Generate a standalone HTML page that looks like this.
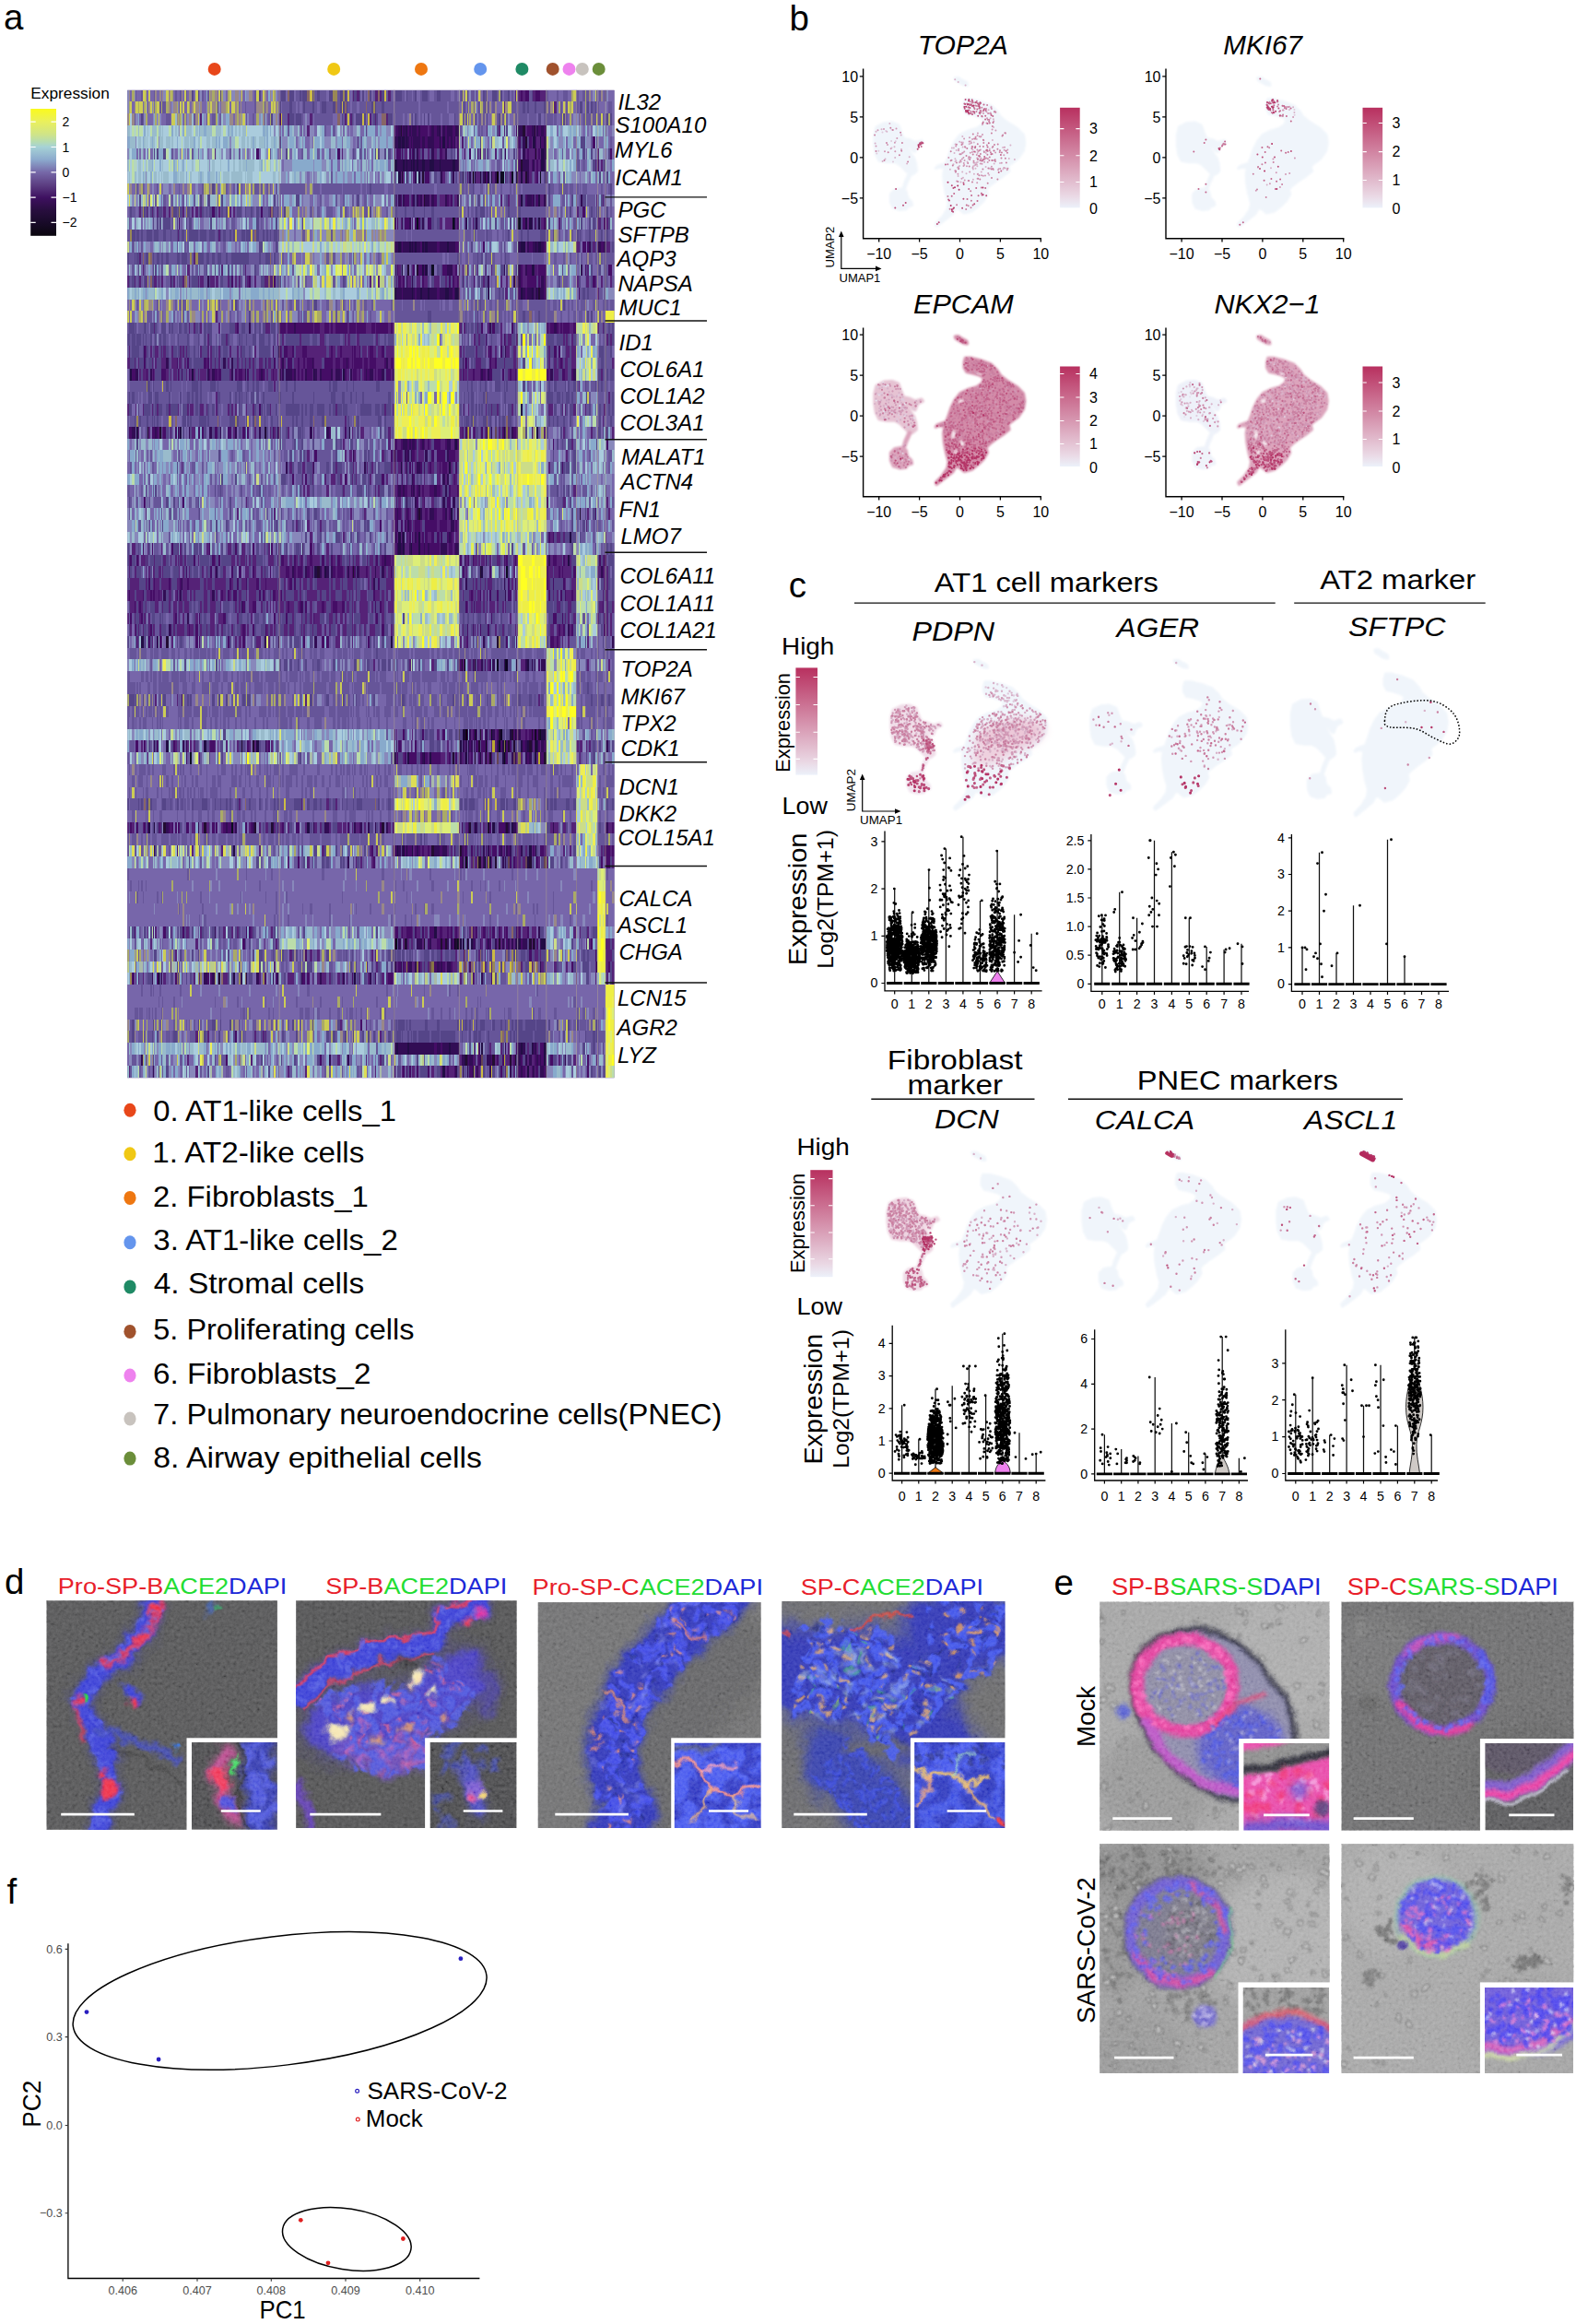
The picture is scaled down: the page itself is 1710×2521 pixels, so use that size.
<!DOCTYPE html>
<html lang="en"><head><meta charset="utf-8"><title>Figure</title>
<style>
html,body{margin:0;padding:0;background:#fff}
body{width:1710px;height:2521px;overflow:hidden}
svg{display:block;font-family:'Liberation Sans', Arial, sans-serif}
</style></head><body>
<svg width="1710" height="2521" viewBox="0 0 1710 2521">
<rect width="1710" height="2521" fill="#fff"/>
<g id="panel_a">
<text x="4" y="31.7" font-size="38.5">a</text>
<circle cx="232.7" cy="74.9" r="7" fill="#e8471a"/>
<circle cx="362.2" cy="74.9" r="7" fill="#f0c814"/>
<circle cx="457" cy="74.9" r="7" fill="#ee7711"/>
<circle cx="521.2" cy="74.9" r="7" fill="#6495ed"/>
<circle cx="566.4" cy="74.9" r="7" fill="#1f8a65"/>
<circle cx="599.7" cy="74.9" r="7" fill="#a0522d"/>
<circle cx="617.5" cy="74.9" r="7" fill="#ee82ee"/>
<circle cx="631.8" cy="74.9" r="7" fill="#c8c3be"/>
<circle cx="649.7" cy="74.9" r="7" fill="#6b8e3a"/>
<text x="33.3" y="106.9" font-size="17.3">Expression</text>
<defs><linearGradient id="hg" x1="0" y1="0" x2="0" y2="1">
<stop offset="0.000" stop-color="#fafa1c"/>
<stop offset="0.100" stop-color="#eaf05c"/>
<stop offset="0.200" stop-color="#d0e487"/>
<stop offset="0.260" stop-color="#b6dcb2"/>
<stop offset="0.300" stop-color="#a6d2d6"/>
<stop offset="0.400" stop-color="#8caacd"/>
<stop offset="0.500" stop-color="#7668a8"/>
<stop offset="0.600" stop-color="#5c3e82"/>
<stop offset="0.700" stop-color="#3e1060"/>
<stop offset="0.800" stop-color="#280e3e"/>
<stop offset="0.900" stop-color="#180a28"/>
<stop offset="1.000" stop-color="#0a060e"/>
</linearGradient></defs>
<rect x="33.2" y="118" width="27.8" height="137.8" fill="url(#hg)"/>
<path d="M33.2 132.2h5.5M55.5 132.2h5.5" stroke="#fff" stroke-width="1.2"/>
<text x="67.6" y="137.2" font-size="14">2</text>
<path d="M33.2 159.5h5.5M55.5 159.5h5.5" stroke="#fff" stroke-width="1.2"/>
<text x="67.6" y="164.5" font-size="14">1</text>
<path d="M33.2 186.8h5.5M55.5 186.8h5.5" stroke="#fff" stroke-width="1.2"/>
<text x="67.6" y="191.8" font-size="14">0</text>
<path d="M33.2 214.1h5.5M55.5 214.1h5.5" stroke="#fff" stroke-width="1.2"/>
<text x="67.6" y="219.1" font-size="14">−1</text>
<path d="M33.2 241.4h5.5M55.5 241.4h5.5" stroke="#fff" stroke-width="1.2"/>
<text x="67.6" y="246.4" font-size="14">−2</text>
<defs><filter id="hb" filterUnits="userSpaceOnUse" x="120" y="80" width="570" height="1110"><feGaussianBlur stdDeviation="0.6 0.3"/></filter><clipPath id="hc"><rect x="138.2" y="97.7" width="528.3" height="1071.6"/></clipPath></defs><g clip-path="url(#hc)"><rect x="130" y="90" width="545" height="1088" fill="#5d4a8e"/><g filter="url(#hb)"><g shape-rendering="crispEdges" fill="none" stroke-width="12.6"><path stroke="#76a" d="M138 104h165m290 0h32m32 0h10M648 116.6h19M138 129.2h165M303 141.8h125m197 0h23M648 154.4h19M657 167h10M648 192.2h19M138 204.8h165m195 0h64m63 0h42M303 230h125m165 0h32m23 0h19M138 242.6h165m354 0h10M593 255.2h32M303 280.4h125m165 0h32M625 293h23M498 305.6h64m31 0h32m23 0h9M138 330.8h290M138 343.4h290m197 0h32M625 444.2h23M303 469.4h125m165 0h55M625 507.2h23m9 0h10M138 532.4h165m354 0h10M593 545h32m32 0h10M625 557.6h23m9 0h10M593 570.2h32m32 0h10M657 582.8h10M303 595.4h125m165 0h32M138 696.2h290m220 0h9M625 708.8h23M657 721.4h10M562 734h31M498 746.6h64m86 0h19M138 759.2h290M138 784.4h455m55 0h9M428 809.6h70m150 0h9M625 822.2h42M138 834.8h424m31 0h32m23 0h19M138 847.4h290m70 0h95m55 0h9M138 860h487m32 0h10M138 885.2h487m23 0h19M593 923h32M303 935.6h125m220 0h9M138 948.2h510m9 0h10M138 960.8h510m9 0h10M138 973.4h510m9 0h10M138 986h510m9 0h10M138 998.6h510m9 0h10M138 1036.4h165m195 0h64M303 1049h125m165 0h32M138 1061.6h165M138 1074.2h519M138 1086.8h519M138 1099.4h487m23 0h9M138 1112h290m165 0h32M303 1124.6h125m197 0h23M648 1137.2h9M138 1149.8h165m322 0h23M138 1162.4h165"/><path stroke="#548" d="M303 104h125M625 116.6h23M657 129.2h10M625 154.4h23M138 230h165M625 242.6h23M138 255.2h165M657 267.8h10M138 356h165m195 0h64M303 368.6h125m70 0h64m31 0h32m32 0h10M138 381.2h165m195 0h64m86 0h9M138 393.8h165m195 0h64M648 406.4h19M593 431.6h32m32 0h10M138 444.2h290m70 0h64m31 0h32M498 456.8h64M648 469.4h9M303 507.2h125m165 0h32M428 545h70M593 582.8h32M138 595.4h165m354 0h10M138 608h165m345 0h19M138 620.6h165m354 0h10M498 633.2h64m31 0h32m32 0h10M498 645.8h64M498 658.4h64m31 0h32m32 0h10M303 671h125m165 0h32M138 683.6h290m70 0h64M498 696.2h64M303 721.4h259M428 797h134M657 809.6h10M498 897.8h64M138 1011.2h165M428 1036.4h70m64 0h31M562 1112h31M428 1124.6h70m64 0h31M593 1149.8h32M428 1162.4h134m86 0h9"/><path stroke="#659" d="M428 104h134m63 0h32M303 116.6h290M303 129.2h354M625 179.6h23M428 192.2h70M303 204.8h195m64 0h63M498 217.4h64m63 0h32M428 230h165m32 0h23M498 242.6h64M428 255.2h165m32 0h42M138 280.4h165m125 0h165m32 0h42M498 293h64m86 0h9M657 305.6h10M498 318.2h64m63 0h32M428 330.8h239M428 343.4h197M648 356h19M138 368.6h165m345 0h9M657 381.2h10M648 393.8h19M138 419h290m70 0h64m31 0h74M138 431.6h290m70 0h64m86 0h9M648 444.2h19M138 456.8h290m165 0h32m23 0h19M303 482h125m165 0h32M303 494.6h125M303 519.8h195m95 0h32M303 532.4h125m165 0h55M303 570.2h125m197 0h32M648 595.4h9M498 620.6h64M648 645.8h19M138 671h165m195 0h64m95 0h10M648 683.6h19M593 696.2h32m32 0h10M138 708.8h455m55 0h19M138 734h424m63 0h42M138 746.6h360m64 0h31m32 0h23M428 759.2h165m32 0h42M138 771.8h455m32 0h42M625 784.4h23m9 0h10M562 834.8h31M593 847.4h32m32 0h10M648 860h9M138 872.6h290m70 0h64m31 0h32m32 0h10M648 897.8h9M138 910.4h487m23 0h19M625 1011.2h23M303 1036.4h125m197 0h23M625 1049h23M498 1061.6h64M625 1099.4h23M428 1112h134m63 0h23M138 1124.6h165m195 0h64m31 0h32m23 0h9"/><path stroke="#527" d="M562 104h31M562 167h31M498 192.2h95M648 242.6h9M138 305.6h165m125 0h70m127 0h23M303 381.2h125m165 0h32M593 393.8h32M138 406.4h165m195 0h64m31 0h32M498 469.4h64m95 0h10M428 507.2h70M428 532.4h70M428 557.6h70M303 608h125m70 0h64m31 0h32M303 620.6h125m165 0h32m23 0h9M138 633.2h290m220 0h9M138 645.8h290m165 0h32M138 658.4h290m220 0h9M648 671h9M593 683.6h32M138 809.6h165m322 0h23M303 897.8h125m165 0h32m32 0h10M562 923h31m55 0h9M498 935.6h95m64 0h10M562 1011.2h31M657 1023.8h10M657 1036.4h10M428 1049h70m159 0h10M303 1061.6h125m229 0h10"/><path stroke="#988" d="M138 116.6h165M562 872.6h31"/><path stroke="#cc5" d="M593 116.6h32M562 1061.6h31"/><path stroke="#acd" d="M138 141.8h165m290 0h32M138 179.6h165m290 0h32M138 192.2h165M593 267.8h32M303 318.2h125M625 393.8h23M648 494.6h9M562 545h31M498 582.8h64m86 0h9M562 595.4h31M625 645.8h23M428 696.2h70M593 746.6h32M428 1061.6h70"/><path stroke="#315" d="M428 141.8h70m64 0h31M428 154.4h70M428 179.6h70m64 0h31M428 217.4h70m64 0h31M428 267.8h70m64 0h31m55 0h9M428 318.2h70m64 0h31M562 721.4h31M562 822.2h31M428 1023.8h134M428 1137.2h70m64 0h31M498 1149.8h95"/><path stroke="#8ac" d="M498 141.8h64M303 154.4h125m70 0h64m31 0h32M498 167h64M303 179.6h125M593 192.2h32M593 217.4h32M138 267.8h165M593 293h32M593 318.2h32M625 381.2h23M625 482h23M625 494.6h23M303 545h125m197 0h23M593 557.6h32M625 595.4h23M625 696.2h23M138 721.4h165M303 797h125m220 0h19M303 809.6h125M428 847.4h70M303 923h125m197 0h23M593 1011.2h32m32 0h10M593 1023.8h55M303 1149.8h195"/><path stroke="#9bc" d="M648 141.8h9M138 154.4h165M648 167h9M303 242.6h125m165 0h32M303 293h125M138 318.2h165M562 356h31M562 419h31M562 444.2h31M648 482h9M657 494.6h10M648 507.2h9M648 532.4h9M648 545h9M562 582.8h31M428 671h70M648 721.4h9M138 797h165M648 872.6h9M428 935.6h70m127 0h23M303 1023.8h125M138 1137.2h290m165 0h32M648 1149.8h9"/><path stroke="#88b" d="M657 141.8h10M138 167h290m165 0h55M498 179.6h64m95 0h10M303 192.2h125m197 0h23M138 217.4h290m229 0h10M303 255.2h125M498 267.8h64M138 293h165M657 318.2h10M625 368.6h23M562 393.8h31M625 431.6h23M138 482h165m354 0h10M138 494.6h165m290 0h32M138 507.2h165M138 519.8h165m322 0h42M138 545h165M138 557.6h290m220 0h9M138 570.2h165M138 582.8h290m197 0h23M625 721.4h23M625 797h23M138 822.2h290M138 935.6h165m290 0h32M303 1011.2h125M138 1023.8h165M593 1036.4h32M138 1049h165M593 1061.6h55M648 1112h9M498 1137.2h64m63 0h23M303 1162.4h125m165 0h55"/><path stroke="#416" d="M562 154.4h31M428 167h70M648 179.6h9M428 242.6h70M625 267.8h23M428 293h70m64 0h31m64 0h10M562 305.6h31M303 356h125m165 0h32M303 393.8h125M303 406.4h125M138 469.4h165M428 482h70M428 494.6h70M428 570.2h70M428 582.8h70M428 595.4h70M562 797h31M498 809.6h64M428 822.2h134M138 897.8h165M428 923h134m95 0h10M428 1011.2h134M562 1162.4h31"/><path stroke="#214" d="M562 242.6h31M562 809.6h31M562 1023.8h31"/><path stroke="#bda" d="M303 267.8h125M625 356h23M562 381.2h31M625 406.4h23M428 419h70M625 456.8h23M562 532.4h31M498 545h64M498 557.6h64M625 608h23M428 620.6h70m127 0h23M625 633.2h23M625 658.4h23M625 671h23M625 683.6h23M562 696.2h31M593 708.8h32M593 734h32M593 809.6h32M648 1061.6h9"/><path stroke="#bc8" d="M303 305.6h125"/><path stroke="#ee4" d="M657 343.4h10M562 519.8h31M562 608h31M562 633.2h31M562 645.8h31M562 658.4h31M625 847.4h23M648 973.4h9M648 1023.8h9M648 1036.4h9M648 1049h9M657 1074.2h10M657 1086.8h10M657 1112h10M657 1124.6h10M657 1149.8h10"/><path stroke="#de7" d="M428 356h70M428 406.4h70M428 469.4h70M562 482h31M498 519.8h64M498 532.4h64M498 570.2h95M428 633.2h70M428 658.4h70M562 671h31M562 683.6h31M593 784.4h32M625 885.2h23M428 897.8h70M648 960.8h9"/><path stroke="#cd8" d="M428 368.6h70M562 431.6h31M428 444.2h70M562 456.8h31M498 482h64M498 494.6h64M498 507.2h95M562 557.6h31M428 608h70M428 645.8h70M428 683.6h70M593 721.4h32M593 759.2h32M593 797h32M593 822.2h32M625 834.8h23M625 872.6h23M625 897.8h23M648 948.2h9M648 998.6h9"/><path stroke="#ff2" d="M562 368.6h31M428 393.8h70M562 406.4h31M428 431.6h70M562 620.6h31M593 771.8h32"/><path stroke="#ee5" d="M428 381.2h70M428 456.8h70M562 494.6h31M625 860h23M428 872.6h70M625 910.4h23M648 986h9M648 1011.2h9M657 1099.4h10M657 1137.2h10M657 1162.4h10"/><path stroke="#aa6" d="M562 469.4h31"/><path stroke="#de5" d="M498 595.4h64"/><path stroke="#dd5" d="M562 897.8h31M138 923h165"/><path stroke="#cb4" d="M498 1049h64"/><path stroke="#866" d="M562 1049h31"/><path stroke="#88b" d="M138 104h2m6 0h1m30 0h3m37 0h2m23 0h3m6 0h4m4 0h2m6 0h3m24 0h2m3 0h2m197 0h1m10 0h2m4 0h1m127 0h3m12 0h2M138 116.6h2m19 0h1m5 0h1m20 0h2m5 0h1m22 0h1m7 0h1m12 0h2m277 0h2m139 0h1M147 129.2h3m6 0h2m8 0h1m3 0h2m1 0h2m28 0h2m11 0h1m4 0h3m18 0h3m17 0h1m3 0h1m1 0h2m11 0h2m13 0h3m2 0h1m29 0h2m185 0h1m32 0h2m69 0h3m1 0h2M194 141.8h1m102 0h2m20 0h4m8 0h2m3 0h5m23 0h2m3 0h2m5 0h1m2 0h1m3 0h4m11 0h1m13 0h2m5 0h5m83 0h1m26 0h3m18 0h2m2 0h1m48 0h2m18 0h1m1 0h2m7 0h2M147 154.4h1m24 0h1m76 0h2m55 0h6m11 0h2m3 0h1m7 0h3m13 0h7m5 0h2m14 0h3m3 0h1m11 0h5m4 0h1m2 0h2m7 0h2m5 0h1m72 0h2m12 0h1m12 0h3m22 0h2m6 0h2m36 0h3m6 0h5m25 0h5m7 0h2m7 0h1M442 167h2m50 0h2m9 0h2m24 0h2m20 0h4m2 0h1m94 0h3m1 0h2M227 179.6h1m77 0h1m2 0h9m23 0h1m8 0h5m17 0h1m15 0h3m7 0h1m1 0h2m194 0h2m7 0h2m23 0h1m11 0h2M158 192.2h1m288 0h1m20 0h3m32 0h1m53 0h2m45 0h2m14 0h5M140 204.8h1m17 0h1m6 0h2m5 0h1m4 0h6m3 0h2m24 0h3m40 0h2m40 0h2m3 0h1m223 0h1M501 217.4h3m12 0h2m3 0h1m5 0h1m17 0h2m46 0h2m41 0h1m9 0h1M333 230h3m5 0h3m8 0h2m10 0h2m5 0h1m7 0h1m10 0h1m12 0h2m16 0h3m3 0h1m172 0h1m5 0h2m3 0h2m9 0h3m12 0h2m15 0h1M147 242.6h1m8 0h2m2 0h1m4 0h1m1 0h3m2 0h1m3 0h1m13 0h2m1 0h1m4 0h2m15 0h1m5 0h6m10 0h2m1 0h2m7 0h2m6 0h4m30 0h2m9 0h1m9 0h2m13 0h1m11 0h1m42 0h1m65 0h2m51 0h1m26 0h1m12 0h2m61 0h2m5 0h2m7 0h2m10 0h3m1 0h1m4 0h2m4 0h1M611 255.2h2M140 267.8h1m10 0h2m2 0h1m2 0h5m3 0h1m6 0h2m1 0h1m3 0h3m14 0h1m26 0h1m12 0h2m6 0h2m4 0h4m2 0h2m7 0h1m11 0h3m10 0h2m1 0h2M303 280.4h2m22 0h1m11 0h1m1 0h6m2 0h3m12 0h5m5 0h2m1 0h2m8 0h3m7 0h1m5 0h2m2 0h1m16 0h2m98 0h2m67 0h2m21 0h2m11 0h1M305 293h1m4 0h2m47 0h2m10 0h1m8 0h2m4 0h1m8 0h2m11 0h2m9 0h5m13 0h2m11 0h2m44 0h2m26 0h2m3 0h4m15 0h1m48 0h3m52 0h3M263 305.6h3m40 0h2m2 0h2m2 0h3m2 0h2m7 0h1m18 0h2m37 0h1m12 0h2m16 0h2m89 0h1m7 0h2m3 0h1m73 0h2m3 0h4m16 0h2m3 0h1M158 318.2h1m21 0h3m12 0h2m5 0h1m21 0h1m24 0h2m78 0h2m170 0h1m16 0h1m5 0h2m8 0h3m10 0h1m12 0h1m64 0h1m28 0h1M147 330.8h1m5 0h2m11 0h1m8 0h1m16 0h1m12 0h1m9 0h1m3 0h2m28 0h2m8 0h3m1 0h3m17 0h2m11 0h1m5 0h4m2 0h2m15 0h2m20 0h2m12 0h3m12 0h1m5 0h1m3 0h1m20 0h1m94 0h1m5 0h1m44 0h2m82 0h2M146 343.4h1m1 0h2m15 0h1m17 0h3m4 0h2m2 0h1m7 0h1m2 0h1m6 0h5m10 0h3m15 0h2m8 0h2m5 0h4m25 0h2m13 0h4m7 0h6m17 0h1m13 0h3m12 0h2m3 0h2m4 0h2m2 0h2m22 0h4m2 0h3m10 0h1m218 0h1M239 356h1m262 0h1m24 0h1m21 0h2m2 0h2m17 0h2m7 0h1m10 0h1M170 368.6h2m64 0h1m241 0h2m19 0h2m8 0h2m59 0h2m8 0h1m3 0h2m62 0h2M274 381.2h2m252 0h1m12 0h2m22 0h2m41 0h2M432 419h3m149 0h2m4 0h3m36 0h1m9 0h2M276 431.6h2m154 0h3m42 0h1m16 0h2m96 0h1M148 444.2h2m47 0h1m59 0h2m4 0h3m318 0h3m5 0h1m18 0h2m13 0h2M562 456.8h3m76 0h2M151 469.4h2m35 0h2m7 0h1m42 0h2m3 0h2m25 0h2m31 0h1m13 0h4m16 0h1m40 0h2m4 0h1m3 0h1m12 0h2m3 0h2m4 0h3m81 0h1m12 0h2m73 0h1m13 0h4m2 0h2m10 0h2m5 0h1m9 0h2m10 0h1M329 482h4m3 0h3m2 0h6m29 0h1m14 0h4m4 0h2m6 0h1m4 0h2m10 0h2m90 0h2m43 0h1m31 0h2m2 0h3m30 0h2M312 494.6h2m9 0h2m14 0h1m19 0h2m10 0h1m15 0h3m3 0h2m231 0h2m8 0h1m6 0h3m1 0h3m5 0h2M305 507.2h1m38 0h3m12 0h2m13 0h2m1 0h2m8 0h3m18 0h2m183 0h2m33 0h1m8 0h2m9 0h2m14 0h3M303 519.8h2m36 0h3m28 0h2m3 0h3m11 0h2m12 0h2m17 0h2m167 0h2m18 0h5M148 532.4h3m4 0h1m14 0h2m1 0h2m13 0h2m2 0h1m4 0h1m7 0h5m5 0h2m10 0h1m17 0h2m4 0h2m2 0h4m7 0h2m29 0h2m3 0h3m5 0h2m7 0h2m36 0h2m58 0h4m174 0h2m16 0h1m4 0h2m10 0h2m7 0h2m2 0h3m8 0h1m7 0h2M319 545h2m23 0h3m12 0h2m10 0h1m4 0h1m3 0h4m3 0h3m3 0h2m8 0h2m2 0h1m2 0h2m9 0h3m53 0h1m21 0h2m25 0h1m1 0h1m20 0h2m49 0h1m28 0h1m16 0h1m5 0h2M505 557.6h2m94 0h3m10 0h2m2 0h2m21 0h2M303 570.2h2m22 0h1m1 0h2m8 0h1m1 0h3m10 0h3m12 0h2m8 0h1m3 0h1m7 0h4m10 0h2m7 0h3m4 0h3m3 0h1m165 0h4m16 0h1m2 0h2m10 0h1m6 0h1m10 0h1m15 0h2M524 582.8h2m52 0h3m73 0h1m9 0h3M141 595.4h2m13 0h2m1 0h1m3 0h2m1 0h1m16 0h2m17 0h3m29 0h2m6 0h3m14 0h2m11 0h2m27 0h1m3 0h1m6 0h2m3 0h2m12 0h5m38 0h2m23 0h4m5 0h2m9 0h7m1 0h1m91 0h3m56 0h2m2 0h2m13 0h4m3 0h4m2 0h1m2 0h1m11 0h3m22 0h2M165 620.6h1m91 0h2m3 0h1m245 0h1m7 0h2m27 0h2M650 633.2h2M159 671h1m73 0h1m294 0h1m99 0h1M630 683.6h2M140 696.2h1m2 0h3m20 0h1m9 0h1m6 0h2m17 0h3m1 0h4m5 0h1m12 0h2m21 0h2m14 0h1m6 0h2m18 0h2m1 0h2m4 0h2m7 0h2m3 0h2m12 0h2m7 0h1m35 0h1m3 0h2m5 0h3m41 0h1m5 0h2m9 0h2m27 0h1m5 0h2m16 0h2m8 0h2m21 0h5m100 0h2m6 0h1M622 708.8h3M138 721.4h2m21 0h2m2 0h1m9 0h1m34 0h2m5 0h2m23 0h3m27 0h6m34 0h2m14 0h1m23 0h2m3 0h2m10 0h2m1 0h2m3 0h3m17 0h1m26 0h2m9 0h1m3 0h3m10 0h2m29 0h2m6 0h2m44 0h2m20 0h1m2 0h3m16 0h3m8 0h1m8 0h3m50 0h1M647 746.6h1M158 759.2h1m11 0h2m14 0h2m61 0h2m21 0h2m4 0h5m38 0h2m21 0h5m35 0h2m21 0h3m17 0h1m109 0h2M143 797h3m15 0h2m3 0h1m13 0h3m7 0h2m2 0h1m15 0h2m5 0h2m18 0h2m14 0h2m17 0h2m45 0h2m8 0h2m2 0h6m1 0h1m8 0h3m2 0h3m7 0h2m11 0h2m4 0h1m9 0h2m3 0h1m8 0h1m16 0h4m18 0h1m1 0h2m68 0h1m5 0h2m129 0h3M165 809.6h1m10 0h1m39 0h1m17 0h2m15 0h2m2 0h2m49 0h2m9 0h2m25 0h5m22 0h1m15 0h3m18 0h4m15 0h1m8 0h3m5 0h2m2 0h2m28 0h2m13 0h1m138 0h4m26 0h2M625 822.2h1m24 0h2m5 0h3M458 847.4h2m11 0h3m4 0h5m4 0h2M374 860h2m56 0h3m1 0h1m29 0h5m6 0h1m9 0h2m5 0h2m129 0h1M572 872.6h2m8 0h2m2 0h1m67 0h1M430 885.2h1m11 0h2m4 0h2m35 0h2m7 0h2m66 0h3m13 0h2M146 897.8h1m29 0h1m15 0h1m43 0h1m41 0h3m29 0h2m7 0h2m4 0h2m260 0h5m16 0h2M158 923h1m2 0h2m22 0h1m8 0h1m5 0h2m3 0h1m4 0h2m5 0h2m18 0h2m39 0h3m4 0h2m12 0h3m4 0h2m13 0h2m61 0h2m11 0h1m14 0h2m10 0h2m178 0h4m39 0h1M317 935.6h2m25 0h5m15 0h5m10 0h4m25 0h2m9 0h2m3 0h2m2 0h1m18 0h1m91 0h2m45 0h1M234 948.2h2m52 0h1m85 0h2m59 0h1m8 0h3m46 0h1m11 0h2m17 0h2m44 0h2m10 0h2m38 0h3M208 960.8h2m18 0h2m7 0h2m27 0h1m39 0h2m9 0h2m53 0h2m12 0h1m65 0h2m31 0h2m42 0h2m16 0h1m11 0h1m48 0h2M140 973.4h1m51 0h1m34 0h1m34 0h1m45 0h2m136 0h1m125 0h2m69 0h3M167 986h1m66 0h2m13 0h2m6 0h2m11 0h2m34 0h2m4 0h2m69 0h1m165 0h2m88 0h2M202 998.6h1m2 0h1m13 0h2m53 0h2m30 0h2m23 0h2m6 0h1m19 0h2m19 0h2m39 0h3m4 0h1m25 0h2m15 0h6m10 0h2m7 0h2m6 0h1m19 0h2m13 0h2m54 0h2m3 0h1m7 0h3m11 0h3m7 0h3M155 1011.2h1m17 0h3m14 0h2m2 0h1m17 0h3m21 0h1m16 0h2m23 0h3m2 0h2m17 0h1m301 0h2m19 0h3m32 0h2m2 0h3M329 1023.8h4m11 0h3m2 0h3m56 0h2m26 0h1m72 0h2m89 0h1m3 0h4m27 0h1M140 1036.4h1m6 0h1m5 0h2m3 0h2m1 0h2m3 0h1m3 0h3m7 0h3m10 0h2m7 0h1m3 0h2m2 0h2m7 0h2m7 0h2m4 0h2m15 0h2m4 0h2m8 0h1m4 0h2m53 0h1m51 0h1m4 0h2m5 0h2m6 0h2m11 0h2m3 0h2m33 0h2m55 0h2m4 0h1m29 0h3m81 0h1M314 1049h3m22 0h1m4 0h3m5 0h2m15 0h3m5 0h2m20 0h4m18 0h3m3 0h1m79 0h1m10 0h1m18 0h4m8 0h4m4 0h2m21 0h1m19 0h1m10 0h2m17 0h2M146 1061.6h1m19 0h2m59 0h1m11 0h1m49 0h2m6 0h2m42 0h3m47 0h2m15 0h2m17 0h1m7 0h1m11 0h3m10 0h1m37 0h1m9 0h1m9 0h1m40 0h1m7 0h3m12 0h2m76 0h2M217 1074.2h2m18 0h2m31 0h2m27 0h2m22 0h2m101 0h1m4 0h1m53 0h2m94 0h1M197 1086.8h1m47 0h2m15 0h1m33 0h1m133 0h1m21 0h2m120 0h3m39 0h2m2 0h2m8 0h2M228 1099.4h2m111 0h3m120 0h2m27 0h1m143 0h2M140 1112h1m5 0h2m29 0h3m17 0h1m10 0h2m9 0h2m40 0h1m8 0h4m34 0h2m21 0h2m11 0h5m12 0h3m8 0h2m19 0h4m8 0h2m3 0h4m7 0h3m177 0h3m4 0h2M159 1124.6h1m35 0h2m3 0h2m47 0h2m6 0h2m34 0h1m9 0h2m5 0h4m14 0h1m18 0h2m3 0h2m25 0h1m6 0h1m8 0h2m203 0h1m7 0h2m3 0h1m4 0h2M141 1137.2h2m13 0h2m9 0h1m2 0h2m26 0h2m5 0h1m19 0h2m12 0h3m46 0h1m4 0h1m5 0h2m9 0h2m5 0h2m38 0h2m12 0h1m8 0h2m4 0h1m39 0h1m177 0h2m4 0h1m2 0h1m8 0h3m27 0h2M140 1149.8h3m5 0h2m10 0h1m2 0h2m23 0h4m10 0h1m13 0h1m10 0h1m25 0h2m2 0h2m32 0h2m4 0h2m3 0h1m3 0h2m2 0h2m2 0h3m8 0h4m12 0h3m43 0h4m10 0h2m23 0h1m2 0h1m5 0h2m4 0h1m2 0h2m4 0h2m19 0h3m15 0h2m5 0h2m116 0h2m4 0h2m19 0h2m3 0h1m7 0h1M159 1162.4h2m7 0h2m13 0h3m7 0h2m11 0h6m7 0h2m41 0h1m13 0h2m18 0h1m2 0h2m129 0h1m108 0h2m111 0h2"/><path stroke="#988" d="M140 104h1m27 0h2m3 0h2m1 0h1m6 0h2m12 0h1m7 0h3m20 0h2m3 0h3m19 0h4m2 0h1m8 0h4m13 0h2m4 0h1m210 0h1m16 0h1m6 0h1m110 0h2m11 0h2M527 116.6h2m2 0h2m4 0h2m9 0h3m42 0h2m2 0h3m13 0h1M138 129.2h2m3 0h3m46 0h1m1 0h1m10 0h3m4 0h3m34 0h4m2 0h2m2 0h2m24 0h2m12 0h2m143 0h2m52 0h1m14 0h1m8 0h2m2 0h1m6 0h1m3 0h2m4 0h2m12 0h2m54 0h1m15 0h1m11 0h2M141 204.8h2m8 0h2m8 0h2m25 0h2m8 0h2m3 0h3m22 0h2m19 0h2m16 0h3m11 0h2m8 0h2m38 0h2m175 0h1m28 0h2M515 217.4h1m45 0h1M328 230h1m2 0h2m6 0h1m42 0h1m1 0h2m5 0h2m12 0h2m5 0h2m129 0h2m16 0h1m33 0h2m4 0h3m46 0h2M306 255.2h2m19 0h1m3 0h2m36 0h2m3 0h2m11 0h6m10 0h2m2 0h1m2 0h2m2 0h3m10 0h1m176 0h2M336 280.4h3m13 0h2m3 0h2m17 0h1m9 0h1m18 0h2m101 0h1m105 0h2m21 0h2M504 293h1m10 0h1M140 330.8h1m5 0h1m14 0h4m15 0h3m3 0h2m18 0h2m28 0h1m2 0h1m7 0h2m25 0h2m9 0h2m4 0h2m17 0h2m45 0h4m8 0h2m19 0h1m2 0h2m53 0h2m48 0h3m13 0h1m24 0h2m10 0h2m7 0h1m11 0h2m61 0h1M150 343.4h1m5 0h2m15 0h2m33 0h4m21 0h1m13 0h2m23 0h2m11 0h2m6 0h1m77 0h1m19 0h2m28 0h3m75 0h3m31 0h4m64 0h3m48 0h2M578 469.4h2M151 708.8h2m174 0h1m176 0h1m21 0h1M272 734h2m66 0h1m288 0h1M186 746.6h2m207 0h2m50 0h1m80 0h1m4 0h1m13 0h1m81 0h1M151 759.2h2m3 0h2m7 0h1m46 0h3m4 0h2m6 0h1m19 0h2m25 0h2m13 0h2m17 0h2m29 0h1m24 0h2m32 0h1m36 0h1m57 0h1m53 0h1m1 0h2M155 771.8h1m12 0h2m28 0h2m133 0h3m141 0h1m7 0h2m2 0h2m76 0h3m87 0h1M352 784.4h2m98 0h2m6 0h1m104 0h2m74 0h2M143 834.8h3m69 0h1m60 0h2m216 0h2M147 847.4h1m15 0h2M431 860h1m12 0h2m10 0h2m146 0h2M242 885.2h3m76 0h2m29 0h2m74 0h1m2 0h1m5 0h4m11 0h2m7 0h3m10 0h4m77 0h2m3 0h1M140 910.4h1m7 0h2m66 0h1m64 0h2m19 0h1m109 0h2m36 0h2m105 0h2m52 0h2m5 0h2M357 923h2m10 0h2m20 0h2m5 0h1m28 0h1M205 948.2h1m235 0h1M414 960.8h3m245 0h2M428 973.4h1m49 0h2m16 0h2m29 0h1m136 0h3M193 986h1m4 0h2m74 0h2m104 0h2m32 0h3m30 0h1m109 0h2m3 0h3M198 998.6h2m252 0h2m48 0h1m98 0h3M156 1036.4h2m25 0h2m31 0h1m84 0h1m17 0h2m8 0h2m30 0h3m60 0h2m175 0h3M349 1049h3m24 0h1M560 1061.6h1m25 0h1M466 1074.2h2m59 0h1M242 1086.8h3m94 0h1m110 0h2M176 1099.4h1m16 0h1m205 0h2m114 0h1m130 0h1M138 1112h2m40 0h3m11 0h1m11 0h2m47 0h4m8 0h1m10 0h3m10 0h3m2 0h1m8 0h1m22 0h1m35 0h2m18 0h2m28 0h3m189 0h2m31 0h2M146 1124.6h1m26 0h2m19 0h1m7 0h1m30 0h1m8 0h3m56 0h1m21 0h2m14 0h1m29 0h3m10 0h1m18 0h2m14 0h2m176 0h2m23 0h2M159 1149.8h1m5 0h1"/><path stroke="#aa6" d="M143 104h3m12 0h1m27 0h2m39 0h1m2 0h3m7 0h2m5 0h2m48 0h2m242 0h2m77 0h2m13 0h1M140 116.6h1m9 0h1m5 0h2m8 0h1m1 0h2m5 0h1m4 0h3m9 0h1m12 0h1m19 0h2m7 0h2m9 0h2m10 0h2m26 0h2m9 0h1m4 0h1m206 0h1m2 0h3m8 0h2m82 0h2m10 0h2m15 0h1M158 129.2h2m8 0h2m23 0h1m1 0h2m3 0h2m25 0h1m6 0h2m21 0h2m2 0h1m16 0h3m12 0h1m210 0h1m4 0h2m36 0h1m70 0h2m15 0h1m24 0h2M147 204.8h1m5 0h2m66 0h3m1 0h2m7 0h2m6 0h3m29 0h2m9 0h2m49 0h3m160 0h2m28 0h2m29 0h1M310 230h4m9 0h2m62 0h3m18 0h2m14 0h2m121 0h1M312 255.2h2m26 0h1m13 0h5m2 0h3m13 0h2m18 0h1m14 0h2m3 0h2m84 0h1m10 0h1m86 0h3M317 280.4h2m40 0h2m8 0h2m13 0h2m28 0h3m10 0h1m222 0h2M505 293h2m30 0h2m12 0h2M610 305.6h1M156 330.8h2m1 0h1m5 0h1m19 0h1m17 0h2m23 0h2m36 0h1m3 0h2m17 0h2m3 0h2m32 0h1m10 0h1m47 0h3m15 0h2m19 0h2m76 0h1m13 0h1m30 0h2M151 343.4h2m22 0h1m4 0h3m23 0h2m11 0h2m19 0h2m24 0h1m7 0h2m2 0h3m6 0h1m1 0h2m8 0h2m1 0h1m11 0h3m16 0h3m3 0h1m4 0h5m12 0h3m2 0h3m18 0h3m3 0h2m129 0h2m5 0h2m6 0h2M278 708.8h3M387 721.4h3M382 734h1M227 746.6h1m39 0h1m72 0h1m23 0h2m64 0h1m76 0h2M138 759.2h2m8 0h2m11 0h2m35 0h2m36 0h1m30 0h1m26 0h2m1 0h2m3 0h3m71 0h1m77 0h2m10 0h2m9 0h1m23 0h1m31 0h4M255 771.8h2m180 0h2m79 0h3M321 784.4h2M466 834.8h2M193 847.4h1M255 860h2m126 0h1m74 0h2m1 0h3m10 0h3m6 0h2M562 872.6h3m9 0h3M239 885.2h3m9 0h2m197 0h2m28 0h5m36 0h1m39 0h1m24 0h1M159 910.4h1m64 0h1m38 0h3m111 0h2m57 0h1m40 0h1m29 0h1m14 0h2m35 0h1m32 0h1m8 0h3m2 0h2m52 0h2M319 923h2m66 0h3m20 0h2M257 948.2h2M186 960.8h2m39 0h1m169 0h1M176 973.4h1m20 0h1m4 0h1m207 0h2m210 0h3M251 986h2m208 0h3m32 0h2m33 0h2M567 998.6h3M138 1036.4h2m6 0h1m4 0h2m7 0h1m25 0h2m12 0h2m51 0h4m42 0h2m48 0h3M327 1049h1m51 0h1m4 0h2M503 1061.6h2m6 0h2m26 0h2m12 0h2m32 0h3M366 1086.8h3m14 0h1m121 0h2M186 1099.4h2m2 0h2m76 0h2m101 0h1m159 0h2m95 0h1m6 0h1M148 1112h2m9 0h1m7 0h1m2 0h2m18 0h2m42 0h2m15 0h2m48 0h1m17 0h2m15 0h3m1 0h1m8 0h3m24 0h1m3 0h2m228 0h1m14 0h1m17 0h3M138 1124.6h2m18 0h1m34 0h1m25 0h2m112 0h3m23 0h2m36 0h2m11 0h2m14 0h1M155 1149.8h1m81 0h2m16 0h2m4 0h1"/><path stroke="#659" d="M147 104h1m5 0h2m12 0h1m22 0h2m3 0h2m5 0h1m16 0h2m4 0h2m49 0h2m25 0h2m16 0h4m2 0h1m13 0h3m3 0h7m12 0h3m7 0h1m2 0h1m2 0h1m14 0h1m7 0h2m12 0h2m3 0h2m148 0h3m16 0h2m9 0h2m5 0h5M160 116.6h1m12 0h2m1 0h4m14 0h1m71 0h1m9 0h2m9 0h1m307 0h2m11 0h2m4 0h2m9 0h3m8 0h1m6 0h3m2 0h2m10 0h4M146 129.2h1m8 0h1m24 0h5m25 0h2m12 0h1m5 0h4m5 0h1m27 0h1m6 0h2m11 0h1m3 0h2m364 0h1M312 141.8h2m13 0h1m24 0h2m7 0h3m135 0h2m13 0h1m4 0h2m1 0h2m133 0h1M387 154.4h3m1 0h2m111 0h1m28 0h1m11 0h2m94 0h2m19 0h2M186 167h2m20 0h2m39 0h2m8 0h2m32 0h1m33 0h2m15 0h3m10 0h2m25 0h2m5 0h2m2 0h2m63 0h4m21 0h4m2 0h2m26 0h2m3 0h2m3 0h2m29 0h1m49 0h1m15 0h2m8 0h1m9 0h1M502 179.6h1m11 0h1m24 0h4m17 0h1m93 0h1M359 192.2h2m140 0h1m3 0h2m4 0h2m1 0h1m26 0h2m8 0h2m25 0h2m13 0h2m16 0h2M148 204.8h2m5 0h1m14 0h2m22 0h1m24 0h2m24 0h2m6 0h2m7 0h1m13 0h5m2 0h2m4 0h2m2 0h1m5 0h2m197 0h1m2 0h3m1 0h2m2 0h4m1 0h1m6 0h3m4 0h1m2 0h2m1 0h3m6 0h2m8 0h2m2 0h2m66 0h3m1 0h1m2 0h5m15 0h2m3 0h1m2 0h2M168 217.4h2m7 0h3m6 0h2m10 0h2m10 0h2m24 0h1m64 0h1m45 0h2m15 0h2m6 0h2m8 0h2m11 0h3m33 0h1m178 0h3m49 0h2M140 230h1m2 0h4m3 0h1m2 0h2m3 0h1m8 0h1m8 0h1m3 0h3m9 0h1m13 0h2m7 0h1m5 0h3m1 0h2m12 0h1m2 0h3m10 0h2m5 0h1m4 0h5m2 0h2m5 0h2m2 0h6m6 0h4m1 0h1m33 0h3m5 0h3m7 0h7m8 0h2m3 0h3m18 0h4m20 0h2m5 0h1m181 0h2m4 0h2m41 0h1m4 0h2M140 242.6h1m45 0h2m9 0h1m47 0h2m4 0h4m12 0h1m15 0h2m3 0h1m143 0h3m2 0h2m32 0h3m104 0h2m28 0h2m12 0h3m3 0h1m17 0h1m5 0h2M138 255.2h3m6 0h1m3 0h2m2 0h4m6 0h2m5 0h5m3 0h5m1 0h6m3 0h2m3 0h2m1 0h2m10 0h2m7 0h3m6 0h3m4 0h2m3 0h4m2 0h2m4 0h5m4 0h1m7 0h2m5 0h4m2 0h2m2 0h2m1 0h3m4 0h1m26 0h3m28 0h2m232 0h2m11 0h2m5 0h3m4 0h2M143 267.8h3m7 0h2m37 0h1m7 0h2m1 0h2m37 0h3m56 0h1m199 0h1m3 0h2m24 0h2m10 0h2m12 0h4m101 0h2M306 280.4h2m46 0h3m4 0h3m15 0h1m3 0h1m26 0h2m189 0h3m7 0h2m5 0h2M143 293h3m10 0h2m14 0h1m3 0h1m8 0h1m22 0h2m2 0h3m1 0h1m4 0h3m13 0h2m12 0h2m10 0h3m12 0h3m36 0h2m120 0h2m23 0h2m11 0h1m150 0h1m29 0h2M141 305.6h2m4 0h3m3 0h2m4 0h1m10 0h2m1 0h2m5 0h5m21 0h2m8 0h1m4 0h4m17 0h5m10 0h2m2 0h1m10 0h2m25 0h2m7 0h2m13 0h2m6 0h2m28 0h3m10 0h2m51 0h1m11 0h2m9 0h2m4 0h2m47 0h2m4 0h3m19 0h1m3 0h2m21 0h1m43 0h2m5 0h5m19 0h1m3 0h2m6 0h1m7 0h2M148 330.8h2m20 0h2m18 0h2m3 0h2m1 0h4m35 0h2m12 0h2m4 0h2m9 0h2m18 0h1m12 0h1m4 0h2m6 0h3m4 0h4m8 0h3m4 0h1m13 0h3m7 0h2m6 0h2m10 0h2m9 0h3m5 0h2m19 0h2M160 343.4h5m2 0h1m2 0h2m4 0h1m11 0h2m8 0h2m3 0h2m31 0h1m12 0h2m6 0h2m29 0h1m5 0h2m27 0h2m2 0h1m1 0h4m31 0h2m11 0h2m4 0h1m17 0h2m225 0h4m18 0h2M138 356h2m6 0h1m3 0h6m14 0h2m13 0h1m2 0h5m4 0h3m3 0h2m1 0h4m5 0h1m8 0h1m15 0h9m10 0h3m4 0h4m2 0h2m4 0h3m12 0h1m213 0h1m1 0h2m17 0h1m12 0h2m4 0h2M308 368.6h2m26 0h3m5 0h3m7 0h3m12 0h3m4 0h1m9 0h1m18 0h2m5 0h5m2 0h2m56 0h1m25 0h2m2 0h1m3 0h2m13 0h1m4 0h2m1 0h5m6 0h2m12 0h1m5 0h2m14 0h1m19 0h3m14 0h2m37 0h1M138 381.2h2m1 0h2m8 0h4m6 0h2m2 0h1m6 0h1m10 0h3m6 0h1m13 0h4m2 0h3m18 0h1m2 0h1m3 0h2m5 0h2m2 0h6m2 0h2m5 0h4m2 0h2m19 0h1m3 0h4m97 0h1m102 0h1m2 0h1m10 0h1m8 0h2m8 0h3m2 0h2m6 0h1m5 0h2m5 0h2m42 0h2m4 0h3m42 0h2M148 393.8h2m10 0h1m24 0h1m7 0h1m4 0h2m8 0h2m17 0h1m11 0h1m9 0h2m10 0h1m16 0h3m18 0h2m200 0h1m1 0h1m9 0h1m13 0h1m1 0h2m66 0h3M150 406.4h1m35 0h2m15 0h2m48 0h2m46 0h1m69 0h1m7 0h1m163 0h2m2 0h1m107 0h3m2 0h2M572 419h2m6 0h1M441 431.6h1m158 0h4m4 0h2m1 0h3m4 0h2m2 0h3m14 0h2m17 0h2m2 0h2M163 444.2h2m2 0h1m8 0h4m15 0h2m8 0h1m4 0h2m3 0h1m5 0h3m3 0h3m7 0h3m2 0h5m6 0h2m6 0h1m6 0h6m4 0h3m4 0h2m7 0h5m3 0h8m15 0h2m2 0h2m2 0h3m4 0h4m8 0h5m2 0h2m10 0h1m5 0h9m1 0h4m12 0h4m5 0h2m10 0h2m78 0h1m4 0h2m3 0h2m5 0h1m2 0h3m1 0h1m16 0h2m10 0h2m2 0h1m31 0h2m34 0h1m6 0h3m7 0h1M498 456.8h3m3 0h1m4 0h2m3 0h1m1 0h2m1 0h5m5 0h2m2 0h1m9 0h2m3 0h1m6 0h2m2 0h3m19 0h1m47 0h1M138 469.4h2m7 0h1m5 0h2m4 0h1m23 0h2m1 0h2m14 0h1m39 0h3m6 0h2m9 0h1m11 0h2m2 0h3m2 0h4m19 0h4m17 0h1m1 0h2m13 0h3m17 0h2m6 0h2m2 0h1m6 0h3m15 0h2m16 0h2m3 0h2m77 0h1m15 0h2m3 0h2m13 0h2m43 0h2m28 0h2m4 0h2m21 0h3M294 482h2M147 494.6h1m12 0h1m2 0h2m86 0h2m10 0h3m31 0h2m161 0h1m3 0h2m5 0h3m142 0h2m2 0h2m17 0h2m19 0h4M141 507.2h2m22 0h2m31 0h2m8 0h4m7 0h2m3 0h1m41 0h1m45 0h2m13 0h1m3 0h2m14 0h7m3 0h2m12 0h3m5 0h1m4 0h2m13 0h2m4 0h2m5 0h5m9 0h1m3 0h1m6 0h2m7 0h1m1 0h2m43 0h1m103 0h4m3 0h2m7 0h1m6 0h2m38 0h2M161 519.8h2m39 0h1m25 0h2m3 0h1m36 0h2m11 0h2m3 0h1m8 0h2m326 0h1M138 532.4h3m6 0h1m5 0h2m3 0h2m6 0h1m5 0h1m63 0h3m1 0h2m20 0h1m11 0h2m2 0h3m4 0h2m1 0h1m2 0h3M141 545h2m5 0h2m11 0h2m4 0h8m30 0h3m4 0h3m24 0h1m22 0h1m5 0h2m13 0h2m2 0h1m111 0h2m11 0h2m22 0h1m27 0h2m8 0h3m1 0h2m14 0h2m108 0h6m29 0h2m23 0h3M140 557.6h1m34 0h1m7 0h2m3 0h4m2 0h1m20 0h1m17 0h1m27 0h1m12 0h2m2 0h3m8 0h2m3 0h2m16 0h2m7 0h2m17 0h1m3 0h3m19 0h3m3 0h2m2 0h3m4 0h1m9 0h2m2 0h1m7 0h2m12 0h2m16 0h2m7 0h1m1 0h2m143 0h2m11 0h2m18 0h2m29 0h3M150 570.2h3m8 0h2m2 0h1m27 0h1m9 0h2m5 0h2m16 0h2m17 0h2m13 0h1m3 0h2m2 0h2m6 0h5m11 0h2m1 0h2m2 0h1m130 0h3m2 0h2m169 0h2m54 0h3M183 582.8h2m20 0h1m28 0h2m47 0h2m59 0h3m5 0h2m15 0h2m3 0h2m7 0h1m6 0h1m4 0h2m10 0h1m38 0h1m183 0h5m8 0h3M140 595.4h1m6 0h3m1 0h2m14 0h5m8 0h3m22 0h3m22 0h3m12 0h2m4 0h2m13 0h1m1 0h2m13 0h4m21 0h2m9 0h2m4 0h2m2 0h2m38 0h2m5 0h1m5 0h1m4 0h3m3 0h2m10 0h2m19 0h1m89 0h2m49 0h3m7 0h1m14 0h1m25 0h2m40 0h2m2 0h3M147 608h1m13 0h2m12 0h1m7 0h2m1 0h4m2 0h1m9 0h1m9 0h3m1 0h1m10 0h1m11 0h1m15 0h2m11 0h2m15 0h2m2 0h2m8 0h2m11 0h2m15 0h2m43 0h2m4 0h2m8 0h1m6 0h1m103 0h1m7 0h2m10 0h1m4 0h1m18 0h2m8 0h2m101 0h2M138 620.6h2m3 0h3m7 0h2m4 0h1m15 0h1m10 0h2m15 0h2m3 0h2m6 0h1m4 0h3m6 0h3m4 0h2m6 0h4m23 0h2m4 0h5m14 0h2m3 0h1m54 0h2M303 633.2h2m5 0h2m15 0h1m12 0h1m50 0h2m4 0h2m105 0h1m32 0h2m2 0h2m2 0h2m2 0h2m6 0h2m55 0h4m44 0h2M176 645.8h1m28 0h1m31 0h2m29 0h2m19 0h2m38 0h2m53 0h2m12 0h1m22 0h3m77 0h1m20 0h2m3 0h1m1 0h2m18 0h2m42 0h2m11 0h2M159 658.4h1m1 0h2m9 0h3m11 0h2m4 0h1m15 0h2m2 0h3m34 0h4m14 0h3m8 0h5m5 0h1m2 0h2m4 0h2m34 0h3m3 0h1m1 0h3m43 0h3m11 0h2m16 0h2m87 0h1m20 0h2m6 0h2m8 0h1m11 0h1m1 0h1m38 0h1m10 0h2m42 0h2M305 671h1m15 0h6m12 0h1m26 0h3m3 0h2m2 0h3m20 0h2m4 0h2m5 0h2m5 0h5m194 0h2m12 0h3m17 0h2M153 683.6h2m4 0h1m8 0h5m7 0h3m32 0h1m17 0h1m3 0h3m5 0h2m2 0h2m4 0h2m10 0h1m2 0h4m4 0h5m13 0h1m4 0h2m18 0h4m8 0h3m13 0h3m2 0h3m7 0h2m21 0h3m3 0h2m3 0h3m11 0h2m94 0h3m5 0h2m1 0h2m12 0h4m2 0h2m7 0h3m4 0h4m1 0h1m32 0h2m6 0h3m10 0h2m21 0h2M158 696.2h1m9 0h2m24 0h1m3 0h2m5 0h1m11 0h2m5 0h1m11 0h1m8 0h2m6 0h2m2 0h2m7 0h1m5 0h2m11 0h2m12 0h3m6 0h4m13 0h2m12 0h1m17 0h2m2 0h3m10 0h2m15 0h2m15 0h2m9 0h5m3 0h1m80 0h3m3 0h1m1 0h2m9 0h1m3 0h2m14 0h1m5 0h2m93 0h2M625 708.8h3m2 0h5m6 0h2m3 0h1M163 721.4h2m23 0h2m107 0h2m20 0h4m6 0h2m9 0h4m3 0h2m17 0h3m2 0h1m2 0h3m18 0h2m4 0h4m21 0h3m2 0h1m5 0h2m19 0h3m32 0h1m13 0h1m19 0h1m13 0h2m121 0h3M570 734h4m4 0h3m9 0h2M498 746.6h5m1 0h1m6 0h8m3 0h2m2 0h1m12 0h2m2 0h2m14 0h2m87 0h2m5 0h3m6 0h3M146 759.2h1m3 0h1m8 0h2m2 0h2m1 0h1m6 0h2m1 0h1m8 0h1m7 0h4m3 0h3m2 0h1m45 0h2m2 0h2m5 0h1m3 0h1m9 0h2m13 0h3m5 0h3m3 0h3m9 0h2m6 0h3m13 0h3m8 0h2m7 0h3m2 0h3m8 0h3m7 0h4m2 0h2m8 0h2m14 0h7M138 784.4h2m3 0h3m1 0h1m3 0h2m2 0h4m6 0h1m4 0h2m1 0h2m1 0h1m16 0h1m1 0h2m3 0h5m3 0h2m9 0h5m4 0h2m3 0h3m3 0h1m2 0h3m2 0h2m6 0h2m4 0h1m4 0h2m8 0h2m7 0h2m2 0h2m10 0h1m1 0h9m2 0h3m6 0h2m8 0h3m5 0h8m12 0h3m2 0h3m2 0h5m1 0h2m3 0h1m4 0h4m7 0h1m2 0h2m7 0h2m7 0h2m16 0h4m6 0h1m2 0h2m4 0h4m4 0h2m2 0h3m12 0h2m8 0h1m4 0h1m4 0h5m1 0h4m1 0h1m1 0h2m1 0h3m2 0h3m2 0h2m6 0h2m8 0h1m1 0h2m6 0h3m7 0h3m14 0h2m4 0h2m62 0h3M419 797h2m11 0h5m17 0h2m4 0h1m3 0h2m12 0h2m5 0h2m9 0h2m134 0h3m6 0h2m3 0h1M141 809.6h5m17 0h2m1 0h1m26 0h1m6 0h2m13 0h1m37 0h2m11 0h1m16 0h5m8 0h1m2 0h2m138 0h2m1 0h2m3 0h1m4 0h2m6 0h1m10 0h3m6 0h3m24 0h1m21 0h2m94 0h1m11 0h2m2 0h2m3 0h1m10 0h1M138 822.2h2m63 0h2m12 0h2m43 0h1m38 0h1m1 0h2m18 0h2m8 0h3m88 0h2m57 0h2m11 0h2m9 0h1m6 0h1m3 0h1m22 0h4m6 0h4m22 0h1m52 0h2m9 0h2M140 834.8h1m6 0h1m3 0h7m2 0h3m2 0h2m9 0h4m8 0h2m3 0h1m1 0h2m1 0h2m6 0h2m9 0h2m5 0h1m11 0h1m3 0h5m6 0h2m2 0h2m4 0h2m3 0h1m1 0h4m9 0h2m4 0h1m1 0h2m2 0h1m3 0h6m3 0h2m6 0h9m6 0h2m13 0h3m12 0h2m3 0h2m3 0h2m1 0h2m2 0h4m2 0h1m1 0h2m4 0h3m2 0h2m1 0h1m8 0h1m2 0h2m5 0h2m2 0h3m8 0h4m5 0h1m4 0h2m4 0h2m2 0h2m2 0h1m13 0h3m10 0h2m2 0h2m3 0h2m9 0h1m1 0h7m2 0h1m7 0h1m6 0h1m5 0h2m4 0h3m3 0h2m2 0h5m1 0h1m35 0h3m1 0h5m2 0h2m3 0h1m6 0h2m32 0h3m3 0h2m2 0h3M143 847.4h3m4 0h5m4 0h1m12 0h1m2 0h1m4 0h3m3 0h2m9 0h1m2 0h2m6 0h2m2 0h3m9 0h1m5 0h4m2 0h4m11 0h6m2 0h3m4 0h1m3 0h2m6 0h3m8 0h5m2 0h1m5 0h3m1 0h2m2 0h7m4 0h2m4 0h2m4 0h6m2 0h3m5 0h3m5 0h2m5 0h5m2 0h1m4 0h1m2 0h1m3 0h1m9 0h2m2 0h2m2 0h2m5 0h2m2 0h2m3 0h4m6 0h1m28 0h2m41 0h2m7 0h1m5 0h4m1 0h5m2 0h3m4 0h1m3 0h4m7 0h1m10 0h1m1 0h6m5 0h2m4 0h6m8 0h1m57 0h2M140 860h1m6 0h1m7 0h1m2 0h3m9 0h2m3 0h1m7 0h2m1 0h4m2 0h1m1 0h3m1 0h2m3 0h2m1 0h2m2 0h2m3 0h1m1 0h4m3 0h1m3 0h8m3 0h1m9 0h2m12 0h3m6 0h2m7 0h2m6 0h2m10 0h1m8 0h4m13 0h2m2 0h2m3 0h3m15 0h3m14 0h3m2 0h1m7 0h2m4 0h1m4 0h2m1 0h1m11 0h2m9 0h3m2 0h1m23 0h2m28 0h3m15 0h1m4 0h1m1 0h3m3 0h3m4 0h4m2 0h2m1 0h1m3 0h2m10 0h6m10 0h1m2 0h3m7 0h2m8 0h2m6 0h2m5 0h3m1 0h3m2 0h2m10 0h2m37 0h1m2 0h2M590 872.6h2m60 0h2M143 885.2h3m12 0h1m1 0h1m5 0h1m6 0h3m16 0h1m7 0h2m6 0h2m5 0h4m6 0h2m3 0h3m16 0h2m6 0h4m2 0h3m6 0h2m2 0h2m9 0h2m7 0h5m7 0h4m2 0h3m22 0h2m20 0h5m8 0h2m3 0h7m11 0h1m1 0h2m2 0h2m7 0h2m7 0h3m3 0h1m7 0h1m53 0h2m11 0h1m2 0h2m1 0h5m3 0h3m5 0h2m2 0h1m2 0h2m6 0h4m16 0h1m7 0h3m20 0h2m3 0h5m10 0h1m7 0h2m30 0h2m6 0h2M150 897.8h5m10 0h1m31 0h1m2 0h2m4 0h2m25 0h1m5 0h1m19 0h2m1 0h1m20 0h2m2 0h1m29 0h2m8 0h4m8 0h1m4 0h3m12 0h2m32 0h2m2 0h1m12 0h2m5 0h2m5 0h2m102 0h1m10 0h2m65 0h2m10 0h2M138 923h2m13 0h2m5 0h1m11 0h3m8 0h2m18 0h2m11 0h1m79 0h3m13 0h2m9 0h2m2 0h1m12 0h1m36 0h3m19 0h2m4 0h3m83 0h2m15 0h1m17 0h1m12 0h2m16 0h2m25 0h2m7 0h2m19 0h2m34 0h2M217 935.6h2m36 0h2m10 0h1m15 0h2m6 0h3m11 0h1m13 0h4m4 0h2m12 0h3m8 0h2m3 0h2m12 0h1m4 0h1m13 0h1m2 0h2m2 0h1m105 0h1m5 0h2m3 0h1m12 0h1m6 0h3m6 0h2m65 0h1m2 0h3M138 948.2h2m63 0h2m62 0h1m26 0h2m53 0h3m62 0h3m10 0h1m38 0h2m31 0h2m2 0h1m51 0h2m101 0h2M141 960.8h2m7 0h1m2 0h2m3 0h1m122 0h2m146 0h1m7 0h2m29 0h3m40 0h2m8 0h1m4 0h1m14 0h2m82 0h1m15 0h2M148 973.4h2m5 0h1m14 0h2m3 0h1m41 0h2m42 0h1m26 0h1m10 0h2m9 0h2m59 0h1m69 0h1m60 0h1m28 0h2m67 0h1M194 986h1m24 0h2m78 0h2m27 0h1m7 0h3m18 0h2m27 0h1m14 0h2m25 0h1m21 0h2m8 0h1m7 0h3m89 0h1m17 0h2m2 0h2m16 0h1M216 998.6h1m4 0h3m73 0h2m2 0h1m10 0h2m43 0h2m20 0h1m44 0h2m13 0h2m5 0h1m84 0h2m47 0h1m37 0h2m37 0h3M151 1011.2h2m5 0h1m13 0h1m13 0h2m4 0h1m22 0h1m5 0h4m3 0h2m9 0h3m20 0h5m9 0h2m3 0h2m10 0h1m2 0h1m26 0h2m54 0h1m7 0h3m74 0h2m42 0h1m9 0h1m32 0h4m10 0h2m7 0h3m15 0h1M146 1023.8h2m7 0h1m20 0h1m9 0h2m29 0h2m11 0h3m4 0h3m2 0h3m4 0h2m2 0h4m21 0h3m16 0h2m2 0h1m133 0h1m25 0h3m37 0h1m3 0h2m9 0h3m29 0h1m35 0h2m42 0h1m1 0h2m14 0h1M150 1036.4h1m34 0h1m2 0h2m7 0h1m41 0h1m2 0h3m25 0h2m13 0h2m7 0h2m1 0h2m131 0h1m11 0h2m2 0h1m3 0h2m4 0h4m11 0h3m6 0h3m4 0h2m10 0h4m2 0h3m10 0h1m43 0h3m5 0h2m23 0h2m13 0h1M147 1049h1m27 0h1m18 0h1m2 0h1m61 0h2m9 0h2m13 0h2m18 0h3m2 0h2m11 0h4m1 0h3m26 0h4m21 0h1m24 0h1m4 0h2m94 0h1m6 0h3m43 0h1m5 0h3m14 0h2m20 0h4M151 1061.6h4m3 0h2m20 0h3m25 0h2m26 0h1m20 0h2m9 0h2m35 0h3m11 0h2m10 0h2m21 0h3m4 0h3m13 0h2m1 0h2m4 0h1m11 0h1m4 0h2m5 0h2m162 0h3m80 0h1M153 1074.2h2m8 0h2m1 0h1m6 0h2m20 0h2m136 0h3m83 0h2m39 0h1m26 0h2m7 0h2m84 0h2M172 1086.8h1m3 0h1m11 0h2m43 0h1m23 0h2m29 0h1m32 0h2m24 0h2m22 0h1m36 0h2m108 0h1m2 0h1m100 0h3M146 1099.4h4m1 0h4m4 0h1m1 0h2m2 0h1m2 0h2m5 0h1m63 0h1m21 0h1m1 0h3m1 0h1m2 0h2m19 0h2m3 0h1m28 0h4m2 0h5m4 0h1m3 0h3m10 0h2m7 0h3m7 0h1m2 0h4m3 0h1m4 0h2m4 0h1m14 0h2m3 0h2m8 0h1m40 0h3m7 0h2m7 0h2m16 0h2m4 0h2m3 0h3m8 0h1m1 0h2m16 0h1m3 0h4m23 0h2m4 0h3m14 0h3m50 0h1M141 1112h2m30 0h2m13 0h2m12 0h1m2 0h1m4 0h2m5 0h2m6 0h5m23 0h2m4 0h2m1 0h1m11 0h4m5 0h2m9 0h2m3 0h2m5 0h2m4 0h2m11 0h2m44 0h1m11 0h1m17 0h2m5 0h2m14 0h2m1 0h1m139 0h3m11 0h1m31 0h1m4 0h2m2 0h3m23 0h2M308 1124.6h2m30 0h1m16 0h2m5 0h2m6 0h2m17 0h2m14 0h1m6 0h3m7 0h2m3 0h1m5 0h1m1 0h5m2 0h2m1 0h1m4 0h2m12 0h2m9 0h1m16 0h4m80 0h2m48 0h1m7 0h7m3 0h1M408 1137.2h2m91 0h1m24 0h3m4 0h4m104 0h2m5 0h2M143 1149.8h5m3 0h2m22 0h1m4 0h3m12 0h3m42 0h5m33 0h3m20 0h1m19 0h2m26 0h3m9 0h5m10 0h1m3 0h2m28 0h2m20 0h3m25 0h1m26 0h2m27 0h2m9 0h1m33 0h1m46 0h2m45 0h2M141 1162.4h2m8 0h2m8 0h2m2 0h1m10 0h1m20 0h1m4 0h1m14 0h2m26 0h4m18 0h1m34 0h1m11 0h3m35 0h2m3 0h2m12 0h1m15 0h3m1 0h2m36 0h1m9 0h2m5 0h1m3 0h2m2 0h2m15 0h3m29 0h1m1 0h2m8 0h1m5 0h1m4 0h1m1 0h3m16 0h1m7 0h2m63 0h2m3 0h1m10 0h1m6 0h3m2 0h2m4 0h1"/><path stroke="#cc5" d="M155 104h3m3 0h2m17 0h3m2 0h1m14 0h2m10 0h3m22 0h2m10 0h2m11 0h1m15 0h3m4 0h2m9 0h1m205 0h1m2 0h2m12 0h2m39 0h1m61 0h3m21 0h1M141 116.6h2m4 0h3m1 0h4m3 0h1m4 0h2m5 0h3m22 0h2m1 0h2m3 0h2m5 0h2m16 0h2m17 0h2m2 0h4m39 0h2m1 0h2m202 0h1m13 0h1m5 0h1m23 0h2m4 0h4M140 129.2h1m31 0h1m13 0h4m25 0h1m9 0h2m36 0h3m233 0h3m5 0h1m6 0h1m19 0h3m11 0h1m61 0h1m36 0h1m4 0h2M138 204.8h2m20 0h1m12 0h2m31 0h2m16 0h1m15 0h2m17 0h2m5 0h1m3 0h2m24 0h1m313 0h1M526 217.4h1M305 230h1m66 0h2m9 0h1m2 0h1m6 0h2m4 0h2m9 0h2m89 0h2m30 0h1m3 0h2m74 0h1m22 0h1M333 255.2h3m11 0h2m27 0h1m6 0h3m7 0h2m160 0h2m38 0h2m21 0h2m26 0h1M305 280.4h1m13 0h2m10 0h5m55 0h2m26 0h2m112 0h1m61 0h2M143 330.8h3m5 0h2m5 0h1m1 0h1m11 0h1m10 0h2m8 0h1m3 0h1m4 0h1m13 0h1m8 0h2m3 0h3m1 0h2m17 0h2m44 0h2m18 0h2m50 0h1m7 0h1m127 0h1m18 0h1m81 0h2m36 0h1M138 343.4h2m1 0h2m10 0h2m3 0h1m38 0h1m26 0h1m5 0h3m63 0h1m6 0h2m5 0h2m29 0h3m13 0h2m13 0h2m38 0h2m143 0h3m75 0h1m12 0h2M637 431.6h2M580 469.4h1M237 708.8h2m18 0h2m9 0h2m49 0h2m200 0h1M216 734h1m154 0h1m27 0h2m36 0h2m66 0h2m8 0h1m45 0h1m98 0h2M251 746.6h2m116 0h2m22 0h2M175 759.2h1m63 0h3m11 0h2m2 0h2m60 0h2m2 0h2m4 0h2m2 0h3m35 0h1m130 0h1m6 0h4m8 0h1m29 0h2M146 771.8h1m30 0h3m37 0h2m413 0h3M217 784.4h2M190 834.8h2m80 0h2m156 0h1m169 0h1M173 847.4h2m1 0h1m110 0h1m115 0h2m106 0h2M143 860h3m44 0h2m104 0h1m43 0h1m96 0h4m11 0h2m10 0h2m25 0h2m41 0h3m18 0h2m101 0h2M565 872.6h2m13 0h1M147 885.2h1m13 0h2m138 0h1m142 0h3m9 0h4m4 0h4m19 0h2m40 0h2m14 0h2m27 0h3m4 0h1m29 0h2M212 910.4h3m184 0h2m7 0h2m79 0h2m13 0h1m40 0h2M336 923h3m15 0h3m23 0h2m32 0h3M386 948.2h1M496 960.8h2M147 973.4h1m276 0h2m85 0h2m47 0h1M266 986h1m351 0h2m5 0h1m32 0h2M287 998.6h1M148 1036.4h2m27 0h3m41 0h3m35 0h2m17 0h3m6 0h2m16 0h1m51 0h2m49 0h2m183 0h2m13 0h2m6 0h2m7 0h1M317 1049h2m78 0h1M534 1061.6h3m14 0h2M206 1074.2h2m98 0h2m78 0h1m59 0h1M285 1086.8h2m21 0h2m111 0h3m34 0h2M398 1099.4h1m15 0h3m160 0h1M150 1112h1m4 0h1m19 0h1m19 0h2m1 0h2m16 0h1m7 0h1m41 0h1m14 0h2m4 0h1m9 0h2m3 0h1m7 0h2m11 0h2m2 0h1m24 0h5m257 0h2M155 1124.6h1m19 0h1m39 0h1m1 0h2m26 0h2m15 0h1m31 0h2m31 0h1m8 0h3m37 0h1m7 0h2m1 0h3m224 0h2M161 1149.8h2m29 0h1m26 0h2m18 0h1"/><path stroke="#548" d="M208 104h2m5 0h1m23 0h1m41 0h2m146 0h7m5 0h1m8 0h2m6 0h6m10 0h4m23 0h1m5 0h1m16 0h2m1 0h1m6 0h5m4 0h2m6 0h2m24 0h1m14 0h1m64 0h1M236 116.6h1m66 0h2m9 0h3m12 0h2m8 0h2m8 0h5m7 0h3m5 0h2m1 0h2m2 0h1m26 0h2m2 0h1m6 0h3m87 0h1m21 0h1m40 0h3m2 0h2m6 0h2m8 0h3M153 129.2h2m139 0h2m18 0h5m2 0h6m44 0h1m10 0h1m3 0h7m2 0h2m8 0h2m1 0h2m11 0h5m1 0h1m19 0h1m2 0h2m8 0h1m3 0h2m27 0h1m34 0h1m12 0h2m41 0h3m24 0h2M397 141.8h1m141 0h2m8 0h2M303 154.4h2m216 0h1m39 0h1m3 0h2m5 0h2M167 167h1m2 0h2m5 0h3m130 0h2m71 0h1m6 0h1m16 0h1m2 0h2m5 0h2m2 0h3m11 0h1m1 0h2m7 0h1m3 0h2m4 0h2m8 0h2m6 0h3m12 0h2m2 0h1m21 0h1m12 0h1m14 0h2m12 0h2m73 0h3m6 0h2m17 0h2M559 179.6h1m32 0h1m32 0h1m2 0h1m14 0h3m9 0h2M428 192.2h1m31 0h1m10 0h3m3 0h1m11 0h2m3 0h2m3 0h2m3 0h1m3 0h1m13 0h2m25 0h2m26 0h1m12 0h2m58 0h2m6 0h2M230 204.8h3m24 0h2m142 0h2m110 0h1m81 0h2m65 0h2M151 217.4h2m64 0h2m6 0h3m12 0h2m55 0h2m22 0h4m62 0h3m39 0h1m6 0h1m7 0h2m4 0h2m22 0h3m14 0h2m25 0h3m28 0h2m16 0h3m10 0h1m14 0h2m23 0h2m3 0h1m6 0h4m16 0h2M308 230h2m91 0h2m25 0h1m1 0h1m8 0h2m7 0h2m10 0h1m7 0h3m37 0h1m7 0h2m3 0h5m2 0h1m22 0h2m9 0h3m53 0h2m21 0h2m4 0h3m8 0h2M166 242.6h1m3 0h2m1 0h2m2 0h8m7 0h1m9 0h1m2 0h3m20 0h2m48 0h3m18 0h2m27 0h1m127 0h2m2 0h1m7 0h3m3 0h3m32 0h2m3 0h2m2 0h1m18 0h2m14 0h2m6 0h1m3 0h2m15 0h2m2 0h1m8 0h2m63 0h2M515 255.2h1m12 0h1m22 0h2m12 0h2m5 0h2m12 0h6m8 0h1m25 0h2m1 0h1m9 0h2m11 0h2m4 0h2M281 267.8h4m14 0h2m210 0h2m34 0h1m81 0h1m11 0h2m3 0h1M138 280.4h2m6 0h1m1 0h3m7 0h3m5 0h1m3 0h3m2 0h2m3 0h3m9 0h3m2 0h6m12 0h6m3 0h3m3 0h3m3 0h4m5 0h2m4 0h19m11 0h2m5 0h5m4 0h2m197 0h2m20 0h1m3 0h2m3 0h1m20 0h1M150 293h1m15 0h1m1 0h2m5 0h1m48 0h1m8 0h1m13 0h2m12 0h1m14 0h2m152 0h1m4 0h1m5 0h1m4 0h1m19 0h2m6 0h3m1 0h2m46 0h1m16 0h4m2 0h2m9 0h1m49 0h1m14 0h1m10 0h1m4 0h2m7 0h2m5 0h1M140 305.6h1m2 0h3m4 0h1m5 0h2m7 0h2m19 0h2m4 0h1m1 0h4m10 0h7m12 0h1m11 0h3m7 0h2m11 0h1m4 0h1m15 0h4m14 0h4m67 0h2m54 0h2m1 0h1m14 0h1m1 0h2m14 0h2m2 0h3m7 0h5m2 0h2m2 0h2m7 0h1m2 0h2m4 0h1m10 0h3m1 0h2m2 0h3m53 0h2m22 0h2m20 0h2m11 0h2m14 0h1M521 318.2h1m5 0h1m13 0h2m2 0h2m12 0h1m72 0h3m2 0h2M255 330.8h2m84 0h3m177 0h1m89 0h2M270 343.4h2m29 0h1m74 0h1m87 0h4m30 0h1m19 0h1m48 0h3m14 0h2m51 0h2m2 0h2M655 356h2m3 0h2m2 0h3M138 368.6h3m2 0h4m1 0h5m2 0h1m2 0h1m4 0h2m3 0h2m3 0h2m2 0h3m13 0h1m9 0h2m10 0h1m5 0h3m3 0h3m10 0h5m2 0h2m10 0h2m1 0h1m4 0h1m6 0h4m3 0h6m4 0h2m4 0h2m326 0h1M306 381.2h2m11 0h2m33 0h3m7 0h2m25 0h2m15 0h2m7 0h2m174 0h2m2 0h4m12 0h1m4 0h2m37 0h1m4 0h2M310 393.8h2m5 0h2m30 0h3m215 0h3m23 0h2m5 0h1m3 0h2m5 0h2m3 0h4m32 0h3m2 0h1M140 406.4h1m12 0h2m6 0h2m5 0h7m8 0h2m7 0h1m2 0h2m1 0h4m10 0h3m1 0h1m7 0h1m15 0h9m18 0h1m2 0h4m2 0h2m10 0h1m2 0h3m8 0h1m5 0h2m81 0h2m24 0h2m82 0h1m5 0h1m26 0h9m5 0h3m10 0h1m38 0h1m5 0h4m6 0h4M160 419h3m3 0h1m13 0h3m2 0h1m22 0h7m2 0h2m9 0h6m2 0h1m20 0h6m5 0h2m4 0h2m2 0h3m10 0h5m5 0h1m8 0h2m7 0h2m36 0h2m2 0h5m10 0h1m6 0h1m24 0h4m86 0h1m8 0h1m3 0h2m8 0h1m4 0h2m9 0h6m4 0h1m1 0h2m8 0h1m1 0h1m5 0h3m16 0h1m8 0h2m4 0h3m9 0h1m2 0h2m4 0h3m10 0h1m10 0h1m1 0h2m2 0h2m3 0h1M140 431.6h1m2 0h3m15 0h4m3 0h4m11 0h2m10 0h2m6 0h3m2 0h2m2 0h3m2 0h2m17 0h3m10 0h2m4 0h2m2 0h2m1 0h1m4 0h1m4 0h4m2 0h3m4 0h2m15 0h3m12 0h2m21 0h1m18 0h5m7 0h3m6 0h2m4 0h1m6 0h2m26 0h3m74 0h1m4 0h1m4 0h1m2 0h3m10 0h2m2 0h1m18 0h2m10 0h1m65 0h1m10 0h1M639 444.2h2m9 0h2m8 0h2m2 0h3M146 456.8h1m4 0h2m6 0h2m4 0h1m1 0h1m2 0h2m26 0h4m1 0h2m1 0h2m8 0h8m1 0h2m22 0h6m2 0h2m8 0h1m6 0h2m11 0h1m6 0h2m5 0h1m15 0h2m2 0h2m4 0h2m7 0h3m10 0h3m25 0h2m8 0h3m20 0h4m3 0h2m176 0h2m3 0h1m3 0h2m5 0h2m5 0h2m30 0h2m10 0h2M158 469.4h1m16 0h1m4 0h3m15 0h2m6 0h2m13 0h3m6 0h3m3 0h3m20 0h3m4 0h1m22 0h2m3 0h2m3 0h2m2 0h2m5 0h2m5 0h2m4 0h4m1 0h1m48 0h2m8 0h3m22 0h2m3 0h2m7 0h1m77 0h1m11 0h3m2 0h1m9 0h2m10 0h2m8 0h2m15 0h2m21 0h2m13 0h2m3 0h1m44 0h2M148 482h2m138 0h1m14 0h2m14 0h2m6 0h2m10 0h2m23 0h2m3 0h2m9 0h3m3 0h1m11 0h1m53 0h2m14 0h3m133 0h2m4 0h1m5 0h4m27 0h1M194 494.6h1m42 0h2m75 0h3m8 0h2m2 0h2m33 0h2m29 0h3m1 0h2m16 0h2m7 0h1m3 0h1m6 0h2m5 0h2m6 0h2m12 0h2m15 0h2m115 0h1m21 0h3M192 507.2h1m238 0h1m10 0h2m14 0h2m1 0h3m7 0h3m17 0h2m3 0h2M240 519.8h2m13 0h2m48 0h5m17 0h1m8 0h3m27 0h3m11 0h2m2 0h2m7 0h4m2 0h2m6 0h7m21 0h1m6 0h2m2 0h1m5 0h2m2 0h2m10 0h3m18 0h2M168 532.4h2m63 0h1m5 0h1m21 0h1m19 0h2m42 0h2m12 0h2m30 0h1m15 0h6m4 0h1m1 0h2m11 0h5m4 0h3m56 0h3m2 0h2m117 0h2m5 0h2m3 0h2m39 0h1M140 545h1m18 0h1m20 0h3m5 0h2m3 0h1m21 0h1m33 0h2m359 0h1m7 0h2M185 557.6h1m30 0h1m32 0h2m54 0h1m27 0h3m5 0h3m92 0h1m10 0h1m43 0h2m127 0h2m13 0h1m7 0h3M159 570.2h1m16 0h1m57 0h2m9 0h2m52 0h2m16 0h2m4 0h2m3 0h1m66 0h2m1 0h3m46 0h1m10 0h3m159 0h2m10 0h3M287 582.8h1m43 0h2m14 0h2m15 0h5m11 0h2m5 0h3m11 0h2m16 0h2m39 0h1m10 0h3m3 0h1m2 0h5m144 0h1M303 595.4h2m5 0h2m9 0h4m19 0h3m12 0h2m18 0h1m32 0h2m3 0h2m136 0h2m63 0h2m24 0h1M303 608h2m12 0h2m4 0h2m6 0h2m14 0h2m3 0h2m3 0h2m5 0h2m5 0h3m2 0h3m3 0h1m1 0h2m7 0h4m2 0h2m4 0h2m3 0h2m86 0h1m12 0h2m5 0h1m9 0h3m3 0h5m4 0h2m6 0h4m55 0h1m9 0h5M329 620.6h2m9 0h1m33 0h2m10 0h1m14 0h2m9 0h2m5 0h2m5 0h1m74 0h1m2 0h1m6 0h2m2 0h1m3 0h2m20 0h2m8 0h2m47 0h1m19 0h2M138 633.2h3m10 0h7m2 0h1m2 0h3m7 0h2m11 0h6m25 0h4m3 0h1m5 0h3m12 0h4m4 0h4m2 0h3m6 0h2m11 0h2m18 0h1m3 0h3m9 0h2m2 0h4m3 0h1m4 0h3m3 0h1m1 0h3m13 0h2m2 0h3m5 0h2m1 0h5m6 0h3m1 0h4m2 0h2m6 0h2m4 0h3m2 0h7m8 0h1m224 0h3M146 645.8h2m8 0h3m21 0h3m3 0h2m5 0h1m3 0h1m5 0h2m3 0h2m2 0h9m4 0h3m5 0h1m2 0h1m8 0h2m4 0h2m4 0h2m3 0h5m11 0h3m2 0h2m3 0h1m2 0h2m1 0h2m6 0h1m3 0h2m2 0h9m4 0h2m2 0h2m2 0h2m11 0h3m2 0h5m3 0h2m5 0h7m5 0h3m1 0h2m1 0h1m3 0h4m8 0h6m7 0h2m3 0h2m178 0h3m1 0h3m6 0h3m42 0h2m7 0h3M140 658.4h1m7 0h2m5 0h3m2 0h1m2 0h5m7 0h1m1 0h6m2 0h1m7 0h1m4 0h2m5 0h3m2 0h2m3 0h2m2 0h2m4 0h3m6 0h5m3 0h7m4 0h2m2 0h2m2 0h1m4 0h1m18 0h3m13 0h2m5 0h2m9 0h4m6 0h2m9 0h1m13 0h5m15 0h2m3 0h3m1 0h1m2 0h1m12 0h2m4 0h2m1 0h4m5 0h2m8 0h1m220 0h2M147 671h4m4 0h1m2 0h1m6 0h3m5 0h2m1 0h1m16 0h1m16 0h2m5 0h2m2 0h3m12 0h1m8 0h2m12 0h4m5 0h2m6 0h5m4 0h3m149 0h2m63 0h2m3 0h2m4 0h1m4 0h4m4 0h1m7 0h3m6 0h2m105 0h2m2 0h1m2 0h1M595 683.6h2m16 0h1m8 0h3m27 0h2M138 696.2h2m7 0h1m2 0h1m5 0h2m2 0h1m2 0h2m27 0h1m2 0h3m35 0h1m5 0h1m9 0h2m25 0h2m18 0h1m17 0h3m2 0h6m3 0h1m7 0h3m38 0h3m10 0h1m6 0h1m3 0h2m2 0h2m7 0h3m176 0h2m34 0h1m5 0h1m18 0h1m2 0h1M408 708.8h2M200 721.4h2m32 0h2m338 0h3m1 0h2m48 0h1m7 0h1m9 0h1M637 746.6h2M140 759.2h6m1 0h1m7 0h1m16 0h1m4 0h3m23 0h2m1 0h2m22 0h3m4 0h2m6 0h2m16 0h3m2 0h4m64 0h3m15 0h3m15 0h2m9 0h1m2 0h1m18 0h2m29 0h3m52 0h2m14 0h1m20 0h1m33 0h3m9 0h3m3 0h1m6 0h3m51 0h2m9 0h3m5 0h2M242 797h3M159 809.6h1m1 0h2m5 0h2m16 0h2m4 0h1m19 0h3m9 0h3m12 0h3m17 0h3m1 0h3m15 0h2m18 0h1m154 0h2m8 0h5m3 0h4m11 0h2m7 0h1m2 0h1m13 0h1m5 0h1m33 0h2m2 0h2m1 0h3m63 0h1m14 0h3m4 0h2M227 822.2h1m8 0h1m3 0h2m83 0h2m100 0h1m4 0h5m4 0h1m10 0h4m33 0h2m2 0h1m9 0h1m30 0h3m41 0h2m48 0h1m7 0h1m6 0h3m9 0h2M138 872.6h2m10 0h1m2 0h2m4 0h2m2 0h2m11 0h4m5 0h1m6 0h2m3 0h1m10 0h2m9 0h6m8 0h1m5 0h1m5 0h2m2 0h2m6 0h2m11 0h2m9 0h2m5 0h1m8 0h2m2 0h2m16 0h8m6 0h3m4 0h4m3 0h2m8 0h2m2 0h3m7 0h1m4 0h1m6 0h1m3 0h6m17 0h2m9 0h3m75 0h3m2 0h3m2 0h6m28 0h5m1 0h2m6 0h3m1 0h1m31 0h2m2 0h3m1 0h3m10 0h4m4 0h3m33 0h2m4 0h3M140 897.8h1m6 0h1m10 0h2m6 0h1m3 0h2m3 0h1m19 0h2m30 0h1m57 0h2m4 0h3m5 0h2m1 0h1m5 0h2m4 0h3m19 0h3m10 0h3m9 0h5m13 0h1m3 0h1m17 0h4m3 0h2m183 0h4m13 0h1m3 0h2m34 0h2M456 910.4h2m2 0h1M147 923h1m20 0h2m81 0h2m49 0h1m25 0h1m12 0h3m8 0h2m10 0h2m5 0h1m23 0h2m38 0h1m51 0h2m5 0h5m8 0h1m1 0h2m2 0h1m1 0h3m1 0h2m1 0h2m4 0h1m4 0h1m14 0h1m6 0h2m3 0h1m6 0h3m2 0h2m8 0h2m38 0h3m29 0h1M205 935.6h1m72 0h3m48 0h2m8 0h1m9 0h3m2 0h3m12 0h2m1 0h2m9 0h1m3 0h3m157 0h1m1 0h2m4 0h2m8 0h2m10 0h3m7 0h3m7 0h4m7 0h2m40 0h2m10 0h2M329 1011.2h2m77 0h2m22 0h3m13 0h2m6 0h2m2 0h1m30 0h2m9 0h3m2 0h1m11 0h2m6 0h1m1 0h2m2 0h1m5 0h2m16 0h3m26 0h4m46 0h1m6 0h5M266 1023.8h1m3 0h2m24 0h1m5 0h1m128 0h1m12 0h2m2 0h2m69 0h2m5 0h1m7 0h3m24 0h1m10 0h2m7 0h1m38 0h2m40 0h2M167 1036.4h3m25 0h2m11 0h2m5 0h1m31 0h2m12 0h1m12 0h2m5 0h4m11 0h1m9 0h2m9 0h2m2 0h2m5 0h1m11 0h1m13 0h3m19 0h1m5 0h1m38 0h3m2 0h2m70 0h1m17 0h2m4 0h2m4 0h1m2 0h3m14 0h1m2 0h2m4 0h2m1 0h2m70 0h3m2 0h2m8 0h1m16 0h3M192 1049h1m88 0h2m50 0h6m41 0h2m4 0h1m16 0h2m5 0h2m7 0h2m3 0h2m10 0h1m21 0h2m1 0h3m32 0h2m21 0h2m6 0h2m14 0h2m25 0h4m16 0h2m12 0h2m16 0h3m7 0h7m23 0h2M160 1061.6h5m8 0h2m10 0h3m5 0h1m3 0h1m4 0h1m3 0h2m39 0h2m2 0h2m17 0h4m19 0h1m14 0h2m15 0h2m13 0h1m18 0h2m8 0h2m12 0h1m3 0h3m5 0h3m7 0h2m5 0h2m110 0h2m11 0h2m53 0h1m43 0h3m23 0h2M143 1112h3m20 0h1m48 0h1m14 0h4m5 0h1m9 0h2m66 0h2m20 0h1m26 0h3m59 0h1m1 0h1m1 0h7m2 0h1m2 0h2m15 0h3m10 0h3m19 0h2m4 0h1m1 0h3m2 0h2m5 0h2m3 0h5m8 0h3m6 0h2m3 0h1m6 0h2m2 0h2m34 0h2m7 0h2m10 0h2m8 0h2m19 0h1M143 1124.6h3m19 0h1m4 0h2m16 0h4m29 0h3m13 0h2m14 0h2m6 0h1m21 0h2m2 0h1m18 0h2m13 0h2m31 0h3m4 0h3m10 0h2m7 0h1m9 0h2m4 0h2m4 0h2m14 0h3m77 0h1m7 0h2m3 0h4m1 0h3m7 0h2m22 0h2m2 0h2m1 0h1m50 0h2m22 0h1m7 0h3m1 0h1M498 1137.2h1m10 0h2m3 0h1m14 0h2m14 0h2m14 0h1m8 0h2m2 0h3m7 0h2m46 0h3m8 0h3m8 0h1M158 1149.8h1m7 0h1m66 0h1m49 0h2m20 0h1m13 0h2m23 0h3m67 0h3m35 0h2m70 0h3m14 0h4m3 0h1m11 0h1m6 0h3M172 1162.4h1m7 0h3m42 0h2m64 0h2m291 0h2m55 0h2"/><path stroke="#8ac" d="M224 104h1m41 0h1m24 0h2M150 129.2h1m16 0h1m51 0h2m15 0h1m8 0h4m34 0h2M156 141.8h2m28 0h2m10 0h2m16 0h1m4 0h3m23 0h2m2 0h2m32 0h3m1 0h2m2 0h1m8 0h1m2 0h1m4 0h2m2 0h3m32 0h3m7 0h2m29 0h1m4 0h2m2 0h8m3 0h2m2 0h5m7 0h1m170 0h3m6 0h2m2 0h1m7 0h2m2 0h4m9 0h1m10 0h2m2 0h2m3 0h2M138 154.4h3m14 0h1m9 0h1m26 0h1m17 0h2m22 0h2m1 0h2m3 0h5m27 0h2m11 0h1m1 0h2m6 0h2m327 0h2m1 0h1m5 0h1m19 0h2m1 0h2M143 167h5m11 0h1m12 0h5m8 0h1m12 0h2m5 0h1m4 0h2m5 0h2m43 0h1m25 0h1m5 0h2m3 0h2m18 0h2m15 0h3m2 0h3m3 0h2m5 0h3m7 0h2m27 0h2m10 0h2m19 0h1m181 0h2m12 0h3m4 0h3m7 0h2M165 179.6h1m7 0h2m13 0h2m8 0h2m47 0h2m18 0h1m15 0h2m216 0h1m1 0h1m3 0h2m6 0h1m3 0h5m3 0h1m20 0h1m2 0h2m4 0h2m59 0h2m2 0h3m12 0h2m25 0h3M155 192.2h1m7 0h2m23 0h4m10 0h1m14 0h2m6 0h3m6 0h2m74 0h2m7 0h2m6 0h1m19 0h2m12 0h3m2 0h6m2 0h3m5 0h2m2 0h5m2 0h2m44 0h2m3 0h2m41 0h2m58 0h1m95 0h3m2 0h2m7 0h1m2 0h2M239 204.8h1m61 0h1M158 217.4h1m14 0h2m1 0h1m16 0h1m1 0h2m6 0h2m3 0h2m29 0h1m2 0h3m6 0h4m2 0h2m13 0h2m9 0h2m8 0h1m8 0h1m5 0h6m3 0h2m6 0h2m13 0h1m20 0h3m10 0h2m1 0h2m19 0h1m25 0h4m94 0h2m5 0h2m3 0h3m4 0h2m17 0h1m89 0h2M314 230h3m32 0h3m14 0h3M158 242.6h1m4 0h2m47 0h3m12 0h1m8 0h1m2 0h1m26 0h1m7 0h4m15 0h1m2 0h3m2 0h1m19 0h2m34 0h2m15 0h3m3 0h2m4 0h1m4 0h2m2 0h2m101 0h1m3 0h1m4 0h1m13 0h1m4 0h1m2 0h2m8 0h2m6 0h1m49 0h3m10 0h1m7 0h2m6 0h2M310 255.2h2m29 0h3m36 0h3m15 0h5M347 267.8h2m54 0h2m103 0h1m12 0h1m4 0h1m2 0h2m2 0h1m70 0h2m7 0h1M312 280.4h2m33 0h2m33 0h1m15 0h3m16 0h2m2 0h3M146 293h1m14 0h2m7 0h2m14 0h4m5 0h2m18 0h1m20 0h1m2 0h1m2 0h3m4 0h2m51 0h1m3 0h2m6 0h3m16 0h3m16 0h2m23 0h2m130 0h2m17 0h1m12 0h2m18 0h1m77 0h2M305 305.6h1m46 0h2m12 0h3m7 0h1m2 0h1m15 0h2m10 0h1m16 0h2m78 0h1m36 0h2m75 0h2M138 318.2h2m6 0h2m2 0h1m4 0h3m1 0h2m6 0h1m7 0h2m8 0h1m4 0h4m4 0h2m6 0h2m7 0h1m1 0h4m4 0h3m11 0h1m2 0h7m2 0h2m9 0h1m3 0h1m5 0h9m4 0h2m4 0h2m3 0h1m20 0h2m4 0h2m47 0h2m13 0h3m17 0h1m6 0h3m92 0h2m4 0h1m3 0h2m7 0h1m22 0h2m4 0h2m98 0h3M147 343.4h1m20 0h2m16 0h2m12 0h2m95 0h2m29 0h1m50 0h1m18 0h1m115 0h1M567 356h3m14 0h2m4 0h2M429 368.6h1m11 0h1m12 0h2m122 0h2M570 381.2h2m18 0h2M565 393.8h2m74 0h2M635 406.4h1M442 419h2m126 0h2m58 0h2M430 431.6h1m19 0h2m2 0h2m5 0h3m23 0h2m83 0h2m52 0h3m6 0h1m11 0h1M567 444.2h3m2 0h2m69 0h3M586 456.8h1m38 0h1m6 0h3M192 469.4h1m19 0h3m2 0h2m48 0h1m142 0h2m162 0h3m55 0h3m20 0h2m3 0h2M138 482h2m26 0h1m1 0h4m23 0h5m5 0h1m11 0h2m11 0h3m3 0h1m2 0h1m7 0h6m6 0h2m17 0h3m12 0h1m5 0h2m20 0h2m26 0h3m27 0h1m25 0h2m12 0h2m6 0h1M141 494.6h5m21 0h1m2 0h2m1 0h4m21 0h4m4 0h2m7 0h1m1 0h2m5 0h1m15 0h7m12 0h4m7 0h2m6 0h3m4 0h2m6 0h1m23 0h2m9 0h1m37 0h3m36 0h2m5 0h2m192 0h2M143 507.2h3m14 0h3m10 0h3m1 0h3m3 0h2m3 0h4m1 0h1m6 0h2m3 0h1m6 0h3m10 0h5m12 0h3m4 0h2m11 0h1m22 0h2m240 0h1m13 0h2m44 0h3m11 0h3m21 0h1m13 0h2m6 0h1m14 0h2M138 519.8h3m5 0h5m4 0h1m11 0h3m3 0h2m11 0h2m5 0h1m4 0h2m3 0h2m3 0h2m6 0h1m4 0h3m1 0h2m9 0h1m5 0h5m47 0h2m3 0h2m48 0h3m119 0h3m123 0h4m21 0h3m4 0h1m2 0h3m4 0h2m16 0h1M165 532.4h1m1 0h1m7 0h1m7 0h2m5 0h2m1 0h1m4 0h2m2 0h3m7 0h3m2 0h2m2 0h4m47 0h2m9 0h2m16 0h1m15 0h2m4 0h2m55 0h2m13 0h2m240 0h2m9 0h2M150 545h1m25 0h1m6 0h2m9 0h1m5 0h2m14 0h1m4 0h3m3 0h1m12 0h2m13 0h2m28 0h2m7 0h2m5 0h1m135 0h2m135 0h3m37 0h2m4 0h2m32 0h1m7 0h2M146 557.6h1m3 0h1m4 0h1m11 0h1m2 0h2m1 0h2m18 0h1m8 0h3m14 0h2m7 0h5m1 0h2m3 0h3m21 0h4m1 0h2m13 0h2m8 0h1m2 0h1m20 0h2m10 0h2m21 0h2m10 0h2m42 0h2m114 0h2m121 0h1m4 0h2M143 570.2h3m2 0h2m5 0h1m7 0h2m10 0h1m1 0h6m9 0h1m13 0h2m4 0h4m3 0h2m9 0h3m3 0h3m18 0h2m15 0h2m9 0h2m6 0h1m8 0h1m3 0h2m93 0h4m196 0h3m18 0h3m14 0h2m13 0h1m5 0h2M186 582.8h2m4 0h1m1 0h1m17 0h3m10 0h2m12 0h1m2 0h3m29 0h2m9 0h2m12 0h2m7 0h2m4 0h3m23 0h1m13 0h3m4 0h3m15 0h1m30 0h2m2 0h3m84 0h1m43 0h2m27 0h3m15 0h1m48 0h2m9 0h2M153 595.4h2m39 0h1m13 0h2m23 0h1m3 0h2m22 0h1m44 0h2m41 0h3m28 0h2m16 0h1m8 0h1m2 0h2m95 0h1m18 0h1m57 0h2m7 0h2m53 0h2M155 620.6h1m381 0h4m12 0h2m74 0h1m11 0h5M636 658.4h1m9 0h1M289 671h2m165 0h2m167 0h3m8 0h1M626 683.6h2m1 0h1m5 0h2M146 696.2h1m41 0h2m35 0h2m7 0h2m1 0h2m3 0h3m60 0h1m21 0h1m5 0h3m16 0h2m29 0h1m2 0h1m30 0h2m79 0h1m16 0h1m5 0h1m7 0h2m20 0h2m6 0h1M601 708.8h3m7 0h2M327 721.4h1m36 0h2m25 0h2m36 0h1m26 0h2m16 0h3m1 0h2m7 0h2m5 0h2m9 0h2m26 0h1m21 0h4m54 0h1m41 0h2M595 746.6h2m14 0h2M328 759.2h1m72 0h2m217 0h2M595 784.4h2M147 797h3m1 0h4m3 0h2m7 0h1m4 0h1m22 0h3m27 0h2m1 0h2m4 0h2m13 0h4m13 0h1m7 0h4m15 0h1m2 0h1m2 0h2m141 0h2m39 0h2m23 0h1m91 0h1m10 0h2m1 0h2m20 0h3M138 809.6h2m55 0h3m19 0h2m74 0h1m3 0h2m130 0h1m28 0h2m36 0h2m157 0h2M150 822.2h3m5 0h1m11 0h3m115 0h1m19 0h2m42 0h2m15 0h2m1 0h2m3 0h2m3 0h1m8 0h4m19 0h3m4 0h3m215 0h2m6 0h1m16 0h3M626 847.4h2M471 872.6h3m103 0h1m77 0h2M212 897.8h3m48 0h3m312 0h2m1 0h1M629 910.4h1m2 0h3M221 923h3m46 0h2m15 0h2m308 0h4m12 0h1M138 935.6h5m8 0h2m2 0h1m17 0h2m1 0h1m16 0h1m12 0h2m7 0h1m46 0h1m25 0h1m5 0h2m1 0h4m2 0h2m3 0h2m4 0h3m23 0h1m18 0h2m37 0h1m13 0h2m3 0h2m11 0h1m10 0h1m2 0h2m4 0h2m19 0h3m9 0h2m9 0h2m12 0h1m71 0h1m48 0h1m6 0h1m2 0h4m5 0h2M148 1011.2h3m37 0h2m20 0h2m4 0h1m51 0h2m15 0h3m1 0h2m14 0h3m6 0h3m14 0h2m8 0h3m5 0h3m12 0h5m5 0h2m14 0h5m4 0h4m4 0h1m93 0h1M138 1023.8h2m18 0h1m7 0h1m18 0h1m2 0h2m4 0h1m5 0h2m25 0h1m6 0h2m11 0h2m44 0h1m9 0h2m16 0h4m15 0h1m11 0h2m5 0h2m11 0h2m3 0h3m2 0h2m7 0h2m2 0h3m23 0h5m78 0h1M141 1036.4h5m27 0h2m65 0h2m7 0h2m276 0h1m83 0h2m7 0h2M140 1049h1m7 0h3m7 0h1m2 0h2m4 0h1m47 0h1m29 0h2m6 0h2m8 0h3m1 0h1m23 0h2m54 0h2m15 0h2m6 0h2m21 0h2m17 0h5m82 0h1m108 0h1M140 1061.6h1m7 0h2m18 0h2m25 0h2m97 0h2m7 0h2m16 0h2m70 0h2m22 0h2m12 0h1m4 0h1m5 0h2m10 0h2m65 0h1m4 0h1m14 0h2m19 0h3m7 0h2m7 0h1m11 0h4m11 0h2M303 1112h2m36 0h3m15 0h2m291 0h2M168 1124.6h2m81 0h2m46 0h2m40 0h3m5 0h3m14 0h3M143 1137.2h3m4 0h1m2 0h3m4 0h1m4 0h1m6 0h3m5 0h5m1 0h4m3 0h1m1 0h2m5 0h1m18 0h3m9 0h1m11 0h2m2 0h2m6 0h4m7 0h4m15 0h1m6 0h2m9 0h1m2 0h2m4 0h3m11 0h1m2 0h2m3 0h3m2 0h6m2 0h3m20 0h4m22 0h1m11 0h4m3 0h2m89 0h1m2 0h2m42 0h2m40 0h3m1 0h3m16 0h2m15 0h2M156 1149.8h2m9 0h1m4 0h3m1 0h1m21 0h2m10 0h2m50 0h1m5 0h2m18 0h1m5 0h2m314 0h1m25 0h1m6 0h3M143 1162.4h3m1 0h1m7 0h1m21 0h3m6 0h2m2 0h3m23 0h1m7 0h1m9 0h2m1 0h3m19 0h2m7 0h4m9 0h2m5 0h1m4 0h1m7 0h1m6 0h2m13 0h2m2 0h1m19 0h2m12 0h3m2 0h3m5 0h2m1 0h2m1 0h2m1 0h1m2 0h1m12 0h2m7 0h2m141 0h2m6 0h1m40 0h4m4 0h2"/><path stroke="#76a" d="M310 104h2m7 0h2m33 0h3m23 0h2m9 0h2m2 0h2m1 0h1m4 0h2m21 0h3m10 0h2m6 0h1m4 0h4m10 0h5m18 0h4m3 0h2m5 0h1m4 0h1m9 0h1m3 0h2m5 0h5m11 0h2m6 0h2m2 0h2m2 0h1m66 0h4m9 0h2m5 0h2m4 0h1M143 116.6h3m9 0h1m11 0h1m17 0h1m11 0h1m2 0h3m3 0h2m11 0h5m15 0h1m9 0h2m8 0h2m1 0h4m1 0h9m15 0h3m8 0h1m2 0h1m15 0h2m2 0h3m16 0h3m33 0h2m5 0h3m37 0h1m26 0h2m29 0h2m12 0h2m4 0h2m2 0h2m22 0h1m5 0h6m15 0h1m43 0h2m4 0h1m11 0h3m3 0h1m3 0h3m4 0h2m6 0h1M329 129.2h2m2 0h3m4 0h1m20 0h5m3 0h2m13 0h2m11 0h1m12 0h4m12 0h1m1 0h1m8 0h2m3 0h2m4 0h2m4 0h2m2 0h2m1 0h3m2 0h2m10 0h2m7 0h6m15 0h1m2 0h2m14 0h1m1 0h4m20 0h4m4 0h1m10 0h2m8 0h2m3 0h3m10 0h1m3 0h4m8 0h2m2 0h2m3 0h1m4 0h2m23 0h2m7 0h3M501 141.8h1m16 0h1m2 0h1m2 0h4m29 0h2m45 0h2m48 0h1m5 0h4M321 154.4h2m8 0h5m3 0h1m31 0h1m11 0h3m41 0h1m77 0h2m4 0h2m16 0h2m83 0h2m6 0h4M148 167h2m1 0h2m3 0h2m2 0h1m2 0h3m24 0h3m10 0h2m10 0h1m9 0h2m41 0h2m11 0h2m18 0h4m9 0h3m6 0h4m6 0h3m13 0h3m30 0h1m15 0h1m4 0h2m19 0h2m3 0h1m71 0h3m37 0h2m4 0h1m3 0h2m8 0h1m3 0h2m34 0h3m10 0h4m7 0h1M306 179.6h2m51 0h2m5 0h3m13 0h1m8 0h2m10 0h2m16 0h3m80 0h1m6 0h2m20 0h4m6 0h2m2 0h1m7 0h2m73 0h2m3 0h2m13 0h2m10 0h2M333 192.2h3m4 0h1m43 0h2m12 0h1m8 0h1m2 0h2m12 0h2m1 0h1m57 0h2m6 0h1m2 0h2m33 0h2m26 0h1m24 0h2m1 0h3m7 0h3m6 0h2m21 0h1m9 0h2m5 0h2M333 204.8h3m3 0h1m7 0h2m22 0h1m19 0h2m4 0h1m19 0h4m26 0h1m23 0h3m91 0h2m26 0h2m6 0h5m10 0h2m4 0h3M161 217.4h2m12 0h1m4 0h3m2 0h1m8 0h1m2 0h1m4 0h1m16 0h2m40 0h1m23 0h2m2 0h2m12 0h2m1 0h2m20 0h1m7 0h4m4 0h3m5 0h5m12 0h3m14 0h1m6 0h2m6 0h4m12 0h2m2 0h3m81 0h2m1 0h1m22 0h2m4 0h4m18 0h1m37 0h3m8 0h2m4 0h2m2 0h2m6 0h2m29 0h1M138 230h2m7 0h3m11 0h2m5 0h2m15 0h1m14 0h2m8 0h2m24 0h1m14 0h2m10 0h3m10 0h2m225 0h1m1 0h2m2 0h2m3 0h1m11 0h2m1 0h2m3 0h3m2 0h4m2 0h2m1 0h1m11 0h1m64 0h1m9 0h1m10 0h1M319 242.6h2m63 0h2m44 0h1m15 0h1m14 0h3m16 0h3m16 0h2m2 0h1m7 0h2m9 0h2m25 0h2m9 0h1m39 0h1m12 0h1m2 0h2m17 0h1m1 0h2m15 0h1M319 255.2h2m15 0h3m32 0h1m23 0h2m44 0h1m4 0h1m52 0h4m1 0h1m6 0h2m3 0h2m8 0h1m7 0h5m2 0h4m2 0h1m5 0h2m2 0h4m64 0h1m6 0h3m12 0h1m6 0h1m7 0h2M147 267.8h1m2 0h1m12 0h3m19 0h3m14 0h1m7 0h2m7 0h2m4 0h3m6 0h3m2 0h3m13 0h2m2 0h2m7 0h2m26 0h3m200 0h2m3 0h1m4 0h2m8 0h2m1 0h2m17 0h2m5 0h1m81 0h2m4 0h1m10 0h1M296 280.4h1m183 0h3m2 0h2m14 0h4m4 0h4m24 0h6m2 0h2m6 0h8m16 0h1m12 0h2m36 0h1m3 0h4m7 0h3m8 0h1M138 293h2m13 0h2m10 0h1m17 0h2m9 0h1m3 0h4m26 0h2m25 0h2m10 0h5m21 0h1m2 0h1m47 0h3m37 0h2m42 0h1m15 0h2m25 0h3m25 0h2m2 0h1m7 0h2m44 0h2m42 0h5m10 0h2m46 0h3M155 305.6h1m5 0h2m14 0h3m10 0h2m1 0h1m9 0h2m28 0h1m3 0h2m14 0h2m19 0h2m2 0h5m29 0h2m19 0h6m30 0h3m10 0h1m7 0h1m2 0h2m3 0h1m6 0h2m59 0h2m9 0h1m152 0h5m25 0h2M259 318.2h2m238 0h2m2 0h1m57 0h1m64 0h2m18 0h2M436 330.8h1m19 0h2m2 0h1m16 0h1m2 0h3m4 0h4m10 0h1m1 0h1m1 0h2m2 0h2m2 0h1m13 0h4m3 0h3m10 0h1m9 0h2m8 0h5m25 0h3m4 0h2m4 0h1m3 0h2m2 0h2m2 0h4m2 0h2m6 0h1m2 0h4m4 0h1m2 0h4m6 0h2M503 343.4h1m3 0h2m4 0h1m5 0h2m1 0h2m4 0h3m14 0h2m2 0h2m2 0h2m6 0h1m16 0h2m24 0h4m2 0h6m2 0h4M148 356h2m9 0h1m1 0h2m9 0h3m5 0h3m10 0h1m25 0h2m9 0h7m37 0h2m7 0h2m14 0h2m213 0h1m9 0h3m18 0h2m4 0h2m6 0h1m1 0h1M165 368.6h2m16 0h2m5 0h2m14 0h4m7 0h4m3 0h1m5 0h4m5 0h1m13 0h4m21 0h3m13 0h2m3 0h2m1 0h1m195 0h1m3 0h1m2 0h2m6 0h1m15 0h2m8 0h4m31 0h3m15 0h1m48 0h5m6 0h2M216 381.2h1m10 0h1m50 0h3m13 0h2m334 0h2m16 0h2m14 0h3M167 393.8h1m341 0h2m17 0h1M138 406.4h2M138 419h3m24 0h1m9 0h1m21 0h1m4 0h1m60 0h3m19 0h2m231 0h1m10 0h2m3 0h3m37 0h3m1 0h2m20 0h1m13 0h2m16 0h3m12 0h1m12 0h2M150 431.6h1m2 0h2m4 0h1m5 0h1m19 0h1m8 0h1m2 0h1m27 0h2m3 0h4m17 0h2m17 0h2m9 0h2m173 0h2m13 0h3m28 0h1m12 0h1m2 0h1m24 0h2m29 0h3m9 0h1m42 0h3m23 0h2M143 444.2h4m4 0h4m39 0h1m38 0h1m6 0h2m24 0h1m21 0h1m12 0h1m84 0h1m114 0h1m3 0h3m10 0h1m24 0h2m2 0h1m1 0h2m9 0h1m9 0h2m15 0h3m10 0h1m3 0h4m8 0h2M140 456.8h1m34 0h2m11 0h2m2 0h5m5 0h1m36 0h1m26 0h1m5 0h2m17 0h2m9 0h1m79 0h1m7 0h1m23 0h3m85 0h1m15 0h1m15 0h3m2 0h2m16 0h2m11 0h2m44 0h2m4 0h3m5 0h2m15 0h1m4 0h2m3 0h1M155 469.4h3m5 0h2m35 0h2m1 0h2m19 0h3m30 0h2m11 0h2m19 0h2m241 0h3m115 0h2m8 0h2M141 482h2m34 0h6m2 0h1m7 0h1m12 0h4m2 0h3m10 0h2m34 0h2m9 0h2m7 0h2m14 0h2m2 0h1m8 0h7m16 0h3m11 0h2m22 0h1m2 0h2m1 0h2m4 0h3m4 0h1m17 0h2m185 0h2m4 0h3m2 0h2m21 0h1m5 0h1m1 0h2M140 494.6h1m9 0h1m2 0h3m3 0h1m28 0h4m1 0h1m3 0h1m7 0h1m6 0h3m4 0h2m4 0h2m12 0h1m9 0h2m2 0h2m11 0h4m2 0h2m13 0h1m3 0h2m9 0h3m1 0h2m13 0h2m13 0h3m37 0h3m3 0h1m3 0h1m4 0h2m5 0h1m11 0h2m9 0h3m173 0h3m1 0h5m4 0h1m2 0h1m18 0h3m2 0h2m19 0h2M138 507.2h3m5 0h2m2 0h1m5 0h2m1 0h1m7 0h3m15 0h1m9 0h2m9 0h2m25 0h1m2 0h1m20 0h2m2 0h1m6 0h2m6 0h2m3 0h2m5 0h3m2 0h1m3 0h2m3 0h3m1 0h4m9 0h4m18 0h3m47 0h4m259 0h1M151 519.8h4m1 0h2m19 0h3m3 0h2m7 0h1m1 0h3m3 0h2m3 0h1m4 0h2m7 0h2m13 0h2m1 0h2m12 0h2m15 0h2m6 0h2m13 0h2m19 0h2m5 0h2m8 0h2m13 0h3m10 0h2m12 0h1m26 0h1m4 0h2m16 0h3m4 0h1m3 0h3m4 0h2m17 0h2m4 0h2m12 0h2m126 0h2m2 0h1m17 0h1m1 0h2m20 0h2m10 0h3M305 532.4h1m2 0h2m2 0h2m14 0h1m2 0h2m8 0h3m5 0h5m7 0h3m19 0h4m11 0h1m4 0h2m19 0h2m1 0h1m178 0h2m2 0h1m15 0h3m18 0h1M138 545h2m7 0h1m5 0h3m10 0h1m10 0h3m10 0h3m4 0h1m19 0h2m5 0h1m8 0h4m5 0h3m2 0h2m2 0h4m11 0h1m3 0h4m2 0h2m10 0h6m8 0h3m26 0h2m33 0h3m60 0h1m5 0h1m10 0h1m1 0h2m4 0h2m5 0h3m2 0h2m21 0h2m13 0h1m9 0h1m120 0h1m12 0h2M143 557.6h3m17 0h4m5 0h1m32 0h10m27 0h5m4 0h2m17 0h2m4 0h2m9 0h1m13 0h2m3 0h2m6 0h3m8 0h2m9 0h3m10 0h3m2 0h3m12 0h2m3 0h2m3 0h1m2 0h1m7 0h3m19 0h2m7 0h7m66 0h2m11 0h1m87 0h2m3 0h1m7 0h2m40 0h2M166 570.2h2m2 0h2m23 0h2m1 0h2m2 0h1m2 0h1m2 0h2m6 0h3m5 0h1m14 0h1m15 0h2m2 0h3m21 0h2m6 0h2m12 0h1m6 0h5m2 0h2m15 0h3m20 0h2m10 0h1m2 0h2m1 0h2m1 0h2m4 0h1m20 0h5m5 0h2m5 0h2m199 0h1m4 0h2m9 0h2m9 0h2m1 0h2M156 582.8h2m2 0h1m9 0h2m26 0h2m8 0h2m26 0h1m8 0h2m2 0h2m2 0h4m13 0h2m4 0h5m20 0h1m10 0h2m13 0h1m11 0h1m42 0h1m8 0h4m8 0h2m19 0h3m12 0h2m52 0h1m93 0h3m35 0h1M158 595.4h1m13 0h3m1 0h1m8 0h1m12 0h2m15 0h1m5 0h3m15 0h1m27 0h1m8 0h2m3 0h2m5 0h1m7 0h3m240 0h2m10 0h2m90 0h3m8 0h1M151 608h2m135 0h1m102 0h2m109 0h2m29 0h1M156 620.6h2m2 0h1m24 0h1m9 0h3m17 0h1m33 0h2m12 0h3m25 0h2m1 0h2m218 0h1m3 0h1m9 0h3m12 0h2m3 0h1m11 0h1m101 0h2M395 633.2h2m106 0h1M188 645.8h2m365 0h2m4 0h1M138 658.4h2m100 0h2m52 0h2m259 0h2M180 671h3m14 0h1m8 0h2m7 0h1m33 0h2m23 0h2m12 0h1m5 0h3m55 0h2m29 0h1m114 0h1m16 0h1m13 0h2m10 0h2m8 0h2m2 0h4m34 0h2m42 0h2m8 0h1M138 683.6h2m3 0h3m223 0h2m50 0h3m75 0h2m149 0h2M489 696.2h4m26 0h2m1 0h2m4 0h1m4 0h1m77 0h2m1 0h2m9 0h1m2 0h1m14 0h4m15 0h2M138 708.8h3m7 0h2m9 0h4m3 0h1m5 0h3m8 0h3m4 0h3m2 0h5m3 0h3m2 0h2m6 0h1m7 0h1m3 0h2m4 0h2m4 0h2m7 0h4m8 0h1m14 0h2m7 0h3m1 0h2m2 0h4m6 0h3m2 0h2m2 0h5m4 0h2m8 0h5m3 0h1m4 0h3m5 0h9m3 0h2m5 0h1m5 0h2m1 0h2m1 0h1m7 0h4m8 0h2m14 0h2m5 0h1m1 0h2m1 0h1m12 0h2m2 0h2m16 0h2m3 0h3m3 0h3m5 0h2m4 0h2m5 0h1m10 0h2m2 0h1m4 0h3m3 0h2m3 0h4m16 0h2m9 0h2m5 0h3m7 0h3m1 0h1m8 0h2m58 0h4m3 0h1m2 0h2M146 721.4h1m12 0h1m13 0h2m17 0h1m31 0h1m2 0h1m9 0h2m1 0h2m25 0h1m37 0h3m9 0h2m6 0h2m6 0h6m10 0h3m2 0h3m2 0h2m19 0h4m6 0h1m2 0h2m12 0h3m2 0h2m5 0h2m11 0h3m1 0h1m13 0h2m9 0h5m95 0h1m24 0h1m38 0h1m9 0h1m3 0h2m6 0h1m2 0h2M141 734h12m3 0h2m3 0h2m2 0h1m4 0h2m3 0h1m7 0h3m8 0h1m7 0h3m1 0h4m2 0h4m1 0h2m2 0h6m3 0h3m6 0h3m5 0h4m2 0h4m2 0h2m1 0h1m3 0h1m14 0h2m2 0h3m14 0h1m3 0h4m2 0h2m9 0h2m2 0h1m1 0h2m5 0h3m2 0h3m3 0h2m8 0h2m5 0h5m7 0h1m7 0h3m20 0h1m2 0h2m7 0h9m2 0h1m1 0h3m1 0h1m7 0h3m9 0h2m16 0h4m5 0h2m2 0h4m5 0h2m1 0h2m6 0h1m1 0h4m16 0h4m8 0h2m4 0h1m1 0h4m2 0h2m71 0h1m6 0h2m4 0h5m8 0h4M147 746.6h1m2 0h1m2 0h7m3 0h3m4 0h2m22 0h4m5 0h5m4 0h7m9 0h2m7 0h3m2 0h5m6 0h2m4 0h2m5 0h1m1 0h2m2 0h4m9 0h2m1 0h3m6 0h2m11 0h2m2 0h5m2 0h4m2 0h2m25 0h3m9 0h3m10 0h3m1 0h1m14 0h1m13 0h2m13 0h2m6 0h1m6 0h4m4 0h2m4 0h4m1 0h3m4 0h9m1 0h2m5 0h2m7 0h2m69 0h2m5 0h2m10 0h3m5 0h1m37 0h2m11 0h3M430 759.2h2m9 0h3m3 0h1m4 0h2m6 0h6m8 0h3m3 0h5m13 0h1m5 0h1m3 0h1m4 0h1m1 0h1m6 0h4m1 0h1m13 0h2m10 0h2m6 0h1m28 0h2m34 0h4m2 0h3m22 0h1M141 771.8h2m8 0h2m3 0h2m2 0h1m4 0h1m6 0h1m3 0h1m6 0h10m15 0h2m15 0h2m1 0h2m7 0h2m1 0h2m20 0h4m2 0h2m2 0h9m8 0h2m3 0h2m1 0h2m11 0h2m7 0h2m7 0h1m23 0h5m7 0h2m13 0h1m2 0h1m1 0h2m4 0h7m1 0h1m2 0h4m2 0h1m4 0h5m7 0h4m4 0h4m3 0h7m2 0h2m8 0h2m4 0h7m7 0h2m11 0h3m13 0h1m13 0h1m5 0h2m5 0h3m4 0h4m2 0h1m1 0h4m2 0h2m2 0h1m2 0h3m7 0h2m3 0h1m48 0h4m5 0h1m10 0h2m4 0h3m5 0h4M616 784.4h2m11 0h1m2 0h7m7 0h2m9 0h1m6 0h3M175 797h1m7 0h2m21 0h2m54 0h1m7 0h2m55 0h1m101 0h1m1 0h1m9 0h1m2 0h2m6 0h2m17 0h3m3 0h1m13 0h3m54 0h1m94 0h3m6 0h2m4 0h2M140 809.6h1m5 0h1m3 0h3m2 0h1m2 0h1m16 0h1m1 0h3m5 0h1m22 0h2m9 0h2m16 0h2m10 0h2m16 0h1m4 0h2m28 0h1m16 0h2m18 0h1m1 0h3m13 0h4m15 0h1m22 0h2m2 0h2m108 0h1m17 0h2m28 0h1m85 0h1M140 822.2h1m5 0h2m11 0h1m6 0h1m13 0h5m10 0h2m8 0h1m9 0h1m12 0h6m8 0h3m36 0h2m4 0h1m1 0h2m38 0h2m13 0h5m17 0h3m14 0h1m129 0h1m2 0h2m6 0h2m11 0h2m28 0h3M570 834.8h2m6 0h4m2 0h3m39 0h2m13 0h2M454 847.4h2m10 0h2m17 0h2m6 0h1m99 0h4m3 0h6m2 0h2m12 0h3M652 860h2M140 872.6h1m29 0h5m13 0h2m4 0h1m7 0h1m3 0h2m20 0h2m23 0h2m8 0h3m12 0h3m4 0h3m3 0h2m38 0h2m36 0h2m41 0h2m3 0h2m83 0h1m16 0h5m10 0h3m11 0h1m11 0h1m9 0h2m9 0h1m5 0h3m60 0h2M163 897.8h2m3 0h2m18 0h2m8 0h2m5 0h1m10 0h3m9 0h2m7 0h2m18 0h2m2 0h1m6 0h2m101 0h1m4 0h1m3 0h2m16 0h1m6 0h2m92 0h2m21 0h2m9 0h1m82 0h2m37 0h2M141 910.4h2m7 0h3m2 0h3m2 0h1m2 0h2m5 0h5m8 0h2m7 0h1m2 0h2m6 0h3m2 0h2m7 0h4m6 0h3m4 0h3m8 0h2m6 0h2m2 0h2m7 0h1m16 0h2m3 0h3m6 0h2m6 0h1m2 0h2m4 0h3m4 0h2m2 0h2m2 0h7m11 0h2m10 0h5m2 0h3m10 0h1m10 0h1m16 0h1m9 0h9m1 0h1m1 0h6m4 0h2m17 0h2m4 0h10m9 0h6m2 0h2m5 0h4m12 0h1m1 0h2m1 0h2m5 0h1m1 0h1m5 0h5m4 0h2m2 0h2m6 0h2m8 0h2m10 0h1m2 0h2m2 0h6m18 0h2m3 0h5m2 0h2m8 0h2m30 0h2M146 923h1m8 0h1m24 0h3m47 0h3m6 0h1m15 0h2m2 0h2m28 0h2m3 0h2m70 0h3m13 0h1m7 0h1m2 0h2m22 0h2m229 0h2M148 935.6h2m11 0h5m6 0h1m4 0h3m18 0h2m30 0h3m1 0h3m195 0h3m26 0h3m25 0h2m113 0h2m5 0h2m9 0h4M138 1011.2h2m7 0h1m5 0h2m4 0h1m10 0h2m4 0h1m29 0h2m17 0h2m7 0h2m25 0h1m29 0h2m35 0h1m18 0h2m5 0h3m20 0h2m24 0h2m22 0h1m71 0h2m4 0h2m14 0h1m15 0h2m6 0h2m35 0h2m6 0h2m9 0h3m10 0h4m10 0h1m10 0h2M153 1023.8h2m18 0h2m2 0h6m14 0h1m4 0h1m18 0h4m15 0h2m3 0h2m4 0h2m4 0h2m8 0h3m4 0h4m7 0h2m2 0h2m70 0h3m26 0h1m59 0h2m35 0h2m35 0h2m7 0h1m58 0h1m15 0h3m11 0h3m4 0h1m2 0h3m12 0h1M312 1036.4h2m9 0h2m14 0h1m7 0h2m3 0h2m5 0h2m3 0h2m5 0h1m5 0h2m8 0h3m5 0h2m1 0h1m6 0h2m3 0h2m23 0h1m3 0h2m7 0h2m4 0h2m10 0h2m28 0h2m106 0h2m7 0h1m4 0h2M160 1049h1m15 0h1m70 0h2m13 0h1m24 0h1m1 0h2m222 0h1m7 0h1m7 0h2m17 0h1m11 0h1m65 0h2m1 0h1m9 0h2M310 1061.6h2m11 0h2m11 0h3m25 0h2m8 0h2m3 0h1m57 0h2m2 0h1m24 0h2m34 0h1m6 0h2m4 0h1m3 0h2m6 0h1m21 0h2m10 0h1m8 0h2m8 0h1m32 0h1m14 0h2m9 0h2M629 1099.4h3m4 0h1m2 0h4m4 0h1M515 1112h1m17 0h1m94 0h1m7 0h1m13 0h2M147 1124.6h3m17 0h1m4 0h1m4 0h3m5 0h1m12 0h2m3 0h3m10 0h1m10 0h3m4 0h3m2 0h3m25 0h7m7 0h2m13 0h3m199 0h1m8 0h1m3 0h2m13 0h1m74 0h5m4 0h1m11 0h3M138 1137.2h2m84 0h1m11 0h1m54 0h2m59 0h2m25 0h1m2 0h1m16 0h2m98 0h2m48 0h2m8 0h1m66 0h3m7 0h1m9 0h2M331 1149.8h2m19 0h2m5 0h2m8 0h2m8 0h1m6 0h1m4 0h2m6 0h2m2 0h2m2 0h1m11 0h2m3 0h2m1 0h1m14 0h2m47 0h2m111 0h2m42 0h2M310 1162.4h2m9 0h2m17 0h1m8 0h3m24 0h1m13 0h1m7 0h1m4 0h2m22 0h1m7 0h1m30 0h2m33 0h1m25 0h1m9 0h2m72 0h2m13 0h2m2 0h2m3 0h1m10 0h1"/><path stroke="#866" d="M312 104h2m19 0h3m63 0h2m9 0h2M364 116.6h2m8 0h2m21 0h1M366 129.2h3m45 0h5M186 230h2m106 0h2M276 255.2h2M155 280.4h1m7 0h2m128 0h1M163 305.6h2m35 0h2m89 0h2m266 0h1M574 343.4h3M527 431.6h1M190 456.8h2m44 0h1m39 0h2m62 0h1m187 0h1m20 0h2M156 872.6h2m108 0h1m140 0h1M511 1011.2h2m42 0h2M504 1036.4h1m16 0h1m27 0h2M502 1049h2m1 0h2m4 0h2m9 0h2m23 0h1M192 1061.6h1m47 0h2m24 0h1M545 1124.6h2"/><path stroke="#cb4" d="M336 104h3m38 0h2m38 0h2M371 116.6h1M305 129.2h1m71 0h2m14 0h2m4 0h2M247 230h2M202 255.2h1m52 0h2m15 0h2M539 305.6h2m12 0h2M176 419h1M183 456.8h3m82 0h2m11 0h2m22 0h1M308 872.6h2m216 0h1m2 0h2m6 0h2M508 1036.4h1m25 0h3m22 0h1M574 1049h3m4 0h1M498 1112h1m2 0h1m11 0h1M522 1162.4h2m9 0h1"/><path stroke="#985" d="M340 104h1m20 0h5m6 0h2M405 116.6h2M155 230h1m38 0h1m7 0h1M141 255.2h2M161 280.4h2m43 0h2m4 0h3M160 305.6h1m41 0h1m93 0h1M159 419h1M148 456.8h2m105 0h2m95 0h2m30 0h2m127 0h1M518 696.2h1m22 0h2M161 872.6h2m166 0h2M555 1036.4h2M534 1049h3m18 0h2M141 1061.6h2m51 0h1m20 0h1m1 0h2m14 0h1m25 0h2m24 0h2M551 1112h2M543 1124.6h2m4 0h2M499 1162.4h2m13 0h1m34 0h2"/><path stroke="#527" d="M383 104h1m3 0h3m17 0h3m2 0h2m7 0h3m135 0h1M547 116.6h1m53 0h3M217 129.2h2m93 0h2m22 0h3m35 0h2m4 0h2m19 0h2m4 0h1m11 0h2M333 141.8h3m93 0h1m34 0h2m12 0h2m48 0h1m12 0h2m4 0h1m22 0h2m9 0h1M494 154.4h2m5 0h1m75 0h1m4 0h4M233 167h1m137 0h1m67 0h3m12 0h2m8 0h2m5 0h3m6 0h3m43 0h1m10 0h2m109 0h2M574 179.6h3m3 0h2m2 0h2m60 0h1m5 0h2M435 192.2h1m1 0h2m9 0h2m30 0h3M446 217.4h1m11 0h2m6 0h2m9 0h6m4 0h2m4 0h3m47 0h2m6 0h2m9 0h3m21 0h4m57 0h1m6 0h1M151 230h2m6 0h1m5 0h1m4 0h2m5 0h3m3 0h2m13 0h2m8 0h2m2 0h3m2 0h2m18 0h2m10 0h2m2 0h2m38 0h1m332 0h2M435 242.6h1m11 0h1m29 0h3m3 0h8m3 0h2m17 0h1m58 0h2m7 0h1m5 0h3m16 0h2m17 0h1m32 0h2M193 255.2h1m43 0h2M570 267.8h2m54 0h3m14 0h3m12 0h4M151 280.4h2m57 0h2M155 293h1m47 0h3m34 0h2m24 0h1m165 0h3m12 0h1m43 0h3m8 0h1m4 0h1m5 0h1m4 0h1m8 0h1m5 0h1m33 0h3m10 0h1m1 0h2m53 0h2M401 305.6h2m7 0h2m91 0h1m20 0h2m17 0h2m4 0h2m10 0h1m5 0h5m14 0h1m65 0h2m8 0h2M548 318.2h3m29 0h1m67 0h2M234 343.4h2M167 356h1m37 0h1m4 0h2m5 0h2m18 0h2m16 0h2m31 0h5m17 0h2m28 0h1m6 0h5m5 0h2m2 0h3m13 0h2m7 0h1m10 0h6m4 0h1m13 0h3m2 0h2m71 0h2m2 0h2m13 0h1m10 0h2m12 0h2m50 0h2m9 0h2m2 0h1m7 0h4m26 0h2m4 0h1M225 368.6h2m18 0h2m54 0h1m4 0h2m17 0h2m20 0h5m22 0h2m1 0h3m7 0h3m18 0h2m104 0h2m3 0h2m22 0h2m3 0h1m2 0h4m5 0h1m50 0h2m1 0h2m4 0h2m36 0h2m2 0h2M140 381.2h1m17 0h1m4 0h2m3 0h4m3 0h1m1 0h3m6 0h2m7 0h2m1 0h2m2 0h1m14 0h2m6 0h2m1 0h2m7 0h2m10 0h2m6 0h2m2 0h1m14 0h2m221 0h2m2 0h1m12 0h2m9 0h1m1 0h2m2 0h1m3 0h2m10 0h4m4 0h3M138 393.8h3m5 0h1m3 0h1m14 0h1m2 0h2m5 0h5m6 0h6m2 0h3m3 0h2m22 0h1m3 0h2m3 0h1m3 0h2m8 0h2m8 0h2m3 0h1m3 0h1m3 0h2m2 0h2m5 0h4m6 0h3m8 0h3m3 0h2m9 0h4m2 0h4m2 0h2m8 0h8m12 0h3m5 0h3m7 0h3m1 0h1m9 0h2m4 0h2m7 0h9m4 0h3m3 0h1m76 0h1m3 0h1m7 0h6m11 0h4m10 0h1m9 0h3m104 0h3M305 406.4h1m15 0h2m2 0h2m2 0h2m8 0h1m4 0h3m14 0h3m12 0h3m3 0h1m4 0h3m3 0h2m10 0h2m1 0h2m14 0h2m226 0h2M297 419h2m329 0h1M234 431.6h2m424 0h2M138 444.2h2m7 0h1m7 0h1m9 0h1m4 0h2m11 0h2m8 0h1m9 0h2m1 0h4m7 0h4m3 0h1m9 0h2m11 0h2m2 0h2m2 0h2m10 0h1m6 0h2m17 0h1m70 0h2m51 0h2m7 0h1m76 0h1m4 0h1m18 0h1m5 0h1m5 0h2m14 0h2m38 0h5m10 0h1m2 0h1m8 0h3m10 0h1m19 0h2M374 456.8h2m278 0h1M150 469.4h1m10 0h2m9 0h1m3 0h1m17 0h1m13 0h4m41 0h2m21 0h2m15 0h1m3 0h2m13 0h2m68 0h1m8 0h4m26 0h3m166 0h2m19 0h2m28 0h2M372 482h2m47 0h3m7 0h4m19 0h2m5 0h3m2 0h2m10 0h5m6 0h4m127 0h2M333 494.6h3m38 0h2m3 0h3m2 0h2m28 0h3m12 0h1m6 0h1m13 0h2m2 0h6m34 0h4m116 0h2M197 507.2h1m116 0h3m11 0h3m8 0h1m24 0h2m10 0h1m6 0h1m2 0h1m11 0h1m4 0h2m19 0h2m169 0h2M328 519.8h1m10 0h1m12 0h2m5 0h5m5 0h2m5 0h1m5 0h1m3 0h1m14 0h2m16 0h2m10 0h1m28 0h1m13 0h4m5 0h2m6 0h2m1 0h2M329 532.4h2m2 0h3m18 0h3m15 0h2m33 0h1m2 0h2m210 0h3M267 545h1m164 0h3m23 0h2m8 0h3m140 0h3m44 0h2M158 557.6h1m98 0h2m38 0h2m81 0h2m13 0h2m228 0h1m11 0h2m21 0h2M321 570.2h2m10 0h3m11 0h2m77 0h1m1 0h1m12 0h1m4 0h1m1 0h2m6 0h2m16 0h3m8 0h4m4 0h1m2 0h2m138 0h1M336 582.8h3m33 0h2m54 0h1m2 0h1m3 0h1m6 0h2m4 0h2m6 0h2m6 0h4m23 0h2m1 0h4m99 0h3m4 0h4m3 0h2m44 0h1M143 595.4h4m13 0h1m14 0h1m17 0h1m1 0h2m27 0h3m20 0h4m11 0h4m21 0h1m3 0h2m9 0h1m37 0h1m13 0h3m72 0h1m9 0h5m33 0h1m7 0h2m4 0h2M140 608h1m9 0h1m2 0h5m1 0h1m7 0h1m9 0h3m5 0h1m4 0h2m1 0h1m1 0h3m2 0h2m13 0h1m17 0h1m17 0h4m2 0h2m2 0h5m1 0h1m2 0h2m2 0h4m13 0h6m4 0h1m352 0h1M140 620.6h1m5 0h2m10 0h1m2 0h2m3 0h2m4 0h3m1 0h1m17 0h1m3 0h2m5 0h1m13 0h2m3 0h1m8 0h1m8 0h3m21 0h4m6 0h2m5 0h2m2 0h1m217 0h2m40 0h1m9 0h2m99 0h2M498 633.2h3m12 0h1m2 0h2m3 0h1m4 0h1m2 0h5m21 0h2m4 0h1m33 0h2m16 0h1m6 0h5m33 0h2M502 645.8h1m6 0h2m2 0h1m1 0h1m2 0h3m3 0h2m33 0h2m93 0h1m3 0h2M498 658.4h1m8 0h1m3 0h2m3 0h6m2 0h2m2 0h1m2 0h6m2 0h2m4 0h2m1 0h1m55 0h4m8 0h4m38 0h2m4 0h3M138 671h2m6 0h1m4 0h2m3 0h2m3 0h2m25 0h2m4 0h1m3 0h2m12 0h3m13 0h5m4 0h5m15 0h2m13 0h2m28 0h1m14 0h2m8 0h1m3 0h2m3 0h3m2 0h6m10 0h4m3 0h2m3 0h3m2 0h2m6 0h1m8 0h8m8 0h1m6 0h3m110 0h1m25 0h2m58 0h1m2 0h2m4 0h3m33 0h2m2 0h2M141 683.6h2m3 0h1m3 0h1m4 0h1m5 0h2m3 0h2m5 0h2m13 0h2m2 0h8m3 0h2m1 0h4m7 0h2m5 0h1m3 0h5m7 0h2m9 0h2m8 0h2m3 0h1m1 0h2m19 0h2m2 0h3m1 0h2m9 0h4m2 0h5m8 0h1m1 0h2m8 0h1m4 0h5m3 0h2m3 0h2m7 0h3m3 0h4m6 0h1m1 0h2m4 0h1m4 0h2m4 0h6m17 0h2m1 0h1m70 0h1m3 0h1m12 0h1m2 0h1m18 0h2m6 0h2m12 0h1m1 0h1m96 0h2m2 0h2M148 696.2h2m15 0h1m9 0h1m10 0h2m67 0h2m2 0h3m16 0h5m8 0h2m71 0h5m13 0h1m116 0h2m2 0h1m1 0h2m94 0h3m2 0h2m2 0h1m5 0h2m19 0h2M405 721.4h2m37 0h2m22 0h3m31 0h1m5 0h3m3 0h1m4 0h3m7 0h2m34 0h5m67 0h2m21 0h2M168 759.2h2m22 0h1m138 0h2m251 0h2M430 797h1m16 0h1m26 0h3m34 0h2m9 0h2m7 0h2m4 0h2m22 0h1m3 0h5m2 0h2m18 0h1M428 809.6h1m6 0h1m10 0h1m38 0h2m17 0h1m28 0h1m3 0h2m39 0h2m6 0h1M160 822.2h1m55 0h1m213 0h1m6 0h2m25 0h2m12 0h5m2 0h2m11 0h1m2 0h1m7 0h2m11 0h2m4 0h3m29 0h1m4 0h2m15 0h2m45 0h1M259 872.6h2m66 0h1m26 0h3m7 0h2M138 897.8h2m3 0h3m9 0h1m17 0h2m10 0h1m22 0h4m7 0h2m3 0h3m13 0h2m11 0h2m15 0h2m9 0h2m5 0h3m6 0h2m2 0h1m203 0h3m6 0h1m6 0h1m2 0h2m1 0h1m32 0h2M208 923h2m30 0h2m39 0h2m66 0h3m49 0h2m5 0h2m38 0h2m6 0h2m2 0h4m2 0h2m17 0h2m2 0h2m12 0h1m10 0h1m6 0h1m9 0h2m12 0h2m12 0h1m51 0h2m5 0h2m42 0h2M312 935.6h2m19 0h3m50 0h1m4 0h2m10 0h2m188 0h2M160 1011.2h1m7 0h2m32 0h3m12 0h2m23 0h3m6 0h2m4 0h2m13 0h2m20 0h2m132 0h1m6 0h1m1 0h4m6 0h1m4 0h4m5 0h3m10 0h3m3 0h5m2 0h2m4 0h1m2 0h3m10 0h2m3 0h2m6 0h2m4 0h1m2 0h2m10 0h2m3 0h1m73 0h3m4 0h1m7 0h2M163 1023.8h2m47 0h3m72 0h1m11 0h2m136 0h2m3 0h2m2 0h2m10 0h2m8 0h6m48 0h2m3 0h1m11 0h2m2 0h2m2 0h1m5 0h2m2 0h2m18 0h1m58 0h1m2 0h2M190 1036.4h2m122 0h3m19 0h3m5 0h3m56 0h2m2 0h1m70 0h2m14 0h2m23 0h2m5 0h1m53 0h4m2 0h1M185 1049h1m111 0h2m99 0h1m9 0h2m94 0h1m21 0h1m6 0h1m31 0h2m10 0h1m9 0h3m11 0h3m10 0h2m30 0h1M150 1061.6h1m4 0h1m21 0h3m30 0h2m4 0h1m25 0h5m34 0h2m216 0h2m13 0h1m110 0h1m20 0h1M369 1112h2m26 0h1M212 1124.6h3m10 0h2m49 0h2m7 0h2m1 0h1m123 0h2M515 1137.2h1m15 0h2m10 0h2m6 0h2m19 0h2m8 0h2M203 1149.8h2m67 0h2m13 0h1m78 0h3m28 0h1m14 0h2m85 0h2m13 0h1m3 0h1m18 0h2m10 0h4m2 0h2m15 0h2m3 0h3m26 0h2m14 0h3m22 0h1M140 1162.4h1m71 0h3m97 0h2m17 0h2m74 0h1m28 0h1m10 0h3m18 0h3m7 0h2m3 0h2m2 0h6m5 0h1m20 0h2m27 0h1m8 0h2m11 0h2m2 0h3m3 0h1"/><path stroke="#416" d="M565 104h2m3 0h4m7 0h5M303 129.2h2M428 141.8h1m2 0h1m4 0h1m5 0h2m2 0h1m5 0h2m2 0h8m2 0h2m3 0h3m9 0h2m6 0h3m66 0h1m11 0h5m7 0h3m3 0h2M444 154.4h2m1 0h1m8 0h2m3 0h3m7 0h6m1 0h2m3 0h2m2 0h2m2 0h2m3 0h2m4 0h1m140 0h3M278 167h3m85 0h3m135 0h1m4 0h2m7 0h1m2 0h1m50 0h2m6 0h1m3 0h2m76 0h2M562 179.6h3m12 0h1m4 0h2m2 0h1M461 192.2h5m61 0h2m53 0h2M430 217.4h1m4 0h1m3 0h5m3 0h1m6 0h2m15 0h3m11 0h2m2 0h2m79 0h2m5 0h1m3 0h3M230 230h3m50 0h2m347 0h3M194 242.6h1m372 0h3m20 0h2m63 0h2M428 267.8h1m7 0h1m19 0h2m16 0h3m17 0h4m26 0h2m48 0h4m12 0h3m59 0h3M635 293h1M185 305.6h1m65 0h2m17 0h2m25 0h2m133 0h3m2 0h2m19 0h2m27 0h2m2 0h2m3 0h2m16 0h1m128 0h3M436 318.2h1m13 0h2m22 0h3m14 0h2m5 0h1m63 0h3m5 0h2m18 0h2m36 0h1M257 356h2m263 0h2m10 0h3m18 0h2M527 368.6h1m19 0h1M156 381.2h2m138 0h1m6 0h2m3 0h4m5 0h2m9 0h5m26 0h2m8 0h2m11 0h1m1 0h2m4 0h1m10 0h4m9 0h3m114 0h2m10 0h2m56 0h3m2 0h2M156 393.8h2m34 0h1m10 0h2m16 0h3m1 0h2m61 0h1m8 0h2m206 0h2m24 0h2m4 0h2m22 0h1m46 0h2M143 406.4h4m12 0h1m6 0h1m8 0h5m13 0h1m3 0h1m7 0h1m21 0h1m5 0h3m1 0h3m15 0h2m2 0h4m5 0h2m11 0h2m2 0h2m9 0h1m205 0h1m10 0h2m6 0h1m2 0h3m4 0h3m11 0h2m6 0h2m4 0h1m33 0h2m15 0h3m7 0h2M281 444.2h2M340 469.4h1m16 0h2m15 0h2m126 0h1m2 0h2m7 0h1m7 0h2m21 0h2m10 0h3m17 0h1M600 482h1m57 0h2M341 494.6h3m80 0h2m1 0h1M427 507.2h1m16 0h2m1 0h1m8 0h2m2 0h1m5 0h2m9 0h1m2 0h5m9 0h2m114 0h1M317 519.8h2m12 0h2m41 0h2m38 0h3m19 0h1m4 0h1m6 0h2m43 0h1M431 532.4h1m3 0h2m2 0h3m5 0h1m4 0h2m4 0h2m6 0h5m3 0h4m9 0h2m7 0h2M156 545h2m40 0h2m230 0h1m21 0h2m6 0h1m24 0h4m104 0h2M428 557.6h3m1 0h3m7 0h2m17 0h3m7 0h3m6 0h3m4 0h2m157 0h1M412 570.2h2M595 582.8h2m3 0h1M155 595.4h1m9 0h1m20 0h2m39 0h1m27 0h2m17 0h2m18 0h2m40 0h3M141 608h2m5 0h2m60 0h2m18 0h3m4 0h2m66 0h3m11 0h2m6 0h1m8 0h3m10 0h3m7 0h2m5 0h3m39 0h2m4 0h3m2 0h5m2 0h1m72 0h2m7 0h1m4 0h1m13 0h1m19 0h1m1 0h2m8 0h1m1 0h1m38 0h4m7 0h2m37 0h2m3 0h3M202 620.6h1m25 0h2m21 0h2m6 0h3m12 0h2m17 0h1m16 0h4m5 0h2m2 0h5m5 0h3m3 0h1m21 0h3m2 0h6m10 0h1m1 0h2m11 0h2m25 0h2m1 0h1m74 0h2m27 0h2m60 0h2m11 0h2m2 0h1m11 0h3m29 0h1M161 633.2h2m4 0h1m15 0h2m10 0h2m6 0h2m44 0h2m6 0h2m8 0h1m10 0h3m7 0h1m25 0h3m2 0h2m89 0h2m139 0h2m6 0h1m33 0h2m5 0h1m10 0h2M140 645.8h1m14 0h1m7 0h2m1 0h2m4 0h1m19 0h1m47 0h2m5 0h2m4 0h4m24 0h2m2 0h2m9 0h3m6 0h1m99 0h2m104 0h2m8 0h1m6 0h1m2 0h2m6 0h2m10 0h4m40 0h2m11 0h2m3 0h1m6 0h2m35 0h1M146 658.4h1m4 0h2m110 0h3m8 0h4m34 0h2m11 0h2m1 0h1m2 0h2m16 0h3m9 0h5m5 0h3m33 0h1m4 0h2m91 0h2m7 0h1m139 0h1M141 671h2m10 0h2m35 0h2m24 0h1m25 0h3m52 0h2m11 0h2m28 0h1m67 0h2m123 0h1m66 0h4m6 0h1M147 683.6h1m15 0h2m20 0h1m19 0h1m6 0h3m21 0h1m26 0h3m8 0h2m12 0h1m125 0h3m90 0h1m5 0h1m7 0h1m7 0h2m75 0h2m3 0h2m7 0h2m33 0h2M161 696.2h2m10 0h2m37 0h3m1 0h1m30 0h2m14 0h3m22 0h1m40 0h2m18 0h3m2 0h3m42 0h2m106 0h1m41 0h2m9 0h1m36 0h4m3 0h2M498 721.4h3m2 0h1m14 0h1m7 0h1m4 0h2m51 0h2M197 759.2h1M428 797h1m8 0h2m19 0h2m20 0h3m30 0h2m11 0h1m12 0h2m16 0h2m1 0h1M147 809.6h3m6 0h2m12 0h2m16 0h2m38 0h5m35 0h2m21 0h2m139 0h3m15 0h2m115 0h3m14 0h2m4 0h2M202 822.2h1m369 0h2m13 0h3M306 897.8h2m13 0h4m52 0h2m11 0h1m21 0h2m12 0h1m71 0h1m2 0h1m29 0h2m8 0h7m116 0h3M192 923h1m210 0h2m21 0h1m151 0h2m6 0h4m2 0h1M323 935.6h2m80 0h2m92 0h3m26 0h1m24 0h2m2 0h2m2 0h1m20 0h2m68 0h2m4 0h4M146 1011.2h1m19 0h1m10 0h3m5 0h1m12 0h2m67 0h1m2 0h2m290 0h3m7 0h2M263 1023.8h3m162 0h1m35 0h2m8 0h4m2 0h3m8 0h2m5 0h1m15 0h1m6 0h1m6 0h1m2 0h2m16 0h2m14 0h2m15 0h2m57 0h2m14 0h1M331 1036.4h2m170 0h1m70 0h3m69 0h1M432 1049h3m2 0h2m3 0h2m10 0h2m15 0h3m3 0h1m2 0h3m6 0h2m18 0h2m109 0h2m38 0h2M143 1061.6h3m1 0h1m22 0h2m18 0h2m33 0h2m1 0h2m31 0h1m25 0h2m10 0h2m27 0h3m2 0h3m40 0h1m5 0h1m24 0h1m13 0h5m87 0h1m19 0h1M391 1112h2M255 1124.6h2M428 1137.2h1m42 0h3m4 0h2m39 0h2m39 0h1m19 0h1m5 0h4M245 1149.8h2m100 0h2m149 0h1m9 0h1m4 0h1m5 0h2m12 0h1m5 0h2m4 0h2m10 0h2m6 0h2m13 0h2m2 0h2m1 0h3m2 0h1m4 0h3m37 0h2M428 1162.4h1m8 0h2m2 0h1m2 0h2m6 0h2m10 0h2m19 0h2m6 0h1m15 0h4m3 0h2m25 0h2m92 0h2"/><path stroke="#acd" d="M141 129.2h2M344 141.8h3m19 0h3m55 0h2m85 0h3m37 0h4m71 0h2m15 0h3M148 154.4h2m3 0h2m3 0h1m1 0h3m5 0h2m7 0h3m5 0h1m2 0h4m1 0h4m1 0h2m5 0h1m6 0h3m4 0h5m4 0h2m6 0h1m2 0h3m17 0h3m4 0h2m2 0h2m6 0h3m7 0h1m2 0h3m7 0h1m45 0h2m192 0h4m10 0h2m44 0h3m9 0h1m32 0h1M141 167h2m15 0h1m24 0h2m36 0h3m12 0h1m5 0h3m16 0h1m10 0h2m2 0h2m5 0h4m9 0h1m24 0h2m53 0h1m10 0h3m11 0h2m108 0h2m36 0h2m67 0h2M303 179.6h2m75 0h2m4 0h1m158 0h2M303 192.2h2m9 0h3m32 0h3m53 0h2m12 0h5m7 0h1m163 0h2m13 0h1m14 0h1M138 217.4h2m25 0h1m6 0h1m27 0h2m22 0h1m34 0h2m5 0h1m27 0h2m9 0h1m108 0h3m81 0h1m114 0h1M143 242.6h3m4 0h3m2 0h1m44 0h2m31 0h1m29 0h3m44 0h2m5 0h2m17 0h3m20 0h2m8 0h2m19 0h1m6 0h1m1 0h4m9 0h2m10 0h2m98 0h2m25 0h2m2 0h2M193 267.8h1m4 0h2m5 0h1m11 0h2m43 0h1m9 0h2m14 0h1m14 0h3m2 0h2m15 0h2m2 0h10m2 0h3m5 0h3m9 0h3m2 0h3m2 0h1m10 0h2m2 0h1m6 0h2m2 0h2m2 0h2m5 0h2m7 0h2m115 0h5m12 0h4M147 293h1m139 0h1m39 0h1m19 0h2m12 0h3m12 0h1m16 0h2m19 0h3m104 0h1m31 0h2m51 0h2M325 305.6h2m17 0h3m72 0h2M141 318.2h2m8 0h2m17 0h2m5 0h3m3 0h2m9 0h1m35 0h3m7 0h2m19 0h1m254 0h2m79 0h3m6 0h2m2 0h1m2 0h1M483 356h2m93 0h2m6 0h1M436 368.6h1m21 0h2m1 0h3m122 0h1m52 0h2m5 0h2M578 381.2h2m49 0h1m2 0h4m3 0h2M572 393.8h2m7 0h1m2 0h2m6 0h1M629 406.4h1m11 0h2m3 0h2M428 419h1m15 0h2m41 0h4m5 0h2m67 0h2m10 0h1m9 0h3M428 431.6h1m7 0h1m23 0h1m24 0h2m6 0h1m2 0h2m80 0h2m2 0h2M435 444.2h1m24 0h1m121 0h2m6 0h2M580 456.8h1m6 0h3m38 0h1m7 0h1m2 0h2M352 469.4h2m12 0h3M173 482h3m18 0h1m26 0h3m16 0h2m25 0h1m19 0h1m14 0h1m196 0h2m61 0h3m22 0h3m42 0h3m20 0h2M513 494.6h2m7 0h2M151 507.2h2m5 0h1m140 0h2m201 0h1m5 0h1m2 0h2m13 0h1m12 0h2m10 0h2m4 0h3m24 0h2m6 0h1m42 0h2m9 0h1m3 0h2M141 519.8h2m20 0h3m22 0h2m7 0h1m305 0h2m2 0h1m5 0h1m8 0h2M146 532.4h1m355 0h1m6 0h2m28 0h2m2 0h2m10 0h2m10 0h3m80 0h2M175 545h1m102 0h3m24 0h1m17 0h2m3 0h1m7 0h4m1 0h3m25 0h2m6 0h2m16 0h3m21 0h2m6 0h1m77 0h2m14 0h1m2 0h2m11 0h2m4 0h2m15 0h1m80 0h2M151 557.6h2m7 0h1m341 0h1m8 0h2m9 0h2M160 570.2h1m92 0h2m41 0h1m34 0h2m171 0h1m3 0h1m52 0h1m42 0h2M138 582.8h2m10 0h5m6 0h2m4 0h3m15 0h1m4 0h2m5 0h1m2 0h2m26 0h2m21 0h2m10 0h3m2 0h2m11 0h2m144 0h1m142 0h2m18 0h2M327 595.4h1m170 0h1m6 0h2m2 0h2m37 0h1m62 0h2m19 0h3M630 608h2m4 0h1M436 620.6h1m4 0h1m22 0h2m12 0h2m3 0h2m2 0h2m2 0h3m65 0h1m66 0h2m11 0h2M643 633.2h3M436 645.8h1m15 0h2m14 0h3M628 658.4h1m6 0h1m11 0h1M428 671h1m7 0h1m10 0h1m16 0h2m11 0h3m85 0h2m5 0h2M567 683.6h3m55 0h1m17 0h4M410 696.2h2m174 0h1m3 0h2M140 721.4h3m4 0h1m10 0h1m1 0h1m33 0h1m2 0h1m5 0h2m23 0h2m21 0h2m4 0h2m3 0h1m20 0h4m6 0h3m5 0h1m146 0h2m16 0h2M600 734h1M138 797h2m1 0h2m3 0h1m9 0h2m5 0h3m7 0h2m2 0h3m13 0h1m4 0h2m15 0h1m5 0h4m2 0h1m8 0h1m3 0h2m21 0h3m1 0h3m11 0h2m4 0h4m6 0h2m3 0h1m22 0h2m1 0h1m37 0h5m1 0h2m2 0h1m2 0h1m2 0h1m1 0h2m4 0h3m17 0h2m192 0h2m10 0h2m4 0h3m10 0h1m18 0h1M173 809.6h2m128 0h2m5 0h2m9 0h4m3 0h1m7 0h3m27 0h3m17 0h1m8 0h3m21 0h2m3 0h3m168 0h2m7 0h2M141 822.2h2m24 0h3m93 0h3m30 0h1m5 0h1m11 0h3m14 0h2m8 0h3m61 0h2m193 0h1m10 0h2m3 0h2M635 834.8h1M625 847.4h1m21 0h1M629 860h1m5 0h1m10 0h1M448 872.6h2m37 0h2m139 0h2M626 885.2h3M584 897.8h2m39 0h1m10 0h1M148 923h2m26 0h1m48 0h2m147 0h2m7 0h1m241 0h1m4 0h2m14 0h1M159 935.6h1m15 0h1m4 0h3m9 0h1m19 0h3m12 0h1m21 0h4m4 0h2m9 0h2m2 0h2m15 0h2m11 0h1m7 0h2m117 0h1m5 0h2m5 0h2m30 0h3m3 0h3m2 0h2m6 0h1m2 0h2m128 0h3m8 0h2m7 0h1M161 1011.2h2m4 0h1m15 0h2m60 0h2m63 0h2m5 0h2m33 0h2m29 0h1m11 0h2m1 0h1m11 0h2m185 0h3m10 0h1M141 1023.8h2m7 0h3m6 0h1m7 0h1m30 0h2m25 0h2m35 0h1m45 0h2m31 0h3m3 0h2m25 0h2m22 0h3m4 0h3m4 0h2m13 0h1m169 0h3m11 0h2m3 0h2M176 1036.4h1m68 0h2m146 0h2M143 1049h3m17 0h2m7 0h1m4 0h3m28 0h2m9 0h2m16 0h2m18 0h2m7 0h1m107 0h2M138 1061.6h2m123 0h3m311 0h1m28 0h2m8 0h2m12 0h2m22 0h1M148 1137.2h2m1 0h2m10 0h2m25 0h2m18 0h5m12 0h1m14 0h3m2 0h2m2 0h2m8 0h1m5 0h1m4 0h2m22 0h1m9 0h2m19 0h1m26 0h3m4 0h3m2 0h3m7 0h1m7 0h2m1 0h8m32 0h1m88 0h2m19 0h2m56 0h2m9 0h2m3 0h2m22 0h1M212 1149.8h3m10 0h2m24 0h2m23 0h2m7 0h2m9 0h1m26 0h2m4 0h2m108 0h2m6 0h1m45 0h1m134 0h1M146 1162.4h1m51 0h2m3 0h2m10 0h1m11 0h1m8 0h1m18 0h2m32 0h2m110 0h2m211 0h4m4 0h3"/><path stroke="#9bc" d="M190 129.2h2m5 0h1m10 0h2m30 0h2m46 0h1M138 141.8h3m9 0h1m9 0h1m4 0h5m2 0h3m1 0h1m13 0h2m1 0h1m8 0h6m4 0h3m2 0h4m3 0h6m4 0h6m9 0h2m4 0h2m2 0h2m2 0h4m21 0h1m19 0h2m7 0h2m4 0h2m3 0h1m18 0h2m22 0h1m2 0h2m11 0h3m112 0h1m1 0h3m2 0h2m22 0h1m11 0h2m1 0h1m12 0h1m54 0h2m2 0h2m7 0h1m6 0h1M312 154.4h2m5 0h2m6 0h1m31 0h5m8 0h4m19 0h2m6 0h2m3 0h2m127 0h4m6 0h2m4 0h2m40 0h2m23 0h2m6 0h1M140 167h1m9 0h1m2 0h2m11 0h1m1 0h2m23 0h2m7 0h1m9 0h3m1 0h1m7 0h1m9 0h2m1 0h3m11 0h2m2 0h4m8 0h1m19 0h1m9 0h2m18 0h2m10 0h4m6 0h1m12 0h2m23 0h2m18 0h1m21 0h2m92 0h1m2 0h2m9 0h1m6 0h3m8 0h2m53 0h1m5 0h2m3 0h3m23 0h2M138 179.6h2m10 0h3m5 0h1m2 0h4m11 0h1m13 0h2m1 0h1m3 0h1m10 0h2m6 0h1m8 0h2m3 0h3m6 0h1m13 0h2m4 0h3m1 0h4m1 0h8m5 0h2m4 0h1m5 0h1m5 0h2m53 0h3m12 0h2m1 0h2m2 0h3m5 0h2m7 0h4m1 0h1m6 0h3m2 0h2m5 0h2m5 0h2m1 0h1m81 0h2m17 0h3m66 0h4m9 0h1m3 0h2m23 0h2m16 0h1M140 192.2h1m5 0h2m2 0h3m3 0h2m1 0h1m7 0h3m2 0h1m2 0h1m1 0h6m9 0h2m1 0h5m6 0h2m7 0h2m2 0h2m7 0h5m4 0h2m3 0h7m2 0h12m3 0h1m1 0h6m22 0h3m3 0h1m14 0h2m2 0h4m3 0h3m8 0h1m4 0h3m5 0h2m3 0h2m38 0h1m1 0h2m11 0h2m3 0h2m7 0h1m3 0h1m21 0h2m154 0h2m6 0h2m17 0h2m4 0h2m9 0h2M141 217.4h2m7 0h1m2 0h2m33 0h2m16 0h2m4 0h3m13 0h6m29 0h3m2 0h2m21 0h2m26 0h2m84 0h2m12 0h2m83 0h1m4 0h2m3 0h1M138 242.6h2m8 0h2m9 0h1m1 0h2m12 0h1m34 0h2m4 0h1m13 0h3m9 0h3m16 0h1m6 0h2m17 0h1m245 0h4m22 0h1m69 0h1m32 0h2M379 255.2h1M146 267.8h1m21 0h4m3 0h1m1 0h3m3 0h2m21 0h4m5 0h2m13 0h4m36 0h2m30 0h1m9 0h2m3 0h2m35 0h3m33 0h1m19 0h2m86 0h1m17 0h2m21 0h2m20 0h1m35 0h3m16 0h2M393 280.4h2M140 293h1m10 0h2m14 0h1m9 0h3m22 0h1m22 0h2m3 0h3m1 0h2m9 0h2m6 0h2m2 0h2m3 0h1m20 0h2m4 0h2m8 0h2m213 0h1m4 0h2m18 0h2m52 0h2m13 0h2m8 0h2m9 0h1M317 305.6h2m20 0h1m57 0h1M319 318.2h4m2 0h4m10 0h1m12 0h2m7 0h3m5 0h3m27 0h4m9 0h2m5 0h2m84 0h2m19 0h1m4 0h2m60 0h2m6 0h3m4 0h2M458 356h2m6 0h2m171 0h2M428 368.6h1m31 0h1m3 0h2m96 0h3m64 0h1M580 381.2h1m11 0h1m53 0h1M578 393.8h3m51 0h3m12 0h1M628 406.4h1m1 0h2M450 419h4m10 0h2M567 431.6h3m62 0h3M625 444.2h1m4 0h2M582 456.8h4m6 0h1M359 469.4h5m258 0h3m3 0h1M146 482h2m2 0h1m2 0h5m3 0h4m18 0h2m5 0h2m8 0h2m1 0h2m5 0h2m4 0h1m11 0h2m3 0h1m8 0h3m10 0h2m11 0h2m13 0h2m20 0h1m55 0h3m23 0h3m163 0h2m59 0h2m9 0h4m10 0h2M146 494.6h1m1 0h2m6 0h2m8 0h1m5 0h1m4 0h9m6 0h1m9 0h1m24 0h1m29 0h2m110 0h2m1 0h2m133 0h1m138 0h1M155 507.2h1m14 0h2m58 0h3m12 0h2m8 0h2m15 0h4m15 0h2m240 0h1m13 0h1m58 0h2m10 0h2m9 0h3m11 0h3M158 519.8h2m25 0h1m4 0h2m32 0h1m32 0h2m3 0h4m8 0h2m13 0h2m10 0h1m209 0h2m40 0h2m40 0h2m7 0h2m12 0h2m16 0h1M156 532.4h2m2 0h1m19 0h3m344 0h1m6 0h3m16 0h2m17 0h2m72 0h1M146 545h1m127 0h2m20 0h1m9 0h4m39 0h10m5 0h2m18 0h2m4 0h3m5 0h1m25 0h2m92 0h1m3 0h2m3 0h1m17 0h3m13 0h1m16 0h2m15 0h2m31 0h1m7 0h3M141 557.6h2m4 0h1m5 0h2m4 0h1m1 0h2m13 0h1m3 0h3m3 0h2m10 0h2m27 0h1m25 0h2m4 0h2m6 0h1m4 0h2m25 0h2m60 0h3m157 0h1m23 0h2m33 0h1M153 570.2h2m3 0h1m9 0h2m2 0h1m15 0h2m7 0h1m35 0h1m6 0h2m21 0h3m23 0h2m17 0h2m56 0h3m138 0h1m16 0h2m56 0h2m16 0h1M140 582.8h1m2 0h3m9 0h1m3 0h1m3 0h3m6 0h3m1 0h1m11 0h2m3 0h1m12 0h2m8 0h3m2 0h4m22 0h2m8 0h2m7 0h1m24 0h2m9 0h1m3 0h2m78 0h1m112 0h2m7 0h1m7 0h2m3 0h1m4 0h1m2 0h2m6 0h2m8 0h1m1 0h2m2 0h2m6 0h1m66 0h1m7 0h1m10 0h1m2 0h2M177 595.4h3m39 0h2m7 0h2m63 0h1m78 0h2m16 0h3m4 0h1m110 0h1m5 0h2m21 0h2m2 0h2m14 0h2m70 0h1m7 0h2m8 0h1M632 608h3M429 620.6h1m59 0h2m8 0h2m8 0h2m124 0h4m8 0h1M626 633.2h2m13 0h2m3 0h1M439 645.8h2m1 0h2m17 0h3m7 0h3m15 0h2m138 0h1m5 0h1m1 0h2M625 658.4h1M639 671h2m5 0h1M151 696.2h2m6 0h1m12 0h1m196 0h2m79 0h2m28 0h3m11 0h2m65 0h1m74 0h1m4 0h2M606 708.8h2m2 0h1m5 0h2M153 721.4h2m1 0h2m12 0h2m14 0h2m2 0h2m6 0h2m2 0h1m12 0h1m20 0h1m2 0h1m9 0h2m4 0h2m6 0h3m12 0h5m6 0h4m3 0h1m2 0h2m1 0h1m174 0h1m2 0h3m6 0h2M616 746.6h2m4 0h3M597 759.2h3m11 0h2M593 784.4h2m9 0h2M308 797h2m29 0h1m4 0h5m12 0h3m10 0h2m19 0h3m5 0h2m12 0h2m174 0h2m11 0h2m18 0h2m36 0h3M160 809.6h1m11 0h1m10 0h2m20 0h1m36 0h3m2 0h2m78 0h1m1 0h2m30 0h3m8 0h2m3 0h5m2 0h2m19 0h2m201 0h3m3 0h4m36 0h1M156 822.2h2m3 0h4m10 0h1m9 0h1m8 0h1m5 0h2m19 0h3m10 0h2m11 0h2m2 0h2m19 0h2m2 0h2m13 0h2m24 0h2m21 0h1m13 0h3m2 0h2m34 0h2m6 0h2m2 0h1m4 0h2m181 0h2m11 0h2m36 0h1m5 0h2M628 834.8h1M630 847.4h2M637 872.6h2M574 897.8h4m4 0h2m63 0h1M626 910.4h2m18 0h2M141 923h2m22 0h1m24 0h2m5 0h1m26 0h1m3 0h2m15 0h2m15 0h1m13 0h2m25 0h2m26 0h5m3 0h1m19 0h2m60 0h3m213 0h2M147 935.6h1m10 0h1m7 0h1m1 0h2m13 0h2m1 0h6m3 0h2m5 0h3m14 0h2m16 0h2m57 0h1m34 0h2m208 0h2m52 0h2m21 0h4M141 1011.2h2m84 0h1m71 0h2m11 0h2m5 0h2m4 0h2m6 0h6m18 0h2m12 0h1m14 0h1m27 0h3m7 0h2m180 0h2m5 0h1m4 0h2M148 1023.8h2m6 0h2m10 0h2m2 0h1m20 0h1m42 0h1m24 0h1m19 0h2m11 0h2m322 0h2M192 1036.4h1m69 0h1m13 0h2m322 0h1M141 1049h2m13 0h2m32 0h2m8 0h2m1 0h2m5 0h2m15 0h1m66 0h2m58 0h3m9 0h3m22 0h2M212 1061.6h3m19 0h2m13 0h2m181 0h3m4 0h2m15 0h2m6 0h2m2 0h3m16 0h2m2 0h2m62 0h4m38 0h3m18 0h4m26 0h2M374 1112h2M539 1137.2h4M177 1149.8h3m3 0h2m8 0h2m35 0h3m14 0h4m16 0h1m6 0h2m27 0h2m7 0h2m25 0h2m30 0h1m2 0h2m17 0h2m22 0h2m11 0h1m15 0h1m7 0h2m5 0h3m4 0h3m12 0h2m108 0h2M138 1162.4h2m8 0h2m6 0h2m12 0h2m3 0h1m24 0h2m51 0h2m2 0h2m7 0h1m5 0h2m13 0h1m6 0h2m21 0h4m15 0h3m2 0h3m38 0h1m1 0h2m35 0h3m180 0h4m10 0h2"/><path stroke="#bda" d="M143 141.8h3m1 0h3m1 0h4m8 0h2m5 0h2m11 0h3m9 0h2m13 0h2m18 0h4m8 0h3m253 0h1m4 0h1M170 154.4h2m25 0h1m19 0h2m36 0h4m81 0h1m157 0h1M161 167h2m17 0h3m23 0h2m22 0h3m72 0h1m6 0h2m26 0h1m181 0h2m69 0h2M140 179.6h1m2 0h3m1 0h1m7 0h1m3 0h1m7 0h1m15 0h2m1 0h2m14 0h1m9 0h4m69 0h2m4 0h2m4 0h2m3 0h1m258 0h1m31 0h2m16 0h2M143 192.2h3m19 0h1m39 0h1m33 0h1m41 0h2m330 0h1M167 217.4h1m15 0h2m7 0h1m12 0h1m9 0h1m33 0h2m4 0h2M303 242.6h3m35 0h6m19 0h3m8 0h2m19 0h1m8 0h1m2 0h2m14 0h1M285 267.8h2m306 0h2m6 0h3m7 0h2m1 0h2M180 293h3m9 0h1m128 0h4m6 0h2m24 0h2m28 0h3m1 0h2m6 0h2m25 0h1m95 0h2m90 0h2M426 305.6h1M168 318.2h2m140 0h2m24 0h3m2 0h6m7 0h5m31 0h1m7 0h1m4 0h2m5 0h2m5 0h2m2 0h3m2 0h2m167 0h2m3 0h1m13 0h2m4 0h2M436 356h1m9 0h1m5 0h4m8 0h2m8 0h4m9 0h2m76 0h2M452 368.6h2m12 0h2m3 0h3m17 0h2m94 0h3m38 0h1m1 0h2m4 0h1M474 381.2h3m8 0h2M570 393.8h2m10 0h2m62 0h1M489 406.4h2M444 431.6h3m5 0h2m116 0h2m8 0h1m3 0h2M430 444.2h2m10 0h2m22 0h2m94 0h3m15 0h1m66 0h1M480 456.8h3m107 0h2M572 469.4h2m7 0h1M186 482h2m103 0h2m208 0h1m11 0h1m1 0h1m12 0h1m10 0h2m14 0h4m8 0h3m2 0h2m8 0h2m2 0h1m63 0h2M498 494.6h1m3 0h1m12 0h1m15 0h2m1 0h3m10 0h1m9 0h2M498 507.2h1m4 0h1m9 0h1m2 0h2m19 0h2m10 0h2m39 0h2M143 519.8h3m93 0h1m275 0h1m11 0h2m5 0h3m20 0h2M501 532.4h1m12 0h1m22 0h2m12 0h2m7 0h1M321 545h2m82 0h2m163 0h4m18 0h1m54 0h1M288 557.6h1m276 0h2M147 570.2h1m73 0h3m274 0h1m23 0h2m5 0h2m3 0h3m2 0h4m4 0h1m9 0h2m6 0h2m13 0h1M158 582.8h1m7 0h1m66 0h1m28 0h1m4 0h1m20 0h1m4 0h1m3 0h2m4 0h2m193 0h1m12 0h3m27 0h2m12 0h4m8 0h3m85 0h2M499 595.4h3m32 0h3m16 0h2m4 0h1m5 0h2m7 0h3m3 0h1m9 0h2m30 0h3m3 0h1M430 608h5m1 0h3m2 0h1m26 0h3m6 0h1m2 0h3M534 620.6h3M435 633.2h1M435 645.8h1m20 0h2m6 0h2m11 0h6m142 0h1m10 0h1M431 658.4h1m26 0h2M448 671h8m10 0h2m23 0h2m69 0h3m15 0h1M432 683.6h3m6 0h1m26 0h3m3 0h3m6 0h2m8 0h1M219 696.2h2m214 0h1m3 0h2m5 0h1m5 0h2m6 0h1m32 0h1M180 721.4h5m10 0h2m8 0h1m15 0h3m9 0h1m34 0h2m18 0h1m157 0h1m150 0h4m9 0h1M600 759.2h1m3 0h2m16 0h3M600 784.4h4m9 0h1M176 797h1m8 0h1m33 0h2m9 0h4m87 0h2m82 0h2m188 0h2m11 0h2m37 0h1M352 809.6h5m12 0h2M148 822.2h2m26 0h1m11 0h2m71 0h1m31 0h1m5 0h2m4 0h1m68 0h2m11 0h4m6 0h1m195 0h2m18 0h1M639 834.8h2M636 847.4h1M636 860h1M428 872.6h1m17 0h1m21 0h3m23 0h4m127 0h3M629 885.2h1m5 0h1m5 0h2M447 897.8h1m4 0h4m4 0h1m28 0h7m139 0h1m7 0h3M637 910.4h2m2 0h2M140 923h1m54 0h2m5 0h1m33 0h1m77 0h3m102 0h2M153 935.6h2m5 0h1m24 0h1m11 0h1m10 0h2m14 0h3m12 0h1m19 0h2m20 0h2m4 0h1m190 0h2m11 0h2m154 0h1M648 948.2h2M165 1011.2h1m206 0h2m2 0h1m5 0h1m22 0h2M190 1023.8h2m36 0h2m76 0h2m4 0h9m7 0h1m25 0h5m17 0h1m7 0h2m17 0h2m9 0h5m218 0h2M606 1036.4h2M242 1049h3m31 0h2m5 0h2m11 0h1m34 0h2m8 0h3M429 1061.6h1m22 0h2m31 0h2m7 0h2m9 0h2m93 0h1m3 0h2M657 1099.4h1M166 1137.2h1m8 0h1m21 0h1m2 0h2m53 0h2m45 0h1m16 0h4m6 0h2m8 0h1m24 0h2m17 0h1m40 0h2m79 0h2m6 0h1m39 0h2M270 1149.8h2m184 0h2m6 0h2m164 0h2M150 1162.4h1m100 0h2m140 0h2m269 0h3"/><path stroke="#cd8" d="M200 141.8h2m65 0h1M508 154.4h1m6 0h1m6 0h2m10 0h3m56 0h2M266 167h1m141 0h2M192 179.6h1m96 0h2M146 217.4h1m8 0h1m14 0h2m109 0h2M188 242.6h2m133 0h2m15 0h1m6 0h2m5 0h3m14 0h1m7 0h1m7 0h3m29 0h2M138 267.8h2m166 0h2m2 0h2m15 0h2m10 0h2m18 0h2m11 0h4m4 0h2m37 0h2m3 0h2m1 0h1m74 0h1m119 0h3M297 293h2m13 0h2m11 0h2m70 0h1m5 0h2m2 0h1m2 0h2m143 0h2M408 318.2h2m206 0h2M430 356h1m4 0h1m8 0h2m22 0h6m6 0h3m97 0h1m1 0h2m51 0h1m1 0h2m4 0h3M572 368.6h2m8 0h2M477 381.2h1m106 0h2m39 0h1m10 0h1M629 393.8h1m7 0h2M428 406.4h1m23 0h2m17 0h3m3 0h1m13 0h2m139 0h3m8 0h3M436 419h1m4 0h1m18 0h1m17 0h2m14 0h2M478 431.6h2M461 456.8h3m4 0h3m14 0h2m7 0h2M428 469.4h1m8 0h4m7 0h2m112 0h3M590 482h2M562 494.6h3m15 0h1m11 0h1M267 507.2h1M278 519.8h3m218 0h2m4 0h2m2 0h2m3 0h1m1 0h2m3 0h1m21 0h4m14 0h1m24 0h1m5 0h1M503 532.4h2m3 0h1m2 0h2m5 0h1m2 0h1m9 0h2m15 0h1m25 0h4M219 545h2m277 0h1m2 0h2m5 0h1m4 0h1m15 0h2m10 0h2m22 0h2m13 0h2m8 0h2M498 557.6h1m4 0h1m23 0h1m1 0h2m24 0h2m4 0h1M382 570.2h1m116 0h3m11 0h1m4 0h1m7 0h1m4 0h2m29 0h3m7 0h2m16 0h2M210 582.8h2m7 0h2m68 0h2m212 0h2m10 0h1m17 0h1m14 0h1m16 0h2m10 0h1m8 0h1M502 595.4h2m18 0h2m9 0h1m15 0h2m9 0h1m11 0h2m7 0h1M626 608h2m9 0h4m6 0h1M431 620.6h1m22 0h7m7 0h3m14 0h2M460 633.2h1m3 0h2m12 0h2m11 0h2m135 0h4M572 645.8h2m52 0h3m1 0h2m15 0h1M432 658.4h4m18 0h4m10 0h3m23 0h2m145 0h2M431 671h1m7 0h2m27 0h3m12 0h2m9 0h2m71 0h3m20 0h2m37 0h1m5 0h1m5 0h2M570 683.6h2m5 0h3M428 696.2h1m12 0h1m5 0h1m6 0h4m16 0h3m97 0h3M595 708.8h2M150 721.4h1m21 0h1m3 0h1m76 0h2m397 0h2M595 734h5M608 746.6h2M610 784.4h1m9 0h2M186 797h2m51 0h1M325 809.6h2m63 0h1m209 0h1m10 0h3M190 822.2h2m6 0h2m45 0h2m65 0h2m5 0h2M637 847.4h6M630 860h2m7 0h2m6 0h1M435 872.6h1m1 0h2m13 0h2m10 0h2m8 0h4m11 0h2M632 885.2h3m4 0h2M428 897.8h1m2 0h6m2 0h2m15 0h4m8 0h3m6 0h3m16 0h2m82 0h1m11 0h1M625 910.4h1m13 0h2M198 923h2m49 0h2m93 0h3m279 0h2m15 0h3M146 935.6h1m123 0h2m159 0h1m24 0h2m19 0h1M654 960.8h1M601 1023.8h3M173 1049h2m23 0h2m21 0h3M493 1061.6h1M158 1137.2h1m2 0h2m52 0h1m60 0h2m34 0h2m204 0h1M263 1149.8h3m155 0h3m54 0h2M158 1162.4h1m503 0h2"/><path stroke="#213" d="M435 141.8h1m131 0h3m10 0h1M570 154.4h2M581 167h1M565 179.6h2M436 192.2h1m21 0h2m66 0h1m34 0h1m8 0h2M460 217.4h1M442 293h2m8 0h2M584 318.2h2M160 469.4h1m12 0h2m113 0h1M454 557.6h2m173 0h1M344 620.6h3m36 0h1m137 0h1M180 696.2h3m356 0h2M501 721.4h1m13 0h1M521 797h1m19 0h2m12 0h2m20 0h1m2 0h1m3 0h2M262 809.6h1m11 0h2m243 0h2m30 0h2m4 0h2m15 0h3M491 822.2h2m22 0h1m11 0h1m3 0h2m57 0h2M177 897.8h3m41 0h3m52 0h2m16 0h2m118 0h3m92 0h2m18 0h2m18 0h2M468 923h3m28 0h2M502 935.6h1m16 0h3m15 0h2m35 0h3M439 1023.8h2m19 0h1m17 0h2m3 0h2m9 0h2m45 0h2m31 0h3m1 0h2M237 1061.6h2M505 1149.8h2m27 0h3m16 0h2m4 0h1"/><path stroke="#214" d="M441 141.8h1m35 0h1M432 154.4h3m1 0h3m2 0h1m35 0h1m2 0h3m95 0h3m5 0h1M587 167h3m2 0h1M428 179.6h3m6 0h2m2 0h1m4 0h1m1 0h2m2 0h2m4 0h3m5 0h5m6 0h1m13 0h3m93 0h3M432 192.2h3m19 0h2m46 0h1m12 0h1m5 0h1m7 0h2m2 0h1m26 0h1m4 0h2M565 217.4h2m17 0h2M493 242.6h1M432 267.8h3m9 0h2m1 0h1m2 0h2m6 0h2m1 0h3m21 0h2m78 0h5m11 0h1m2 0h3M436 293h1m21 0h2m1 0h3m34 0h1m78 0h3M428 318.2h2m17 0h1m8 0h2m6 0h2m17 0h4m7 0h4m67 0h2m10 0h1m3 0h1M141 406.4h2m65 0h2m130 0h1m31 0h2M565 444.2h2M148 469.4h2m45 0h2m90 0h1m91 0h1m167 0h1m34 0h2M494 482h2M435 507.2h1m51 0h2M489 557.6h2M432 582.8h3m2 0h2m15 0h2m162 0h2M432 595.4h3m2 0h2m7 0h1m7 0h2M616 608h2M341 620.6h3m8 0h2m168 0h2M153 696.2h3m131 0h1m136 0h2M560 721.4h1m11 0h2M498 797h1m3 0h1m1 0h1m48 0h2m4 0h1m27 0h5M180 809.6h3m38 0h3m54 0h3m218 0h2m7 0h1m36 0h2M428 822.2h1m13 0h2m16 0h1m5 0h2m37 0h2m14 0h1m23 0h2m33 0h2M161 897.8h2m4 0h1m128 0h1m36 0h3m179 0h1m18 0h3m18 0h2M253 923h2m176 0h1m5 0h2m2 0h1m5 0h1m126 0h3m4 0h1M531 935.6h2m39 0h2M471 1011.2h3M441 1023.8h1m57 0h2m1 0h2m7 0h2m47 0h1M253 1061.6h2m7 0h1m4 0h1m33 0h1m82 0h2M430 1137.2h2m10 0h2m43 0h2m33 0h2m41 0h2m10 0h1m3 0h1m8 0h3M504 1149.8h1m85 0h2M480 1162.4h3m30 0h1m58 0h2"/><path stroke="#de7" d="M549 154.4h2M163 217.4h2M395 267.8h2M303 293h2m35 0h1m25 0h3m32 0h2m9 0h2m186 0h1M408 305.6h2M625 356h1m20 0h2M430 368.6h1m6 0h2m5 0h2m39 0h2m90 0h1m57 0h1M428 381.2h3m1 0h3m2 0h2m8 0h1m6 0h2m10 0h5m22 0h1m68 0h3m2 0h3M587 393.8h3m49 0h2m2 0h3M454 419h2m2 0h2m20 0h5m8 0h1M439 431.6h2m7 0h2m8 0h2m8 0h3m116 0h3M456 444.2h2m13 0h3m9 0h2m4 0h2m3 0h2M429 456.8h1m2 0h4m11 0h1m2 0h4m23 0h3m3 0h2m2 0h2m4 0h1m80 0h4M565 469.4h2M514 482h1m3 0h3m1 0h2m2 0h1m22 0h2m8 0h1M505 494.6h2m1 0h1m9 0h1m5 0h3m10 0h2m4 0h2m6 0h2m6 0h1m5 0h2m10 0h3m4 0h3M504 507.2h1m14 0h2m1 0h4m5 0h2m10 0h2m3 0h1m11 0h1m17 0h2m6 0h1M581 519.8h1M565 532.4h2m20 0h3M515 545h3m13 0h2m24 0h2m28 0h3M508 557.6h1m4 0h1m1 0h3m8 0h1m4 0h2m26 0h1m21 0h1m28 0h1M502 582.8h1m2 0h2m36 0h2m6 0h2m19 0h2M527 595.4h2m14 0h2m16 0h1M428 608h2m18 0h8m5 0h3m19 0h2m4 0h5m2 0h2m130 0h1m6 0h1m10 0h1M428 620.6h1m1 0h1m1 0h3m2 0h2m5 0h2M625 633.2h1m11 0h2m8 0h1M429 645.8h1m2 0h3m9 0h2m2 0h2m16 0h2m15 0h2m6 0h2m1 0h2m84 0h1m11 0h1m48 0h2M629 658.4h1m13 0h3M429 671h2m1 0h4m10 0h1m11 0h3m10 0h3m11 0h2m6 0h1M428 683.6h1m2 0h1m3 0h2m2 0h2m7 0h6m6 0h1m35 0h2m141 0h2M289 696.2h2m139 0h1m1 0h3m1 0h1m59 0h2m74 0h2m10 0h2M604 708.8h2m7 0h3M611 721.4h2M606 734h2M593 746.6h2m5 0h1m13 0h2m2 0h2M595 759.2h2M601 771.8h3m12 0h2M303 797h2m296 0h3m9 0h1M601 809.6h3m14 0h2M173 822.2h2m37 0h3m63 0h3m16 0h2m11 0h2m294 0h2m10 0h2M647 834.8h1M629 847.4h1M626 860h3M429 872.6h1m2 0h3m9 0h2m14 0h4m29 0h1M637 897.8h2M636 910.4h1M186 923h2m5 0h1m33 0h1m401 0h1m11 0h2M454 935.6h2m8 0h2m169 0h1M652 948.2h3M654 986h1M650 1011.2h2M333 1023.8h3M301 1049h1M428 1061.6h1m221 0h2M664 1099.4h3M657 1124.6h1m4 0h2M333 1137.2h3m324 0h2M658 1149.8h2M660 1162.4h2"/><path stroke="#315" d="M567 154.4h3m20 0h3M448 167h2m2 0h2m14 0h3m12 0h2m63 0h1m18 0h3m20 0h2M441 192.2h1m8 0h2m26 0h2m11 0h2m16 0h2m13 0h2m11 0h2m33 0h2m18 0h1M630 217.4h2M428 242.6h1m7 0h1m7 0h2m12 0h2m45 0h2m9 0h2m59 0h1m2 0h1m11 0h1M639 267.8h2M429 293h1m55 0h6m56 0h1m14 0h3m5 0h2m58 0h2M225 305.6h2m214 0h1m5 0h1m81 0h2m26 0h2m3 0h3m22 0h3m2 0h1M529 318.2h2M270 356h2m47 0h2m177 0h1m32 0h2m68 0h3M561 368.6h1M302 381.2h1m245 0h1M180 393.8h3m59 0h3m6 0h2m53 0h2m31 0h1m36 0h1m42 0h2m81 0h1M147 406.4h3m13 0h2m60 0h2m3 0h3m18 0h2m13 0h1m16 0h2m18 0h2m1 0h2m2 0h7m2 0h2m10 0h2m8 0h3m3 0h2m10 0h2m3 0h5m11 0h2m15 0h1m3 0h4m9 0h3m9 0h1m95 0h2m5 0h2m66 0h3m22 0h3M143 469.4h4m21 0h2m23 0h1m11 0h1m21 0h3m9 0h1m15 0h2m24 0h2m18 0h1m34 0h3m15 0h3m171 0h1m4 0h1m21 0h2m4 0h1M437 482h5m2 0h2m1 0h3m8 0h2m25 0h4m4 0h1M383 494.6h1m44 0h1m10 0h2m1 0h2m2 0h1m14 0h3m21 0h2M310 507.2h2m28 0h1m54 0h2m44 0h1m10 0h4M447 519.8h1m32 0h3m2 0h2M432 532.4h3m2 0h2m7 0h1m1 0h2m4 0h2m15 0h3m9 0h2M441 545h1m8 0h2m28 0h3m8 0h3M431 557.6h1m9 0h1m10 0h2m2 0h2m8 0h5m12 0h2m11 0h2M431 570.2h1m10 0h2m45 0h4M429 582.8h1m6 0h1m13 0h2m35 0h2M328 595.4h1m102 0h1m3 0h2m7 0h2m14 0h1m3 0h2m12 0h7m9 0h4M417 608h2m85 0h1m90 0h2M234 620.6h2m81 0h2m12 0h2m14 0h2m5 0h3m2 0h2m16 0h2m8 0h3m17 0h1m6 0h3m235 0h2M197 633.2h1m207 0h2m98 0h2m40 0h1M177 645.8h3m15 0h2m33 0h3m315 0h1M262 658.4h1m64 0h1M203 671h2M183 683.6h2m431 0h2M170 696.2h2m130 0h1m38 0h3m180 0h2m138 0h3M513 721.4h1m8 0h2m10 0h3m10 0h1M507 797h1m1 0h2m5 0h2m9 0h2m5 0h3m25 0h3M167 809.6h1m30 0h2m2 0h1m85 0h1m141 0h1m71 0h2m1 0h2m4 0h2m1 0h1m24 0h2m29 0h2m5 0h1m2 0h1m6 0h3m68 0h2M429 822.2h1m28 0h2m39 0h2m7 0h1m39 0h1m6 0h2m2 0h1M180 897.8h3m32 0h1m29 0h2m8 0h2m17 0h2m64 0h1m11 0h5m27 0h2m5 0h2m6 0h2m6 0h1m11 0h2m87 0h1m7 0h2m30 0h1m2 0h2m4 0h3m40 0h1m57 0h2M167 923h1m262 0h1m1 0h3m1 0h1m15 0h2m17 0h6m3 0h5m17 0h1m21 0h2m3 0h2m12 0h2m4 0h2m2 0h2m10 0h2M377 935.6h2m145 0h2m19 0h2m1 0h1M233 1011.2h1m350 0h2M567 1023.8h5m8 0h1m5 0h1M428 1049h2m5 0h1m8 0h3m3 0h2m22 0h3m1 0h2m5 0h4m97 0h1m60 0h1M165 1061.6h1m9 0h1m45 0h4m5 0h3m45 0h3m15 0h1m30 0h1m19 0h2m23 0h2m27 0h2m119 0h2M548 1137.2h1M153 1149.8h2m202 0h2m18 0h2m234 0h1M166 1162.4h1m327 0h2m6 0h1m4 0h1m10 0h1m12 0h2m20 0h2m10 0h2m11 0h2m6 0h4m2 0h1"/><path stroke="#ee5" d="M197 167h1m93 0h2M314 242.6h3M595 267.8h2M336 293h3m30 0h2M429 356h1m7 0h4m6 0h1m2 0h2m37 0h4m139 0h3m1 0h1M431 368.6h1m7 0h2m1 0h2m2 0h1m3 0h2m31 0h2m2 0h2m148 0h2M641 381.2h2M429 393.8h1m6 0h1m2 0h3m8 0h2m4 0h2m3 0h3m25 0h2M429 406.4h1m1 0h1m4 0h3m2 0h1m4 0h2m2 0h2m4 0h2m3 0h3m2 0h5m12 0h2m2 0h2m7 0h2m141 0h2M430 419h1m16 0h1m8 0h2m27 0h2m4 0h2M437 431.6h2m8 0h1m133 0h1M428 444.2h1m3 0h3m15 0h4m4 0h2m117 0h1M626 456.8h2M429 469.4h1m5 0h1m5 0h1m10 0h2m14 0h10m15 0h1M502 482h1m1 0h1m3 0h1m25 0h3m4 0h2m17 0h1m13 0h3m4 0h1m10 0h1M504 494.6h1m14 0h2m6 0h1m20 0h1M501 507.2h1m13 0h1m2 0h1m9 0h3m31 0h3m15 0h2M518 519.8h1m5 0h2m33 0h1m5 0h2m11 0h2m2 0h4m4 0h2M499 532.4h2m14 0h1m6 0h2m2 0h1m22 0h2m29 0h2m8 0h3M534 545h3m11 0h1m33 0h2M514 557.6h1m13 0h1m8 0h2m10 0h2m35 0h4m2 0h1M505 570.2h2m8 0h1m3 0h2m7 0h1m4 0h1m17 0h2m2 0h2m3 0h1m20 0h1m2 0h3M513 595.4h1M466 608h2m3 0h3m11 0h2m105 0h1M480 620.6h3m95 0h3m6 0h5M428 633.2h1m3 0h3m2 0h2m5 0h3m5 0h4m29 0h6m2 0h3m85 0h1M460 645.8h1m35 0h2m69 0h5m9 0h1m4 0h1M428 658.4h2m14 0h3m1 0h2m14 0h4m6 0h4m7 0h2m2 0h2m2 0h1m2 0h2m67 0h2m13 0h1m6 0h3m2 0h1M441 671h1m132 0h3m15 0h1M430 683.6h1m6 0h2m5 0h3m7 0h4m19 0h3m11 0h2m1 0h2m84 0h2m8 0h2M442 696.2h2m20 0h2m2 0h3m91 0h3m12 0h1m3 0h1M618 708.8h4M177 721.4h3m440 0h2M593 734h2m21 0h2M595 771.8h2m9 0h2M611 784.4h2M597 809.6h3m6 0h2M604 822.2h2m14 0h2M630 834.8h5m1 0h1M635 847.4h1m10 0h1M639 872.6h2M636 885.2h1M430 897.8h1m6 0h2m3 0h2m184 0h1m10 0h2m5 0h1M635 923h1M652 998.6h2M650 1023.8h2M648 1049h4M657 1074.2h1M664 1086.8h3M660 1124.6h2M228 1137.2h2M217 1149.8h2m438 0h1"/><path stroke="#101" d="M513 192.2h1m25 0h2M504 721.4h1M505 797h2M429 1023.8h1"/><path stroke="#112" d="M543 192.2h4m8 0h2m29 0h1M452 242.6h2m37 0h2m69 0h3M468 293h3M549 620.6h2M548 721.4h1M515 797h1m17 0h1m52 0h1M527 809.6h1m13 0h2m5 0h1m32 0h1M206 822.2h2m339 0h1m44 0h1M251 897.8h2M505 935.6h2m19 0h1M430 1023.8h1m65 0h2"/><path stroke="#dd5" d="M140 217.4h1m19 0h1m76 0h2m28 0h1M340 305.6h1m8 0h3m2 0h5m21 0h2m2 0h2m5 0h2M165 822.2h1m71 0h2m10 0h2m113 0h2M431 847.4h1m14 0h6m8 0h1m30 0h2m1 0h4M146 1049h1m19 0h1m3 0h2m21 0h1m8 0h1m22 0h2m6 0h1m6 0h2m19 0h1m12 0h2m2 0h3m12 0h1M478 1061.6h2M428 1149.8h1m48 0h1M297 1162.4h2m34 0h3m23 0h2m18 0h1m15 0h3"/><path stroke="#bc8" d="M156 217.4h2m112 0h2M192 822.2h1m73 0h1m3 0h2m22 0h2m53 0h3m5 0h2m2 0h3M429 847.4h1m44 0h3m12 0h2M562 897.8h3m5 0h2M156 923h2m57 0h1m41 0h2m8 0h1m6 0h2m7 0h2m8 0h1M138 1049h2m43 0h2m32 0h2m9 0h5m22 0h2m15 0h2m14 0h1m13 0h1M450 1061.6h2m9 0h3m25 0h2M458 1149.8h2M173 1162.4h2m179 0h3"/><path stroke="#aba" d="M221 217.4h3m10 0h2M321 305.6h2m4 0h1m36 0h2m17 0h1m3 0h3M193 822.2h1m16 0h2m12 0h3m47 0h2m45 0h2m13 0h3m37 0h1m33 0h2m14 0h1M430 847.4h1m1 0h3m7 0h4m22 0h3m12 0h2M586 897.8h1M150 923h1m19 0h2m3 0h1m58 0h2m11 0h2m12 0h1m1 0h3m25 0h2M151 1049h4m10 0h1m20 0h4m22 0h3m21 0h1m12 0h2m48 0h2M471 1061.6h3M228 1162.4h2m10 0h2m41 0h2m84 0h2m41 0h2m12 0h1"/><path stroke="#de5" d="M308 242.6h2m19 0h2m21 0h2m39 0h2m32 0h1M329 293h2m23 0h3m7 0h2m6 0h4m3 0h1m18 0h1m25 0h2M586 595.4h1"/><path stroke="#ee4" d="M361 242.6h3m53 0h2M432 356h3m43 0h2m5 0h2M435 368.6h1m20 0h2M435 381.2h2m4 0h1m16 0h3m3 0h2m21 0h2m93 0h2M428 393.8h1m6 0h1m1 0h2m7 0h2m10 0h2m6 0h5m9 0h3m10 0h1m92 0h1m48 0h1M432 406.4h3m132 0h3m7 0h4m3 0h2M429 419h1m1 0h1m7 0h2M431 431.6h1m3 0h1m6 0h2M439 444.2h3m6 0h2m46 0h2M428 456.8h1m2 0h1m28 0h1m3 0h2m23 0h4m72 0h2M430 469.4h1m1 0h3m9 0h2m1 0h1m8 0h2m3 0h3M521 482h1m5 0h1m9 0h2m4 0h2M539 494.6h2m19 0h1m11 0h2m13 0h3M521 507.2h1m33 0h2m4 0h1M498 519.8h1m2 0h1m37 0h2M505 532.4h2m9 0h2m1 0h2m12 0h1m28 0h3M533 545h1M519 557.6h2m27 0h1m8 0h2m13 0h5m5 0h2m6 0h2M521 570.2h1m15 0h2m4 0h2m4 0h2M562 620.6h3m5 0h4m8 0h2m2 0h1M429 633.2h2m5 0h1m5 0h2m3 0h1m20 0h6m3 0h1M430 645.8h1m16 0h1M430 658.4h1m47 0h2M581 671h1m2 0h2M466 683.6h2m21 0h2m101 0h1M471 696.2h3m96 0h2m6 0h2m2 0h2M608 721.4h2m6 0h2m4 0h3M601 734h3m6 0h1M613 746.6h1M601 759.2h3m6 0h1M593 771.8h2m5 0h1m7 0h2m4 0h2M614 784.4h2M637 860h2m2 0h2M439 872.6h2m1 0h2m3 0h1m32 0h5m156 0h2m4 0h1M630 885.2h2M448 897.8h4m19 0h3M636 923h1M648 960.8h2M652 986h2M655 998.6h2M652 1011.2h2M664 1137.2h3"/><path stroke="#ff2" d="M657 343.4h1M496 356h2M474 368.6h3M431 381.2h1m12 0h3m1 0h2m2 0h2m24 0h2m9 0h2m81 0h2m3 0h1M574 393.8h3M474 419h3M565 431.6h2M429 444.2h1m6 0h1m9 0h1m14 0h3m13 0h1m2 0h3m4 0h2M444 456.8h2m25 0h3M442 469.4h2m2 0h1m3 0h2m6 0h2m29 0h2M524 482h2m3 0h5m11 0h2M521 494.6h1m6 0h1m4 0h1m47 0h1M505 507.2h2M508 519.8h1m10 0h2m10 0h2m15 0h1m23 0h2m13 0h3M528 532.4h1M509 545h2m28 0h2M518 557.6h1m14 0h1m7 0h2m4 0h1m3 0h2m7 0h1m16 0h1M562 608h5m10 0h3m10 0h2M565 633.2h7m5 0h1m12 0h2M450 645.8h2m6 0h2m105 0h2m23 0h2M574 658.4h3m1 0h2m6 0h1M444 671h2m136 0h2M586 683.6h1M429 696.2h1m28 0h2m132 0h1M600 708.8h1m7 0h2M608 734h2m1 0h2m5 0h4M597 746.6h3m4 0h2M606 759.2h2m6 0h2M597 784.4h3m18 0h2M268 822.2h2M628 847.4h1M431 872.6h1m9 0h1m12 0h2M625 885.2h1M650 973.4h2M648 998.6h2M648 1011.2h2M652 1023.8h3M650 1036.4h4M657 1086.8h1M660 1099.4h2M660 1112h2M664 1149.8h3"/><path stroke="#874" d="M507 469.4h1m41 0h2M547 809.6h1M562 822.2h3M498 935.6h1m19 0h1m10 0h2m61 0h1M441 1049h1m10 0h2m14 0h3"/><path stroke="#ba3" d="M508 469.4h1m20 0h2M534 809.6h3M584 822.2h2M547 1149.8h1"/><path stroke="#645" d="M537 469.4h2M539 822.2h2m16 0h2M513 935.6h1m37 0h2m17 0h2m18 0h2M466 1049h2M522 1149.8h2"/><path stroke="#102" d="M539 721.4h2m8 0h2M503 797h1m39 0h2m36 0h1M493 1023.8h1m13 0h1M172 1061.6h1"/></g></g></g>
<path d="M303.2 97.7V1169.3" stroke="#b9a98c" stroke-opacity=".45" stroke-width="1"/>
<path d="M427.8 97.7V1169.3" stroke="#b9a98c" stroke-opacity=".45" stroke-width="1"/>
<path d="M498.3 97.7V1169.3" stroke="#b9a98c" stroke-opacity=".45" stroke-width="1"/>
<path d="M561.8 97.7V1169.3" stroke="#b9a98c" stroke-opacity=".45" stroke-width="1"/>
<path d="M592.8 97.7V1169.3" stroke="#b9a98c" stroke-opacity=".45" stroke-width="1"/>
<path d="M625.5 97.7V1169.3" stroke="#b9a98c" stroke-opacity=".45" stroke-width="1"/>
<path d="M648.5 97.7V1169.3" stroke="#b9a98c" stroke-opacity=".45" stroke-width="1"/>
<path d="M657.0 97.7V1169.3" stroke="#b9a98c" stroke-opacity=".45" stroke-width="1"/>
<g font-style="italic" font-size="24">
<text x="670.5" y="118.7">IL32</text>
<text x="667.5" y="143.9">S100A10</text>
<text x="667" y="171">MYL6</text>
<text x="667.5" y="201.4">ICAM1</text>
<text x="670.5" y="236.4">PGC</text>
<text x="670.5" y="262.9">SFTPB</text>
<text x="669.5" y="289.4">AQP3</text>
<text x="670.5" y="315.9">NAPSA</text>
<text x="671.5" y="342.4">MUC1</text>
<text x="671.5" y="379.9">ID1</text>
<text x="672.5" y="409.3">COL6A1</text>
<text x="672.5" y="438.2">COL1A2</text>
<text x="672.5" y="467.1">COL3A1</text>
<text x="674" y="504.2">MALAT1</text>
<text x="673.5" y="531.3">ACTN4</text>
<text x="671.5" y="561.4">FN1</text>
<text x="673.5" y="590.4">LMO7</text>
<text x="672.5" y="633.1">COL6A11</text>
<text x="672.5" y="662.7">COL1A11</text>
<text x="672.5" y="691.6">COL1A21</text>
<text x="673.5" y="734">TOP2A</text>
<text x="673.5" y="763.9">MKI67</text>
<text x="673.5" y="792.8">TPX2</text>
<text x="673.5" y="819.5">CDK1</text>
<text x="671.5" y="861.7">DCN1</text>
<text x="671.5" y="890.6">DKK2</text>
<text x="670.5" y="917.1">COL15A1</text>
<text x="671.5" y="982.9">CALCA</text>
<text x="670" y="1011.8">ASCL1</text>
<text x="671.5" y="1041.2">CHGA</text>
<text x="670" y="1091.3">LCN15</text>
<text x="669.5" y="1122.7">AGR2</text>
<text x="670" y="1153">LYZ</text>
</g>
<path d="M656.5 213.9H767" stroke="#111" stroke-width="1.4"/>
<path d="M656.5 348H767" stroke="#111" stroke-width="1.4"/>
<path d="M656.5 476.7H767" stroke="#111" stroke-width="1.4"/>
<path d="M656.5 599.2H767" stroke="#111" stroke-width="1.4"/>
<path d="M656.5 704.8H767" stroke="#111" stroke-width="1.4"/>
<path d="M656.5 826.7H767" stroke="#111" stroke-width="1.4"/>
<path d="M656.5 939.5H767" stroke="#111" stroke-width="1.4"/>
<path d="M656.5 1066H767" stroke="#111" stroke-width="1.4"/>
<ellipse cx="141" cy="1204.3" rx="6.6" ry="7.5" fill="#e8471a"/>
<text transform="translate(166.28 1215.7) scale(1.0584 1)" font-size="31">0. AT1-like cells_1</text>
<ellipse cx="141" cy="1251.7" rx="6.6" ry="7.5" fill="#f0c814"/>
<text transform="translate(165.19 1260.9) scale(1.0719 1)" font-size="31">1. AT2-like cells</text>
<ellipse cx="141" cy="1299.4" rx="6.6" ry="7.5" fill="#ee7711"/>
<text transform="translate(166.01 1309.1) scale(1.0598 1)" font-size="31">2. Fibroblasts_1</text>
<ellipse cx="141" cy="1347.7" rx="6.6" ry="7.5" fill="#6495ed"/>
<text transform="translate(166.27 1355.8) scale(1.0657 1)" font-size="31">3. AT1-like cells_2</text>
<ellipse cx="141" cy="1395.9" rx="6.6" ry="7.5" fill="#1f8a65"/>
<text transform="translate(166.79 1403) scale(1.0782 1)" font-size="31">4. Stromal cells</text>
<ellipse cx="141" cy="1444.4" rx="6.6" ry="7.5" fill="#a0522d"/>
<text transform="translate(166.29 1453.3) scale(1.0472 1)" font-size="31">5. Proliferating cells</text>
<ellipse cx="141" cy="1492" rx="6.6" ry="7.5" fill="#ee82ee"/>
<text transform="translate(165.99 1501.3) scale(1.0726 1)" font-size="31">6. Fibroblasts_2</text>
<ellipse cx="141" cy="1539" rx="6.6" ry="7.5" fill="#c8c3be"/>
<text transform="translate(166.01 1545.2) scale(1.0573 1)" font-size="31">7. Pulmonary neuroendocrine cells(PNEC)</text>
<ellipse cx="141" cy="1582.1" rx="6.6" ry="7.5" fill="#6b8e3a"/>
<text transform="translate(166.24 1591.9) scale(1.0902 1)" font-size="31">8. Airway epithelial cells</text>
</g>
<g id="panel_b">
<defs><linearGradient id="pg" x1="0" y1="1" x2="0" y2="0"><stop offset="0" stop-color="#ecf1fa"/><stop offset=".12" stop-color="#ead8e4"/><stop offset="1" stop-color="#b8305f"/></linearGradient>
<filter id="ub" x="-5%" y="-5%" width="110%" height="110%"><feGaussianBlur stdDeviation="1.1"/></filter>
<path id="umA" d="M0.53 -6.60L0.68 -7.15L1.32 -7.15L2.60 -6.84L3.87 -6.36L4.59 -5.64L4.98 -5.01L5.78 -4.37L7.05 -3.58L7.85 -2.78L8.01 -1.83L7.85 -0.87L7.21 0.08L6.58 0.56L5.94 1.03L6.10 1.67L5.30 2.31L4.35 2.94L3.71 3.42L3.23 3.90L3.39 4.53L2.91 5.33L2.28 5.96L1.48 6.60L0.53 6.84L0.05 6.44L-0.43 6.12L-0.91 6.92L-1.70 7.55L-2.34 8.03L-2.90 8.43L-2.98 8.19L-2.18 7.39L-1.54 6.44L-1.39 5.64L-1.70 4.53L-1.94 3.26L-2.02 2.15L-1.86 1.19L-2.66 1.22L-2.98 1.35L-2.82 1.13L-1.70 0.72L-1.39 -0.08L-1.07 -1.03L-0.59 -1.99L0.05 -2.78L1.00 -3.26L2.12 -3.58L2.75 -4.05L2.99 -4.69L2.44 -5.01L1.64 -5.25L0.84 -5.41L0.53 -5.96ZM-0.59 -9.78L-0.19 -9.81L0.21 -9.54L0.84 -9.22L0.92 -8.90L0.45 -8.98L-0.11 -9.30L-0.51 -9.54Z" stroke-width=".35" stroke-linejoin="round"/>
<path id="umB" d="M-10.30 -3.74L-9.35 -4.21L-8.39 -4.29L-7.60 -3.97L-7.28 -3.10L-6.96 -2.31L-6.16 -2.15L-5.53 -1.83L-4.73 -2.07L-4.57 -1.83L-5.21 -1.51L-5.53 -0.72L-5.84 -0.87L-6.16 -1.51L-6.48 -1.19L-6.16 -0.56L-5.68 0.08L-5.45 0.87L-5.37 1.67L-5.84 2.07L-6.48 1.83L-6.96 1.35L-7.44 0.87L-8.07 0.56L-9.03 0.56L-9.98 0.40L-10.38 -0.40L-10.54 -1.51L-10.54 -2.78Z" stroke-width=".35" stroke-linejoin="round"/>
<path id="umC" d="M-8.55 4.53L-8.07 4.05L-7.28 3.90L-6.64 4.21L-6.48 5.01L-6.00 5.48L-5.92 5.88L-6.48 6.04L-6.64 6.36L-7.44 6.44L-8.23 6.20L-8.55 5.48ZM-6.29 1.99L-6.07 2.07L-6.61 3.26L-6.86 3.97L-7.02 3.90L-6.80 3.10Z" stroke-width=".35" stroke-linejoin="round"/></defs>
<text x="856.5" y="32.5" font-size="38.5">b</text>
<text transform="translate(995.71 58.9) scale(1.0376 1)" font-size="29" font-style="italic">TOP2A</text>
<text transform="translate(1327.18 58.9) scale(1.0233 1)" font-size="29" font-style="italic">MKI67</text>
<text transform="translate(991.04 340) scale(1.0553 1)" font-size="29" font-style="italic">EPCAM</text>
<text transform="translate(1317.44 340) scale(1.0578 1)" font-size="29" font-style="italic">NKX2−1</text>
<path d="M936.6 74.4V258.7H1130" fill="none" stroke="#000" stroke-width="1.4"/><path d="M936.6 82.8h-3.8M936.6 126.8h-3.8M936.6 170.8h-3.8M936.6 214.8h-3.8M953.7 258.7v3.8M997.6 258.7v3.8M1041.5 258.7v3.8M1085.4 258.7v3.8M1129.3 258.7v3.8" stroke="#000" stroke-width="1.3"/><g font-size="16"><text x="931.1" y="88.6" text-anchor="end">10</text><text x="931.1" y="132.6" text-anchor="end">5</text><text x="931.1" y="176.6" text-anchor="end">0</text><text x="931.1" y="220.6" text-anchor="end">−5</text><text x="953.7" y="280.5" text-anchor="middle">−10</text><text x="997.6" y="280.5" text-anchor="middle">−5</text><text x="1041.5" y="280.5" text-anchor="middle">0</text><text x="1085.4" y="280.5" text-anchor="middle">5</text><text x="1129.3" y="280.5" text-anchor="middle">10</text></g>
<path d="M1265 74.4V258.7H1458.4" fill="none" stroke="#000" stroke-width="1.4"/><path d="M1265 82.8h-3.8M1265 126.8h-3.8M1265 170.8h-3.8M1265 214.8h-3.8M1282.1 258.7v3.8M1326.0 258.7v3.8M1369.9 258.7v3.8M1413.8 258.7v3.8M1457.7 258.7v3.8" stroke="#000" stroke-width="1.3"/><g font-size="16"><text x="1259.5" y="88.6" text-anchor="end">10</text><text x="1259.5" y="132.6" text-anchor="end">5</text><text x="1259.5" y="176.6" text-anchor="end">0</text><text x="1259.5" y="220.6" text-anchor="end">−5</text><text x="1282.1" y="280.5" text-anchor="middle">−10</text><text x="1326.0" y="280.5" text-anchor="middle">−5</text><text x="1369.9" y="280.5" text-anchor="middle">0</text><text x="1413.8" y="280.5" text-anchor="middle">5</text><text x="1457.7" y="280.5" text-anchor="middle">10</text></g>
<path d="M936.6 355.4V538.8H1130" fill="none" stroke="#000" stroke-width="1.4"/><path d="M936.6 363.2h-3.8M936.6 407.2h-3.8M936.6 451.2h-3.8M936.6 495.2h-3.8M953.7 538.8v3.8M997.6 538.8v3.8M1041.5 538.8v3.8M1085.4 538.8v3.8M1129.3 538.8v3.8" stroke="#000" stroke-width="1.3"/><g font-size="16"><text x="931.1" y="369.0" text-anchor="end">10</text><text x="931.1" y="413.0" text-anchor="end">5</text><text x="931.1" y="457.0" text-anchor="end">0</text><text x="931.1" y="501.0" text-anchor="end">−5</text><text x="953.7" y="560.5999999999999" text-anchor="middle">−10</text><text x="997.6" y="560.5999999999999" text-anchor="middle">−5</text><text x="1041.5" y="560.5999999999999" text-anchor="middle">0</text><text x="1085.4" y="560.5999999999999" text-anchor="middle">5</text><text x="1129.3" y="560.5999999999999" text-anchor="middle">10</text></g>
<path d="M1265 355.4V538.8H1458.4" fill="none" stroke="#000" stroke-width="1.4"/><path d="M1265 363.2h-3.8M1265 407.2h-3.8M1265 451.2h-3.8M1265 495.2h-3.8M1282.1 538.8v3.8M1326.0 538.8v3.8M1369.9 538.8v3.8M1413.8 538.8v3.8M1457.7 538.8v3.8" stroke="#000" stroke-width="1.3"/><g font-size="16"><text x="1259.5" y="369.0" text-anchor="end">10</text><text x="1259.5" y="413.0" text-anchor="end">5</text><text x="1259.5" y="457.0" text-anchor="end">0</text><text x="1259.5" y="501.0" text-anchor="end">−5</text><text x="1282.1" y="560.5999999999999" text-anchor="middle">−10</text><text x="1326.0" y="560.5999999999999" text-anchor="middle">−5</text><text x="1369.9" y="560.5999999999999" text-anchor="middle">0</text><text x="1413.8" y="560.5999999999999" text-anchor="middle">5</text><text x="1457.7" y="560.5999999999999" text-anchor="middle">10</text></g>
<path d="M912.8 254V291.4H953" fill="none" stroke="#000" stroke-width="1.2"/><path d="M912.8 250.5l-2.8 6.5h5.6zM956.5 291.4l-6.5-2.8v5.6z"/>
<text x="905" y="290.5" font-size="13" transform="rotate(-90 905 290.5)">UMAP2</text>
<text x="910.5" y="305.6" font-size="13">UMAP1</text>
<rect x="1150.1" y="116.8" width="21.6" height="108.6" fill="url(#pg)"/><path d="M1150.1 139.6h4.3M1167.3999999999999 139.6h4.3" stroke="#fff" stroke-width="1.1"/><text x="1182.1" y="145.4" font-size="16">3</text><path d="M1150.1 168.8h4.3M1167.3999999999999 168.8h4.3" stroke="#fff" stroke-width="1.1"/><text x="1182.1" y="174.60000000000002" font-size="16">2</text><path d="M1150.1 197.5h4.3M1167.3999999999999 197.5h4.3" stroke="#fff" stroke-width="1.1"/><text x="1182.1" y="203.3" font-size="16">1</text><path d="M1150.1 226.3h4.3M1167.3999999999999 226.3h4.3" stroke="#fff" stroke-width="1.1"/><text x="1182.1" y="232.10000000000002" font-size="16">0</text>
<rect x="1478.5" y="116.8" width="21.6" height="108.6" fill="url(#pg)"/><path d="M1478.5 133.5h4.3M1495.8 133.5h4.3" stroke="#fff" stroke-width="1.1"/><text x="1510.5" y="139.3" font-size="16">3</text><path d="M1478.5 164.6h4.3M1495.8 164.6h4.3" stroke="#fff" stroke-width="1.1"/><text x="1510.5" y="170.4" font-size="16">2</text><path d="M1478.5 195.5h4.3M1495.8 195.5h4.3" stroke="#fff" stroke-width="1.1"/><text x="1510.5" y="201.3" font-size="16">1</text><path d="M1478.5 226.3h4.3M1495.8 226.3h4.3" stroke="#fff" stroke-width="1.1"/><text x="1510.5" y="232.10000000000002" font-size="16">0</text>
<rect x="1150.1" y="397.5" width="21.6" height="108.6" fill="url(#pg)"/><path d="M1150.1 405.5h4.3M1167.3999999999999 405.5h4.3" stroke="#fff" stroke-width="1.1"/><text x="1182.1" y="411.3" font-size="16">4</text><path d="M1150.1 431h4.3M1167.3999999999999 431h4.3" stroke="#fff" stroke-width="1.1"/><text x="1182.1" y="436.8" font-size="16">3</text><path d="M1150.1 456.5h4.3M1167.3999999999999 456.5h4.3" stroke="#fff" stroke-width="1.1"/><text x="1182.1" y="462.3" font-size="16">2</text><path d="M1150.1 481.5h4.3M1167.3999999999999 481.5h4.3" stroke="#fff" stroke-width="1.1"/><text x="1182.1" y="487.3" font-size="16">1</text><path d="M1150.1 507h4.3M1167.3999999999999 507h4.3" stroke="#fff" stroke-width="1.1"/><text x="1182.1" y="512.8" font-size="16">0</text>
<rect x="1478.5" y="397.5" width="21.6" height="108.6" fill="url(#pg)"/><path d="M1478.5 415h4.3M1495.8 415h4.3" stroke="#fff" stroke-width="1.1"/><text x="1510.5" y="420.8" font-size="16">3</text><path d="M1478.5 446h4.3M1495.8 446h4.3" stroke="#fff" stroke-width="1.1"/><text x="1510.5" y="451.8" font-size="16">2</text><path d="M1478.5 476.5h4.3M1495.8 476.5h4.3" stroke="#fff" stroke-width="1.1"/><text x="1510.5" y="482.3" font-size="16">1</text><path d="M1478.5 507h4.3M1495.8 507h4.3" stroke="#fff" stroke-width="1.1"/><text x="1510.5" y="512.8" font-size="16">0</text>
<g filter="url(#ub)"><use href="#umA" transform="translate(1041.5 170.8) scale(8.78 8.8)" fill="#f0f5fb" stroke="#f0f5fb"/><use href="#umB" transform="translate(1041.5 170.8) scale(8.78 8.8)" fill="#f0f5fb" stroke="#f0f5fb"/><use href="#umC" transform="translate(1041.5 170.8) scale(8.78 8.8)" fill="#f0f5fb" stroke="#f0f5fb"/></g>
<g fill="none" stroke-linecap="round" stroke-width="2.0"><path d="M961.2 142h0m6.3 -1.2h0m-14.2 22.9h0m15.7 11.8h0m-17.7 -9.1h0m15.8 -13.4h0m4.7 0.3h0m-4.2 7h0m-10.1 -16.7h0" stroke="#dfcadc"/><path d="M1075.5 115.8h0m4 4.9h0m-1.6 8.6h0m-3.3 -1h0m-8.7 6.9h0m6.7 -15.9h0m23.8 38.2h0m-38.5 2.9h0m11.7 20.7h0m-16.5 -25.6h0m-2.3 16.7h0m-19.9 11.6h0m8.1 -2.1h0m-2.6 -9.4h0m52 11.1h0m-45.5 -8h0m12.9 5h0m2.7 2.4h0m-21.6 2.3h0m12.7 -9.5h0m8 1.1h0m-9.1 11.5h0m-3.5 4.5h0m10.9 2h0m4.5 -14.5h0m23.3 2.9h0m-39.5 3.3h0m-7.4 0.7h0m-0.2 -30.5h0m7.3 9.7h0m50.9 5.8h0m-58.3 3.1h0m22.9 2h0m0.4 -26.1h0m-18.7 28.9h0m-3.8 -5.8h0m40.8 -36.3h0m-36.9 15.8h0m10.4 2.6h0m25.3 -4.4h0m-25.7 19.4h0m9.7 4.5h0m-26 -15.3h0m2.8 2.5h0m22.8 30.7h0m5.3 -19h0m6.2 -2.8h0m-4.4 -7.9h0m-12.2 -4.6h0m32.7 0.6h0m-43.8 -12.1h0m29.5 13.7h0m-38.3 4.5h0m28.2 7.8h0m-30.8 -13.3h0m27.7 5.4h0m12.6 23.8h0m-13.5 -13.6h0m-6.3 -23h0m-8.5 1.4h0m46.1 27.8h0m-33.7 -2.9h0m6.5 -5.8h0m-21.3 23.9h0m22.3 -11h0m13.9 -9.1h0m-34.1 -18.1h0m3 0.7h0m22.2 5.8h0m5.1 16.7h0m-40.4 -4.3h0m25.5 0.1h0m-4.6 -15.8h0m1.4 -8.2h0m-17.2 36.6h0m16.3 -7.5h0m29.1 -6.4h0m-11.4 5.7h0m27.3 -9.7h0m-44 15.7h0m-16 -12.6h0m-84.4 -35.9h0m8.8 -6.4h0m12.7 28.1h0m-20.4 12.9h0m12.9 -15.7h0m-10 13.3h0m-10.9 -17.1h0m12.7 -12.6h0m15.4 3.6h0m-27.2 -3.6h0m36.2 27.4h0m-15.5 0.9h0m12.9 6.4h0m52.1 -91.2h0m3.5 2.7h0m7.9 3.5h0" stroke="#d8b2c9"/><path d="M1065.8 126.6h0m10.1 -8.6h0m-6.3 2.3h0m-5.1 0.2h0m13.7 11.1h0m-2.8 -14.8h0m-0.7 5.8h0m-7.7 0.5h0m7 0h0m-3.5 10.3h0m-7.1 -9.8h0m10.4 9.7h0m-5.8 -15h0m2.5 2.9h0m0.5 7.1h0m-9.6 36h0m-8.4 6.7h0m1 -16.1h0m0.9 10.2h0m-14.7 -3.3h0m20.7 -17.4h0m-15.4 35.6h0m19 -31.9h0m-19.8 17.7h0m-15.4 5.3h0m34.6 -22.6h0m8.3 39.4h0m-29.4 -20.6h0m-2.9 13.9h0m-2.7 -22.6h0m7.3 -2.5h0m17 16.3h0m-0.5 16.3h0m10.7 -16.4h0m18 -9.5h0m-43.9 14.1h0m23.2 13.5h0m-22.8 -25.8h0m40.6 12.2h0m-20 14h0m-20.1 4.7h0m-2.8 -22.9h0m8.3 13.9h0m24.5 -26.4h0m-12.9 2.5h0m1.1 27.6h0m-5.1 -22.2h0m-14.4 3.1h0m19.1 0.7h0m-22.2 2.1h0m17.9 24.3h0m20.2 -56.7h0m-27.6 24.3h0m5.8 12.9h0m-12 -4.7h0m-14 -0.2h0m57.4 -14.1h0m-27.4 -11.7h0m-10.6 1.2h0m8.4 13.4h0m6.9 -10.4h0m-25.6 23.3h0m12.9 -16.6h0m30.6 24.2h0m5.9 -38.7h0m1.7 39.8h0m-46.6 -5.1h0m2.8 1.1h0m-8.9 -16.9h0m-0.7 25.5h0m26.6 -42.9h0m27.3 16.5h0m-49.8 31.4h0m7.2 2.3h0m27.6 -22.2h0m-10.2 1.9h0m12 -10.2h0m9.2 16.4h0m-29 -10.6h0m3 2.8h0m0.4 3.4h0m-3.2 -30.6h0m17.3 37h0m-17 5.1h0m4.7 -11.4h0m-2.9 -8h0m-7.5 -18.6h0m21.5 -10.6h0m-21.1 41.6h0m20.4 -1.3h0m-17.7 -16h0m31.1 3.4h0m-6.2 16.1h0m-11.4 -8.2h0m-28.4 -21.6h0m-7 30.8h0m9.8 -34.8h0m10.4 26.1h0m-18.3 19.8h0m30.3 -23.7h0m-101.8 -11.4h0m-7.7 -21.3h0m1 24.2h0m12.5 -24.6h0m-22 19h0m20.8 5.7h0m-8.3 -7.2h0m-10.5 -15.9h0m18.4 13.6h0m2.4 -4.9h0" stroke="#d198b5"/><path d="M1059.9 109.7h0m15.3 14h0m-1.9 6.4h0m-8.9 -8.3h0m-11.4 -11.6h0m18.1 3.7h0m-5.8 2.9h0m-5.4 -7h0m-8.6 13h0m15.6 -2.4h0m13.4 1.3h0m-10.3 -3.7h0m-15.1 -6.8h0m3.2 0h0m20.8 10.1h0m-5.1 12.3h0m-17.9 -22.3h0m7.6 8.8h0m-5.1 -9.2h0m-5 10.1h0m9.9 1.1h0m-5.9 0.8h0m-6.4 -6.7h0m22.1 15.5h0m-14.6 -17.2h0m3.8 -2.3h0m1.8 7.5h0m-8.5 1.5h0m16.5 1.9h0m-3.9 -5h0m-4.2 1.9h0m-14.8 -7.6h0m10.3 8.5h0m0.5 -5.9h0m11.7 14.8h0m-18.2 -7.3h0m13.3 9.9h0m9.2 60.5h0m-20.3 -25.3h0m20.2 -23.1h0m-34.4 22.7h0m35.1 -0.1h0m-6.5 -3.7h0m-2 8.7h0m16.9 -8.8h0m-34.8 13.7h0m5 -17.7h0m20.5 24.1h0m-13.1 -20.2h0m14.7 19.8h0m-2.4 -17.8h0m18.5 17.6h0m-42.2 13.3h0m10 -2.3h0m11.2 -11.2h0m-20.2 -9.7h0m-0.8 -2.7h0m35.1 1.3h0m-7.5 -14.6h0m-41.9 29h0m30.2 -31h0m-29.4 1.9h0m35.5 17.1h0m-15 -23.5h0m15.4 20.1h0m-13 -14.3h0m-21.4 40.9h0m40.6 -22.1h0m-0.3 -1.7h0m-18.9 -0.4h0m2.4 -14.1h0m29.8 6.9h0m-29.7 28.9h0m-31.6 -20.3h0m33.4 0.1h0m-13.4 -20.9h0m6.9 -4.8h0m29.5 -2.3h0m-56.4 17.9h0m38.3 7.1h0m-3.6 12h0m11 -24.4h0m-14.2 10.4h0m19.2 -7.6h0m-25.3 -11.4h0m13.8 7.2h0m-15.1 -12h0m26.6 48.8h0m-15.5 -35.5h0m23.5 -14.7h0m-43.4 15.1h0m-6.9 23.9h0m16.4 -8.4h0m-28.2 3.4h0m9.7 -1.6h0m52.9 -4.8h0m-19.5 -4h0m-17 -6.7h0m-5.9 7.9h0m6.5 28.4h0m-3.3 -16.9h0m40.2 -4.1h0m-29.5 13.9h0m1.5 -23.4h0m0 6.6h0m-5.6 -14.5h0m15.4 4.2h0m-6.8 -11.4h0m-23.4 5.2h0m5.8 3.9h0m35.4 4.1h0m-14.3 -2.2h0m1.3 1.3h0m15.8 -16.5h0m-47.2 35.3h0m42.4 -26.5h0m4.2 9.1h0m-19.8 7.4h0m0.8 -7.8h0m8.9 -28.2h0m-43 42.6h0m4.3 42.7h0m10.1 4.7h0m23.5 -28.2h0m-17.8 19.1h0m-0.7 -10.5h0m-22.6 19.5h0m-2.2 -13.7h0m25.1 12.1h0m-2.8 -1.9h0m14.1 -19.7h0m-86.6 -39.9h0m-11.9 -25h0m9.6 29.6h0m-26.8 -21.9h0m12.9 8.5h0m1.7 10.3h0m-13.2 -1.2h0m18.3 -23.1h0m16.3 34.6h0m-6.2 -20.5h0m-0.8 8.5h0m-18.6 10.6h0m17.6 -30.4h0m21.7 12.2h0m-1.4 1.4h0m0.9 -1.7h0" stroke="#ca80a1"/><path d="M1060.3 118.4h0m2.1 -0.9h0m0.5 -1.6h0m-8.2 -7.6h0m-3.5 15.2h0m10.3 -10.4h0m-15.1 -0.6h0m9.2 2.6h0m9.7 10.8h0m-16.9 -5.6h0m20.7 9.2h0m0.5 -9.9h0m7.9 13.3h0m-20 -14.8h0m10 -4.6h0m8.1 11.4h0m-11.6 -13h0m-1.2 1.4h0m-11.2 6.1h0m2.6 -6.2h0m-3.7 3.4h0m18.7 9.1h0m-12.5 -9.2h0m20.6 9.4h0m-16.6 -13.9h0m-4.5 9.2h0m-3.3 2h0m13.4 10.6h0m-3.2 -16.6h0m-9.1 -3.7h0m17.5 20.6h0m-14.4 30.3h0m29.2 21.2h0m-13.5 -30.3h0m-10.7 13.7h0m16.4 -5.6h0m13.1 0.4h0m-16.2 3.4h0m-9 6.5h0m17.3 13.2h0m-12.7 -24.1h0m5.4 11.2h0m-18.3 -14h0m10.1 10.1h0m17.7 -2.1h0m-14.3 -8.6h0m-45.7 19.2h0m9.3 31.3h0m13.6 12.7h0m10.4 -18.5h0m-30.1 12.3h0m16.3 -18.2h0m-12.7 14.6h0m32.2 -3.1h0m-13.7 -4.7h0m10.4 7.3h0m-12.1 3.7h0m6.1 6.6h0m13.6 -18.5h0m-3.7 7.5h0m-5 6.3h0m-6.4 -6h0m-20 14.7h0m-34.4 -67.7h0m-1.1 -2h0m0.8 -2.3h0" stroke="#c3668d"/><path d="M1050.2 119.8h0m11.9 -4.6h0m-15.4 2.5h0m5.7 -0.6h0m4.9 4.5h0m-5 -7.7h0m-2.4 -0.5h0m9.1 -2.1h0m-4.4 3.4h0m0.6 -4.9h0m-7 11.8h0m15.3 -10.4h0m-8.5 12.7h0m6.2 1.9h0m-14 -12.7h0m20.2 6.2h0m-15.1 -6.1h0m9.9 1.3h0m0.5 7.9h0m-13.4 -1.3h0m-1.7 -13h0m-2.2 107.6h0m-1.3 10h0m-10 4h0m23.1 -8.5h0m-27.2 -3.6h0m15.7 -17.7h0m24.5 12.3h0m-35.8 -8.2h0m-1.4 25.1h0m-0.2 -27.8h0m-34.6 -46.1h0m-0.2 0.8h0m3.4 -0.8h0m-1.9 0.8h0m0.9 -1.6h0m-0.1 0.9h0m-3.3 4.4h0m-1.3 2.1h0m-24.4 63.6h0m8.7 -2.7h0m2.7 -2.6h0m-10.6 -15h0m44.8 37.9h0m1.8 -1.8h0" stroke="#bc4e7a"/><path d="M1050.5 113.1h0m-2.3 2.7h0m8.3 -1.3h0m-10.2 1.4h0m4.5 6.4h0m0.5 -14.4h0m-0.2 1.5h0m-3.2 10.5h0m2.2 1.7h0m-0.5 -1.3h0m-9 85.4h0m-1.4 -4.2h0m27.4 9.7h0m-0.2 -7.8h0m-33.6 23.9h0m-1.1 -4.3h0m3.3 2.4h0m-6.5 -27.7h0m7.5 5.6h0m-39.3 -44.4h0m-0.2 -1.7h0" stroke="#b53466"/></g>
<g filter="url(#ub)"><use href="#umA" transform="translate(1369.9 170.8) scale(8.78 8.8)" fill="#f0f5fb" stroke="#f0f5fb"/><use href="#umB" transform="translate(1369.9 170.8) scale(8.78 8.8)" fill="#f0f5fb" stroke="#f0f5fb"/><use href="#umC" transform="translate(1369.9 170.8) scale(8.78 8.8)" fill="#f0f5fb" stroke="#f0f5fb"/></g>
<g fill="none" stroke-linecap="round" stroke-width="2.0"><path d="M1404.6 124.8h0m-0.2 -5.8h0" stroke="#dfcadc"/><path d="M1392.2 115h0m12.2 7.1h0m-5.4 -3.1h0m0.3 -3.2h0m3.8 0.5h0m-28.4 84.3h0m4.3 -18.4h0" stroke="#d8b2c9"/><path d="M1395 116.2h0m-5.8 9h0m13.9 1.9h0m-11.2 -7.6h0m0.1 6.6h0m0.5 -6.7h0m3.9 -3.4h0m-1.4 73h0m-30.1 -7.6h0m-2.1 25.4h0m18.6 -34.4h0m-3.5 26.8h0m11 3.8h0m16 -31.4h0m-20.1 15.7h0m14.4 0.7h0m-71.7 -31.5h0m-4.6 5.6h0" stroke="#d198b5"/><path d="M1393.9 115.9h0m-8.1 -5.5h0m3.3 15.1h0m-1 -4.4h0m-2 -5.5h0m0.3 -5.4h0m-6.6 11.7h0m1.2 -4.5h0m-0.3 -1.8h0m10.4 10.1h0m-5 -16.6h0m-8.5 1.6h0m14.5 13.9h0m-5 -11h0m6.8 3.6h0m4.2 -1.1h0m-16.4 59.9h0m-4.5 -15.7h0m-7.8 18h0m4.3 35.7h0m-13.9 -25.3h0m5.3 -7.7h0m-1.1 24.4h0m27.1 -5.4h0m-63.6 -44.2h0m-3.6 4.6h0m4.7 -3.8h0m-2.1 0.6h0" stroke="#ca80a1"/><path d="M1376.9 117h0m4.8 -1.1h0m0.6 -1.7h0m13.3 3.9h0m-13.5 -8.4h0m18.7 21.8h0m-4.9 -5.4h0m-21.3 -12.7h0m2.7 -0.9h0m14.2 2.3h0m-15 4.3h0m24.1 -1.7h0m-7.4 -2.3h0m-12.2 0.8h0m-0.2 6.8h0m1.7 -0.4h0m6.5 -2.1h0m-16.3 44.8h0m0.2 11.6h0m12.2 20.2h0m10 -31h0m-15.7 28.3h0m4.5 10.8h0m-8.4 -45.7h0m13.6 35.3h0m1.1 -31.1h0m-20.8 -3.4h0m28.3 5h0m-26.1 30.7h0m-45.6 -37.2h0m3.5 -2.1h0m-0.4 -2.9h0m-28.6 51.6h0m7.9 3.5h0m0 -8.8h0m-13.1 -35.2h0m11.4 -9.6h0m1.7 -3.6h0m36.9 92.4h0m3.5 -2.6h0m18.5 -155.8h0" stroke="#c3668d"/><path d="M1381.4 119.2h0m7.3 6.2h0m-8.6 -15.6h0m-5.4 6.8h0m6.5 -8.7h0m-0.8 1.9h0m-2.1 9.6h0m-2.8 -4.5h0m1 2h0m9.6 -7.7h0m-9.7 2.5h0m2.4 0.6h0m-4.1 1.7h0m2.5 4.6h0m10.2 -1.2h0m-17.6 53h0m31.1 -6.3h0m-36.5 3.3h0m18.6 3.2h0m-16 12.3h0m19.8 -2.2h0m-63.6 -18.7h0m0.1 0.3h0m-0.8 -1.2h0" stroke="#bc4e7a"/><path d="M1381.8 121.8h0m-6 -5.7h0m2.4 1.9h0m4.4 -6.8h0m0.7 0h0m-3.4 4.5h0m1.4 -4.1h0m-1 -3.1h0m-5.3 2.6h0m6.4 5.7h0m2.7 4h0m-8.6 -3h0m4.6 38.2h0m5.2 48.9h0m-13.2 -19.3h0" stroke="#b53466"/></g>
<g filter="url(#ub)"><use href="#umA" transform="translate(1041.5 451.2) scale(8.78 8.8)" fill="#d38ba8" stroke="#d38ba8"/><use href="#umB" transform="translate(1041.5 451.2) scale(8.78 8.8)" fill="#e6c3d3" stroke="#e6c3d3"/><use href="#umC" transform="translate(1041.5 451.2) scale(8.78 8.8)" fill="#dba3bb" stroke="#dba3bb"/></g>
<g fill="none" stroke-linecap="round" stroke-width="2.2"><path d="M961.4 441.9h0m19.9 8.9h0m-27.3 -22.5h0m9.5 -10.3h0m-3.1 0.3h0m21.5 19.7h0m-31.2 -3.6h0m38.4 16.5h0m5 -11.6h0m-27.7 2.4h0m10 -1.5h0m-15.3 -21.2h0m-2.8 -3.8h0m33.5 38.4h0m-32.7 -7.6h0" stroke="#e6e4f0"/><path d="M958.3 426.1h0m-0.2 -6.7h0m19.4 33h0m-17 -4.8h0m-8.5 -27.4h0m12.9 12.6h0m14.8 0.1h0m-20.5 16.5h0m15.8 1h0m-13.5 3h0m5.8 -23.6h0m17.8 33.7h0m-10 -17.7h0m-9.9 -17.4h0m17.3 21.1h0m6.4 13h0m-26 -41h0m-6.4 5.6h0m21.5 16.9h0m-10.4 2.9h0m13 -12.3h0m7.8 15.1h0m-27.7 -32.1h0m28.6 38.1h0m-19.3 -7.8h0m11.2 -4.5h0m-25.5 4.4h0m2.2 5.2h0m16.2 4.1h0m-19.5 -29.5h0m24.2 19.6h0m-26.3 -19.9h0m25.5 6.5h0m5.4 26.6h0m8 -16.9h0m-16.3 -14.8h0m-12.9 25.6h0m11.2 0.4h0m3.7 -1.1h0m-2.4 4.2h0m11.6 41.1h0m-7.7 0.5h0m1 -7.5h0" stroke="#dfcadc"/><path d="M1068.3 419.9h0m-4.6 1.6h0m21.7 19.1h0m-14.5 -43.7h0m-10.3 62.4h0m24.6 11.3h0m-19.8 -25.1h0m-71.2 -6.9h0m-16.1 -1.8h0m-18.7 18h0m14.8 -18.6h0m6.7 3.5h0m-17.5 7.8h0m-1.5 -13.1h0m11.3 22.4h0m25.3 -20.7h0m-17.8 5.9h0m4.6 19.5h0m-32.4 -26.3h0m11.7 -10.1h0m-11.5 12h0m19.6 5.4h0m-13.1 -10.5h0m27.2 21.1h0m-21.4 -24.7h0m8.3 -10.3h0m-24.5 19.9h0m14 -16.6h0m6.7 9.1h0m-15.1 7.5h0m23.7 4.7h0m15.7 -7.5h0m-17.5 -0.8h0m-14.8 8.2h0m-4.8 -22.3h0m15.6 10.2h0m22.1 8h0m-43.6 9.3h0m14.5 -6.3h0m24.7 12.5h0m-39.6 -27.5h0m3.7 -5.1h0m19.9 15.2h0m-6.6 -6.7h0m-3.1 15.7h0m-3.8 1.3h0m12.3 1.6h0m25.3 -14.1h0m-30.1 -5.4h0m-12.3 5.4h0m21 21h0m6.7 -4.4h0m-16.4 -23h0m21.3 31.1h0m-9.3 -18.8h0m-2.6 5.5h0m-22.6 -2.7h0m7.9 -3.8h0m27.3 10.7h0m-22.7 -4.1h0m-7.6 -5.1h0m-2.3 -12.2h0m7.4 8h0m11.3 -10.6h0m-21.4 19.9h0m0.3 5.3h0m18.6 -21.6h0m-14.2 10.2h0m-7.7 8.6h0m-0.6 -15.7h0m30.3 17.4h0m-15.7 -1.2h0m14.3 -18.4h0m-6.6 17.2h0m9.9 -3.8h0m-23.4 8.7h0m21.8 30.1h0m-9.6 13.7h0m-4.9 1h0m10.2 -7.3h0m-4.5 8.2h0m-3 -4.8h0m6.7 3.4h0m0.3 9.9h0" stroke="#d8b2c9"/><path d="M1081.5 459.9h0m13.3 -28.2h0m3.4 9.8h0m-7.5 -16.7h0m-32.2 24.5h0m-24.4 4.8h0m20.3 -23.8h0m42.4 17.6h0m-32.2 -8.9h0m26.6 -14.9h0m-51.8 51.1h0m25.9 -30.6h0m19 8.7h0m-7.6 -24.7h0m13.7 25.8h0m21 -18.7h0m-41.2 -33.4h0m16.4 31.5h0m-44 38.7h0m13.3 -75.1h0m4.9 22.7h0m2.8 -3h0m-34.6 49.8h0m55.1 -15h0m-25.7 23.2h0m16.6 -49.6h0m-6.3 -18.5h0m-26.4 50.6h0m37.6 -25.6h0m-31.5 -38.2h0m4.1 40.4h0m17 -2.7h0m3.1 39.9h0m-36 -12.1h0m33.5 18.8h0m-28.1 -5.1h0m32.6 -48.8h0m36.2 10.3h0m-37.8 29h0m24.1 -44.4h0m-43.6 30.8h0m-11.4 -3.9h0m35.4 -33.7h0m-6 45.3h0m1.2 -15.8h0m7.6 -5.6h0m-16.5 -38.8h0m-13.2 61.9h0m37.1 -9.9h0m-24 18.7h0m-3 -17.4h0m-12.6 -54.5h0m44.8 24.3h0m-8.4 6.9h0m9.5 -11.1h0m-23.6 59.3h0m-15 -50.5h0m16.7 52.2h0m-21.4 -36h0m-2.4 -48.2h0m56.9 48.5h0m-26.8 -6.5h0m9.6 26.8h0m-32 -3.4h0m8.6 8.6h0m-16.5 -31.1h0m7.2 15.5h0m-14.5 23.7h0m8.8 -25.4h0m25.3 -43.8h0m3 4.2h0m-45 38.5h0m40.5 -24.9h0m26.9 29.5h0m-35.7 0.8h0m-26.7 -15.1h0m23.1 -44.3h0m22.3 78.4h0m-31.1 -84.3h0m43.4 53.1h0m-53.8 31h0m14.4 -27.9h0m3.8 -39.1h0m35.7 28.5h0m-13.8 31.4h0m-39.6 -8.1h0m34 -55.7h0m15.9 45.9h0m-68.7 11.3h0m73 -33.6h0m-32.8 27.7h0m29.8 -38.1h0m6.9 16.4h0m1.6 -6.1h0m-50.6 2.4h0m16.4 50.7h0m-12.6 -37h0m-22.2 25.9h0m66.7 -21.8h0m-42.2 -43.2h0m9.8 19.4h0m-8.4 45.3h0m10.5 -62.6h0m-16 37.4h0m-23.3 25.5h0m71.1 -43.9h0m-16 6.8h0m-61 37.7h0m68.6 -10.7h0m-14.3 -48.8h0m-4.6 -10.8h0m-0.8 59.9h0m-11.2 -13h0m37.5 8.7h0m-42.8 -28h0m-9.7 41.5h0m28.4 -1.5h0m-34.6 -18.8h0m-13.4 10.9h0m66 -6.8h0m-33.5 11.9h0m34 -46.1h0m-56.7 17.3h0m21.3 -29.8h0m-13.3 74.8h0m19.7 -53.1h0m7.3 20.6h0m-19 -42.5h0m57.4 38.1h0m-63.5 31.7h0m-14 -14.6h0m32.5 -9h0m24.3 -33.4h0m-43.6 28.9h0m36.2 -4.7h0m-31.3 12.7h0m31.9 14.6h0m-5.9 -46.4h0m28.1 10.8h0m-31.4 -15.6h0m-19.6 26h0m-64.3 8.2h0m-35.4 -14.5h0m10.9 -19.8h0m14 28.3h0m-14.9 -11.6h0m11.1 12.7h0m11.1 5.3h0m-31.2 -10.7h0m43.4 -5h0m-40.6 -19.4h0m-4.1 19.6h0m24.5 -7.8h0m-28.8 -0.7h0m38.6 23.6h0m1.6 11.2h0m-6.5 -15.4h0m-19.8 -1.5h0m3.8 -3.9h0m0.2 3.9h0m2.6 6.5h0m-1.2 -10.1h0m12.4 0.6h0m-10.2 2.1h0m-3.5 -13.2h0m-12.9 18.8h0m-0.4 -32.3h0m36.8 43.4h0m-5.7 -1.1h0m2.4 -5.4h0m-32.9 -5.3h0m21.5 -18.1h0m-4.6 -9.2h0m-8.5 27.8h0m-4.3 -18.4h0m10.9 13.9h0m20.3 10.7h0m-5.5 0.7h0m-1 -14.2h0m-7.6 3.9h0m-21.3 -10.3h0m27.4 5.8h0m11 -1.6h0m-15.2 5.2h0m-1.5 -23.7h0m-8.3 2.5h0m-4.1 29.6h0m7.6 -14.7h0m2.3 -17.5h0m3.4 25.5h0m1.8 -1.7h0m-13.4 -26.9h0m15.4 44.9h0m-10.5 -26.8h0m-1.2 9.8h0m-13.8 -1.9h0m23.8 -5.4h0m-18.7 -1.5h0m16.2 11.5h0m-23.4 -11h0m23.3 64h0m-6.2 -8.5h0m6.1 13.1h0m4.9 -11.9h0m-7.5 2.1h0m7.6 -14h0m-7.1 17.8h0m-1.7 -12.1h0m5.6 0.5h0m3 8.6h0m-8 -10.3h0m10.1 16.8h0m-9.8 -14.1h0m-6.8 9.4h0m13.3 -15.3h0m8 17.8h0m-11.7 5.5h0m1.8 -11.9h0m-2.4 10.6h0" stroke="#d198b5"/><path d="M1050.6 441.2h0m5.2 35.4h0m8.5 -26.4h0m-19.7 -23.5h0m-23.9 35.1h0m10.5 -12.9h0m4.1 -8.1h0m16.5 34.6h0m21.5 -78.1h0m12.7 30.8h0m19.4 14h0m-25.9 6.4h0m-12.6 -55.8h0m8.5 77.7h0m-0.3 -31h0m-35.8 6.1h0m10.2 5.2h0m13.1 -57.9h0m46.3 43.7h0m-33.9 38.4h0m-20.6 -51.3h0m-9.6 30.8h0m40.1 -32.5h0m25.1 14.4h0m-42.1 21.2h0m19.6 -25h0m-21.4 -36.6h0m-15 51.6h0m53.9 1.7h0m-34.5 -22.9h0m13.7 34.6h0m2.6 -39.1h0m21.5 14.7h0m-33.6 19.8h0m-10.6 12h0m-19.1 11.3h0m24 -54.6h0m-1.6 -21.5h0m8.5 -2.3h0m14.7 41.6h0m-50.3 29.8h0m36.3 -39.2h0m-4.2 -5.8h0m-10.6 10.4h0m18.5 -16.8h0m-24.6 24h0m44.9 -19.4h0m-38.9 -32.1h0m39 57.6h0m-35.2 -21.3h0m7.1 37.9h0m9.9 1.6h0m0.9 4.8h0m-6.3 -45h0m-6.8 36.5h0m11.2 -49.3h0m-47.4 57.7h0m24.4 -15.7h0m-4.1 -2h0m40.7 -16.7h0m-27.3 2.8h0m-12.6 -45h0m0.4 30.4h0m8.3 8.9h0m-2.4 34.8h0m-20.1 -37.2h0m28.6 -30.7h0m-13.8 30.2h0m19 43.5h0m8.9 -68.6h0m-41.7 47.9h0m24.2 23.7h0m-22.7 -21.3h0m26.9 -37.8h0m-2.6 18.6h0m-41.7 25.4h0m24.3 -73.1h0m-7.9 60.7h0m29.3 19.3h0m-35.9 -26.8h0m54.3 -11h0m-34.4 7h0m11.9 7.6h0m-11.2 -56.5h0m-16.5 70.9h0m0.2 -15h0m61.1 -19.8h0m-61.9 6.5h0m9.7 19.2h0m-8.6 -4.5h0m37.4 -43.7h0m-16.8 -2.6h0m29.7 37.1h0m-25.9 -7.6h0m-25.7 39.9h0m56.3 -51.1h0m-17.4 -3.9h0m-10.4 45.4h0m-20.5 -23.7h0m50.4 1.1h0m-44.4 7.7h0m-9.9 -15h0m12.2 39.3h0m-17.9 -33h0m47.6 -14.1h0m-55.8 35.4h0m20 -33.8h0m15.9 42.2h0m39.6 -31.7h0m-44.6 10.4h0m-6.7 31.7h0m26.2 -15.3h0m5.7 -10h0m7.7 -4.7h0m-28.5 -2.9h0m3.3 -40.3h0m17.5 38.8h0m-35 29.1h0m44.1 -24.3h0m-18.2 5h0m-13.6 -19.1h0m31.3 -6.6h0m-12.7 -5h0m-23.8 30.9h0m10.2 -9.8h0m-2.2 -0.7h0m15.7 -37.1h0m-18.6 10.6h0m-13.7 18.4h0m10 9.4h0m6.6 -10.2h0m-35.8 31h0m32.2 -37.9h0m6.3 -1.7h0m-34.7 50.7h0m21.1 -27.2h0m-10.3 22.5h0m51.1 -57h0m-17.5 18.4h0m-48.6 26.1h0m50.3 -42.2h0m4 15.6h0m12.9 -15.4h0m-27.8 14.4h0m0.2 28.7h0m1.1 -35.3h0m-9.1 -3.9h0m-12.5 31.4h0m17.6 -57.3h0m28.2 23.7h0m-44.5 29.4h0m6.2 -51.7h0m-6.2 83.3h0m25.3 -29.1h0m10.9 -41.9h0m24 27.7h0m-49.8 -45.8h0m33.4 65.6h0m-24.1 -24.8h0m22.2 22h0m-48.1 15.2h0m25.2 -74.3h0m-27.1 52.5h0m37.9 -48.3h0m-12.3 22.3h0m0.4 -9.8h0m-39.1 46.8h0m40.7 -63.4h0m-1.6 68.5h0m42.2 -30.5h0m-1.3 -6.4h0m-31 -18.4h0m-47.8 46.2h0m42.2 -30.3h0m34.3 21.4h0m-46.1 -47.7h0m-2.7 66.2h0m1.3 -38.6h0m-5.8 41.2h0m20.5 -22.7h0m5.8 -44.9h0m-24.8 -10.9h0m26.1 67.2h0m-13.4 -0.3h0m6 15.6h0m-21.8 -35.9h0m-1.9 20.3h0m57.7 -20.3h0m-49.4 0.2h0m-28.8 21.8h0m9.1 -8.7h0m-6.3 19.3h0m27.2 -28.4h0m-5.6 -39.8h0m13.9 32.6h0m14.5 -4.1h0m21.8 2.5h0m-32.2 28.7h0m-14.4 -20.1h0m-12.9 0.1h0m43.5 -25.6h0m-13.3 -13h0m-31.1 59.5h0m19.4 -17.2h0m-14.2 -53.3h0m42.8 23.8h0m1.3 30h0m-41.9 -7.6h0m50.7 9.8h0m-33.3 16.5h0m9.7 -6.7h0m-43.5 14.6h0m28.3 -6.1h0m-22.9 -11.3h0m-1.1 22.7h0m25.8 -83.4h0m-0.2 92.2h0m15.9 -71.7h0m13.3 3.2h0m-55 23.7h0m4.8 -11.6h0m-15.3 47.7h0m53.8 -28.2h0m-40.9 -3.8h0m11.9 -11.1h0m30.7 -10.9h0m-36.3 21.3h0m0.6 28.5h0m1.8 -23.5h0m24.7 30.7h0m14.6 -63.5h0m-4.6 6.2h0m0.8 -3.5h0m-54.1 29.9h0m48.2 1.7h0m-51.2 26.7h0m-2.6 -16.9h0m30.4 7.3h0m-7.4 -33.5h0m13.2 -7.5h0m-3.8 22.3h0m14 -34.9h0m27.4 5.5h0m-48.3 61.6h0m7.4 -86.5h0m-21 56.6h0m38 7.2h0m-17.5 -61.7h0m18.6 75.2h0m13.2 -30.1h0m17.6 5.1h0m-61.8 28.4h0m9.9 -38.7h0m36.7 1.2h0m-55.9 9.5h0m66.7 -4h0m-29.8 29.3h0m-17.7 -77.2h0m-21.2 78.7h0m54 -44.1h0m-6.7 -15.1h0m14.7 11.8h0m-5.5 29.9h0m-51.4 12.8h0m60 -43.8h0m-23.8 15.9h0m-19.8 -11.2h0m14.8 -12.9h0m-37.9 46.2h0m47.6 -12.4h0m8.2 -39.2h0m-29 22.7h0m32.9 11.2h0m-3.9 -10.5h0m-60.2 28.4h0m53.5 -2.6h0m28.3 -20.5h0m-76 14h0m14.9 14.3h0m21.3 12.7h0m15 -39.8h0m4.5 23.9h0m-12.4 10.6h0m-7.2 -30.9h0m-44.7 27.3h0m33.5 -6.7h0m33 -13.1h0m-2.2 5.8h0m-26.3 13.4h0m-15 -31.5h0m35.3 30.5h0m-0.3 -17.2h0m-29.3 8.3h0m11.1 -12.8h0m-20.1 -23.4h0m50.2 -6.9h0m-32.6 48.7h0m11.8 3.3h0m-12.3 -47h0m-23.9 56.6h0m53.1 -40.5h0m-55.5 28.9h0m29.7 -7.8h0m-13.2 -2.8h0m-0.4 7.5h0m11.7 -42.4h0m22.7 40.5h0m-3.9 -56h0m-48.8 64.1h0m4 3.9h0m62.1 -30.6h0m-23.2 -6h0m-9.4 4.1h0m10.3 -18.2h0m16.6 -4.8h0m-53.8 49.9h0m-4.4 -16.5h0m29.8 -10.8h0m-21.2 11.2h0m54.4 -11.2h0m-15.8 -21.5h0m8.2 24.3h0m-44 10.6h0m31.7 -45.9h0m-20.1 54.8h0m37.6 -45.2h0m-31.8 66h0m11.6 -81.3h0m22.8 27h0m-64.7 22.2h0m40.5 24.7h0m-13.5 -12.7h0m-2.5 -74.6h0m48.3 39.7h0m-5.6 11.8h0m-30.7 -10.1h0m3.7 29.9h0m-37.1 -29.6h0m17.5 -9.7h0m23.7 -17.8h0m-37.2 57.2h0m42.7 -38.3h0m-40 55.6h0m6.3 -1.1h0m3.7 -0.7h0m-27.3 -11.7h0m6.6 -11.3h0m39.8 -37.6h0m-26.2 11.2h0m-10.6 33.4h0m26.3 -42h0m2.1 26.3h0m-37.7 30.8h0m-4.9 -16h0m11.8 10.5h0m-3.5 7.3h0m61.7 -61.5h0m-30.6 23.3h0m11.4 24.7h0m-43.3 2.8h0m19.8 7.9h0m24.2 -19.9h0m19.2 -4.7h0m-22.9 0.2h0m-10.7 -16.9h0m-10.3 20.1h0m-10.8 15.6h0m16.3 -36.8h0m32.1 5.5h0m-9.5 -13h0m-17.9 -2.8h0m14.5 -1.4h0m-5.8 -4.6h0m-12.6 3.7h0m54 20.3h0m-64.5 21.8h0m48.6 -12.5h0m6.2 2.2h0m-37.5 -27.8h0m6.7 56.9h0m-8.5 -48.7h0m-27.2 44h0m8.6 -5.3h0m40 -54.7h0m21.6 21.6h0m-15.7 23.6h0m-38 -10.3h0m9.6 2.9h0m-28.9 22.9h0m13.9 -19.3h0m-1 10.4h0m53.3 -28.5h0m5.2 -8.2h0m-50.2 -40.7h0m39.9 36.6h0m-46.8 35.6h0m30.7 11.8h0m-24.5 -46.6h0m-0.2 49.7h0m0.8 -80.5h0m44.4 49.6h0m-29.2 36.6h0m36.8 -40h0m-24.5 -12.7h0m-16.3 34.7h0m24.7 -44.3h0m-22.7 -23.1h0m32.4 33.2h0m-57.7 29.2h0m35.3 -59.1h0m-44.4 58.9h0m66.8 -16.5h0m-15.4 -27.6h0m-42.1 56.2h0m7 -40.6h0m27.1 -27.3h0m1.3 2.1h0m8.3 -1.1h0m-28.1 40.4h0m12.8 44h0m-33.4 -15h0m33.8 -39.2h0m-7.1 -44h0m-12.6 -4.7h0m24.1 81.6h0m23.8 -20.2h0m-16.7 20.2h0m-50.3 -7.8h0m61.5 -47.9h0m-37.7 63.2h0m-2.9 -51h0m-1.8 38.2h0m-10.6 -23.8h0m57 -13.5h0m-45.4 -30.3h0m35.1 54.7h0m-30.3 -60.9h0m48.2 55.5h0m-51 -21.9h0m3.6 29.5h0m9.1 -50h0m-28.4 69.2h0m52.7 -4h0m-48.1 -17.3h0m50.5 -33.1h0m-13.1 21.6h0m-15.2 27.1h0m-26.5 -9.9h0m33.9 -22.2h0m2.9 32.1h0m-19 -23.1h0m39 13.1h0m-55.5 -23.5h0m12.2 -44.3h0m-7.9 59.6h0m32.6 -53.8h0m-19.6 3.9h0m5.4 -4.6h0m10 74.6h0m19.5 -44.9h0m-40.5 -34.7h0m4.9 4.3h0m22.4 51h0m33.4 -2.2h0m-45.1 29.2h0m-12.6 -13.1h0m-17.2 14.5h0m8.5 -45.8h0m-15.8 39.6h0m67.2 -23.5h0m-36.7 -44.2h0m-33.3 69.8h0m8.2 -28.4h0m16.2 -3.8h0m-18.1 41.1h0m9.4 -48.4h0m11.9 11.5h0m-8.5 27.4h0m-19.6 -1.9h0m58.3 -52.7h0m2.6 29.1h0m8.1 -26h0m7.1 29.5h0m-58.7 22.8h0m47.7 -4.8h0m-34.8 -64h0m50 44h0m-64.8 31.9h0m7.6 -82h0m29.4 9.3h0m-24.3 34.3h0m40.2 0.5h0m-25.2 14.9h0m-9.3 -57h0m18 5.6h0m-14.1 75.4h0m-28 -15.4h0m-8.7 11.4h0m62.2 -14.9h0m-17.2 -16.1h0m23.4 -25.8h0m-39.2 4.5h0m14.8 -27.3h0m12.9 10.5h0m-23.9 27.4h0m-16.2 38.2h0m-9.2 -2.9h0m35.5 -69.7h0m-5.3 52.9h0m-25.3 -2.7h0m38.8 24h0m2.9 -47.4h0m-2.6 -12.2h0m-22.8 53.8h0m34.2 -14.5h0m-14.1 -35.2h0m7 53h0m-16.1 -26.4h0m3.7 -29.1h0m-19.1 50.9h0m44 -27.3h0m-30.7 -19.2h0m36.4 12.1h0m-9.5 5.6h0m-64.9 30.2h0m28.8 5.6h0m53.8 -40.4h0m-54.3 1h0m11.9 14.5h0m22.5 12.1h0m-4.4 -15.8h0m-2 -31.7h0m-51.9 42.4h0m9.3 24.7h0m-14.3 -17h0m41.3 -18h0m-16 -7.5h0m-16.6 24.6h0m56.6 -30.9h0m-31.2 21.4h0m-25.5 -4.7h0m9.2 -9.5h0m32.1 19.2h0m-37.6 12.8h0m39.6 -72h0m0.9 51.3h0m-8.1 -18.5h0m-2.2 -35.5h0m-11.4 28.3h0m26.1 5.8h0m10.7 14h0m-25.7 -23.9h0m-25 50.9h0m15.8 -37.5h0m7.9 -34.6h0m12.6 41.2h0m16.3 -7.2h0m-62.7 37.1h0m57.1 -39.6h0m-57.5 20.5h0m19.4 -23.5h0m10.9 15h0m39 3.3h0m-8.7 -7.8h0m-67.4 33h0m20.8 6.1h0m3.8 -23.3h0m22.9 15.3h0m-14.2 -36.5h0m31.1 -8.1h0m4.4 37h0m10.1 -26.9h0m-40.7 -4.4h0m-3.4 -29.7h0m-29.3 57.5h0m50.8 12.8h0m-29.1 -72.3h0m13.9 45.3h0m7 12.9h0m-21.9 0.7h0m2.7 -11.6h0m-6.6 31.3h0m19.7 -33.2h0m-11.5 12.5h0m-12 -5.3h0m47.2 -32.4h0m-50 17.8h0m61.3 -3h0m-1.9 8.5h0m-58.4 -9.2h0m-15.6 33.5h0m42 16.8h0m-29.4 -48.6h0m21.2 -1h0m-5.6 21.4h0m-23.6 17.1h0m62.3 -55.5h0m-26.6 22.7h0m8.8 -11.3h0m10.9 43h0m-23.8 2.3h0m32.5 -47.6h0m-58.6 41.2h0m24.6 16.3h0m12.5 -1.5h0m-112.5 -62.4h0m13.5 18.6h0m7.7 17.8h0m-22.2 -27.2h0m10.6 7.9h0m-12 14h0m25.1 -11.3h0m-23.2 6.2h0m7.9 6h0m-7.9 -17.9h0m13.8 -12.9h0m19.8 21.9h0m-6.9 -2.1h0m-15.7 -19h0m21.2 39.2h0m-28.3 -16.5h0m9.5 -23.9h0m-2.2 29.5h0m21.6 -10.9h0m-27.4 11.4h0m-8.4 -25.3h0m22.5 15.9h0m9 0.6h0m-24.7 1.7h0m-10.7 -23.7h0m20.4 1.8h0m12.4 41.7h0m-10.5 45.5h0m5.3 -1.6h0m-4.2 -17.8h0m6.3 5.8h0m0.5 7.8h0m0.2 -7h0m-12.5 -4.4h0m1.2 15.1h0m-1.5 -2.4h0m15.2 -1.1h0m-4.5 1.2h0m1.8 -9.4h0m-14.5 0.9h0m7.7 2h0m1 3.4h0m5.3 -0.2h0m0.1 8.5h0m1.9 -11.5h0m54.4 -130.1h0m5.9 6.1h0" stroke="#ca80a1"/><path d="M1053.4 477h0m53.3 -38.7h0m-73.6 23.2h0m1.6 -17.8h0m7.8 -6.3h0m-7 30.9h0m-0.8 14.4h0m38.8 -43.6h0m2.6 8.9h0m-54.2 70.7h0m36.4 -60.5h0m30.5 -42.2h0m-1.2 12.4h0m-24 54h0m21.3 -46.2h0m-10.2 18.6h0m-12.7 -54.7h0m23.7 43.1h0m-43.1 -3.9h0m27.2 -6.5h0m2.2 -9.2h0m-27.1 44.2h0m30 -71.3h0m-27.9 80.5h0m-14.4 -10.1h0m24.8 28.5h0m10 -38.1h0m27.8 1.3h0m-7.3 10.2h0m-2.4 -22.7h0m9.6 -30.8h0m13.7 21.5h0m-54.5 48.4h0m9 -65.8h0m3.8 59.5h0m-10.7 25.5h0m0.3 -19.7h0m-7.8 -46.6h0m20.6 1.6h0m8 -2.6h0m-1.1 -40.1h0m-3 36.4h0m-21 54.3h0m-9.8 6.8h0m-17.1 -16.9h0m81 -32.2h0m-27.3 -32h0m5 -2.8h0m-15.8 -14.2h0m-10.6 71.7h0m-6.6 3.7h0m9.2 -5.3h0m-1 -18.8h0m28.6 7.6h0m-25.5 7.4h0m36.9 -7.5h0m-18 -1.9h0m-18.4 37.9h0m8.7 -30.3h0m16 -22.1h0m-36.3 4.8h0m26.9 -1h0m-13.7 42.8h0m-34.7 -21.7h0m73.8 -33.4h0m-18.7 1.5h0m-46.4 55.1h0m39 -52.2h0m-17.1 1h0m-1.8 -5.9h0m18.2 45.4h0m-10.7 -2.7h0m-22.4 -5.1h0m19.1 -64.5h0m20.2 4.6h0m-20.1 -3h0m26.5 63.5h0m-45.8 -13.2h0m8 -6.3h0m-5.6 17.8h0m17.8 -48.5h0m2.8 -3.6h0m34.9 34.2h0m-37.5 20.5h0m6 -72.1h0m3.1 23.7h0m-13.2 -19.6h0m-16.4 83.1h0m26.1 -33.3h0m-19.9 11h0m-10.8 -16.1h0m15 -56.9h0m17.4 62.5h0m-45.6 22h0m34.5 -13.8h0m27.9 -37.9h0m-40.5 31.8h0m-6.4 14.9h0m25.6 8.8h0m18.6 -43.2h0m2 -6.1h0m-21.8 -8.2h0m19.6 8.1h0m-25.1 16.4h0m-9.9 -42.9h0m48.8 28.8h0m-48.3 51.3h0m-24.1 1h0m15.9 -21.3h0m26.3 32.8h0m-3.2 -65.3h0m-34.7 56.3h0m18.4 -26.2h0m12.5 -64h0m8.2 89.3h0m-18.5 -37.1h0m47.6 3.7h0m6 -3.4h0m-35.5 15.6h0m6.6 -1.8h0m-46.5 29.2h0m30.8 -37.4h0m48.3 -15.2h0m-68.3 49.7h0m44.7 -32.8h0m-28.1 29.9h0m-10.8 -0.1h0m-16.8 -2.3h0m50.7 -51.2h0m12.4 18.8h0m-43 27.7h0m13.8 4.8h0m30.2 -64.2h0m-36.4 25h0m-7.1 -41h0m-0.5 67.1h0m-8.2 -19.5h0m17.5 -22.8h0m-18.1 31.7h0m69 -15.9h0m-65.6 11.1h0m-19.3 5.3h0m32.9 26.1h0m39.2 -57.3h0m-3.1 32h0m-32.7 -31.5h0m5.5 -28.5h0m40.6 40.2h0m-42.5 -36.1h0m2 46.4h0m1.5 -29.7h0m-9 77.7h0m-26.3 -17.1h0m38.5 -48h0m-8.3 -38.6h0m18.8 37.9h0m28 3.8h0m-36.9 23.2h0m-15.7 -18.1h0m7.5 -15.3h0m24.1 38.3h0m-17.6 -50.8h0m-0.7 18.6h0m-13.3 54.9h0m30.3 -31.4h0m-18.2 -7.1h0m-34.8 38.4h0m53.3 -51.3h0m-3.2 6.2h0m-54.2 35.6h0m45.6 0.2h0m-9.6 -69.8h0m26.5 7.8h0m-49.9 20.4h0m19.9 1.3h0m4.2 33.3h0m0.2 -58.3h0m-7.5 65.1h0m-20.9 -2.7h0m11.3 -77.7h0m7.7 57h0m30.4 -31.3h0m-38.2 21.9h0m35.1 -3.4h0m-51 22.8h0m38.4 -42.5h0m-23.3 58.3h0m6 -27.5h0m-5.6 -57.9h0m1 7.3h0m18.7 48.4h0m-31.1 15h0m29.8 -58.4h0m-16.8 84h0m18.2 -72.9h0m3.5 61.3h0m-43.4 -2h0m30.6 -34.3h0m17.9 -33.1h0m-40.4 78h0m-10.2 -15.9h0m17.9 37h0m7.4 -59.9h0m-20.6 35.4h0m24.3 -36.2h0m-3.7 -1.9h0m5.1 13.5h0m11.9 -40.7h0m-36.1 44.3h0m9.8 -6.7h0m3.1 28.3h0m2.8 -10h0m-6 -19.4h0m1.5 23.2h0m40.4 -12.7h0m-16.4 -51.1h0m-38.8 44h0m0.8 10.7h0m22.4 -3.7h0m19.1 -16.9h0m-40.2 2.7h0m5.8 27.9h0m34.2 -14.1h0m12.2 -42.1h0m-9.7 -25.8h0m-14.4 31.3h0m19.3 -7.9h0m-20.4 53.8h0m16.3 -25.9h0m-35.8 39.1h0m29.1 -23.1h0m24.7 -41.2h0m-32.9 11.7h0m9.8 36.1h0m-1.4 -22.6h0m17.8 13.5h0m-7.3 -51.2h0m16.5 22.6h0m9.4 13.7h0m-25.8 10h0m-31.5 30.4h0m-7.5 -53.4h0m15.7 -38.2h0m9.4 78.8h0m-30.9 3.8h0m21 -3.3h0m3.2 1.4h0m32.7 -39.8h0m-35.6 45.7h0m19.3 -65.1h0m-16.1 38.9h0m32.7 -11.6h0m-0.8 -8.7h0m-26.9 -44.4h0m-18.4 90h0m11.6 -26.4h0m-14.4 41.2h0m8.9 -27.4h0m-16.4 -20.9h0m39.5 -2.2h0m-3.4 -13h0m-13.7 29.5h0m-16 3.7h0m39.8 -62.7h0m7.7 28h0m-18.1 0.3h0m-32.5 28.7h0m45.3 -47.5h0m-10.5 13.3h0m-1.1 -9.9h0m-1.8 11.7h0m29 10.8h0m-59.6 7.1h0m58.2 -28.7h0m-67.4 49h0m-5.8 -5.9h0m83.3 -18.1h0m-71.5 30.3h0m58.2 -31h0m1.9 -22.8h0m-34.9 34.3h0m-13 27.1h0m-21.9 -14.1h0m34.9 -20h0m0.5 45.9h0m3.4 -88.9h0m21.6 10.6h0m5.8 46.3h0m-28.7 21.5h0m19.6 -42.9h0m-45.8 3.8h0m-9.9 38h0m75.8 -56.1h0m-34.4 4.9h0m5.2 21.7h0m-28.3 -10h0m20.2 20.1h0m9.8 15h0m-29.7 -39.8h0m34 -23.1h0m-7 5.2h0m-8 33.1h0m-2 -60.2h0m-30.5 93.6h0m45.7 -75.1h0m-44.9 28.9h0m13.3 -39.7h0m40.2 35.4h0m-37.7 30.6h0m12.9 -5.2h0m23.6 -47.2h0m-14.6 53.8h0m-4 -15.3h0m-15.5 -23.2h0m13.3 -5h0m-13.2 56.2h0m28.7 -25.4h0m-18.1 -1.4h0m-4 -55.6h0m19.4 2.5h0m-42.4 78.5h0m34.7 -23.7h0m29.3 -22.1h0m-32.8 3.5h0m7.7 20h0m1.4 -39.5h0m-31.2 38.6h0m35.4 -24.6h0m-44.8 4.1h0m5.1 31.8h0m15.1 13h0m-10.5 -83.3h0m12.8 52h0m37.1 -30.3h0m-7.9 31.9h0m-0.6 19.1h0m-19.4 -67.4h0m2 89.9h0m-21.4 -8.4h0m18.9 -51.1h0m42.2 4.4h0m-46.4 39.5h0m-15.4 -23.7h0m10.7 -1.6h0m42.2 4.4h0m-15.7 2.2h0m-42.2 -25.7h0m-2.1 59h0m29.3 -9.7h0m-17.6 -38.4h0m-21.2 10.1h0m31.6 -9.4h0m13.5 -22.2h0m-28.2 63.6h0m-16.3 -21.9h0m15.2 11.8h0m27.1 -13.8h0m-23.2 17.7h0m20.4 -31.3h0m-44.1 9.6h0m31.2 -15.5h0m-27 23.8h0m41.7 -49h0m-4.9 68.3h0m12.4 -18h0m-43 16.9h0m31.3 -84.8h0m-24.1 85.9h0m-8.2 -11.4h0m-2.3 -13.3h0m12.9 -59.6h0m22.3 79.8h0m-0.1 -45.2h0m-5 6.8h0m-36.3 31.7h0m44.7 -28h0m-31.3 36.4h0m51.2 -39.6h0m-48.7 19.8h0m46.1 -41.4h0m-17 43.3h0m-25.2 22.2h0m44.9 -66.8h0m-30.7 -12.8h0m-4.2 77.5h0m6.5 -55.6h0m15.4 -18.3h0m24.5 34.2h0m-39.7 -40.5h0m12.5 52.6h0m-11.6 18.9h0m-24.8 -3.9h0m-5 6.1h0m4.6 7.6h0m25.4 -88.9h0m-33.8 52.9h0m33.9 -7.4h0m-11.3 -39.7h0m33.6 11.6h0m-59.8 58.5h0m79.4 -29h0m-54 -11.6h0m1.5 -6h0m-24.7 52h0m37.1 -80.1h0m-37.2 90.3h0m68.9 -34.1h0m-42.9 24.4h0m1.1 -0.1h0m23.3 -4.3h0m-35.8 16.5h0m63 -42.4h0m-39.8 18.7h0m-23.3 12.5h0m2 -30.4h0m-3.9 -14.1h0m24.6 -30.3h0m-0.3 83.9h0m32.8 -39.6h0m-11.5 -18.6h0m-61.5 57.1h0m39 -26.2h0m33.3 -40.1h0m-22.3 -7.4h0m-10.5 7h0m-27.3 52.5h0m5.4 -34.2h0m6 5.5h0m46.2 -23.4h0m-18.5 45h0m-3.7 -53.2h0m-19.8 24.9h0m-14 32.8h0m-7.6 12.3h0m63.2 -40.2h0m-38.8 7.9h0m-21.8 49.7h0m23.3 -58.8h0m22.8 -14h0m9.9 10.9h0m-54.2 34.4h0m36.3 -70.1h0m-10.8 -3.4h0m31 45h0m-22.6 10.3h0m31.4 -10.3h0m-74.5 26.8h0m52.5 -30.7h0m-16.7 10.5h0m-32.5 8.4h0m67 -32.8h0m-9.1 23.7h0m-13.1 15.4h0m-29.6 24.8h0m6.8 -6.4h0m19.8 -39.7h0m29.4 -9.4h0m-14 -8.4h0m-56.4 55.3h0m45 -56.2h0m-13.2 3.7h0m29.8 6.9h0m-57.8 27.6h0m0.3 23.3h0m22.4 -11.7h0m3.3 -21.9h0m24.5 6.7h0m-33 -15.1h0m19.4 30.5h0m8.1 -45.8h0m-6.8 31.2h0m-24.1 14.7h0m20 -75.6h0m-1.8 44.1h0m-16.2 8.3h0m27.4 25.7h0m-4.6 -76.7h0m9.2 58.2h0m-46.2 -22.4h0m10.2 -35.7h0m4.2 70h0m-92.3 -14.7h0m30.1 7.7h0m-30.1 -17.8h0m20.6 12.6h0m-21.3 -2.4h0m15.9 -12.7h0m16.6 19h0m-29.3 -33.4h0m2.1 14.7h0m5 -8h0m9 62h0m-12 -1.9h0m3.4 -5.3h0m-4 5.3h0m18.2 8.5h0m-14.3 -1.2h0m4 -10.9h0m0.8 14.7h0m-8 -9.7h0m76.1 -128h0m2.6 3.1h0m-3.8 -3.1h0m1.9 2.9h0m1 -0.9h0m-1.5 0.3h0m-2.4 -4.2h0" stroke="#c3668d"/><path d="M1036.8 492.9h0m11.8 9.3h0m-5.2 -2.4h0m2.3 5.9h0m-7 -20.3h0m8.5 13.2h0m-10 -9.3h0m11.3 19.4h0m-0.1 -27.6h0m3.8 1.2h0m40 -55.5h0m-4.8 -16.6h0m-60.2 78h0m-1.1 -14.4h0m19.6 -28.9h0m23.2 43.6h0m-38.8 -4.1h0m-5.4 30.8h0m30 -18.4h0m4.6 -64.9h0m-15.1 58.6h0m-14.2 6.3h0m47.1 -79.7h0m-16.1 84.6h0m-3 -4.6h0m27.5 -25.9h0m-34 30.4h0m-12.3 -13.1h0m23.8 -2h0m-0.6 2.5h0m5.5 -25.4h0m-30.7 19.9h0m-0.2 0.8h0m24.9 4.8h0m0.1 -3.7h0m-7 -45.3h0m27.9 7.4h0m-16.8 20.7h0m-0.9 -72.2h0m-31 80.7h0m50.3 -25.7h0m-18 30.3h0m-31 13.6h0m24.9 -6.2h0m-5.9 -0.2h0m-5 -64.9h0m28.8 34h0m-45.3 23.3h0m22.6 12.9h0m-14.4 -11.5h0m26.2 14.6h0m-10.9 0.5h0m10 -6.7h0m-16.2 -4.4h0m0.3 18.1h0m6.1 -18h0m-1.2 7h0m7.6 -14h0m-9.5 25.4h0m-16.6 -14.7h0m63.7 -57.4h0m-70.9 78.2h0m26.9 -15.1h0m-4.2 12.4h0m-1.2 -15.9h0m-4 1.6h0m17.5 5h0m-7.2 -10h0m8.3 -22.1h0m-14.7 29.7h0m-2.6 3.8h0m-19.4 11.1h0m37.3 -16.3h0m-35.5 -4.4h0m16.9 0.5h0m1.7 -1.4h0m-10.2 -58.4h0m-3.2 66.6h0m-7.6 -14.7h0m20 23.9h0m0.2 -11.2h0m-4.5 -4h0m7.7 9.6h0m-25.4 -19.2h0m79.2 -39.1h0m-57.7 -49.5h0m-18 112.6h0m52.1 -96.1h0m-46.3 76.8h0m10.7 -36.5h0m13.9 10.2h0m-34.2 2.3h0m29.9 38.7h0m0 -27.2h0m4.9 20.7h0m-18 6.1h0m14.3 -12.4h0m-20.2 -16.6h0m18.3 -82.6h0m-34.7 128.6h0m-3.9 -56.3h0m27.7 27.6h0m-13 17.4h0m14.6 -15.7h0m15.8 -18.1h0m-7.4 24.3h0m-25.2 -26.2h0m26.1 22.4h0m-0.5 -47.2h0m9.3 47.4h0m-1 -3.5h0m-11.8 -10.1h0m13.7 13.3h0m-16.8 2.7h0m-9.4 -5h0m-13.6 25.3h0m64 -47.9h0m-48.1 3.4h0m1.6 32.3h0m26.5 -23.6h0m22 -31.8h0m-2 -14.6h0m-24.5 11.6h0m8.1 -26.8h0m-37.2 62.7h0m12.3 -54.9h0m13.8 44.1h0m-90.2 28.4h0m2 2.9h0m65.2 -134.7h0m5.8 1.5h0m-1 0.1h0m3.9 2.3h0m-5.3 -1.5h0" stroke="#bc4e7a"/><path d="M1058.3 502.2h0m-11.5 0.4h0m3.4 -5.9h0m-4.9 5.2h0m-4.7 -4.7h0m-17 19.1h0m22.8 -22.3h0m14.6 1.8h0m-17.2 0.1h0m-28.1 27.8h0m14.3 -22.3h0m37.1 -51h0m-38.3 40.6h0m19 17.1h0m12.6 -7.3h0m-1.6 -4.3h0m-25.6 -3.5h0m2.1 12.2h0m-13.7 16.1h0m7.9 -15.1h0m2.8 -4.8h0m6.5 -1.4h0m23.2 1.6h0m-18.6 -7.7h0m-24 27.6h0m10.6 -29.5h0m14.9 -4.5h0m-21.7 29.4h0m11.1 -20h0m-14.5 23.8h0m14.7 -23.4h0m2.8 3h0m-12.8 16.7h0m7.7 -21.1h0m17.2 5.4h0m-14 4.6h0m5.2 -11.6h0m-2.6 -0.7h0m31.9 -2.7h0m-15 6.6h0m-10.1 4.8h0m21.5 -9.2h0m-28.9 7.1h0m-8.7 -9.7h0m6.8 6.2h0m13.9 -9.9h0m0.3 18.4h0m4.9 -8.6h0m-6 13.5h0m-15.8 -2.1h0m24.7 -11h0m-27.1 -7.6h0m-1.3 7.3h0m18.2 10.2h0m-0.9 -5.2h0m-14.2 -8.4h0m33 4.2h0m-33.4 14.6h0m7.8 -12.9h0m22.4 -6.8h0m-14.3 16.1h0m6.6 -12.3h0m7.2 6h0m5.4 -7.5h0m-28.1 9.5h0m2.7 -8.9h0m7.5 -0.1h0m-7.8 -3.7h0m8.3 7.8h0m-9.4 -1.6h0m10.2 1.3h0m14.4 -9.4h0m-8.7 -41.7h0m-16 48.9h0m-4.3 8.6h0m7.3 0.5h0m3.3 -4.6h0m-16.6 1.6h0m37.6 -7h0m-1.9 -2.3h0m-7.1 -7h0m-3.9 19.9h0m-2.3 -7.1h0m-17.6 0.7h0m-10.6 16h0m8.5 -16.9h0m17.1 -7.9h0m12.6 4.2h0m-19.9 3.3h0m17.3 -8.2h0m5.5 -3h0m-13.3 11.2h0m-4.9 6.2h0m6.1 3.2h0m8 -4.4h0m-16 -2.1h0m-0.8 6.7h0m-13.1 -1.8h0m23.8 -14.5h0m-9.2 18h0m-15.1 1h0m-6.5 4.1h0m34.2 -12.2h0m8.5 -5.7h0m-11.3 -8.2h0m-17.6 7.5h0m21.4 0.2h0m-8.6 1.4h0m-7.9 9.9h0m5.6 -0.4h0m-8.1 -15.1h0m-14.4 21.8h0m34.1 -19.2h0m-30 8.3h0m22.3 -10.1h0m-10.1 1.6h0m-11.4 11.9h0m10.3 -7.4h0m24.4 -6.3h0m-26.7 -0.7h0m14.1 7.1h0m-17.7 7.5h0m2.4 -5.1h0m-4.9 -9.6h0m-3.4 -2.8h0m27 17.9h0m-1.1 -11.7h0m-19.4 -2.9h0m2.3 2.9h0m5.6 5.8h0m2.6 1.9h0m2.2 0.1h0m12.6 -0.8h0m-29.1 0.1h0m9.8 0.9h0m5.8 1.4h0m-19.7 7.9h0m1.1 2.3h0m13.6 -15.9h0m-65.3 -1.8h0" stroke="#b53466"/></g>
<ellipse cx="1042.4" cy="434.9" rx="3.1" ry="1.9" transform="rotate(-20 1042.4 434.9)" fill="#fff" fill-opacity=".85" filter="url(#ub)"/><ellipse cx="1034.5" cy="471.4" rx="1.9" ry="4.8" transform="rotate(10 1034.5 471.4)" fill="#fff" fill-opacity=".85" filter="url(#ub)"/><ellipse cx="1044.1" cy="481.1" rx="1.9" ry="3.5" transform="rotate(-30 1044.1 481.1)" fill="#fff" fill-opacity=".85" filter="url(#ub)"/><ellipse cx="1062.6" cy="405.4" rx="2.6" ry="1.1" transform="rotate(20 1062.6 405.4)" fill="#fff" fill-opacity=".85" filter="url(#ub)"/><ellipse cx="1037.1" cy="489.9" rx="1.6" ry="3.1" transform="rotate(20 1037.1 489.9)" fill="#fff" fill-opacity=".85" filter="url(#ub)"/>
<g filter="url(#ub)"><use href="#umA" transform="translate(1369.9 451.2) scale(8.78 8.8)" fill="#dca4bc" stroke="#dca4bc"/><use href="#umB" transform="translate(1369.9 451.2) scale(8.78 8.8)" fill="#eef1f9" stroke="#eef1f9"/><use href="#umC" transform="translate(1369.9 451.2) scale(8.78 8.8)" fill="#eff3fa" stroke="#eff3fa"/></g>
<g fill="none" stroke-linecap="round" stroke-width="2.2"><path d="M1279.1 426.1h0m40.4 30.6h0m-36.9 -26.3h0m28.2 25.1h0m-18.7 -36.9h0m-6.9 33.6h0m5.9 -21.7h0" stroke="#e6e4f0"/><path d="M1429.5 428.6h0m-34.4 -19.3h0m-0.2 -0.5h0m-2.7 36.2h0m5.4 18.9h0m-26.2 4.6h0m30.7 -38.1h0m15.6 -5.2h0m-44.7 39.1h0m6.6 8.2h0m52.9 -43.4h0m-38.7 23.1h0m-13.1 -17.1h0m23 -1.8h0m13.6 29.9h0m-36.2 -23.1h0m-3.4 5.1h0m16.5 -26.1h0m20 -4.4h0m-26.7 48.9h0m-0.4 -20h0m-11.4 8.5h0m32.5 21.3h0m2.1 -67.1h0m-22 57.6h0m-5.6 -68.7h0m29.7 73h0m-18.4 -4.6h0m-102.6 -48.4h0m2.1 8.6h0m7.4 12.6h0m-8.3 -9.1h0m5.8 23.7h0m6.7 -1.3h0m-22.2 -10.2h0m13.9 -15.2h0m15.7 17.6h0m-23 -4h0m1.5 -18.4h0m8.7 1.8h0m-1 6.6h0m-17 -2.8h0m-0.4 7.9h0m10.5 -7.1h0m18.6 31.3h0m13.8 -22.8h0m-18.3 22.5h0" stroke="#dfcadc"/><path d="M1421.2 462.7h0m-44.2 -34.5h0m10.8 -35.2h0m-1.1 85.5h0m4.5 -77.5h0m-3.4 -0.3h0m13.1 23.3h0m-4.2 46.3h0m8.9 -9.7h0m-24.2 -37.7h0m24.3 -11.7h0m11.7 40.9h0m-28.4 15.2h0m45.1 -43h0m-34.6 36.5h0m7.4 -11.4h0m-45.9 -2.1h0m-4.7 30.4h0m33.1 -8.8h0m22.4 -14.2h0m20.5 -10.5h0m-38 -22.1h0m-30.8 40.3h0m50.8 -50.6h0m-28.2 -14.1h0m-8.5 70.4h0m17.1 8.2h0m-6.1 -6.2h0m4.1 7.8h0m-9.5 -23.2h0m19.2 -53h0m4.8 9.4h0m18.7 43h0m-61.2 -9.9h0m29.1 -17.8h0m-31.1 24.6h0m66.1 -31.5h0m-68 47.8h0m8.1 -9h0m34.9 -40.8h0m-2.6 -12.2h0m-40.8 47h0m33.4 11.9h0m-33.8 10h0m4.3 -29.4h0m69.9 -8.5h0m-77.3 30.4h0m43.2 -3.7h0m11.4 -23.1h0m-26.9 13.8h0m17.9 16.5h0m5.8 -13.6h0m-5.5 -19.6h0m-2.7 -17.2h0m-0.7 -7.5h0m-36.2 42.5h0m49.7 -5.5h0m-18.6 -2.7h0m-17.2 -50.6h0m6.4 71.7h0m34.4 -7.4h0m-14.7 -7.9h0m-42.1 11.3h0m11.8 -22.5h0m32.9 7.6h0m2.5 11.7h0m21.2 -20.6h0m-66.9 18h0m30.9 -16.9h0m-24.1 5h0m16.4 -17h0m21.9 -2.8h0m12.4 18.5h0m1.8 -27.7h0m-14.4 55.9h0m20.5 -52.7h0m-7 12.1h0m0 11.3h0m-68.3 25.7h0m66.1 -43.7h0m-24.8 12.8h0m20.1 3.5h0m1.3 -26.7h0m22.6 14.4h0m-61 20h0m-13.4 11.5h0m-4.9 -5.6h0m73.7 -33.5h0m-36.2 24.6h0m30.2 -16.4h0m6 -8.7h0m-52.2 39.9h0m1.6 -2.8h0m41.3 0.8h0m-52.1 16.1h0m42.4 -54.9h0m7.2 3.1h0m-16.8 1.7h0m-2 4.9h0m-26.5 17.2h0m55.5 -22.1h0m-13 29.6h0m-39.1 5.8h0m-14.7 3.2h0m7.3 9.7h0m39.1 -28h0m-10.2 12.1h0m11.3 -42.9h0m-50.7 46.7h0m44.7 -6.7h0m-14.8 -27.5h0m16 -1.1h0m-6.5 53.2h0m-1.3 -34.9h0m-13.7 7.6h0m-16.3 -4.6h0m42.7 -31.9h0m18.8 10.8h0m-50.9 27.4h0m-0.7 -21.5h0m39.4 -3.5h0m5 15.7h0m-35.9 -49.2h0m37 37.5h0m-42.5 5.6h0m3.6 13.5h0m52 -20.5h0m-36.3 47.4h0m-14.4 -40h0m36.6 3.4h0m-53.3 -10.9h0m51 -1.6h0m-36 35.6h0m6.5 -38.4h0m33.8 15.8h0m-14.6 -33.4h0m5.7 53.9h0m-30.3 -34.9h0m-14.8 2.5h0m7.4 -37.8h0m25.5 33.8h0m-25.2 16.4h0m-21.5 16.8h0m45 -11.3h0m-15.9 -13.3h0m39.6 4.8h0m-13.2 -18.6h0m-8 -10.8h0m-10.1 7.3h0m7.2 41h0m-4.3 -45.2h0m2.7 34.6h0m-31.5 -18.5h0m16.7 28.5h0m12.2 -34.2h0m-6.9 0.2h0m-0.5 13.6h0m-20.1 12.3h0m4.3 -23.3h0m-7.5 24.8h0m38.2 -29h0m24 26.1h0m-15.6 0.5h0m-53.5 12.9h0m54 -52.7h0m-22.1 72.5h0m-18.2 -23.3h0m31.7 -32.5h0m-22.6 -32.4h0m10.6 80.9h0m25 -18h0m-36.5 -24.4h0m-19.6 31.7h0m49.4 4.8h0m-36.1 -37.8h0m-2 42.2h0m-17.1 -11.4h0m54.7 -20.6h0m3.1 -32.4h0m9.4 20.3h0m-0.6 5.4h0m0.4 -8.1h0m11.1 11.8h0m-47.5 28.1h0m-13.8 -18.5h0m13.9 -12.6h0m-10.8 29.1h0m1.9 -34.7h0m2.4 10h0m35.3 -28h0m-36.9 -18.5h0m39.2 76h0m0.7 -40.7h0m-8.9 -22.2h0m21.6 43.7h0m-5.1 -20.7h0m-24.1 -12.4h0m-43.1 46.3h0m56.7 -52.6h0m2.7 5.1h0m-10.9 22.3h0m-8.3 -37.6h0m-0.4 14.9h0m3.4 41.6h0m-27.2 -19.3h0m16.9 -41.7h0m15.9 7h0m-13 45.7h0m18.4 -3.2h0m8.8 -8.6h0m-135.9 5.7h0m-5.3 -4.3h0m23.2 -15.3h0m-17.8 5.2h0m6.1 16.5h0m11.5 6.3h0m-24.3 -16.4h0m18.5 -13h0m-0.6 1.4h0m2.7 15.7h0m13.9 -0.5h0m-2.6 10.1h0m-26 -20.2h0m26 13.7h0m-5.6 5.2h0m-6.8 0.2h0m-5.6 -1.3h0m-11.2 -17h0m9.1 24.4h0m15.8 -22.1h0m0.2 3.9h0m-18.6 5.4h0m-5 -10.2h0m6.3 -12.9h0m-3.4 24.6h0m0.6 3.7h0m34.2 -6.5h0m-34.1 -1.9h0m12.5 8.2h0m1.1 -10.5h0m8.9 19.6h0m-14.7 -34.6h0m3.9 26.6h0m0.6 8.5h0m-12.9 -35.8h0m4.2 17.4h0" stroke="#d8b2c9"/><path d="M1434.4 435.6h0m-31.5 -13.7h0m-38.7 20.6h0m1.1 36.3h0m26 -74.5h0m5 -4.3h0m-32.9 42.3h0m34.2 19.1h0m27.2 -27.7h0m-16.2 -30.1h0m-34.1 59h0m47.9 -20.2h0m-20.4 29h0m6.2 -18.3h0m-21.6 21.7h0m10.4 -11.3h0m-12.2 -60.8h0m39.8 46.4h0m-13.8 -36.5h0m-38.8 45.4h0m5.9 16.6h0m-10.3 -18.2h0m16.4 -24.3h0m32.1 -7.3h0m-19 -5.2h0m-11.8 -29.8h0m-29.9 94h0m5.8 -6.9h0m27.5 0.5h0m-1.6 5.6h0m-6.4 -3h0m-2.7 -56.5h0m22.3 42.1h0m-10.1 -44.1h0m34.3 -3.5h0m-30.6 -16.2h0m38.7 44.2h0m-57.8 31.8h0m-22.6 -18.5h0m54.8 -49.7h0m-10.7 -7.6h0m5 36.8h0m-10.1 38.4h0m-18 -42.8h0m-8.3 41.3h0m37.7 -26.7h0m-16.7 13.1h0m5.5 -68.7h0m-14.4 -1.7h0m32.8 81.7h0m-50.2 -19h0m22.5 25.8h0m-17.1 -1.9h0m55.2 -49.9h0m-65.8 47.7h0m40.9 -4.4h0m-40.2 8.2h0m15.4 -19.8h0m65.2 -35.3h0m-35.6 44.9h0m-22 -34.2h0m-9.8 0.5h0m-5.2 37.4h0m33.5 -41.9h0m-11.8 -38.1h0m5.9 50.9h0m11.9 5.9h0m15.3 10.5h0m-9.1 -38.2h0m-10.7 -17.9h0m-8.7 -12.2h0m6.8 67.2h0m-7 -2h0m-3.4 12.5h0m32.3 -43.8h0m-21.2 28h0m-5.3 -52.9h0m-4.1 64.2h0m-3 -68.6h0m-29.4 65.1h0m29.1 -38h0m33 11.8h0m-39.1 46.6h0m-13.5 -34h0m68 -6.7h0m-20.7 -27.7h0m-36.3 64.6h0m16.4 -80.9h0m-7.7 -3.4h0m34.2 30.3h0m-10 41h0m-6.6 -22.6h0m29.3 -18.7h0m-18.3 2.1h0m0.9 14.1h0m-38.7 -6.3h0m-5.2 6.3h0m44.6 20.1h0m-12 -6.3h0m-29.2 -19.1h0m-3.5 19.5h0m-7.1 -2.3h0m30.9 -59.1h0m-23.5 38.2h0m54.2 21.9h0m-60.1 5.8h0m29.3 0.4h0m9.9 -33.5h0m-19.4 -23.7h0m0.3 31.8h0m-28.6 30.5h0m51.7 -0.1h0m-24.5 -4h0m-27.2 2.4h0m29.1 18.3h0m19.1 -25.1h0m-13.5 29.4h0m40.6 -60.8h0m-19.6 43h0m-45.4 3.4h0m-3.3 -11.3h0m40.3 -12.8h0m-0.1 -38.7h0m28.4 13.4h0m-12.4 38.1h0m-7.1 -43.8h0m3.5 6h0m-2.9 14.8h0m-19.6 -0.8h0m-25.8 6.7h0m53.5 -4.9h0m-12.3 -28.7h0m-15.8 -5.9h0m-39 56.3h0m38.4 -53.5h0m12.8 55.3h0m-1.5 -8.9h0m20.2 -29.5h0m-65.4 57h0m33.9 -8.8h0m9.1 -3.5h0m5.2 -21.5h0m-45.2 17.6h0m27.4 -12.9h0m15.7 11.3h0m-27.7 -8.4h0m-11.8 -2.1h0m-10.8 26.2h0m20.7 -24.8h0m2.7 -2.1h0m16.9 -11.8h0m-11.6 29.4h0m-3.2 -43.3h0m32 -6h0m-8.1 22.9h0m-2.9 -35.5h0m-45.9 72.6h0m68 -40.3h0m-52.7 37.9h0m37.2 -15.9h0m-14 -65.9h0m-31.1 59.6h0m0.2 -11.9h0m34.7 -14.9h0m1.4 -33.2h0m0.4 13.9h0m-9.7 -3.4h0m21.8 35.3h0m-7.3 -26.2h0m-12.7 -21.2h0m-23.3 67.3h0m54.8 -15.7h0m-18.7 -41.2h0m-22.4 58.5h0m6.3 -4.6h0m-7.4 2.4h0m42.2 -20.3h0m-28.3 40.5h0m9.7 -75.4h0m-27.5 20.5h0m20.6 22.2h0m-3.6 -50.1h0m-9.2 46.1h0m7.7 -38.8h0m15 25h0m-50.6 42.8h0m27.9 -47.5h0m12.2 -31.9h0m-12 82.8h0m36.2 -14.9h0m7.7 -24.8h0m-25.3 39.7h0m-30.9 -23.6h0m-7.7 15.6h0m63.6 -14.6h0m-13.8 4h0m-18.9 10.2h0m-7.6 -71.3h0m13.4 20.9h0m11.3 -2.3h0m-9 30.5h0m-26.8 -50.5h0m2.8 -3.3h0m22.9 31.2h0m-19.6 51.7h0m7.4 -27.6h0m31 2.2h0m-13.3 -41h0m5.7 61.2h0m18.2 -42.4h0m-20.4 15.4h0m-9.6 15h0m-3.9 -49.9h0m-12 63.7h0m16.8 -50.2h0m-18 54.7h0m2.8 -2.1h0m-3.6 7.6h0m14.8 -59.9h0m8.1 18.5h0m-23.9 -6.9h0m-6.2 38.3h0m34.7 -41.4h0m-37.5 44.9h0m14.9 -28.3h0m38.7 -8.7h0m-19.7 -4h0m-38.1 10.1h0m57.3 -11.7h0m-15.1 36.8h0m-18.5 -51.7h0m8.8 9.2h0m7.4 5.7h0m-29.1 -34.2h0m32.1 29.1h0m-5 34.8h0m-9.4 4.4h0m-4.8 -24.7h0m-38.1 18h0m69.8 -33.2h0m-28.9 15h0m-16.4 15.6h0m23.1 -8.6h0m-45 13.7h0m62.4 -38.2h0m-25.2 -15.5h0m-31 37.4h0m73.5 -16.9h0m-27.5 30.1h0m-38.3 -24h0m41.8 -2.2h0m-11.8 -20.4h0m-8.1 50.5h0m-24.7 7.8h0m44.7 -63h0m-19.2 10.7h0m-23.1 60.4h0m-7.7 -8.4h0m38.8 -17h0m-10 13.7h0m-14 -70.2h0m7 78.6h0m9 -40.1h0m-7.2 -29.4h0m-33.4 64.5h0m57.3 -60h0m-37.9 35.3h0m1.5 0.7h0m29.1 20.3h0m-29.4 -25.8h0m44.8 10.2h0m-45.2 -2.8h0m8.6 -58.6h0m34.7 20.6h0m-28.7 72.5h0m27.2 -68.9h0m-15.3 -6.2h0m15.3 27.2h0m-4.6 26.6h0m-15.1 13h0m1.9 18.9h0m-25.1 -13.4h0m-11 -9.4h0m73.2 -32.1h0m-31.1 19.8h0m-35.4 7.6h0m26.5 12.2h0m3.3 -83.5h0m17.9 67.8h0m-31.2 -11.7h0m32.9 -1.3h0m-19.9 19.9h0m14.5 -21h0m-12.4 4.7h0m-8.3 -34.7h0m28.3 43.4h0m-22.9 -64.9h0m14.5 57.6h0m-25.2 -7.3h0m4.2 -43.2h0m-5.3 46.5h0m-13.2 -21.6h0m23.7 30.7h0m28.9 -32.4h0m2.2 4.4h0m-45.2 -31.6h0m46 43.1h0m-33.4 -40.7h0m-22.2 66.7h0m14.7 -63.7h0m42 48.2h0m-45.3 26.1h0m45.7 -25.5h0m-36.8 -2.4h0m47.4 -12.9h0m-33.5 37.8h0m-20.3 -77.3h0m-15.1 58.9h0m21.8 -14.6h0m17.2 -33.7h0m-8.4 46.7h0m18.9 -27.5h0m-39.6 10.2h0m-5.5 40.2h0m23.7 -0.3h0m29.2 -31.2h0m-35.3 12.8h0m3.9 -47.5h0m-14.1 17.1h0m-16 40.8h0m15.5 -67.8h0m-10.4 54.2h0m42.3 11.2h0m-21.5 -71.7h0m27.3 31.2h0m-47.7 27.8h0m7.8 7.8h0m-1 -2.7h0m30.2 -54.5h0m-5.2 46h0m-8.5 34.2h0m-40.4 -5.4h0m57.9 -9.8h0m5.8 -40h0m-32.5 -26.2h0m-13 72.3h0m47.1 -40.9h0m0.1 15.4h0m-34.2 -31.3h0m44.4 26.8h0m-64.8 -1h0m59.5 2.1h0m-66.1 23.8h0m49.5 -51.1h0m-33 60.4h0m24.2 -51.7h0m-25.6 38.1h0m2.7 8.9h0m10.9 -27.4h0m24.5 2.3h0m6.2 -32.7h0m9.6 18.2h0m-22.6 -40.2h0m-25.3 62.7h0m-10.7 12.5h0m17.3 10h0m2.8 -56.4h0m-28.1 15.6h0m51.7 8.7h0m-13.6 -21.1h0m13.9 44h0m-56.1 4.3h0m39.3 -25.8h0m-39.3 28h0m42.4 -22.2h0m-18.2 -8.3h0m-6.9 -55.8h0m57.5 49.7h0m-43.6 -19.8h0m17 31.3h0m-29.1 20.9h0m41.5 -61.3h0m-44.9 64.2h0m2.5 -53.1h0m44.3 7.5h0m-31.6 -31.4h0m-1.8 32.3h0m4.6 18.1h0m9 4.4h0m-15.5 18.9h0m16.4 -43.2h0m20.7 21.8h0m-3.8 3.4h0m-48 14.6h0m1.3 2h0m-0.3 -16.7h0m8.5 -23.8h0m44.3 -15.4h0m-13.2 20.9h0m-49.4 34.9h0m23.3 -46.4h0m28.3 36h0m15.2 -32.6h0m-30.5 -31.4h0m-22.9 35.8h0m51.8 4.8h0m-50.6 -2.8h0m51.2 -10.9h0m-17.8 29.5h0m1.6 7.8h0m-9.1 -32.4h0m30.8 18.6h0m-67.4 5.8h0m72.7 -18.4h0m-11.7 -4.5h0m-32.8 48.8h0m-22.9 -38.2h0m-14 28h0m35.9 -48.4h0m-7 32h0m23.6 9.5h0m-22.7 15.7h0m-1.4 -78.8h0m0.4 74.3h0m-18.4 -10.9h0m44.5 -48h0m-7.4 7h0m-5.8 35.6h0m-28.2 -28.2h0m4 44.5h0m51.9 -45h0m-15.7 16.5h0m-46.8 5.9h0m73.5 -27.5h0m-70.8 54.2h0m42.2 -72.2h0m-43.6 41.5h0m38 -42.9h0m-3.9 -7.9h0m-12 53.6h0m26.9 8.8h0m13.3 -42.5h0m-42.4 50.8h0m32.4 -9.7h0m-3.8 14.7h0m15.5 -18.7h0m-21.1 -23.9h0m1.3 15.6h0m-19.3 -45h0m26.2 29.9h0m-34.7 -7.3h0m-16 32.7h0m23.2 10.4h0m0.5 -38.3h0m-1.3 28.5h0m2.7 21.6h0m-15.1 -15.9h0m4.1 -8.5h0m21.4 -48.3h0m30.3 27.1h0m-19 6.2h0m-8.3 -29.3h0m-25.2 38h0m15.1 33.6h0m-25.7 -14.1h0m36.7 -28.6h0m2.7 31.1h0m-7.3 -65.9h0m-8.5 66.7h0m10.4 -62.1h0m-25 -12.1h0m38.8 38.7h0m-50.6 10.8h0m62.4 -28.1h0m-2.3 -2.1h0m-30.6 9.6h0m4.1 -20.1h0m11.2 24.5h0m-40.8 46.2h0m44.5 -6.2h0m-2.1 -63.6h0m-18.5 22.6h0m4.9 10.3h0m6.3 -39.5h0m-27.3 39.2h0m9.5 31.8h0m-3.8 -5.9h0m14.5 -35.4h0m10 -22.8h0m2.2 16.3h0m-50.3 47.4h0m66.7 -26.6h0m-66.1 27.5h0m58 -31.1h0m-63 42.8h0m21.4 -85.9h0m-2.9 84.2h0m12.2 -26h0m-4.3 10.1h0m-17.9 -20.8h0m28.5 23.6h0m-12.1 -73.3h0m-19.4 82.5h0m35.3 -38.9h0m9.7 -27.7h0m-45.1 35h0m18.6 -11.7h0m43.6 -14.5h0m-14.5 2.3h0m17.9 21.9h0m-35.1 -21.2h0m27.1 -1.3h0m-56.8 34.7h0m36.2 -38.8h0m10.7 37.3h0m-9.9 14.9h0m-15.8 -1.2h0m26.6 6.6h0m-27.1 -48.6h0m-1.6 -23.8h0m14.8 58.5h0m11.1 -32.5h0m-1.5 -20.1h0m-17.6 -4.1h0m32.6 12.2h0m-47.5 11h0m37.4 30.8h0m-49 28.8h0m42 -54.5h0m12.4 1.3h0m-32 -8.1h0m-8.4 46.6h0m12.3 -18.8h0m26 -48.8h0m17.9 19.8h0m-63.1 8.6h0m66.3 -3.5h0m-31.2 26.9h0m-10.2 -50h0m-37.6 51h0m68.5 -41h0m-6.9 43.9h0m5.1 -5.5h0m-33.7 22.4h0m23 -51h0m-16.1 51h0m29.4 -51.7h0m-36.6 -30.7h0m16.8 20.1h0m-8.3 -2.8h0m-19.7 56.4h0m52.6 -30.5h0m0 -5.2h0m-4.6 7.4h0m-20.9 -15.5h0m-48.2 50.9h0m34.1 -45.9h0m38.7 -3.8h0m-22.4 48.5h0m-103 -34.6h0m19.6 17.1h0m-21.3 -31.3h0m7.3 29.2h0m13.7 7.1h0m-11.6 -7.5h0m3.2 -6.8h0m-10.7 -0.6h0m15.9 10.6h0m-16 -18.1h0m2.2 -19.9h0m-9.6 6.5h0m4.2 1.1h0m9.4 15.4h0m-22.7 -5.5h0m15.9 -21.8h0m-11.6 30.8h0m13 -19.4h0m-11.2 20h0m7 -11.2h0m0.4 -9.8h0m8.6 27.4h0m-11.4 -29.1h0m-9.8 25.2h0m29.6 4.3h0m-18.3 -10.2h0m-17.7 -13.8h0m2.3 6.3h0m1.5 -14.8h0m93.7 -50.2h0m-6.1 -0.9h0m3.6 -0.2h0m-9.8 -4.8h0" stroke="#d198b5"/><path d="M1368.8 485.6h0m24.4 0.8h0m2.4 -19h0m9 -42.7h0m-0.3 -0.8h0m21 33h0m-37.6 1.2h0m42.5 -33.7h0m-48.2 36.3h0m9.9 1.6h0m-4.2 -34.9h0m30.1 39.8h0m-60.2 8.2h0m16.8 -13.7h0m32.7 -13.5h0m-42.8 -12.6h0m63.2 0.7h0m-11.7 -1.9h0m-50.2 7.3h0m10.4 13.7h0m32.3 -28.6h0m26 14.5h0m-53.5 45.3h0m33.2 -62.1h0m-39.6 22.4h0m12 8.2h0m12.7 35.4h0m-13.6 -92h0m-1 48.6h0m-9 -15.4h0m-10.5 55.2h0m48.9 -58.3h0m-54.1 61.8h0m64 -46.4h0m-24.6 -42.9h0m-21.6 44h0m-9.6 14.1h0m15.8 7.4h0m27.4 -18.4h0m-53 34.1h0m22.2 -56.1h0m-25.5 61.3h0m4.8 -0.8h0m37.7 -55.7h0m-15.1 19.6h0m28.9 -27.8h0m-51.8 41.5h0m7.8 6.5h0m-20.7 51.4h0m42.2 -89.4h0m23.5 13.4h0m-45.8 24.8h0m45.4 -60.7h0m11 48.9h0m-57.8 7.1h0m10.3 29.6h0m54.7 -73.2h0m-24.1 45.4h0m-21.4 -64.3h0m38.6 38.9h0m-54 26.3h0m11.4 -69.8h0m1.4 50h0m-12.9 -20.5h0m53.1 29.5h0m-31.6 -8.3h0m-4.3 -19.8h0m-11 -35h0m5.6 71.7h0m40.9 -18.9h0m-47.5 31.6h0m4.1 -82h0m26.3 55.3h0m-23.3 -4.7h0m19.3 -43.5h0m8.3 15.1h0m0.5 19.5h0m-33.7 43.6h0m44.4 -70.2h0m-55.3 71h0m54.8 -34.7h0m-54.4 32.2h0m4.5 -36.5h0m67.3 -7.5h0m-16.3 -17.8h0m-45.5 48.7h0m-10.6 12.6h0m19.2 -57.9h0m30.9 10.9h0m-57.6 51.1h0m8.1 -5.6h0m19.9 -76.5h0m-24.9 86.8h0m9.5 -42h0m61.5 -26.4h0m-25.9 -13.2h0m-7.4 4.8h0m29.1 11.3h0m-59.6 67.4h0m19.6 -35h0m-2.3 -6.1h0m5.4 -1.5h0m15.8 -0.2h0m12.1 -5.9h0m-4.6 28.2h0m-58.3 7.5h0m52.3 -26.4h0m-12 -44.1h0m38.5 25h0m-5.2 -13.6h0m-61.3 34.4h0m-1.5 1h0m39.1 -2.4h0m-24.5 23.2h0m-9.3 -47.2h0m18.4 14.8h0m-31 38.2h0m43 -52.4h0m-4.3 -2h0m-2.5 1h0m-20.9 36.6h0m21.9 -24.3h0m-39.2 30.5h0m20.9 -36h0m42.9 -0.7h0m-33.2 43.7h0m22.7 -64.9h0m-18.3 67.1h0m29.1 -35.5h0m-10.7 21.9h0m-43.1 -18.6h0m56.9 0h0m-41.9 -5.3h0m9.6 -47.8h0m-6.6 43.2h0m32.4 26.3h0m-29.2 40.4h0m33.6 -89.4h0m-23.1 12.2h0m18.8 17h0m-51.8 40.3h0m28.8 0h0m-9.4 -40.3h0m9.4 -22.7h0m13.7 28.5h0m-5.1 -10.9h0m-11.5 43.6h0m18 -38.9h0m-20.9 36h0m28.2 -43.7h0m-4.3 -29.2h0m-24.1 60.7h0m3.5 -73h0m-29.2 86.3h0m19.4 -23.9h0m-16.4 -13.6h0m42.1 -14h0m7.1 18.3h0m-28.2 -52.4h0m2.4 78.6h0m-21.7 3.9h0m16.4 -3.6h0m7.6 -28.1h0m-16.3 9h0m26.7 -52.4h0m-10.8 80.3h0m14.5 -51.1h0m-36.1 50.6h0m9 -33.2h0m42.5 12.9h0m-37.2 -65.6h0m-19.4 71.8h0m58.1 -19.6h0m-27.7 18.5h0m-26.5 -28h0m49.5 15.4h0m3.7 -16.7h0m-36.2 -5.9h0m31.8 5.9h0m-3.6 22.7h0m-55.8 14.5h0m8.6 -13.8h0m32 -34h0m-1.6 41.5h0m6.3 -6.4h0m-58.1 0h0m43.5 -10.9h0m17.7 -25.4h0m-48.5 42.3h0m45.3 -30.1h0m-28.4 72.5h0m-13.8 -35.7h0m24.2 -31.3h0m-13.5 38.6h0m53.6 -24.9h0m-42.6 -67.9h0m44.2 27h0m-57 61.7h0m35.4 -31.2h0m-5.9 1.5h0m10.8 -11.1h0m-37.4 39.3h0m-15.2 12.4h0m30.9 -96.4h0m-19.6 89h0m18.4 0h0m18.1 -12.2h0m-42 -4.5h0m48.1 -35.1h0m-34.2 -35.7h0m17.6 -2.2h0m-9.2 93.3h0m-15.3 -13h0m-13.9 11.4h0m27.5 4.8h0m-11.5 -13.3h0m19 -53.5h0m26.2 29.4h0m-43.2 -9.9h0m9.6 27.9h0m6.2 8h0m-13.7 -52.8h0m9.6 24.7h0m33.9 18.3h0m-32.8 5h0m24.6 -13.6h0m-11 20.1h0m19.7 -25.5h0m-33.4 -50.2h0m15.1 37.2h0m-16 -37.8h0m-22.2 54.2h0m8.6 -27.8h0m-6.4 51.1h0m-20.5 -18.2h0m49.7 15.1h0m0.5 -70.5h0m-17.1 55.3h0m22 -7h0m25.5 -0.8h0m-60.1 -0.7h0m26.1 21.6h0m6.4 -32.3h0m-1.6 52.5h0m-33.6 5.4h0m50.5 -56.4h0m1.3 -24.5h0m-48.9 65.9h0m30.2 -47h0m7.3 16.3h0m14.4 10.7h0m-9.4 -2.7h0m25.2 -25.7h0m-71.1 23.2h0m20.2 18.9h0m5.3 2.7h0m-9.9 -58.9h0m36.2 6.8h0m16.4 4.1h0m-22.5 9.1h0m-47.2 27.8h0m42.4 -33.5h0m3.3 4.4h0m-5.7 -11.4h0m-21.2 34.6h0m-6.9 -26.5h0m-9 1.3h0m15.3 24.1h0m-11.2 10h0m53.8 -24.3h0m-19.7 15.6h0m25.2 -31.9h0m-31 39.8h0m0.1 -6.5h0m25 -50.9h0m-33.7 -24.7h0m-7.7 48.4h0m47.1 3h0m-66 6.8h0m1.1 35.3h0m20.1 -95.7h0m34.5 25.8h0m-10.8 57.3h0m-30 -28.6h0m1.6 66h0m13.1 -51.5h0m36 -7.7h0m-11.4 14h0m-30.1 -16h0m32.7 -13.1h0m-31.5 -34.4h0m8.1 -2.4h0m8.4 48.3h0m-18.3 25.8h0m-10.8 -38h0m-10.2 35.9h0m30.3 -21.6h0m-4.4 -56.4h0m9.3 72h0m-39.9 -17.2h0m25 -21.7h0m-3.4 12.3h0m-22 31.6h0m33.9 -66.2h0m-11 -11.9h0m-13.7 65.6h0m-9.4 1.9h0m-4.8 5.8h0m61.2 2.2h0m-24.8 -27.5h0m36.1 -9.8h0m-71.5 34.2h0m53.8 -12.6h0m-16 -56.2h0m-34.5 92.4h0m22.3 -44.5h0m12.8 36.2h0m14.8 -34.8h0m-20.2 43h0m-22.4 -44.3h0m64.3 -22.7h0m-19.9 5.8h0m-42.2 56.1h0m-10.1 -1.9h0m49.9 -44.4h0m-13.8 28.7h0m24.5 -30.3h0m-54.8 45.9h0m46.1 -33.4h0m3.2 -32.5h0m-25.7 58.4h0m9.2 2.7h0m6 -16.1h0m4.1 -49.6h0m-13.9 80.8h0m17.3 -87.4h0m10.8 27.4h0m-54.7 48.9h0m37.1 -31.5h0m-24.3 -7.8h0m6.6 26.9h0m21 -67.1h0m-22.7 78.6h0m-13.5 5.5h0m28.4 1.1h0m6.3 -67.1h0m-25 -26.5h0m17.3 56.3h0m-22.4 -3.8h0m17.4 -45.1h0m21.5 51.6h0m9.7 -31.2h0m-45.9 56.2h0m14.2 -28.3h0m-13.4 -11h0m-5.4 54h0m-6.8 -39.7h0m69.4 -9.4h0m-31.2 8.8h0m-7.4 10.3h0m10.7 -41.9h0m28.5 12.4h0m-66.6 21.9h0m26.7 9h0m-7.7 -40.8h0m-31.3 65.1h0m39.7 -26.1h0m23.4 5.1h0m5.9 -42.4h0m-29 -23.8h0m25.6 35.8h0m13.1 -7.3h0m-51.9 1.7h0m-13.1 25.8h0m0.6 37.9h0m-8 -22.6h0m52 -31.9h0m-32.8 33.2h0m13 -40.1h0m-2.5 13.4h0m-35.1 46.6h0m43.5 -54.9h0m3.9 5.6h0m19.2 -4.7h0m-33.8 10.4h0m6 -21.3h0m27.2 0.6h0m5.6 3.1h0m-67.3 10.6h0m38 -18.3h0m-33.8 38.6h0m28.3 -25.3h0m12.8 -6.7h0m-7.8 -8.6h0m-29.4 45.5h0m49.1 -45.8h0m-46.4 33.9h0m20.9 -53.2h0m-2.2 84.5h0m33.2 -67h0m-12.3 26.8h0m-18.5 39.6h0m-39.4 -4.3h0m68.3 -27.4h0m-47.3 28.8h0m3.4 -1.2h0m53.9 -38.7h0m-55.9 5.2h0m29.6 -40.4h0m16.7 25.5h0m-6.3 21.7h0m-51.4 51.5h0m47 -85.3h0m-36.7 31.1h0m-0.7 21.2h0m32 5.4h0m-43 1.3h0m12.2 -2.2h0m20.6 -30.7h0m-2.3 -41.1h0m2.7 51.1h0m-93.2 -29.6h0m-2.8 14.5h0m-17.7 -12.9h0m41.2 8.5h0m-6.5 14h0m-15.1 -6.3h0m-4.5 -14.4h0m1.2 12.6h0m5.6 -2.6h0m-20.9 8.6h0m20.6 -16.3h0m-2.4 65h0m7.1 10.4h0m57.9 -141.8h0m5.7 6.1h0m-3.6 -1.8h0m-4.9 -4.6h0" stroke="#ca80a1"/><path d="M1413.9 431.8h0m-53.7 52.3h0m38.8 5.7h0m1.3 -62.9h0m-28 69h0m11.8 0.6h0m-15.9 -22.3h0m17.5 13.7h0m24.2 -33.4h0m-40 49.3h0m12.2 -59.3h0m18.3 -5.7h0m-17.3 63.6h0m-21 -48.8h0m34 40.2h0m-21 4.3h0m-1.1 -10.3h0m-17.5 24.3h0m41.2 -40.2h0m25.8 -13.8h0m-45 38h0m19.7 -91.8h0m-23.2 101.8h0m-9 -24.3h0m2.4 16.1h0m14.7 -8.6h0m1.2 5.5h0m-23.8 -18.5h0m-2.4 13.8h0m1 -4.1h0m21.7 -85.1h0m3.7 87.5h0m34.7 -25.9h0m-63.4 22.5h0m35.4 -39.2h0m-5.5 42.8h0m-22.3 -1.7h0m64.1 -65.5h0m-15.1 -3h0m-48.2 81.5h0m21.7 -32.3h0m-21.4 -21.8h0m4.5 22.8h0m17.8 29.3h0m-22.5 -39.1h0m-6.9 23.9h0m13.6 -33.1h0m1.9 30.1h0m-17.8 2.4h0m23.8 12.6h0m26.9 -35.8h0m-51 27.1h0m47.9 -67.5h0m-42.4 71.5h0m56.9 -33.9h0m-49.7 6.9h0m25.1 32.3h0m16.3 -44.6h0m-50.6 60.8h0m3.5 -2.5h0m20.3 -17.5h0m-17.1 12.4h0m17.3 -2h0m-7.7 2h0m-5.9 -49.1h0m33.1 -47.4h0m-30.2 79h0m-13.6 4.9h0m15.6 -8.1h0m28.8 -3.4h0m-6.4 10.1h0m-25.5 -3.3h0m-12.3 9h0m28.1 -29.1h0m-15.7 18.1h0m3.2 10.9h0m39.1 -75.4h0m-37.6 -27.9h0m-14.4 107.3h0m22 -15.7h0m8.1 17.7h0m-14 -8.7h0m27.6 -33.6h0m-12.8 -15.5h0m6.5 11.8h0m-11.6 31.6h0m14.5 -56.6h0m-23.8 65.4h0m-8.8 -4h0m4 -3.6h0m12 17.1h0m-9.6 -6.4h0m19.2 -10.6h0m-18.6 8.6h0m-10.6 -14.9h0m26.5 -47.2h0m17.1 -16.2h0m-35.7 78.9h0m51.7 -72.3h0m-57.9 63.2h0m20.2 5.4h0m1.2 7.8h0m34.1 -48.6h0m-55.1 35h0m18.7 -33.2h0m-1.7 50.3h0m-26.1 -10.5h0m68.3 -59h0m-51 71.4h0m-12.6 0.5h0m33 -27.4h0m-12.7 8h0m-25.5 1.1h0m22.6 8.4h0m1.2 -8.8h0m-24.5 -12.2h0m3.2 19.9h0m-2.8 -39.2h0m39.3 29.5h0m12.6 -55.9h0m-52.9 77.5h0m4.1 1.8h0m24.4 -78.7h0m-30 79.7h0m-4.7 8.2h0m7.5 -5.6h0m28.8 -11.3h0m-20.7 -8.5h0m25.9 -10.5h0m1.7 6.6h0m-24.9 -14.6h0m8.3 6.6h0m10 17h0m-26.5 -2.8h0m20.9 12.1h0m12.9 -38.2h0m33.3 -40.2h0m-77.5 88.1h0m7.6 -31.4h0m7.4 15.8h0m18.1 4.3h0m9.7 -63.8h0m8.2 -30.7h0m-17.2 78.1h0m-8.5 19.1h0m38.2 -41h0m-50.5 23.5h0m26 11.4h0m-22.7 -1.9h0m-5.5 6.3h0m17.3 -18h0m-2.6 3.1h0m-62.3 -31.1h0m-4.9 -9.7h0m2 4.3h0m-15.9 -39.3h0m-6 25.6h0m21.3 -8.8h0m-3 8.3h0m-4.8 -24.6h0m-1.9 83.3h0m4.7 -8.9h0m9.3 7.8h0m-1.6 -8.5h0m60.7 -122.2h0m0.5 1.1h0m-0.9 -0.4h0m-2.8 -1.5h0m-1.7 -1.8h0m4.3 3.2h0" stroke="#c3668d"/><path d="M1372.1 498.6h0m6 3.4h0m-7 -10.1h0m-13 23.1h0m13.9 -15.8h0m-24.9 23.8h0m7.5 -12.3h0m26.3 -17.5h0m-8.4 11.3h0m-12.8 7.3h0m2.2 -20.7h0m21.1 13.7h0m-9.4 5.8h0m8 -2.1h0m-10.1 -0.9h0m15.2 -14.7h0m-29.8 3.4h0m9.4 4.1h0m-18.8 22.4h0m27.1 -30.6h0m-11.7 4h0m22.7 -2.3h0m-6.5 9.2h0m4.5 5.4h0m-11.5 -19.5h0m15.6 2.6h0m-1.6 7.9h0m-21.5 8h0m12.8 -16.8h0m-25.4 24.9h0m26.8 -16.5h0m35.7 -51.3h0m-40.6 51.5h0m-2.4 4.6h0m17 -9.9h0m-28.2 6.7h0m4.8 -6.5h0m-5.5 4.1h0m4.4 9.1h0m2.8 -6.4h0m3.1 -6.5h0m-11.5 3.5h0m19.9 -5.3h0m-18.4 19.7h0m22.5 -6.5h0m-4.1 -15.5h0m4.3 10.7h0m8 -2h0m-10.2 -8h0m8.2 12.2h0m-21.8 -22.4h0m18 19h0m-5.2 7.5h0m-0.7 -6.5h0m1.5 -4.9h0m-0.2 13h0m-3.8 -10.3h0m12.4 -6.5h0m-12.3 5.1h0m-9.3 -14.5h0m-1.4 5.6h0m10.2 11.5h0m0.6 6.4h0m-6.3 -4.6h0m20 -1.5h0m-11.6 -3.4h0m-17.3 3.3h0m-11.2 19.7h0m18.4 -15.6h0m10.6 -12h0m-14.3 -3.5h0m15 15h0m-23.3 -7.6h0m17.9 3.3h0m-3.5 -1.3h0m1.1 9h0m10.7 -5.1h0m-30.3 14.8h0m13.8 -22.2h0m-8.5 -6.3h0m20 17.1h0m6.4 -0.2h0m-9 -9.3h0m-4.9 5.2h0m-6 2.4h0m16.1 1.1h0m-1.6 -5.2h0m8.6 1.7h0m-4.3 3.4h0m-7.2 -9.4h0m-18.2 2.7h0m21.1 -107.5h0m12.1 110.5h0m-30.3 -0.6h0m0.4 1.6h0m15.4 2h0m4.7 -0.2h0m8.4 -4.8h0m-26 6.7h0m-64.4 -15.5h0m0.9 11.3h0m14.6 -0.7h0m-5.7 4.5h0m-7.7 -3.7h0m0.7 -11.5h0m-2.4 12.9h0" stroke="#bc4e7a"/><path d="M1357.8 514.8h0m31.9 -13.3h0m-19.2 0.6h0m8.9 -8h0m6.7 -1.4h0m-19.9 12.4h0m16.9 3.6h0m-20.3 -4.7h0m20.2 -4.7h0m-12.1 -3.3h0m19.7 -3.3h0m-25.7 3.2h0m-2.1 5.4h0m-12.2 18.2h0m5 -5.4h0m24.4 -10.8h0m-1 -4.5h0m2.1 -2.5h0m2.9 -2h0m7 0.9h0m-32.8 12.3h0m28.6 -6.4h0m-29.8 -5.5h0m33.2 -1.4h0m-31.6 15h0m14.5 -3h0m7.2 2h0m3.8 -13.5h0m-1.8 4.8h0m-22.1 -13.6h0m-1.8 27.4h0m-59.4 -9.4h0m13.6 -2.6h0m-16.4 -10h0" stroke="#b53466"/></g>
<ellipse cx="1370.8" cy="434.9" rx="3.1" ry="1.9" transform="rotate(-20 1370.8 434.9)" fill="#fff" fill-opacity=".85" filter="url(#ub)"/><ellipse cx="1362.9" cy="471.4" rx="1.9" ry="4.8" transform="rotate(10 1362.9 471.4)" fill="#fff" fill-opacity=".85" filter="url(#ub)"/><ellipse cx="1372.5" cy="481.1" rx="1.9" ry="3.5" transform="rotate(-30 1372.5 481.1)" fill="#fff" fill-opacity=".85" filter="url(#ub)"/><ellipse cx="1391.0" cy="405.4" rx="2.6" ry="1.1" transform="rotate(20 1391.0 405.4)" fill="#fff" fill-opacity=".85" filter="url(#ub)"/><ellipse cx="1365.5" cy="489.9" rx="1.6" ry="3.1" transform="rotate(20 1365.5 489.9)" fill="#fff" fill-opacity=".85" filter="url(#ub)"/>
</g>
<g id="panel_c">
<defs><filter id="hz" x="-30%" y="-50%" width="160%" height="200%"><feGaussianBlur stdDeviation="5"/></filter></defs>
<text x="855.8" y="648.2" font-size="38.5">c</text>
<text transform="translate(1013.80 641.9) scale(1.0841 1)" font-size="30.2">AT1 cell markers</text>
<text transform="translate(1432.30 638.8) scale(1.0865 1)" font-size="30.2">AT2 marker</text>
<path d="M927 654.1H1383.7M1404.2 654.1H1611.7M945.3 1192.3H1122.5M1159 1192.3H1522" stroke="#111" stroke-width="1.4"/>
<text transform="translate(989.42 695.2) scale(1.0764 1)" font-size="30" font-style="italic">PDPN</text>
<text transform="translate(1211.58 690.9) scale(1.0538 1)" font-size="30" font-style="italic">AGER</text>
<text transform="translate(1463.00 690) scale(1.0731 1)" font-size="30" font-style="italic">SFTPC</text>
<text transform="translate(962.82 1160.1) scale(1.1133 1)" font-size="30">Fibroblast</text>
<text transform="translate(984.48 1186.5) scale(1.1107 1)" font-size="30">marker</text>
<text transform="translate(1233.80 1182) scale(1.0826 1)" font-size="30.2">PNEC markers</text>
<text transform="translate(1014.03 1224.1) scale(1.0719 1)" font-size="30" font-style="italic">DCN</text>
<text transform="translate(1187.80 1225.3) scale(1.0832 1)" font-size="30" font-style="italic">CALCA</text>
<text transform="translate(1415.10 1225.3) scale(1.0638 1)" font-size="30" font-style="italic">ASCL1</text>
<text transform="translate(848.01 709.6) scale(1.0933 1)" font-size="25.5">High</text>
<text transform="translate(848.59 883) scale(1.0547 1)" font-size="25.5">Low</text>
<rect x="863.4" y="724.4" width="23.6" height="116.2" fill="url(#pg)"/><path d="M863.4 734.5h4.5M882.5 734.5h4.5" stroke="#fff" stroke-width="1.1"/><path d="M863.4 764.5h4.5M882.5 764.5h4.5" stroke="#fff" stroke-width="1.1"/><path d="M863.4 794.2h4.5M882.5 794.2h4.5" stroke="#fff" stroke-width="1.1"/><path d="M863.4 823.4h4.5M882.5 823.4h4.5" stroke="#fff" stroke-width="1.1"/>
<text transform="translate(857.3 837.69) rotate(-90) scale(0.9676 1)" font-size="22.5">Expression</text>
<text transform="translate(864.41 1252.5) scale(1.0954 1)" font-size="25.5">High</text>
<text transform="translate(864.48 1425.8) scale(1.0615 1)" font-size="25.5">Low</text>
<rect x="879.3" y="1269.2" width="24.2" height="116" fill="url(#pg)"/><path d="M879.3 1278.6h4.5M899.0 1278.6h4.5" stroke="#fff" stroke-width="1.1"/><path d="M879.3 1307.8h4.5M899.0 1307.8h4.5" stroke="#fff" stroke-width="1.1"/><path d="M879.3 1337h4.5M899.0 1337h4.5" stroke="#fff" stroke-width="1.1"/><path d="M879.3 1365.7h4.5M899.0 1365.7h4.5" stroke="#fff" stroke-width="1.1"/>
<text transform="translate(872.5 1381.10) rotate(-90) scale(0.9731 1)" font-size="22.5">Expression</text>
<path d="M935.7 843V880H974" fill="none" stroke="#000" stroke-width="1.2"/><path d="M935.7 839.5l-2.8 6.5h5.6zM977.5 880l-6.5-2.8v5.6z"/>
<text transform="translate(927.8 880.23) rotate(-90) scale(1.0326 1)" font-size="13">UMAP2</text>
<text transform="translate(932.97 894.4) scale(1.0302 1)" font-size="13">UMAP1</text>
<text transform="translate(875 1047.14) rotate(-90) scale(1.0379 1)" font-size="28">Expression</text>
<text transform="translate(903.5 1050.74) rotate(-90) scale(1.0222 1)" font-size="24">Log2(TPM+1)</text>
<text transform="translate(892 1588.51) rotate(-90) scale(1.0245 1)" font-size="28">Expression</text>
<text transform="translate(920.7 1592.64) rotate(-90) scale(1.0222 1)" font-size="24">Log2(TPM+1)</text>
<g filter="url(#ub)"><use href="#umA" transform="translate(1062.8 803.2) scale(9.1 8.865)" fill="#f0f5fb" stroke="#f0f5fb"/><use href="#umB" transform="translate(1062.8 803.2) scale(9.1 8.865)" fill="#f0dde8" stroke="#f0dde8"/><use href="#umC" transform="translate(1062.8 803.2) scale(9.1 8.865)" fill="#f1e4ee" stroke="#f1e4ee"/></g>
<ellipse cx="1095.6" cy="797.9" rx="38.2" ry="16.8" fill="#ecc8d8" transform="rotate(-12 1095.6 797.9)" filter="url(#hz)"/>
<ellipse cx="1076.5" cy="816.5" rx="22.8" ry="11.5" fill="#eed0de" transform="rotate(-20 1076.5 816.5)" filter="url(#hz)"/>
<g fill="none" stroke-linecap="round" stroke-width="2.4"><path d="M1104 764.8h0m-0.3 -12h0m-9.9 -0.4h0m5.9 8.3h0m-5.2 -1h0m-6.7 -2h0m5 3.9h0m-3.8 4.7h0m3.2 -20.2h0m8.6 13.2h0m-0.8 -4.9h0m-17.8 -12.1h0m6.1 2.6h0m-18.7 0.5h0m21.3 9.6h0m12.7 -1.6h0m-29.4 2.5h0m26.8 9.9h0" stroke="#dfcadc"/><path d="M982.6 800.3h0m-2 -6.2h0m2.4 0.6h0m26.9 -7.8h0m-37.4 -4h0m12.6 3.8h0m12.9 1h0m-14.9 -19h0m32 21.3h0m-31.7 -24.5h0m13.1 39.8h0m-12.3 -11.5h0m5.5 9.6h0m-5.6 -22.6h0m-0.3 2.7h0m12.5 22.5h0m-22.1 -31.9h0m15.5 -3h0m-9.4 25.7h0m27.7 -5h0m-14.6 -17.5h0m-5.8 3.2h0m-11.4 -7.8h0m11.3 30h0m25.4 -12h0m-10.4 26.5h0m-24.6 -18.3h0m18.9 9.3h0m-27.9 -24.1h0m15.1 4.5h0m36.3 1.7h0m-36.3 -12.6h0m-12.3 -1.1h0m40.2 33.5h0m-33.2 -9.6h0m20.4 -10.6h0m-2.2 25.6h0m-11.4 -36.2h0m12.9 15.8h0m6.9 11.2h0m-20.3 -16.8h0m-1.4 15.5h0m-12.1 -24.6h0m2.8 20.3h0m-6.9 -18.7h0m32.3 18.2h0m8.9 6.8h0m-14.6 -26.7h0m-7.7 -4.8h0m9.7 20.3h0m7.7 -3h0m-12.1 -20.9h0m-10.3 33h0m-6.9 -32.7h0m12.1 27.4h0m10.9 -16.9h0m4.8 15.7h0m-23.9 -2.8h0m-5.4 6.2h0m0.7 -17h0m4.4 3.7h0m17.1 2h0m-12.2 9.8h0m-7.4 3.8h0m8.9 -2.2h0m-9.3 -15.4h0m37 4.6h0m-41.6 -11.3h0m17.7 19.2h0m14.3 6.4h0m-8.2 -6.9h0m-5.7 12.2h0m11.5 0.2h0m-8 -32.1h0m16.1 15.7h0m-11.5 21h0m-13.8 -19.7h0m-7.5 2.5h0m101.8 -3.2h0m23.1 10.1h0m18.2 -21.2h0m-32.2 12.7h0m37.7 -14.9h0m-58.2 6.9h0m18.3 5h0m9.9 15.6h0m31.9 -15.1h0m-69.8 37h0m63.6 -44.5h0m-7.8 16h0m13.9 -8.9h0m-62.8 6.8h0m26.5 4.6h0m-10.7 -28.8h0m-11.1 6.8h0m21 6.5h0m23.5 30.6h0m-6.7 -38.7h0m6.5 40.5h0m5.5 -35.8h0m-45.6 -3.1h0m-8.8 -0.1h0m6.9 16.8h0m39.9 -5.3h0m-17.8 2.5h0m-31.5 19.7h0m0.4 -25.6h0m16.7 13.3h0m35.7 -9h0m-11.2 -8.2h0m8.2 -0.7h0m-0.7 3.2h0m-18.8 -1h0m9.9 4.1h0m-33.4 1h0m6.9 24.6h0m39.1 -25.5h0m-34.3 4.8h0m8.6 5.1h0m7.3 5h0m6.1 16.7h0m5.7 -45.8h0m-8.3 47.4h0m0.5 -32.5h0m3.6 0.1h0m-4 26.9h0m22.5 -45.7h0m-51.6 38.9h0m62.1 -20.1h0m-41.3 1.4h0m42.3 4h0m-62.1 1.9h0m3.8 32.9h0m47.6 -35.2h0m-70.3 19h0m39.3 -23.5h0m9.4 -16.3h0m-39.4 17.7h0m4.9 -8.2h0m7.5 39.8h0m9.4 -2h0m-0.5 -32.1h0m-8.9 23h0m57 -15h0m-66 -8.4h0m33.9 16.8h0m-23.7 8h0m26.3 -44.7h0m-17.4 37.7h0m2.7 -4.4h0m8.3 -9.3h0m9.7 3.4h0m-20.1 -1h0m-13.6 31.9h0m49 -28.7h0m7.9 -3.6h0m-61.2 22.7h0m9.8 -17.9h0m9.6 -9h0m-6 20.6h0m24.5 11.7h0m-35.8 -31.3h0m35 8.9h0m-23.6 -25h0m-1.2 29.3h0m14.7 8.8h0m-37.5 13.9h0m47.6 -24h0m11 -7.4h0m-31 -24.9h0m5.2 17.5h0m-0.8 5.9h0m-7.7 1.9h0m-7 8h0m1.1 -12.3h0m1.4 -13.7h0m-3.8 25.4h0m41.2 -4.5h0m-11 -10h0m-2 -8.6h0m13.4 10.1h0m-23.4 22.3h0m-22.6 -27.3h0m42.4 2.8h0m-38.2 -9.6h0m23 25.3h0m-6.6 -20.5h0m-1.6 -8.4h0m5.8 34.9h0m-30.3 -3.2h0m44.6 -22.2h0m-32.8 25.9h0m14 -3.2h0m6.3 -22.5h0m6.4 20.2h0m-18.2 -21h0m-2.9 13.1h0m6.1 35.3h0m32.5 -50.2h0m-14.2 4.2h0m-0.9 32.8h0m-17.9 -11h0m-2.7 15.8h0m-35 7.9h0m37 -52.2h0m14.7 -11.1h0m1.5 9.6h0m-8.8 9.3h0m-11.3 7h0m34.6 10h0m-14.9 14.8h0m0.6 -32.7h0m-2.8 28.6h0m-13.6 -10.4h0m3.4 2.3h0m-4.3 -10.7h0m21.4 7.5h0m9.5 -16.3h0m-32.8 13.4h0m19.9 -13.5h0m-6.5 -16.7h0m34.1 26.8h0m-15.7 -18h0m21.3 2.7h0m-31.9 32.3h0m-18 -23.5h0m23 24.7h0m-21.5 -16h0m17.3 -19.6h0m-27.8 0.6h0m26.6 33h0m-23.2 -32.6h0m7.9 43.3h0m-29.4 -34.4h0m65.8 5.8h0m-30.9 -12.5h0m7.5 -1h0m-16.7 10.2h0m29.2 -0.1h0m-45.1 21.9h0m27.6 6.4h0m20.3 -43.4h0m-2.7 15.5h0m-13.6 4.8h0m3.4 -4.8h0m-14.5 17.6h0m24.5 -32.6h0m15.9 -5.4h0m-45.2 18.3h0m-14.6 5.6h0m-2.1 5.5h0m17.5 27.4h0m-19.3 -16.5h0m25.7 1.5h0m11.6 -48.9h0m-13.2 47.1h0m10 -43.1h0m-25.8 35.2h0m-28.5 7h0m60.5 -6.7h0m-54.3 5.9h0m47.6 -26.5h0m-10 -11.5h0m-7.2 13.7h0m-2.2 4.6h0m1.3 13.6h0m35.7 -16.9h0m-44.7 17.5h0m13 -9.6h0m31.1 -3.1h0m-38 30.3h0m19.1 -36h0m38.3 -1.7h0m-34.1 10.8h0m-24.5 34.6h0m36.2 -36.5h0m-0.3 -13.2h0m-31 23.3h0m-2.9 -20.6h0m23.5 7.3h0m14.6 9.4h0m-8.8 -17.3h0m6.5 17.1h0m0.2 -10.7h0m-33.2 2h0m14.7 8.5h0m-40.7 9.7h0m29 -26.1h0m32.2 18.2h0m-26.3 -15.8h0m22.8 -14.5h0m-58.1 49.7h0m47.2 -18.7h0m-12.7 8.5h0m-1.8 1.9h0m7.6 -34.5h0m4.9 49.1h0m-19.1 -23.6h0m20.2 -6.8h0m7.9 -7.6h0m-10.9 -12.4h0m26.9 23.9h0m-34.7 -14.3h0m-1.7 35.7h0m-1.5 -51.6h0m8.3 27h0m-37 14h0m52.4 -14.7h0m-57.6 15.2h0m52.2 -4.3h0m-8.1 -24.5h0m-8.8 15h0m-1.8 -40.7h0m17.9 4.8h0m-23.5 -13.9h0m12.3 10.2h0m-3.4 -6h0m-8.7 -5.5h0m1.8 0.8h0m-12.4 3.1h0m17.2 -9.4h0m10.4 8.3h0m4.4 8.4h0m-10.3 5.2h0m3.8 -15.4h0m-17.4 -8.8h0m3.3 15.4h0m21.5 2.8h0m-11.5 6.7h0m-14 -10.4h0m14.6 9.4h0m-1.6 -4.6h0m7.6 -6.2h0m-21.1 -0.8h0m-4.6 -7.3h0m2.7 4.9h0m3.1 -4.3h0m5.2 9.1h0m5.3 2.6h0m14.8 -4.4h0m-10.5 3h0m5.2 7.6h0m-11.1 -14.7h0m8.1 7.1h0m-11.1 1.3h0m20.2 -3.3h0m-25 -1.3h0m-21.9 -35.5h0m8.2 3.5h0" stroke="#d8b2c9"/><path d="M996.2 809.6h0m-19 -16.7h0m1.6 -0.6h0m19.8 -10.9h0m-5.5 -3.1h0m6.6 14.4h0m2.9 14.1h0m-17.6 -10h0m25.2 -9.5h0m-14 20.2h0m-16.6 -20.8h0m27.3 29.6h0m-19.3 -41.6h0m10.1 13.8h0m-26.5 -18.6h0m14.4 26h0m4.4 -22.8h0m3.3 13.9h0m-21.9 17.9h0m23.3 5.7h0m-26 -37h0m5.9 -1.6h0m-7.2 12h0m6.8 -6.4h0m18.6 1.2h0m-2.4 20.8h0m10.9 -11.5h0m-14.5 -6.2h0m-2.9 -12.6h0m-10.3 27h0m-5 -0.8h0m22.9 11.8h0m-23.2 -11.6h0m28.6 14.3h0m-2.7 -22.5h0m9.8 23h0m-26.5 -33.1h0m30.1 35.3h0m-3.9 -3.8h0m-32.7 -9.8h0m10.4 -14.5h0m-7.9 4.9h0m13 16.1h0m23.2 5.6h0m-34.4 -24h0m-0.3 -0.6h0m-3.4 7.1h0m17.5 -12.7h0m16.3 29.9h0m-11.7 -13.1h0m7 6.6h0m-29.1 -21.3h0m36.9 9.1h0m-26.2 -2.5h0m18.6 3.7h0m-24.4 -21.1h0m2.5 31.5h0m23.3 -2.9h0m-17.6 -10.2h0m25.2 18.7h0m-38.8 -6.1h0m43.3 -14.9h0m-20 1.1h0m17.7 24.6h0m-40.5 -24.8h0m26.8 24.4h0m9.1 -0.4h0m2.9 -5.1h0m-18.1 -40.5h0m14.6 38.8h0m5.4 -13.9h0m-20.1 -10.3h0m12.5 16.7h0m-36.3 -22.5h0m9 12h0m6.7 2.1h0m14.5 -0.8h0m1.8 17.2h0m-27.1 -27.2h0m28.1 35.6h0m16.2 -29.2h0m-29.7 -7h0m-3.6 25h0m-11.4 -27.5h0m28.7 35.6h0m-34 -29.8h0m3.3 12h0m10.5 -14.2h0m25.6 25.1h0m-19.6 -20.2h0m7.6 22.7h0m-8.4 -11.5h0m-7.1 -3.7h0m14.6 -16.8h0m7.9 21.2h0m-12.4 -24.7h0m-15 28.1h0m7.9 3.7h0m14.4 -5.4h0m6.6 -13.4h0m-23.1 2.5h0m8.2 10.3h0m-5.2 -4.6h0m1.1 1h0m-2.6 -27.5h0m-12.7 22.6h0m32.5 1.8h0m-2.4 4.8h0m-1.3 16.6h0m-22.9 -25.3h0m18.5 -3.3h0m15.2 22.7h0m1.7 -16.2h0m-35.7 8.9h0m37.5 11.7h0m-30.2 -19h0m10 -21.2h0m-17 5.9h0m23.7 36.5h0m-12.8 -45.5h0m-5.2 36.1h0m21.9 -10.1h0m6.8 14.5h0m-34.9 -12.1h0m1.7 -21.8h0m25.2 16.5h0m-10.3 -24.1h0m-10.1 31.4h0m22.4 5.2h0m-23.5 -25h0m3.1 8.7h0m-15.7 -10.4h0m44.4 19.1h0m-1.7 -10.2h0m-34.1 -9.2h0m19.6 13.5h0m23 -4h0m-19.2 4h0m-24.7 -17.6h0m26.9 26.2h0m-26.9 -9.7h0m14.5 -21.2h0m-9.3 34.9h0m12.6 -15.4h0m13.2 15.2h0m-33.6 1.4h0m12.1 -15.6h0m-13.8 0.4h0m38.5 0.8h0m85.2 -3.7h0m2.4 18.2h0m-35.7 11.7h0m30.8 -12.6h0m29 -19.1h0m-54.3 17.7h0m16.9 -22.9h0m-31.3 19.6h0m55.8 -32.4h0m-8.2 36h0m-8.7 4.4h0m17.3 4.5h0m-38.8 -3.1h0m-6 -8.5h0m43.3 4.9h0m-48.1 23.2h0m32.9 4.8h0m34.8 -31.3h0m-34.4 -12.2h0m-16.4 -6.8h0m-12.2 12.2h0m35.8 8.4h0m-5.2 29.9h0m32.5 -27.6h0m-19.6 -5.2h0m-10.7 -35.6h0m-12.2 58.4h0m30.5 -31.6h0m-5.2 8.6h0m-25 -13.6h0m-10.4 -2.2h0m10.5 13.6h0m3.8 4.3h0m13.7 4.5h0m23.7 -28.1h0m-44 21.7h0m8.3 0.2h0m19.6 12.9h0m-17.9 -16.3h0m-4.3 -14.9h0m21.7 -5.2h0m-29.7 15.4h0m38.1 9.9h0m-34.1 8.3h0m-19 -14h0m18.1 28.5h0m13.9 -33.2h0m-20.3 -3.7h0m-12.2 33.1h0m-7 -26.6h0m56.4 -4.3h0m9.5 -9.1h0m-21.6 34.9h0m-43.2 -5.6h0m45.8 -4.7h0m-8.6 17.6h0m32.3 -19.5h0m-43.5 -6.2h0m18.9 -22.2h0m-28.6 23.2h0m47 10.5h0m9.1 -22.9h0m-50.4 18.4h0m4.4 -11.7h0m31.1 1h0m13.1 -7.4h0m-23.3 19h0m6.1 -21.8h0m3.2 -12.5h0m-44.2 41.2h0m-4.7 -23.5h0m39.2 17h0m-46.8 11h0m69.7 -40.5h0m-51.1 25.3h0m17.9 -3.7h0m20.7 21.3h0m-27.1 -43.6h0m1.4 22h0m12.5 6.3h0m-46.1 2.1h0m42.5 10.6h0m10.7 -51h0m-35.3 38.4h0m-10 -1.4h0m29.4 -24.6h0m2.7 32.3h0m27.9 -37.7h0m-36.1 58.8h0m9.6 -2.4h0m-44.1 -8.1h0m31.4 -41h0m6.6 29.2h0m-13.3 -22.7h0m4.2 19.3h0m11.5 -10.3h0m16.1 6.5h0m-11.1 10.4h0m-39.2 5.2h0m-12.2 2.9h0m71 -27.6h0m-53.9 31.8h0m18.3 -9.9h0m35.7 -8.8h0m-56.9 2.4h0m2.2 -4.6h0m-12.7 8.2h0m53.3 -6.2h0m-26.6 -4.1h0m8.6 -2.2h0m10.5 -26.1h0m-17.4 48.8h0m-29.6 -5.9h0m39.6 -6.7h0m3.7 -28.9h0m20.2 20.3h0m-52.7 1.7h0m27 -10.8h0m-8.3 -16.8h0m6.7 24.2h0m3.7 -6.2h0m15.1 -12.8h0m-11.4 24.5h0m-16.2 3.9h0m27.5 -16.9h0m-45.6 25.8h0m25.9 -8.9h0m-0.6 16.7h0m9.6 -15.4h0m19.7 -4.1h0m-67.8 5.4h0m25.1 -26.4h0m-13.3 42.9h0m74.1 -46.1h0m-68.4 19.3h0m29.9 -3.6h0m-5.2 -11.6h0m-23.2 -2.5h0m23.6 9.9h0m13.9 -4.1h0m-6.5 45.5h0m31.5 -35.1h0m-41.6 -14.6h0m9.9 47.4h0m22.1 -63.4h0m7.2 6.1h0m-26.4 43.8h0m-32.8 -36.6h0m25.7 31.4h0m10.8 -34h0m3.1 -5.9h0m-16.8 27.6h0m15 -19.8h0m-8.6 8.6h0m-17.5 41.2h0m14.2 -49.6h0m13.1 14.3h0m-20.2 33.1h0m33 -40.8h0m-18.9 29.2h0m0.9 -6.7h0m5.8 -4.5h0m-35.8 -3h0m-1.9 8.3h0m60.8 -16.7h0m-75.9 9.1h0m19.3 -14.3h0m51.2 7.7h0m-75.5 32.1h0m52 -40.5h0m-29.7 14.7h0m21.3 -8.9h0m20.2 -5.8h0m-26 9.5h0m33.1 -20.6h0m-34.9 9.9h0m0.8 14.4h0m31.8 0h0m-0.6 -7.4h0m-13 -7.2h0m-0.2 5.5h0m15.9 13.7h0m-26.9 -0.3h0m18.3 -17.5h0m-49.9 -0.3h0m0 12.6h0m32.7 12.5h0m-15.1 20.3h0m37.7 -28h0m-33.9 -20.2h0m-18.9 0.4h0m28.2 11.6h0m1.9 11.8h0m10.2 1.5h0m-42 -25.1h0m35.2 3.3h0m-5.4 -13.6h0m-31.3 17.1h0m12.6 3h0m44.8 -11.1h0m3.8 -13.9h0m-5.6 29.7h0m-56.4 9.2h0m61.4 0.9h0m-22.7 -33.7h0m-7.7 28.3h0m-16.9 -2.2h0m42 17h0m-45.8 -26.4h0m38.6 -11.9h0m13.8 4.9h0m-54.6 -8.2h0m52.1 10.7h0m1.7 3.9h0m-24.8 -7.8h0m35.8 12.3h0m-10 -13.4h0m-36.3 26h0m15.2 -23.2h0m-26.4 -32.7h0m19.5 13.3h0m9.3 0.1h0m2.1 -4.4h0m-28.3 -11h0m11 5.2h0m-9.1 -2h0" stroke="#d198b5"/><path d="M999.7 794h0m-4.4 -16.6h0m-18.9 21.9h0m-6.9 -4.9h0m23.1 11.6h0m-6.9 -37h0m16.7 34.8h0m-9.5 -11.2h0m-18.6 -22.2h0m3.5 9.9h0m-1.7 12.3h0m29.1 -4.8h0m-4.7 13.2h0m-16.1 -3.1h0m-3.6 3.8h0m0.4 -30.5h0m17.1 21.8h0m-16.4 4.2h0m-10.5 -20h0m17.3 3.2h0m11 18.7h0m1.8 -5.3h0m-19.8 13.7h0m18.6 5.6h0m-0.8 -24h0m-29.3 2.2h0m4.4 -8.9h0m6.9 19h0m-8.9 -28.9h0m22.6 29.5h0m3.3 -15.9h0m-12.2 -0.7h0m17.9 -1.5h0m-3.2 9.8h0m-6.1 -20.3h0m0.9 14.5h0m-12.6 0.4h0m19 -4.8h0m-13.3 -6.3h0m11.3 17.9h0m5.2 7.8h0m-8.4 -17.7h0m14 25.1h0m-38.1 -17h0m-0.9 -12.4h0m13.1 5.2h0m8.2 -8.3h0m-2.2 26.5h0m4.7 3h0m15.1 3h0m-34.6 -4h0m30.7 10h0m-19.7 -39h0m-19.5 17.3h0m34 17.6h0m-33.6 -35.8h0m37.7 23.4h0m-26.9 3.9h0m0 -9.8h0m2.4 2h0m-0.4 11.8h0m4.5 -36.9h0m-10.2 7h0m21.3 26.3h0m-17.6 -17.3h0m6.7 12.7h0m15.4 -4.4h0m-29.8 5.6h0m3.5 -6.6h0m31.2 21.2h0m-24.3 -11.4h0m-2.1 -32.7h0m19.4 34.9h0m2.2 -6.9h0m-21.7 -2.7h0m11.6 -17.8h0m11.9 10.3h0m-14 4.8h0m3.1 12h0m-9.4 -3.2h0m28.3 -6.9h0m-14.4 -3.6h0m-19.9 -17.3h0m16.1 23.2h0m-25.4 -6.2h0m6.6 2.9h0m5.4 -18.8h0m-10.9 13.5h0m13.2 12.4h0m26.1 -13.8h0m-16.6 0.3h0m-8.6 5h0m-8.8 -10.8h0m11.7 -5.1h0m9.8 10.4h0m-11.4 -7.6h0m22.3 27.6h0m-20 -6.4h0m8.6 -10.1h0m-20.1 -9.6h0m3 4.2h0m15.1 -5.5h0m-16.9 5.8h0m37.8 27.8h0m-8.2 -3.7h0m3.8 -5.1h0m-2.2 7.7h0m0.2 -10.5h0m2 0.4h0m0.2 12.7h0m-12.4 42.8h0m1.3 -13.9h0m3.5 7.4h0m-0.8 -18.8h0m1.2 -2.8h0m60.3 -44.5h0m16.1 8.9h0m10.5 10.1h0m44.2 -14.6h0m-55.9 -5.4h0m25.2 26.2h0m-14 7.9h0m15.4 8.7h0m27.5 -38.9h0m-56.7 13.6h0m20.4 27.6h0m-26.7 -39.3h0m12.7 -15.6h0m-8.5 35.2h0m24.6 -11.9h0m1.1 -25.9h0m-34.2 42.5h0m-3.7 -24.9h0m17.3 -3.6h0m3.8 41.8h0m0.9 -41h0m-6.1 34.2h0m-14.3 -11h0m14 -22.8h0m18.6 -14.4h0m14.9 -4.8h0m-35.6 33.1h0m7.3 -4.2h0m-13.4 9.2h0m35.6 -20.1h0m-44.6 33h0m48.9 -3.5h0m7.8 -4.9h0m-47.4 -16.9h0m19.5 21.7h0m-12.4 -5.8h0m-15.1 -11h0m40.5 -16h0m-12.5 8.9h0m-24.3 6.9h0m60.7 -14.9h0m-57.6 21.1h0m15.5 -12.8h0m3.3 -14.1h0m-10.2 30.6h0m2.5 -16.1h0m19.7 -6.1h0m-12.8 -0.9h0m-14.8 45.3h0m28.5 -42.2h0m18.4 5.8h0m-43.7 -18h0m26.5 28h0m19.3 -8.1h0m-38.8 22.3h0m35.8 -7.6h0m-34.7 -22.2h0m-13.9 6.6h0m38.9 -9.7h0m22.5 -10.6h0m-53.2 29.9h0m12.9 -13.7h0m27.1 9.7h0m-2 20.2h0m-22.7 -7.9h0m16.9 -30.7h0m9.7 10.2h0m16.3 -11h0m-51.8 21h0m-0.8 -19.1h0m14.1 5.3h0m13.4 16.2h0m-22.8 -22.6h0m42.8 0h0m-31.9 27.9h0m-20 -36.2h0m-7.9 49.2h0m22.3 -14h0m22 -11.3h0m-24.8 -8.3h0m14.6 20.3h0m10 -8.9h0m-12.6 19.6h0m-36.9 -21.1h0m25.6 7.5h0m27.2 -5.6h0m-25.1 -20.8h0m-10.9 -4.7h0m12.7 7.4h0m-31.8 49.8h0m10.6 -20.7h0m18.7 -5.8h0m-4.8 2.1h0m40.4 -31.5h0m-65.8 39.3h0m16.9 4.6h0m-19.5 -28.8h0m67.4 -10.2h0m-31.3 23.3h0m4.3 1.2h0m-23.8 -19.8h0m-5.3 -1.1h0m26.9 35.8h0m-5.4 -17.9h0m-8.2 4.1h0m23.1 -16.8h0m2.4 33.1h0" stroke="#ca80a1"/><path d="M1007.5 806.1h0m-1 1.3h0m0 6.8h0m6.3 -5.1h0m-4.3 1.2h0m-0.9 -0.7h0m-2.4 -5.9h0m0.2 4h0m3.8 -2.2h0m-1.7 -3.8h0m4.3 9h0m-3.2 -1.6h0m-1.4 -3.9h0m-0.9 3.9h0m4.8 -6.5h0m-3.6 5.7h0m-2.9 3.7h0m3.1 2.9h0m2.4 -3.5h0m3.4 -2.4h0m-5.5 -0.7h0m1.5 9h0m-4.4 -11.1h0m-13.7 40.2h0m10.8 0.1h0m-0.5 -13.2h0m3.4 -9.4h0m-3.2 6.1h0m-0.3 -0.6h0m-1 5.8h0m4.3 -12.5h0" stroke="#c3668d"/><path d="M1002.1 802.7h0m3.2 0.8h0m0.2 3.5h0m1.1 4.2h0m2.4 -5.8h0m-1.1 7.4h0m4.8 -3.4h0m-5.3 2.1h0m2.3 -0.9h0m2.1 -3.4h0m-19.7 44.7h0m7.5 0.7h0m-10.6 -1.5h0m5.9 -9.1h0m6.7 -11h0m5 -8.7h0" stroke="#bc4e7a"/><path d="M992.4 847.1h0" stroke="#b53466"/></g>
<g fill="none" stroke-linecap="round" stroke-width="3.1"><path d="M1065.3 836.6h0m18.6 3.1h0m-19.4 4.3h0m9.9 -0.1h0m-22 -12.4h0m14.3 19.6h0m-10.6 -5.7h0m-5.5 -14h0m4.7 21.4h0m30.7 -2.1h0m0.7 -20.5h0m0.2 5.7h0m1.8 -5h0m-31.6 23.6h0m2.6 -0.2h0m3.8 -8.9h0m-12.2 19.4h0m-2.3 -0.5h0m-50.5 -9.7h0m-9.9 -10.4h0m0.3 -1.3h0m8.4 15.8h0m5.4 -14.4h0m-8.7 2.3h0" stroke="#c3668d"/><path d="M1077.5 854h0m-20.1 -4.4h0m4.4 -13.8h0m-13.4 10.5h0m1.6 -9.5h0m45.5 -3.5h0m-24.9 13.6h0m2.6 14.8h0m19.2 -18.4h0m-34.7 -4.8h0m-4.6 -6h0m25.7 8.9h0m0.7 0.9h0m-11.8 -7.6h0m6.5 19.4h0m-16 -12.9h0m27.6 1h0m-27.9 -2.6h0m-1.2 4.1h0m11.9 4.5h0m-18.1 15.8h0m14.1 -31.5h0m-76.6 16.5h0m8 -2.4h0m1.2 7.1h0m-11.4 -2.3h0m15 -8.8h0m-12.7 2h0m12.1 5.9h0m4.9 3.8h0m-18.2 -12.4h0m11.7 12.9h0m4.3 0.3h0m-12.3 -10.6h0m4.6 5.5h0m-3 -1.4h0m10.5 2.8h0m0.2 6.4h0m-16.5 -12.3h0m12.1 -5.3h0m9.2 15.4h0" stroke="#bc4e7a"/><path d="M1057.5 831.2h0m8.5 5.9h0m19.8 -0.2h0m-36.5 1.1h0m31.5 10.8h0m-15.9 -18.6h0m7.1 9.6h0m-7.4 20.1h0m21.9 -9.6h0m-39.4 16.9h0m3.2 -14.3h0m13.7 0.5h0m1.7 -8.8h0m4.2 -4.9h0m12.8 5.4h0m-91.2 2.5h0m10.8 -2.9h0m-17.3 0.6h0m7.8 2.4h0m-0.6 10h0m10.5 -2.6h0m-10 -1.5h0m9 -12.1h0m-8.7 6.9h0" stroke="#b53466"/></g>
<g filter="url(#ub)"><use href="#umA" transform="translate(1279.8 803.2) scale(9.1 8.865)" fill="#f0f5fb" stroke="#f0f5fb"/><use href="#umB" transform="translate(1279.8 803.2) scale(9.1 8.865)" fill="#f0f5fb" stroke="#f0f5fb"/><use href="#umC" transform="translate(1279.8 803.2) scale(9.1 8.865)" fill="#f0f5fb" stroke="#f0f5fb"/></g>
<g fill="none" stroke-linecap="round" stroke-width="2.4"><path d="M1204.7 807.8h0m-1.3 -32.1h0m13.2 28.5h0m-9.8 2.4h0m106.1 -30.6h0m19.7 10.5h0m-61.3 13.1h0m35.6 30.9h0m-21.3 -31.5h0m17.9 -12.9h0m18.1 37.7h0m-45.1 -31.6h0m30 2h0m27.8 14h0m2.9 -16.9h0m-8.3 21h0m-51.5 -13.6h0m45.4 -20.7h0m-8.8 22.1h0m-4.9 -23.1h0m10.3 16.3h0m2.5 -1.5h0m-1.8 24.9h0m-29.4 -19.2h0m-10.2 16h0m18.3 -20.2h0m-22.6 -74.3h0" stroke="#d8b2c9"/><path d="M1186.4 780.5h0m29.4 4.8h0m-13.6 -12h0m4.3 0.5h0m-17.1 12.8h0m89.5 25.1h0m29.3 -41.6h0m-3 55.5h0m37.3 -33.2h0m-43.4 10.5h0m23.3 -31.3h0m24.2 30.2h0m-15.7 -14.7h0m-5.5 -17.1h0m-13.6 -10.7h0m-22.1 21.7h0m48.1 -10h0m-12.9 32h0m-4 -12.5h0m-9.9 32.6h0m-11.4 -27.9h0m23.3 21.4h0m-14.5 -40.5h0m20.5 46.8h0m-26.4 -11.9h0m15.4 -22.5h0m-1.7 5.7h0m-5.9 12h0m-8.3 -12.5h0m-15.4 26.2h0m3.7 -26.6h0m25.6 -10.1h0m1.1 -2.4h0m7.7 29.3h0m9.9 -23.9h0m-14.2 3.7h0m12.2 12h0m-25.8 29.6h0m3.4 -36.1h0m-28.3 19.2h0m44.1 1.4h0m-9.1 -20.4h0m21.1 -12.3h0m-45.7 42.6h0m-2.8 -37.5h0m13 -0.5h0m5.2 -8.2h0m6.7 6.5h0m-22.3 -5.9h0m14 33.6h0m5.2 -15h0m-4.6 18.8h0m-21 -21.8h0m30.7 25.9h0m-23.8 -35.3h0m16.8 -22.5h0m10.8 27.9h0m-24.8 -3.3h0m-23.2 29.2h0m40.8 -19.1h0m-22.6 -16.9h0m11.8 32.9h0m-3.2 -20.5h0m17.1 -14.7h0m-35.7 24.4h0m41.8 0.9h0m-44.1 -17.6h0" stroke="#d198b5"/><path d="M1216.7 798.9h0m10.8 -7.5h0m-10.1 9.5h0m-14.9 -18h0m-4.9 5.9h0m112.4 5.8h0m-10.8 -22.9h0m49.6 9.8h0m-11.7 5.9h0m-48.8 -1.6h0m35.4 -17.9h0m-12.8 16.8h0m-35.7 7.8h0m35.8 41.5h0m-1.5 -40.8h0m10.9 -2.7h0m-9.9 -6.5h0m8.5 24.4h0m-15.2 -4.5h0m-23.6 2.2h0m31.3 -3.6h0m-28.7 20.4h0m37.5 -34h0m-6.8 20.1h0m-3.2 -52.6h0m13.2 4.9h0m15.5 29.2h0m7.8 2.5h0m-78 5.5h0m24.4 8.9h0m28.5 -27h0m-4.1 0.6h0m-19.7 3.6h0m-13.3 26.2h0m-12.8 -19.9h0m34 11.1h0m-29.9 4.7h0m42.1 -2.9h0m-7.4 -23.8h0m19.1 16.2h0m8.1 -7.3h0m-31.8 -9.4h0m-6.4 1.9h0m33.5 9.1h0m-29.9 -15.3h0m26.7 26.6h0m-22.9 15.5h0m41.4 -29h0m-77.1 21.2h0m57.1 5.5h0m-42 -16.7h0m-3.1 11.2h0m6.7 -17.9h0m21.1 -9.5h0m-37.1 26.1h0m29.5 -20.4h0m-3.6 10.4h0m23.1 2.3h0m11.4 -22.3h0m-2.3 25.1h0m-20.9 10.4h0m-7.7 -17.4h0" stroke="#ca80a1"/><path d="M1192 777.7h0m32.5 31.2h0m-14.8 -20.5h0m-16.8 -1.7h0m135 28h0m23 -31.1h0m-71.2 15.1h0m-2.1 8.5h0m-2 10.3h0m50.4 -15.9h0m-11.8 4.7h0m-4.9 14h0m-9.5 -5.9h0" stroke="#c3668d"/></g>
<g fill="none" stroke-linecap="round" stroke-width="3.1"><path d="M1300.2 852.5h0m-17.2 -1.7h0m3.2 3.7h0m10.2 -10.6h0m-3.8 13.6h0m2.2 -8.6h0m-90.5 13.7h0" stroke="#bc4e7a"/><path d="M1299.5 850.2h0m-18.2 -7.3h0m10.3 17.2h0m9 -18.3h0m-15.4 7.6h0m1.4 4h0m-72.3 -18.3h0m-3.7 15.1h0m5.5 7.1h0" stroke="#b53466"/></g>
<g filter="url(#ub)"><use href="#umA" transform="translate(1497.3 801.6) scale(9.1 9.85)" fill="#f0f5fb" stroke="#f0f5fb"/><use href="#umB" transform="translate(1497.3 801.6) scale(9.1 9.85)" fill="#f0f5fb" stroke="#f0f5fb"/><use href="#umC" transform="translate(1497.3 801.6) scale(9.1 9.85)" fill="#f0f5fb" stroke="#f0f5fb"/></g>
<g fill="none" stroke-linecap="round" stroke-width="2.4"><path d="M1545.8 770.9h0m-20.6 12.4h0" stroke="#d8b2c9"/><path d="M1498.8 789.9h0m52 32.1h0m-123.8 -52.8h0m-5.8 75.1h0" stroke="#d198b5"/><path d="M1559.9 772.5h0m-43.8 -35.5h0m11.6 92.5h0m-105.7 -66h0" stroke="#ca80a1"/><path d="M1566.5 793.9h0m-63.6 61.1h0" stroke="#bc4e7a"/><path d="M1552.4 761.8h0m-9.9 27.2h0m10.8 0h0" stroke="#b53466"/></g>
<path d="M1502.4 782.2C1502.9 778.3 1502.4 769.3 1510.7 765.6C1519.0 761.9 1541.0 758.7 1552.1 760.1C1563.1 761.5 1571.8 767.9 1577.0 773.9C1582.2 779.9 1584.1 790.5 1583.6 796.0C1583.1 801.5 1578.5 806.1 1574.2 807.0C1569.9 807.9 1564.0 804.3 1557.6 801.5C1551.1 798.7 1543.8 792.5 1535.5 790.4C1527.2 788.3 1513.5 790.2 1508.0 788.8C1502.5 787.4 1502.0 786.1 1502.4 782.2Z" fill="none" stroke="#000" stroke-width="1.5" stroke-dasharray="1.6 2"/>
<g filter="url(#ub)"><use href="#umA" transform="translate(1060.4 1339.8) scale(9.23 9.155)" fill="#f0f5fb" stroke="#f0f5fb"/><use href="#umB" transform="translate(1060.4 1339.8) scale(9.23 9.155)" fill="#eed3e0" stroke="#eed3e0"/><use href="#umC" transform="translate(1060.4 1339.8) scale(9.23 9.155)" fill="#efdbe6" stroke="#efdbe6"/></g>
<g fill="none" stroke-linecap="round" stroke-width="2.4"><path d="M967.9 1308.3h0m-1.2 28.5h0m35.3 13.3h0m-15.5 -37.9h0m-11.1 -5.5h0m16.8 39.4h0m-2.1 -23.8h0m-6.4 -7h0m25.2 8.8h0m-29.2 -14h0m18.9 27.6h0m-24.3 -13.1h0m21.1 11.6h0m-20.8 -33.7h0m-1.1 13.3h0m20.8 3.5h0m-10.4 -5.4h0m-1 2.4h0m-3.5 23h0m14.8 0.9h0m-7.7 -2.4h0m-2.6 -15.6h0m9.4 -8h0m-1 -4.3h0m-6.4 12.3h0m-21.9 -4.5h0m11.7 19.3h0m-2.8 -16.7h0m-4.9 9h0m25.2 1.2h0m-7.2 2.4h0m8.6 14.3h0m-13.5 -11.1h0m9.4 -25.5h0m-19.5 13.6h0m0.7 16.9h0m-2.2 0.6h0m12.1 -36.2h0m16 42.5h0m-7.9 -12.7h0m-3 -6.2h0m20.2 21h0m-16.2 -10.2h0m-17.4 2.4h0m21.9 -20.5h0m-10.2 11.7h0m17.6 18h0m-29.8 -27.2h0m26.7 -2.8h0m-9.5 15.6h0m3.5 -16.3h0m-7.6 7.5h0m-3.4 14.2h0m17.9 -17.2h0m-11.9 10.4h0m-2.7 0.1h0m20.7 14.3h0m-37.4 -27.4h0m0.7 -14.4h0m9.3 24.4h0m-12.6 -11.9h0m0.2 12.7h0m24.3 1.2h0m-13.5 -22.4h0m-7.1 12.8h0m37.5 21.3h0m-39 -35h0m-3.9 -4.3h0m48.7 16.5h0m-27 19.8h0m-10.4 -28.5h0m4.9 8.4h0m-6.1 16.6h0m-6.6 -33.2h0m11.7 29.9h0m19.9 13.1h0m-17.2 -43.3h0m3.4 32.8h0m-17.9 -26.3h0m7.6 -7.4h0m2.8 37.2h0m1.7 -0.5h0m-4.7 -19.7h0m1.5 -3.6h0m13.1 -3.7h0m4.3 29.2h0m17.1 -19.2h0m-39.8 -6.3h0m9.1 -16.6h0m17.1 40.8h0m-23.4 -14h0m-7.5 -4.9h0m36.1 -0.6h0m-24.5 6.4h0m8.3 -27.5h0m-15 20.6h0m1.5 -12.7h0m11.2 0.4h0m0.3 30.2h0m22.8 2.1h0m-29.2 -20.7h0m19.8 20.2h0m-21.5 -19h0m12 -9.1h0m-25.3 -2h0m34.9 9.1h0m-29.1 10.4h0m24.6 5.3h0m-11.5 -8.7h0m27.1 22.1h0m-32.2 -40.5h0m10.4 13.6h0m-18.1 2.9h0m19.8 17.2h0m-10.6 -33.3h0m-8.4 14.9h0m30.5 25.8h0m-9.6 -27.2h0m-13 12.7h0m4.7 -22.3h0m82 6.2h0m-6.1 1.8h0m18.6 40.3h0m-15.9 -30.5h0m23.1 50.6h0m6.7 -28.4h0m-24.6 -15.7h0m32.8 12.9h0m-8.6 20.4h0m1.6 -28.7h0m-19.3 0.7h0m2.3 -1.4h0m-0.7 48.1h0m54.3 -66.1h0m-60.9 4h0m-23.7 44.6h0m65.6 -15h0m-25.2 -0.5h0m-5 2h0m-27.6 -10.5h0m72.8 -9.5h0m-43.7 -33.1h0m-32.9 38.7h0m7 -10.5h0m15.4 2.8h0m35.8 -2.7h0m-29.6 42.2h0m-28.3 -2h0m51.8 -50h0m-20.9 35.6h0m23 -12.2h0m13.9 -33.1h0m-63.6 10.2h0m43 36.4h0m-18.8 -1.3h0m11.3 -36h0m-10 52.8h0m-17.6 6.3h0m63.9 -51.8h0m-86.7 17.6h0m54 7.6h0m30 -40.5h0m-65.8 -64.9h0m7.4 4.6h0" stroke="#d8b2c9"/><path d="M1001.6 1340h0m6.3 5.5h0m-34.3 -33.1h0m9.4 -4.2h0m11.5 35h0m-30.7 -24.3h0m12.5 -5.4h0m-5.8 -5.2h0m13.1 24h0m22.5 -4h0m-39.3 -6.4h0m22.8 21.9h0m-6.9 -23.6h0m-17.4 15h0m12.7 -28h0m-9.5 22.8h0m26.1 -13.4h0m5.1 12.6h0m-7.8 -6.5h0m-12.7 -1.7h0m-6.4 16.9h0m27.3 -17.8h0m0.2 7.6h0m7.3 16.5h0m-22.3 -27.1h0m-13.2 14.9h0m-3.5 6.5h0m26 -14.6h0m14.1 3.6h0m-29.3 -22.7h0m24.5 45.2h0m-11.9 -30.7h0m5.8 29.2h0m-10.1 -18.5h0m10.5 9.1h0m-8.7 -28.9h0m-25.1 20.3h0m13.1 -11.3h0m16.4 -4h0m-14.4 25.5h0m20.8 12h0m-26.5 -26.3h0m4 -19.7h0m27.5 38.5h0m-4.7 2.8h0m-30.5 -24.7h0m26.2 8.9h0m-2.2 12.6h0m12.7 -18.2h0m-17.9 -15.7h0m-16.2 20.4h0m5.1 -2.7h0m-10.2 6.9h0m7.4 -6.7h0m25.8 23.8h0m-17.1 -36.4h0m25.7 31h0m-17 -6.3h0m-8.6 -9.6h0m-4.9 -20.2h0m20.9 10.5h0m-34.2 -3.3h0m22.8 26.2h0m-1 -39h0m3.1 41.5h0m13.6 -10.4h0m-12.4 10.6h0m0.1 -8.5h0m-12.6 -12.6h0m20.4 26.5h0m-1.3 -8.6h0m-27.6 -22.3h0m2.8 21.4h0m2.5 -34.2h0m-6.9 4.6h0m36.9 29.2h0m-33.4 -25.9h0m30.6 19h0m-0.4 -0.4h0m6.2 -3.4h0m-14.9 9.2h0m-11 3.2h0m-16.4 -20.6h0m26 22.4h0m9.4 -11.7h0m-22.6 2h0m18.4 -5h0m-13.8 -1.3h0m-3.8 -5.6h0m12.6 -14.2h0m-23.9 -4.3h0m2.7 1.2h0m27.9 27.6h0m-22.4 -19.8h0m-1.1 5.5h0m25 6.3h0m-32.1 -16h0m-3.2 -4.4h0m2.1 17h0m1.6 2.3h0m25.5 10.6h0m-11 -8.2h0m-1.8 6.8h0m9.5 -18.1h0m12.5 24.5h0m-25.6 -11.8h0m13.7 -1.3h0m-12 3.9h0m28.9 -6.2h0m-25.8 -1.5h0m8.8 20.3h0m-13 -11.5h0m-9.7 -26.7h0m15.4 4.7h0m12.6 30.3h0m-29 -14.2h0m9.3 3.3h0m19.4 17.4h0m-21.3 -44h0m38.2 18.6h0m-44 -12.4h0m18.4 32.4h0m-13 -40.7h0m14.5 44.5h0m-14.2 -7h0m13.3 -19.9h0m-1.3 -0.4h0m-14.3 7.1h0m4.7 -2.8h0m26.4 26.9h0m-33.5 -40.3h0m33 15.8h0m-9 8.7h0m-5.3 -23.3h0m-2.6 14.4h0m-6.5 -3.6h0m-10.7 20.9h0m18.2 -7.2h0m8.9 -5.6h0m4.1 12.1h0m-3.9 -6.2h0m2.1 1.3h0m-20.7 -23.3h0m-11.5 -8.7h0m12.6 0.9h0m-15.3 21.7h0m6.1 7h0m27.8 14.6h0m-20.3 -13.2h0m18.3 -1.2h0m-11.1 -33.5h0m-14 38.9h0m14 -28.4h0m-9.2 15.9h0m-12.9 -11.5h0m20.3 -7.4h0m-3.9 9.5h0m-7.5 10.8h0m-2.8 -15h0m10.8 -1h0m6.9 29.5h0m-15.5 -27.7h0m19.9 21.7h0m7.9 -9.2h0m-9.3 -11.7h0m-9.7 9.8h0m3.4 7.2h0m7.6 -26.9h0m-7.1 36.5h0m-14.8 -31.6h0m25.9 14.6h0m-21.1 -5.9h0m111.8 19.5h0m-6.6 15.7h0m16.7 -21.1h0m-25.2 47.4h0m-18.7 -52h0m15.8 -16h0m-4.5 75.8h0m-13.4 -53.4h0m57.4 -1.2h0m-24.8 -50.3h0m-20.4 90.9h0m-13 -34.6h0m56.1 9.8h0m-40.1 13.1h0m3.8 13.5h0m18 -6.9h0m31.1 -47.7h0m-43.3 7.9h0m49.5 -23.6h0m-44.9 40h0m-11.3 1.5h0m45.7 1.5h0m-65 19.3h0m51.6 -38.6h0m-22.8 0.2h0m-11.1 33h0m-17.8 -12.4h0m46.4 0h0m-29.3 -7.6h0m60.4 -12h0m-80.5 39.8h0m24.5 -33.8h0m-12.6 -14.1h0m20.6 52h0m21.8 -59.9h0m-37.6 23.8h0m32.4 -1.8h0m-38.4 19.4h0m29.6 -34.1h0m-6 49.7h0m-5.1 -16.9h0m-14.7 21.3h0m25.8 10.9h0m38.3 -65.3h0m-78 56.2h0m40.1 -57.8h0m-13.8 3.7h0m-16.6 58.6h0m32.2 -84.2h0m29.3 36.1h0m-64.7 26.8h0m39.3 -48.5h0m-30.5 55.7h0m9.4 1.3h0m-11.5 13.2h0m14.1 -25.8h0m30.6 -28.1h0m-4 35.4h0m-13.8 -1.3h0m-20.3 -3.1h0m-18.7 10.5h0" stroke="#d198b5"/><path d="M1006 1324.3h0m-29.6 4.3h0m17.1 1.7h0m9.7 -8.2h0m-28.6 -20.1h0m1.2 7h0m-2 21.5h0m-5.7 -3.6h0m6.8 -21.3h0m6.9 12.8h0m18.1 2.9h0m-27.2 10h0m-4.4 -25h0m18.2 16.3h0m6.8 -6.5h0m-17.1 2.1h0m9.1 23.7h0m-20.5 -25.1h0m27.1 -5.5h0m11.8 13.1h0m-16.8 12.5h0m-3.1 -22.5h0m-10.4 24.2h0m2.4 -27h0m19.7 6.2h0m14.7 9.1h0m-27.6 -7.6h0m-10.6 4.8h0m3 7.7h0m3.5 6.8h0m22.7 6.5h0m-31.6 -11.2h0m20.2 -8.2h0m2.3 -15.1h0m-15.6 5.6h0m-9.9 20.9h0m19.9 -20.8h0m7.9 20.4h0m-7.7 -1.8h0m-17.9 -6.7h0m3.8 -12.2h0m-6.3 -1.7h0m25.9 -0.8h0m-3.5 32.5h0m18.1 3.3h0m-15 -5.7h0m9.2 -22.4h0m3.6 -0.1h0m-35 1.2h0m-1.2 -4.1h0m22.5 8.6h0m-22.3 -1.1h0m32.6 8.8h0m-2.9 13.7h0m-30.5 -43.6h0m16.9 30.9h0m-18.5 -10.9h0m30.6 12.9h0m-6.3 -23.7h0m-14.7 23.8h0m28.9 4.3h0m-1.3 3.1h0m-22.7 -26.6h0m23.7 19.9h0m-5 8.6h0m-24.4 -23.7h0m2.6 -6.8h0m23.9 27.6h0m5.7 -12.6h0m-26.2 -13.1h0m13.1 15.3h0m14 12.7h0m-14.6 -8h0m-25.7 -12.1h0m40 18.5h0m-10.8 -8.6h0m-7.9 -11.7h0m-18.1 -15.8h0m34.2 44.6h0m-37.9 -38.9h0m10.5 20.9h0m12.9 -8h0m-14.2 -15.7h0m-11.6 12.1h0m45.3 29h0m-35.5 -41.6h0m15 27.7h0m-1.8 -31.3h0m-5 11.2h0m-7.3 -3.6h0m12.5 16.5h0m-8.6 5.9h0m10.9 3.7h0m-11.8 -27.6h0m-7.3 -0.1h0m18.6 17h0m-19 -20h0m17.3 24.6h0m-18.4 1.6h0m34.7 -12.9h0m-26.3 19.6h0m-0.3 -1.4h0m9.7 -13.5h0m7.3 -3.4h0m-7.2 -2.8h0m-21.9 -5.3h0m1 2.3h0m26.1 5.9h0m-20.7 12.3h0m32.6 8h0m-15.4 -41.3h0m8.7 19.6h0m-21.6 -16.5h0m12.3 12.5h0m-24.1 -8.3h0m21.1 18.9h0m-11.8 11.7h0m38.2 -16.7h0m-11.4 11h0m-10.5 -10.8h0m-25.1 -7.3h0m37.4 33.9h0m10.8 -26.8h0m-43.7 -8.8h0m11.7 10.5h0m16.3 14.1h0m-33 -31.3h0m17.6 -2.4h0m14 83h0m-12.5 4.5h0m14.5 -1.3h0m-6.8 4.9h0m1.6 -4.7h0m-3.1 -8.4h0m-5 2.4h0m0 -1.9h0m1.4 9.1h0m10.2 -6.8h0m-13.4 -7.4h0m18.6 12.9h0m-15.1 0.7h0m11.9 0.2h0m-4.1 -4.2h0m8.3 1.1h0m-10 6.6h0m-8 -7.6h0m3.3 -13.3h0m15.3 13.6h0m-19.3 1h0m6.2 4.9h0m-0.5 -6.3h0m9.5 -22h0m-2.8 4.8h0m4.2 -11.5h0m-3.6 10.2h0m88.9 -59.4h0m-3.7 33.6h0m2.8 22.6h0m-10.6 -46.7h0m24.6 29h0m-2.2 0.7h0m-19.6 -62.8h0m20 26.2h0m-4 5.9h0m9.6 22.7h0m-11.7 -11.1h0m-10.6 50.6h0m-2.3 -29.6h0m11.5 -13.9h0m-12.8 17.7h0m-12.3 14.4h0m-15 -4.1h0m2.3 -17.4h0m-5.6 -3.6h0m18.9 40.1h0m52.2 -76.9h0m-45.2 59.4h0m0.2 7.8h0m1.6 20.8h0m-3.3 -34.5h0m19.8 17.2h0m-11.7 -29.6h0m-0.2 2.2h0m11.4 -28.7h0m30.6 8.1h0m-43 8h0m-18.7 -6.4h0m9.7 -5.1h0m-2.7 19.2h0m-5.7 -19.6h0m6.6 11.9h0m24.5 1h0m-9 -14.7h0m-17.6 -0.6h0m6.6 63.9h0m24 -92.3h0m-10.2 70.7h0m-38.2 -17.1h0m35.5 28.9h0m-8.4 -21.4h0m32.9 -13h0m-18.8 0.1h0" stroke="#ca80a1"/><path d="M1000.7 1338.1h0m7.5 5.1h0m-5.5 3.4h0m7.9 3h0m-4.4 4.7h0m3.7 -10.6h0m-5.7 11.6h0m3.2 -6.3h0m-2.5 -2.5h0m1 -0.2h0m-3.3 0.8h0m1.8 -4h0m-2.9 2.1h0m7.5 1.1h0m0.1 -1.3h0m1.9 6.6h0m-2.3 -4.3h0m-4.4 4.6h0m4.7 -1.6h0m-3.2 -6.4h0m-3.2 -2h0m-1 -4.2h0m8.1 3.6h0m-0.7 0.6h0m-4.9 3h0m1 6.5h0m0.6 0.8h0m4.2 -6h0m-4.5 0.5h0m-0.1 3.4h0m1.3 -4.2h0m-19.4 32.9h0m10.6 6.7h0m0.8 7.1h0m0.2 -5.1h0m6.8 5.5h0m-18.4 -9h0m-1.9 -0.2h0m4.5 -7.5h0m10.6 12.2h0m-4.1 -2.1h0m-5.9 8.2h0m-1.8 0.9h0m1.7 -19.5h0m-6.3 16.9h0m5.3 -7.3h0m2.7 1.2h0m-2.3 5.7h0m-5.2 3.4h0m7.9 -16.4h0m-1.4 14.1h0m-8 -2.3h0m15.7 -1.4h0m-7.4 -9h0m1.9 8.2h0m-3.3 -11.5h0m9.3 7.6h0m1.8 8.1h0m-17.5 -1.2h0m17.4 2.5h0m1.3 -1.2h0m-18.4 1.6h0m7.7 -5.9h0m1.5 -2.8h0m-8.7 -6.6h0m18.3 11.1h0m-2.7 2.3h0m3.2 -33.4h0m-2.8 3.7h0m-2.5 8h0m3.8 -11.3h0m-3.1 8.7h0m-1 3.7h0" stroke="#c3668d"/><path d="M1011.9 1347.5h0m-6.1 3.3h0m6.6 -4.2h0m-3.7 -2.2h0m-3.6 -1.4h0m4.3 2.3h0m-2.6 -0.2h0m4.3 -2.2h0m-9.5 1.7h0m13.8 0h0m-9 0.2h0m4.3 0.2h0m-2.5 1h0m-3 0.8h0m2.4 -3.1h0m-1.5 3.7h0m0.4 -2.7h0m0.3 4h0m3.7 2.2h0m-4.3 -3.7h0m0.4 -4.9h0m5 4.2h0m-3.7 -2.1h0m1.5 1h0m4.4 3.8h0m-2.9 -7.9h0m-4.2 2.2h0m-0.8 7.4h0m1 -7.4h0m1 1.4h0m3.2 -2.5h0m-2.6 2.9h0m-11.6 32.3h0m1.7 17.9h0m-7.7 -16.7h0m4.2 -1.8h0m0.3 4.1h0m-2.5 12.4h0m-7.1 -12.4h0m4.1 12.5h0m-5.3 -2.1h0m15.3 -0.1h0m-12.3 -5.6h0m11 -19h0m-0.2 4.2h0" stroke="#bc4e7a"/><path d="M1011.3 1342.4h0m-7.3 -0.2h0m-1.3 1.7h0m2.3 -1h0m0 9.7h0m-1.3 -2.8h0m4.3 -7.1h0m2.3 -0.3h0m-0.8 -5h0m-8.4 6.3h0m7.2 8.9h0m-5.7 2.9h0m2.3 -5.2h0m-1.8 6.5h0m-1.1 -9.9h0m0.2 -4.7h0m4.9 1.9h0m-5.2 10.3h0m0.8 -6.5h0m4.8 7.2h0m1.2 -3.2h0m-4.4 -7.6h0m1.3 -1.1h0m-2.9 6.6h0m4.5 -4.2h0m0.6 -3h0m-6.2 13h0" stroke="#b53466"/></g>
<g filter="url(#ub)"><use href="#umA" transform="translate(1271.9 1339.4) scale(9.18 9.21)" fill="#f0f5fb" stroke="#f0f5fb"/><use href="#umB" transform="translate(1271.9 1339.4) scale(9.18 9.21)" fill="#f0f5fb" stroke="#f0f5fb"/><use href="#umC" transform="translate(1271.9 1339.4) scale(9.18 9.21)" fill="#f0f5fb" stroke="#f0f5fb"/></g>
<g fill="none" stroke-linecap="round" stroke-width="2.4"><path d="M1284.1 1346.3h0m8.7 38.1h0m23.9 -78.8h0m-54.6 56.9h0m75.1 -50.4h0m-39.2 -20.4h0m22.8 35.2h0m-30.6 -49.8h0m-14.4 43h0m66.1 8h0m-14.2 17.2h0m-45.6 -64.2h0m-69.2 41.6h0m-20.4 -12.8h0m22.9 11.8h0" stroke="#d8b2c9"/><path d="M1283.4 1367.5h0m9.8 -21.1h0m-8 -25.6h0m19.2 -16h0m9 -8.3h0m1.6 2.5h0m-22.8 88.2h0m6.2 -21.1h0m4.7 -85.7h0m-15.3 50.8h0m23.5 24.9h0m-47 3.3h0m61.3 -9h0m-27.2 -47.7h0m-18.6 96.9h0m26.4 -41.3h0m-12.8 6.7h0m-9.6 -31.2h0m-81.9 2.5h0m16.3 -11.9h0m-22 -8.8h0m82.7 -58.7h0m1.1 0h0m-5.7 -3.7h0m0.6 -0.8h0m-0.4 2h0m-0.3 0.4h0" stroke="#d198b5"/><path d="M1264.7 1358.3h0m15.1 -78.6h0m15.9 96.2h0m11.3 -20h0m-11.4 -11.4h0m1 36h0m28.3 -70.4h0m-76.1 39.7h0m74.9 -1.7h0m-6.9 -19.4h0m-4.4 -6.1h0m-42.1 73.1h0m9.4 -24.1h0m10 -90.3h0m24 39.7h0m-131.1 0.1h0m12.7 -6.1h0m78.9 -61.2h0m2.9 0.9h0m-4.6 -1.8h0m6.2 2.9h0m0.7 0h0m-70.8 66.1h0m-1 72.8h0m-9.1 -2.8h0m78 -10.1h0m24.8 -97.7h0" stroke="#ca80a1"/><path d="M1276.9 1256.1h0m-9.6 119.2h0" stroke="#c3668d"/><path d="M1266.8 1249.7h0m5.4 4.6h0m-1.4 -3.9h0m-1.3 2.2h0m1.7 0.9h0m-4.8 119.1h0" stroke="#bc4e7a"/><path d="M1269 1252.4h0m2 -1h0m1.3 1.9h0m-2.3 -4h0m2.6 4.9h0m-2.7 -3.4h0m0.4 0.3h0m0.8 -0.6h0m1.7 1.4h0m-5.1 -0.2h0m2.1 -0.4h0" stroke="#b53466"/></g>
<g filter="url(#ub)"><use href="#umA" transform="translate(1483.4 1339.4) scale(9.25 9.21)" fill="#f0f5fb" stroke="#f0f5fb"/><use href="#umB" transform="translate(1483.4 1339.4) scale(9.25 9.21)" fill="#f0f5fb" stroke="#f0f5fb"/><use href="#umC" transform="translate(1483.4 1339.4) scale(9.25 9.21)" fill="#f0f5fb" stroke="#f0f5fb"/></g>
<g fill="none" stroke-linecap="round" stroke-width="2.4"><path d="M1520.8 1315.6h0m-15 58h0" stroke="#d8b2c9"/><path d="M1529.3 1315.7h0m-30.1 23.8h0m22.7 26h0m-27.6 13.7h0m-15.2 -19.2h0m-7.1 12.1h0m49.9 -12.5h0m1.9 -42.1h0m-44.2 37.7h0m2.9 -7h0m19.9 2.4h0m8.9 -6.5h0m12.6 -34.7h0m-59.4 96.9h0m29.9 -9.9h0m-11.1 -17.6h0m56.2 -68.4h0m8.8 10.2h0m-84.5 29.7h0m58.8 -19.7h0m-7.2 -21.3h0m-22.6 -21.9h0m61.1 41.2h0m-27.7 -18.9h0m-21.5 38.2h0m0 37.1h0m-10.3 -59h0m34 -9.5h0m-34.1 66.3h0m15 -12.1h0m-2.1 -6.6h0m46.7 -29.7h0m-41 4.2h0m-29.6 -7.2h0m72 -5.8h0m-5.9 -2.2h0m-67 13.2h0m-0.1 -5.1h0m69.2 -6.8h0m-17.7 -18.5h0m-112.2 12.7h0m-31.9 15.7h0m3.7 -25.3h0" stroke="#d198b5"/><path d="M1478.2 1332.4h0m-10 37.6h0m55 -47.1h0m-31.1 -44.7h0m12.5 44.9h0m36.9 9.9h0m-3 -6h0m-50.1 60.7h0m23.7 -29.1h0m-34.7 16.6h0m27.7 -62.5h0m25.3 0.7h0m-23.4 76.1h0m-12.8 -3.6h0m1 -18.6h0m-2.2 14.4h0m-11.1 -39h0m49.2 -34.3h0m-22 74.8h0m13 -76.4h0m-24.5 21.5h0m-28.2 37.7h0m2 7.2h0m15.2 9.4h0m-10.6 -54.3h0m34.2 4.3h0m16.5 4.9h0m-26.3 -12.3h0m-25.4 59.3h0m52.4 -52.3h0m-17.1 16.4h0m-15.4 -16.5h0m-95.8 -6.8h0m-2.3 -16h0" stroke="#ca80a1"/><path d="M1501.9 1375.7h0m36.1 -26.8h0m-22.5 -47h0m-32.1 34.3h0m51.1 -0.1h0m1.5 -35.6h0m-17.6 61.9h0m2.1 -79.3h0m8.6 55.9h0m-18.1 0.9h0m-18.6 -24.8h0m63.4 2.1h0m-40.5 -18.3h0m5.4 20.4h0m12 5.1h0m-2.5 17.4h0m-53.2 34.3h0m22.5 -24.7h0m24.1 -5.5h0m-33.6 37.3h0m54.6 -60.2h0m-113.4 7h0m-34.5 4.7h0m29.2 6.8h0m-26 -31.6h0m26.8 30.2h0m-21 47.2h0m3.7 2.8h0" stroke="#c3668d"/><path d="M1391 1328.8h0m5.2 -16.9h0m83.3 -61.7h0m1.1 2.5h0m2 -0.8h0m1.1 -0.7h0m-3.1 -1.5h0m6.3 4.6h0m20.6 20.6h0m-92.5 97.7h0m75.8 24.8h0m0.9 2.8h0" stroke="#bc4e7a"/><path d="M1487.2 1255.2h0m1.5 -0.9h0m-9.2 -5h0m9.9 5.5h0m-10.2 -5.2h0m1.7 1.5h0m-2.3 0.1h0m3.4 2.1h0m-1 -3.3h0m3.8 2.7h0m-1.6 -1.4h0m-1.1 0.1h0m9.5 5.4h0m-8.1 -6.3h0m-2.8 0.8h0m3.2 0.5h0m6.3 3.4h0m0.7 -0.8h0m-3.1 -1.2h0m-5.5 -1.9h0m5 4.3h0m-1.6 -2.7h0m-1.9 0.3h0m3.4 3.2h0m1.7 -0.6h0m-6.9 -4.6h0m-2.7 -1.3h0m3.8 1h0m-1.1 2.5h0m7.7 0.7h0m-3.6 0.5h0m-3.5 -1.8h0m8.2 2.1h0m-10.7 -5h0m30.1 26h0m1.9 0.9h0" stroke="#b53466"/></g>
<path d="M1477.5 1251.5L1489.5 1258" stroke="#b32a5d" stroke-width="5" stroke-linecap="round"/>
<path d="M1266 1251L1271 1254" stroke="#b8325f" stroke-width="3.6" stroke-linecap="round"/>
<path d="M960 901.6V1074.9H1130.6" fill="none" stroke="#000" stroke-width="1.3"/><path d="M960 1066.5h-3.6M960 1015.3h-3.6M960 964.1h-3.6M960 912.9h-3.6M970.7 1074.9v3.6M989.3 1074.9v3.6M1007.8 1074.9v3.6M1026.4 1074.9v3.6M1044.9 1074.9v3.6M1063.5 1074.9v3.6M1082.1 1074.9v3.6M1100.6 1074.9v3.6M1119.2 1074.9v3.6" stroke="#000" stroke-width="1.2"/><g font-size="14.2"><text x="952.5" y="1071.3" text-anchor="end">0</text><text x="952.5" y="1020.1" text-anchor="end">1</text><text x="952.5" y="968.9" text-anchor="end">2</text><text x="952.5" y="917.7" text-anchor="end">3</text><text x="970.7" y="1093.7" text-anchor="middle">0</text><text x="989.3" y="1093.7" text-anchor="middle">1</text><text x="1007.8" y="1093.7" text-anchor="middle">2</text><text x="1026.4" y="1093.7" text-anchor="middle">3</text><text x="1044.9" y="1093.7" text-anchor="middle">4</text><text x="1063.5" y="1093.7" text-anchor="middle">5</text><text x="1082.1" y="1093.7" text-anchor="middle">6</text><text x="1100.6" y="1093.7" text-anchor="middle">7</text><text x="1119.2" y="1093.7" text-anchor="middle">8</text></g><path d="M970.7 1066.5V964.1M989.3 1066.5V989.7M1007.8 1066.5V943.6M1026.4 1066.5V920.6M1044.9 1066.5V907.8M1063.5 1066.5V976.9M1082.1 1066.5V923.1M1100.6 1066.5V992.3M1119.2 1066.5V1012.7" stroke="#111" stroke-width="1.25"/><path d="M1073.6 1066.5L1082.1 1053.5L1090.6 1066.5Z" fill="#ee82ee" stroke="#000" stroke-width=".8"/><path d="M975 1036.3h0m1.8 6.2h0m-6.8 -4.1h0m-7.2 -12.6h0m11.9 -2.8h0m-6.3 5.8h0m6.8 -14.4h0m-10.1 0.9h0m10.7 16.3h0m-4.7 -18.6h0m5.8 3.9h0m-5.1 13.3h0m-1.5 -35.9h0m-5.1 20.5h0m12.2 36.1h0m-13.4 -27.3h0m-1.6 4.6h0m4.4 -5.7h0m3.2 13.9h0m0 -22.8h0m-0.9 32.1h0m9.5 -9.8h0m-11.5 5.7h0m3.7 -31.7h0m-4.4 12h0m8.6 20.1h0m-8.7 -34.2h0m-2.5 2.8h0m7.2 20.6h0m6.2 -7.6h0m-0.3 -3.8h0m-9.7 -3.8h0m11.3 3.6h0m-1.2 27.6h0m-4.8 -25.6h0m4.2 -11.1h0m-5.7 11.4h0m-5.1 24.2h0m1.7 -3.6h0m5.8 -27.1h0m-7.2 11h0m10.4 -18.1h0m-0.3 20.3h0m-4.1 -3h0m3.4 -14.1h0m-1.4 8.6h0m-11 0.1h0m12.1 15.7h0m-4.8 -9.8h0m-3.7 -28h0m-0.5 41.3h0m8.3 -17.3h0m-9.2 -5.1h0m1.9 11.9h0m11.4 -7.1h0m-7.4 4.1h0m2.5 -17.3h0m-7.2 15.3h0m-1.3 26.9h0m-2.6 -27h0m2.9 15.6h0m12 1.7h0m-10.5 5.7h0m-3.1 -3.5h0m6.4 -30.8h0m-6.9 16h0m2.5 5h0m-2.9 -6.1h0m7 -24.1h0m7.2 48.6h0m-2.5 -57.5h0m-5.2 10.8h0m3.7 -14h0m-7.5 30.4h0m7.9 10.6h0m-5.8 17.6h0m-4.5 -33.3h0m1.4 30.2h0m0.1 -51h0m6.4 25.7h0m2.5 7.9h0m2.5 -17.3h0m-6.8 28.2h0m2.2 -24.8h0m3.2 8.8h0m-7.7 -5.9h0m2.6 15.1h0m-1.9 1.4h0m9.8 -23.9h0m-7.3 31.5h0m-7.3 -34.7h0m9.1 37h0m-2 -20.5h0m-5.7 -8.4h0m-1 0h0m9 2.8h0m-7.3 0.1h0m13.1 21.6h0m-11 -10.9h0m-0.9 -18.5h0m5 28.9h0m0.1 -8.1h0m7.6 1.2h0m-2 14.7h0m-0.2 -48.3h0m-4.7 9.4h0m-6 12.4h0m3.8 -2.2h0m-0.2 -30.1h0m3.2 18.5h0m-7.3 45.4h0m2.6 -17.9h0m9 -19.5h0m-10.1 2.1h0m9.8 -6.7h0m-3.2 33.5h0m-1.6 -19.6h0m-5.4 2h0m-1.6 23h0m-0.6 -8.9h0m-0.9 4.2h0m4.8 -4.4h0m0.3 -17.6h0m-4.9 2.6h0m12.4 12.8h0m-8.6 -20.1h0m-1.3 -7.7h0m3.7 8.9h0m0.9 -23.9h0m-7.9 39.3h0m0.7 -7.5h0m0.6 8h0m2.3 -38.3h0m9.4 34.6h0m-5.9 -11.2h0m-2.5 12.9h0m-1 -6h0m10.6 -1.9h0m-4.1 20.7h0m2.5 -29.3h0m-6.6 -22.3h0m3.3 25.7h0m-6.4 18h0m-1.6 -17.1h0m-0.8 12.9h0m1.6 -13.9h0m7.7 -1.3h0m5.8 -6.5h0m-14.2 5.2h0m4.1 -18.6h0m1.3 -19.5h0m-2.2 64.5h0m2.5 -25.6h0m8.9 13.7h0m-14.3 3.9h0m7.7 -23.8h0m2 39.3h0m-8.5 -56.8h0m9 23.7h0m-9.3 21.3h0m-0.3 -21.2h0m3.8 25.9h0m4.5 -40.3h0m-7.6 26.7h0m2.4 -4.7h0m-1.6 16.2h0m5.1 -15.2h0m3.1 -26.4h0m1.3 5.7h0m-11.1 14.3h0m4.9 -9.9h0m2.6 17.6h0m0.8 -24.3h0m3.1 30.2h0m-2.3 -11.7h0m-7.6 9h0m11.7 -14.1h0m-3.7 29.6h0m-6.5 -15h0m-5.9 -4.1h0m10.8 1.5h0m4.3 -4.4h0m-6 -28h0m-9.3 34.6h0m14.4 -35.1h0m-1.9 30.3h0m-1.2 12h0m-3.3 -15.6h0m-3.2 -7.6h0m6.7 9.2h0m-10.9 -8.6h0m2.1 -21.5h0m7.5 44.4h0m-1.5 -14.6h0m1.3 9.2h0m1.7 -11.8h0m-5.2 8.4h0m6.3 -26h0m-7.8 2h0m0.3 8.5h0m4.7 3.6h0m-0.1 18.1h0m-1.3 -28.5h0m-5.6 14.4h0m-0.5 8.3h0m-1.7 1.1h0m7.7 -12h0m-2.2 18.8h0m-4.6 4.6h0m6.4 7.5h0m3.2 -34.6h0m-2.1 33.7h0m-6.5 -31.3h0m9.1 -7.8h0m-8.6 -16.1h0m5.4 36.2h0m2.2 -9.2h0m1.3 15.4h0m-10.7 6.2h0m13.7 -17.2h0m-1.2 -35.4h0m-3.5 35.3h0m-6.5 -18.6h0m-2.3 26.2h0m8 -53h0m-0.5 56.7h0m3 -11.1h0m-3.7 8.6h0m-5.4 -19.3h0m1.6 -3.2h0m11.4 0.4h0m-4.2 13.4h0m2.4 15.8h0m-3.6 -16.3h0m4.5 6.4h0m-3.5 -35.2h0m-9.1 13.9h0m7.2 24.5h0m-6.2 -6.8h0m-2.6 8.1h0m16 -20h0m-7.6 2.2h0m5.2 -2.2h0m-8.9 21.3h0m3.5 -9.7h0m-3 -7.7h0m7.3 18.8h0m-11.9 -17.5h0m11.3 6.4h0m-10.6 -6.2h0m8.5 -1.1h0m1.4 -12.8h0m3.8 29.5h0m-9.2 -24.8h0m-0.5 -6.9h0m5.2 27.2h0m-4.6 -5.1h0m4.9 -17h0m2.1 -9.4h0m-1.5 15h0m0.3 16h0m2.4 8.7h0m-10.5 -22.4h0m5.1 9.7h0m4 -6.4h0m-9.7 -10.7h0m3.6 10.6h0m-1.5 27.8h0m5.8 -36h0m-4.1 17.7h0m-5.1 7.6h0m11.6 -14.3h0m-5.2 -17.4h0m0.4 45.5h0m-8.3 -24.4h0m7.8 -19.7h0m2.4 6.2h0m2 20.2h0m0.4 -14.8h0m-8.1 -7.8h0m-5.3 14.5h0m7.2 26h0m6.9 -29.6h0m-7 3h0m0.2 -6.2h0m0.7 11.6h0m7.2 -26.8h0m-3.2 30.8h0m-11.2 -19.3h0m5.9 7.3h0m5.8 -2.8h0m-10.8 -14.1h0m9.8 8.1h0m-4.7 4.5h0m7.5 12.2h0m-14.4 -15h0m11.4 30.1h0m5 -31.4h0m-3.8 1.5h0m2.2 8.5h0m-11.7 8.1h0m4.4 8.3h0m-5.1 2.8h0m0 -32.8h0m5.2 27.5h0m-3.5 -32h0m3.4 2.1h0m5.8 -3.1h0m-6.1 17.2h0m-1.4 22.4h0m2 -27.8h0m7.9 23.9h0m-4.9 -10.2h0m0.2 -25.2h0m-0.9 15.5h0m-3.3 2.8h0m-1.5 -23.9h0m5.4 7.8h0m-8.1 34.2h0m-1.7 -21.4h0m7.4 6.6h0m1.5 24.3h0m-8.1 -44.5h0m5.3 24.9h0m4.4 -39.7h0m2.2 52.1h0m-3.4 -44.6h0m-9.5 26.5h0m11.5 -22.8h0m3.3 20.9h0m-6.1 -20.6h0m-9.5 17h0m2.8 -23.8h0m11 53.6h0m-9.8 -11.2h0m3.8 -20.9h0m0.5 26.5h0m0.9 -42.1h0m6.9 27.6h0m-5.6 -1.9h0m-7.4 6.6h0m8.4 12.7h0m-4.8 2.3h0m5.9 -8h0m0.5 -9h0m-7.8 -25.1h0m1.9 27.6h0m-7.1 -21.1h0m1.5 5.7h0m5.5 -2.3h0m6.1 -1.9h0m-7.4 28.1h0m0 -8.1h0m10.7 -4.2h0m-2.1 -38.2h0m-0.5 20.4h0m-9.9 25.6h0m-0.5 -19.2h0m2.4 -8.7h0m2.1 0.7h0m-5.7 28.4h0m2.4 1.6h0m8.5 -55.9h0m-4.5 56.4h0m-2.6 -21.1h0m2.6 19h0m2.3 -44.8h0m4.8 9.8h0m0.5 13.2h0m-4.1 17.1h0m-3.5 -6.7h0m-7.6 8.3h0m1.4 -24.6h0m-2.2 16.4h0m1.3 12.1h0m6.3 -46.7h0m0.2 32.4h0m8.6 -12.7h0m-1.2 25.5h0m-2.9 -39.8h0m-3.8 4.2h0m0.9 5.9h0m2.8 2.8h0m-0.1 10.7h0m2.1 0.2h0m-0.1 13.4h0m0.1 14.1h0m-11.5 -1h0m7.3 -22.2h0m-8.5 -12.8h0m2.5 -8.2h0m-1.5 22.9h0m9.5 -21.6h0m2 -3.2h0m-10.6 17.5h0m3.5 -12.3h0m1.8 0.5h0m7.2 12.9h0m-7.6 4.2h0m-4.3 -2.9h0m3.2 -5.1h0m3.6 3.6h0m-10.9 0.4h0m4.2 -30h0m6.1 45.3h0m-9 -19.7h0m5.1 20.2h0m-2.2 -24.7h0m2 31.4h0m-5.3 -23.3h0m6.7 -33.2h0m2.7 19.5h0m-5.9 -9h0m12.4 29.6h0m-15.2 -13.5h0m-0.6 2.3h0m15.1 -2.6h0m-3.9 -2h0m-7.6 7h0m-0.9 -10.5h0m-2.3 15.4h0m10.4 8h0m-7.5 -14.3h0m4.9 -11.5h0m-6.1 19.4h0m-0.8 -15.7h0m9.6 35.9h0m-5.9 -1.2h0m8.6 1.8h0m-6.4 -46h0m2.6 34.6h0m-6.2 -34.4h0m6.1 18.4h0m5.8 -1.3h0m-4 30.6h0m-8.4 -30.8h0m7.3 12.9h0m-2.4 -1.1h0m5 -9.1h0m-1.4 -26.3h0m-6.7 32.5h0m1.2 0.5h0m-4.3 -21.2h0m2.5 24.8h0m3.1 14.9h0m-1.2 -29.4h0m7.1 11.4h0m-4.2 -3.1h0m-9.6 -10.1h0m13.9 -15.9h0m-8.2 41h0m0.7 -1.5h0m5.4 3.3h0m-7.7 -24.7h0m9.1 -4.3h0m-2.5 12.2h0m-1.7 -29.8h0m-8.7 27.3h0m7.2 -19.7h0m-5.4 12h0m5 -18.4h0m6.8 10.2h0m2.3 14.5h0m-7.7 1.8h0m2.2 -2.7h0m-9.7 -9.6h0m12.8 16.3h0m-3.1 -10.1h0m-4.7 -6.7h0m-5.1 21.2h0m3.3 4.5h0m5.4 -9.6h0m0.9 -21.9h0m3.1 22.6h0m-6.5 -25.9h0m2.4 25.4h0m-2.2 23h0m2.6 -20.9h0m3.9 -24.7h0m-3.6 29.3h0m-9.5 -19.6h0m1.3 -3.6h0m2.7 15.4h0m4.4 -13.4h0m-9.1 14.9h0m1.6 4.6h0m7.1 -23.4h0m6.7 17h0m-13.4 -18.2h0m8.6 6.8h0m-3.5 7.4h0m-2.5 -11.7h0m2.1 19.5h0m-1.2 -23.4h0m-2.7 -13.3h0m10 34.8h0m3.3 -13.8h0m-15.9 4.1h0m12.1 10.2h0m-9.5 7.8h0m5.7 -4.8h0m5 -34.1h0m-13.5 22.3h0m3.8 -21.6h0m-1 40.4h0m11.4 -10.3h0m-7.8 9.8h0m2.3 -3.6h0m-7.1 -24.8h0m13.4 -2.8h0m-0.8 -2.6h0m1.5 28.8h0m-12.7 -16.6h0m-2.2 -2.1h0m0.4 3.5h0m5.9 -12h0m-2.2 23.5h0m-0.8 -16.7h0m10.4 15.8h0m-12.8 -23.2h0m5.6 -42.8h0m19 77.7h0m-2.5 -12.8h0m9.5 -1.9h0m-8.9 23.9h0m7.2 -11.4h0m-8.6 -2.3h0m11.4 -0.8h0m-6.1 -0.4h0m-6.1 -9.8h0m11.7 8.3h0m-6.3 13.9h0m7.2 -11.5h0m-15.1 -0.6h0m-2 4.1h0m3.7 -2.7h0m1.3 -5h0m11.3 3.4h0m-5.4 5.4h0m-6.9 -10h0m9 13h0m-8.7 -0.6h0m7.9 4.8h0m1.7 -4.2h0m-12.5 -13h0m7.7 2.4h0m0.7 21.7h0m6.6 -17h0m-5.3 9.5h0m4 1.6h0m-15.2 -13.6h0m16.1 5.8h0m0.1 0h0m-5.7 -7.7h0m-4 -7.5h0m-5 9.6h0m1 -2.7h0m14.4 1.6h0m-1.5 6.3h0m-4 -7.2h0m-8.4 20.2h0m7.3 -2.3h0m-2.5 -5.3h0m3.6 -7.6h0m-3.3 -5.6h0m-2.6 5.3h0m3.5 5.7h0m-6.5 -5.1h0m5.5 10.4h0m7.8 -23.3h0m-4.3 18.6h0m3.5 -7.3h0m-4.7 14.6h0m-1.3 -36.3h0m4.4 18.4h0m-6.6 7.6h0m-0.7 1.1h0m-2.9 -6h0m-2.5 2.7h0m16.1 1h0m-4 7.3h0m-3.1 -10.7h0m-2 11.7h0m8.2 -2.7h0m1 -14.8h0m-4.6 3.9h0m3.1 16.4h0m-3.2 -15.9h0m-11.3 2.6h0m14.8 11.9h0m-9.2 -28.2h0m-4.6 26.2h0m-1 -13.7h0m0.4 1.6h0m1.9 -15.8h0m5.1 13.4h0m3.2 1.6h0m-1 -14.2h0m4.7 20.6h0m-2.7 -18.4h0m-5.8 14.7h0m0.1 -4.6h0m0.7 15.8h0m9 -11.1h0m-3.1 -2.8h0m-7.2 4.2h0m3.4 5.5h0m3.3 -18.5h0m-8.6 15.5h0m10.1 -20.7h0m2.4 18.6h0m-4.1 -4h0m-6.4 12h0m4.6 -18.2h0m1.9 14.5h0m-5.7 -12.8h0m2 9.9h0m0.6 10.9h0m-4.9 -23.5h0m3.8 6.2h0m0.1 -19.9h0m4.8 12.3h0m0 7.2h0m1.4 5.8h0m-0.6 -1.7h0m-8.7 -0.1h0m-1.8 -4.5h0m6.4 17.2h0m-5.3 -5.9h0m5.7 -14.5h0m-0.2 10.5h0m3.4 7.6h0m-7 -24.9h0m-5.7 3h0m16 13.6h0m-6 -7h0m-1 7.4h0m-3.7 1.4h0m1.7 -10.7h0m4.8 -1.6h0m1.1 21.8h0m-8.7 -7.9h0m6.4 -2h0m-8.3 -7.1h0m5.5 -13.3h0m5 26.2h0m-12.6 -13.9h0m3.4 -4.9h0m1 -14.1h0m6 24.7h0m-7.4 3h0m10.6 10.8h0m-10.5 -20.8h0m-4.2 8.7h0m9.7 -16h0m-2.2 15.3h0m0.8 -1.8h0m-3.1 8.6h0m-3.3 -22.8h0m13.1 6.3h0m-3.1 -29h0m1.2 42.3h0m-8.1 -14.9h0m-1.4 6.1h0m-3.9 2h0m4.9 2.7h0m7.9 -4.8h0m-10.7 9.7h0m2.4 2.2h0m6.5 -14.1h0m2.6 3.1h0m-1.8 -0.2h0m-8.1 -23.8h0m10.6 30.6h0m-7.3 12h0m1.5 -6.8h0m-5.7 2h0m9.9 -9.6h0m-2.2 4.4h0m1.3 -11.6h0m-1.4 0.8h0m5.2 9.8h0m-5.1 -5.9h0m0.6 13.3h0m-3.3 -16.5h0m-4 10.2h0m7.9 -7.6h0m-3.6 16.3h0m-5.8 -22.6h0m0.8 15.4h0m10.4 -11.3h0m-3.6 -10.4h0m0.6 27.1h0m-7.8 -6.6h0m10.2 -24.5h0m-6.5 17.9h0m-4.9 -3.6h0m1.8 -11h0m4.8 14.1h0m0.9 -5.6h0m1.4 4.7h0m1.3 -4.2h0m0.8 9.2h0m-7.5 -22.5h0m1.5 29.6h0m10.8 -7.2h0m-0.3 -3.9h0m-12.7 4.9h0m7.6 -21.3h0m-0.1 7.4h0m1.2 23.7h0m3.1 -19.4h0m-10.4 16.2h0m-4.2 -12.5h0m13 2.5h0m-5 -25.5h0m-1 40.2h0m-6.1 -7.9h0m14 -10.6h0m-5.3 8.1h0m1.7 -9.2h0m-9.1 7h0m11 7.5h0m-5 -9.2h0m4.8 -10.5h0m2.6 3.2h0m-8.4 -20.3h0m-2.5 33.7h0m-1.1 6.5h0m1.3 -19.9h0m9.1 -2.4h0m-4.2 -3.7h0m2 27.5h0m-2.9 -19.2h0m-4 4.5h0m5.6 -4h0m-0.8 15.8h0m-8.7 -21.3h0m4.6 21.3h0m-5.8 -17.8h0m11.5 15.5h0m-0.5 -8h0m-3.3 1.3h0m-2.3 5.8h0m6.1 -16.8h0m-1 0.3h0m0.3 13h0m5.1 -2.8h0m-8.6 -39.1h0m-7.3 45.1h0m2 -29.6h0m1.1 25.7h0m-3.4 -1.7h0m10.3 3.9h0m-6.9 -7.9h0m2.9 3.7h0m-2 -0.3h0m0.5 3.5h0m10.8 -16.6h0m-0.2 15h0m-4.3 -14.9h0m3.4 13.3h0m-15.1 -7.6h0m9 12.7h0m3.2 -10.5h0m-1.3 1h0m-4.3 -10.4h0m-5.5 21.8h0m1.9 -8.7h0m6.4 -0.7h0m2.4 -3.4h0m-4.9 -6.7h0m-1.8 17.6h0m4.2 -19.2h0m-1 20h0m-6.7 -6.3h0m-0.1 1.9h0m7.9 -14.7h0m-1.3 20.1h0m3 -4.8h0m-5.6 -9.6h0m-1.9 -1.2h0m-1.3 6.2h0m9.4 -5.6h0m-8 -4.4h0m0.1 16.4h0m7.4 7.8h0m-10.3 -21.5h0m10.4 7h0m2.7 -8.3h0m-8.2 -9.5h0m6 5.5h0m-2.8 5.4h0m-0.9 15.7h0m6.7 -23.4h0m1.8 16.7h0m-14.6 -9.1h0m0.4 16.7h0m4.2 -24.2h0m1.3 28.3h0m6.8 -21.8h0m-7.6 11.4h0m-0.9 5.5h0m4.8 -9.7h0m-0.9 -4.8h0m-2 8.9h0m-2.1 9.7h0m0.1 -14.8h0m-1.8 -14.7h0m10 -6.8h0m2.7 23.8h0m-1.9 14.5h0m-7.5 -4.9h0m-3.9 -2.4h0m10 4.7h0m-8.7 -19.9h0m8.7 21.2h0m-4.7 -9.5h0m-1.4 2.1h0m-6.2 0.6h0m2 -5.6h0m13.3 2.1h0m-10.3 -17.6h0m3.1 7.8h0m4.4 14.9h0m-7.9 -10.8h0m2.4 -3.1h0m2 -6.1h0m-8.9 8.7h0m11.2 -0.1h0m1.2 -8.8h0m-7.9 15.5h0m-1.3 -2.1h0m-1.8 -3.7h0m2.9 -5.9h0m-6.2 6.7h0m3.9 -9h0m10.7 21.8h0m-11.2 -27.8h0m4.5 0.3h0m3.5 3.6h0m-6 -5.4h0m6.4 -8.5h0m-2.6 15.7h0m7.7 7.9h0m-10 -14.9h0m-1.4 0.4h0m3.6 3.8h0m3.7 7.5h0m-11.1 -1.2h0m1.4 17.4h0m9.1 -13.4h0m-3.1 3.7h0m-5 -16h0m11.8 6h0m-0.8 10.3h0m-4.1 0.9h0m-0.8 -13.6h0m-9.2 4.6h0m13.1 16.6h0m-0.3 -15h0m-12.9 4.3h0m1.6 -4.9h0m10.1 13.6h0m-2.6 -15.9h0m-7.4 -6h0m8.2 -0.5h0m-5 26.5h0m1 -4.4h0m0.4 -2.9h0m7.2 7.4h0m-9 0.9h0m-0.4 -25h0m9.5 -0.7h0m-6.6 4.5h0m8.8 11.1h0m-10.2 9.7h0m-6.1 -15.1h0m4.1 10.1h0m2 -4h0m9 -4.5h0m-9.3 11.4h0m-5 -8.7h0m2.1 14.3h0m1.4 -3.1h0m-0.7 -0.8h0m10 -20.4h0m-12.5 0.2h0m6.1 15.6h0m4.8 -25h0m2.5 17.5h0m-6.5 -8.4h0m-7.9 12.9h0m15.1 -2.8h0m-0.6 1.8h0m-8.6 -1.7h0m5.3 8.2h0m-9.4 -12.6h0m12.7 -14.5h0m-5.6 30.7h0m3.4 -22.1h0m2.9 2.2h0m-4.1 9.6h0m-8.3 -14.6h0m7.9 6.8h0m2.9 5.3h0m-5.4 -5h0m3.9 1.6h0m2.3 12h0m-8.4 -11.4h0m-2 2.2h0m-0.3 6.2h0m8.2 -0.9h0m-4.5 -17.5h0m4.2 20.6h0m4.7 -15.5h0m-4.1 2.6h0m-10.3 4.2h0m9 -10.3h0m-1.6 9.6h0m6.2 -7.2h0m-12 24h0m9.5 -17.7h0m-3.5 -3.3h0m-0.6 7.2h0m-2.5 11.3h0m7.1 -8.8h0m-5.8 -15.9h0m-3.5 10.3h0m6.7 -10.3h0m0.8 -21.9h0m-7.5 15.5h0m5.6 -10.1h0m-1.2 34h0m4.5 -6.1h0m0.8 -17.5h0m-5.7 4.8h0m-7 9h0m13.1 9h0m-13.2 -4.7h0m7.8 -5.7h0m0.4 -44.9h0m9.9 53.6h0m13 -37.9h0m1.5 23.4h0m-10.9 -37h0m10.9 42.8h0m-2.7 -24.3h0m-0.6 0.2h0m-3.8 16.1h0m-2 11.4h0m-5.6 1h0m5.8 -3.5h0m-2.9 -10.5h0m6.7 -8.7h0m1.1 27.3h0m-7.8 -33.1h0m-1.5 30.3h0m7.8 5.8h0m-5.4 -27h0m11.3 -2.9h0m-3.2 -10.7h0m-1.9 24.2h0m-3.2 -4.1h0m1 -4.6h0m4.4 -30.5h0m-4.9 29h0m6.5 23.2h0m2.6 -21.9h0m-4 -6.6h0m-0.1 6.6h0m-3.2 -8.1h0m0.5 19.6h0m0.8 -12.4h0m1 15.4h0m-7.7 -9.2h0m-3.7 1.3h0m6.8 15.4h0m6.7 -4.6h0m-6.4 -26.3h0m-4.2 40.2h0m0 -26.2h0m-1.6 9.1h0m5.9 -1.9h0m2.9 5.6h0m-8.1 -39.4h0m13.2 25.2h0m-6.9 6.5h0m6.8 -0.6h0m-8.6 -13.3h0m-5.4 15.3h0m1.6 -27.2h0m7.2 21.9h0m2.1 7.4h0m-4.9 1.9h0m8.4 1.2h0m-8.5 -18.5h0m-7 0.9h0m12.5 -15h0m-0.4 26h0m-10.7 -26.8h0m14.9 24.9h0m-3.1 -28.5h0m-11.8 28.5h0m12 -32.4h0m-10.9 26.7h0m2.7 -17.8h0m4.9 10.6h0m0 22h0m0 -5.1h0m-1.8 -9.1h0m1.2 -4.9h0m-5.8 -8.5h0m1.8 -4.9h0m-3.8 16.1h0m8.6 1.3h0m-5.2 -0.1h0m5.2 26.5h0m3.8 -24.1h0m-2.1 -29.7h0m-8.7 22.7h0m7.9 -0.3h0m-2.6 -13.2h0m-6.5 -6h0m2.7 28.3h0m9.4 19.7h0m-1.7 -46.9h0m1.5 5.5h0m-10.5 21.9h0m4.1 1.1h0m-5.3 -16.2h0m1.1 -9.7h0m6.1 25.2h0m-8.8 -24.6h0m12.4 29.2h0m-14 -10.1h0m3 -25.2h0m10.3 21.7h0m1.7 0.4h0m1.8 7.1h0m-10 13.8h0m-0.8 -32.2h0m4.7 -12.5h0m0.4 30.4h0m1.4 -19.1h0m-10.4 13.9h0m0.1 -4.8h0m13 26.7h0m-2.4 -42.7h0m-1.6 23.8h0m3.6 -7.7h0m-6.3 7.7h0m-1.8 -7.6h0m6 23.6h0m-11.6 -0.9h0m5.2 10.6h0m3.2 -33.7h0m3.5 20.3h0m0.2 5h0m-12.4 -25.9h0m3.4 1.4h0m-2.1 28.7h0m10.9 7.5h0m0.9 -32.9h0m-1.6 -6.7h0m-3.4 -3.9h0m-8.5 19.4h0m12.3 -8.5h0m-5.2 -8h0m2.4 14.3h0m4.6 -16.5h0m-9.6 5.7h0m8 19.9h0m-4.4 -4.7h0m5 -7h0m-0.4 17.7h0m-7.3 -11.2h0m10.7 8.1h0m-13.9 -28h0m3.3 15h0m-3.2 -9.4h0m-2.3 1.1h0m11.4 -20.1h0m1.6 52h0m-10.4 -39.6h0m7.8 0.4h0m-1.7 11.4h0m-1.6 2.5h0m-5.9 -3.3h0m8.5 15.1h0m-3.2 -21.2h0m0.2 1.4h0m5 -4.7h0m4.3 -2.3h0m-14.2 3.9h0m3.8 32.8h0m9.6 -20.6h0m-3.4 27.1h0m-3.8 -39.3h0m8.2 13.7h0m-3 7.1h0m-2.5 -8h0m-10.6 -6.9h0m2.1 5.6h0m-1.6 10.3h0m1.9 -21.6h0m-0.1 32.9h0m-1.5 -13.8h0m15.7 -4.3h0m-13.5 -4.5h0m2.9 15.6h0m2.6 -7.5h0m-3.5 -8.6h0m0.4 -6.2h0m7.8 24h0m-1 -35.2h0m-8.7 15.7h0m7 7.8h0m-6.8 -0.5h0m-0.4 -19.3h0m-2.9 5.5h0m11.2 13.9h0m-3.9 -17.3h0m6.6 0h0m-8.2 12.9h0m-3.3 20.7h0m-0.9 -26.6h0m4.4 15.6h0m10.1 -5.5h0m0.4 -4.5h0m-7 -2.9h0m4.2 17.4h0m-7.9 -32.1h0m-5.2 28.8h0m1.7 -30.6h0m0.9 9.9h0m1.2 4.4h0m2.6 -13.4h0m4.5 -8.8h0m2.2 21.9h0m-13 4.2h0m-0.1 -8.4h0m-1.1 16.6h0m12.9 18.8h0m1.6 -21.3h0m-5.2 -17.6h0m7.6 14.6h0m-12.8 1.6h0m11.6 0.9h0m-11.5 7.6h0m12.9 -14.8h0m-8.3 -11h0m-6.4 20.5h0m9.3 -4.4h0m3.2 -11.4h0m-6.1 8.8h0m3 2.2h0m-3.3 19.2h0m-5.5 -45.4h0m2.9 34.2h0m10.5 -19.5h0m-4.9 -10h0m-9 19.8h0m6.9 -27.4h0m-0.9 40.9h0m7.1 7.9h0m-13.1 -6.3h0m0.1 -22.3h0m11.2 8.5h0m-6.5 -4h0m-4.2 29.2h0m8.9 -7.8h0m-10.6 -39.3h0m14.6 23.1h0m-2.3 11.1h0m-5.7 0.2h0m2.7 -24.7h0m-11 13.9h0m17 -11.7h0m-5.2 -1.1h0m2.4 29.4h0m2.3 -18.9h0m0.2 5.7h0m-10.6 -4.6h0m3.3 -17.5h0m5.9 19.6h0m-14 -20.8h0m15.9 25h0m-15.4 -5.1h0m9.7 11h0m-2.5 -24.9h0m2.9 24.2h0m3.2 -2.3h0m1.1 -12.8h0m-1 7h0m-0.2 -8.2h0m-2.2 6.4h0m-0.4 -35.5h0m0.1 23.5h0m-2.2 24.6h0m2.3 -23.8h0m1.4 -18.7h0m-2.4 42.5h0m0.7 -39.7h0m-3.9 19.5h0m-2.9 4.3h0m4.4 22h0m-9.5 -15.2h0m9.3 -9.5h0m-8.4 1.6h0m2.9 21.6h0m-2.4 6.3h0m12.7 -34.5h0m-5.5 11.1h0m4.5 4.8h0m-4.1 -2.4h0m4.7 6.5h0m-6.3 -12.4h0m-3.4 16.8h0m9.1 -22.9h0m1.4 3.4h0m-1.1 6.8h0m-0.4 13.7h0m-8.7 -9.6h0m-0.5 -8.4h0m3.3 -15.9h0m-7.3 22.3h0m0.8 -7.5h0m3 -16.6h0m9.6 25.1h0m3.2 -12.8h0m-0.3 -1.1h0m-16.4 5.6h0m4.5 -17h0m6.9 35.7h0m4.4 5.1h0m-1.7 -28.8h0m-3.2 -6.7h0m-3 20.3h0m2 -11.4h0m1 -9.1h0m2.3 24h0m-5.2 -34.9h0m1.2 40.6h0m-3 -21.3h0m6.8 7.6h0m2.3 -10.5h0m-3.7 16.6h0m-11.6 -6.3h0m12.1 11.1h0m-11.1 -22.2h0m3.9 23h0m-3.4 -9.4h0m13.8 5.5h0m-10.9 -25.5h0m7.4 21.3h0m-2.6 -67.1h0m2.6 37.1h0m-8.7 1.9h0m-0.7 -1.8h0m8.4 28.7h0m-8.8 -28.5h0m5.6 6.8h0m-1.6 9.3h0m5.7 -4.9h0m2.3 16.1h0m-2.7 -2.3h0m-8.4 -0.1h0m10.4 23.9h0m4 -26.1h0m-8.2 20.3h0m-7.3 -19.8h0m2 2.9h0m1.3 -37.2h0m1.7 51h0m3.7 -39.2h0m-5 33.1h0m7.5 -10h0m-7.6 -15.5h0m8.7 19.5h0m-7.6 -0.7h0m2 -4h0m-6.4 -10.4h0m6 4.5h0m-0.7 31.1h0m7.7 -29.3h0m-9.1 15.7h0m10.9 -14.2h0m-16.1 18.6h0m8 -35.6h0m-1.1 39.1h0m1.7 -10.4h0m-3.8 -14.1h0m-2.6 -3.9h0m4.5 -0.9h0m-5 18.9h0m10.9 10.1h0m-10.9 -15.6h0m5.4 -21.8h0m3.1 35.6h0m-8.4 5h0m12.2 -19.1h0m-7.9 -2.6h0m0.7 -9.5h0m9.1 -3.7h0m-3.5 21.8h0m-6.2 -4.5h0m2.5 -52.1h0m-3.7 18.8h0m8.3 35.1h0m-12.6 -9.7h0m6.3 2.2h0m5.9 -4.4h0m-6.6 4.2h0m7.3 -5.6h0m-7.4 15.1h0m3 7.4h0m1.9 10.3h0m2.4 -50.7h0m-1.7 11.1h0m-5.5 24.1h0m-4.8 11.4h0m10.5 -7.8h0m-0.5 3.1h0m-4.4 -32.1h0m3 29.1h0m-10.4 -16h0m2.7 -26.1h0m7.9 9.8h0m5.4 27.9h0m-3.3 -21.3h0m0.1 28.9h0m3.1 -7.1h0m-11.3 -30.2h0m1.6 19.9h0m-1.2 0.5h0m-1.5 17.1h0m-1.1 -33.3h0m3.9 21.9h0m6.1 -9.8h0m-0.4 -12.6h0m-7.2 5.8h0m9.2 9.8h0m-5.3 17.1h0m-1.8 -19.2h0m-0.7 -3.4h0m0.5 -32h0m-2.6 26.6h0m3 29.7h0m8 -29.3h0m-9.7 -2.3h0m8.7 8.9h0m-5.6 -0.5h0m-3 -22.1h0m10.9 19.8h0m-16.7 0.7h0m9.1 25h0m4.5 -18.4h0m-0.3 3.1h0m-7.4 -28.5h0m2.8 48.5h0m-1.8 2.8h0m-3.1 -34.8h0m11.9 -3.8h0m-4.5 8.4h0m-2.5 10.9h0m5.2 -3.1h0m2 -0.1h0m-7.2 -18.8h0m5.8 1.8h0m-2.2 -13.7h0m-10.4 9h0m6 43h0m-3.3 -48.5h0m11.7 29.2h0m-1.9 -16h0m-7.4 19.7h0m7.5 -15.9h0m-10.5 0.7h0m-1.3 -13h0m9.5 8.5h0m-8.3 17.1h0m-1 -5.9h0m4.8 -0.3h0m3.8 -20h0m1.6 39h0m-5.2 -33.1h0m4.9 32.2h0m-8.7 -37h0m4.7 -3.2h0m7.4 11.9h0m-14.8 -10h0m0.9 16.6h0m9.1 16.8h0m-0.5 3.7h0m-2.6 -15.9h0m0 11.2h0m-6.3 -31.2h0m4.6 26.1h0m6.2 -17.1h0m1.4 11.3h0m1.3 -7.5h0m-14.2 -2.5h0m3 30.3h0m4.9 -27.1h0m-5.1 -29.7h0m-0.3 34.3h0m-1.3 -24.4h0m8.7 54.1h0m-1.4 -21.4h0m-7.6 -10.6h0m5.3 16.1h0m7 -24.3h0m-1.7 12.6h0m-8 6.6h0m2.9 -21.1h0m-5.3 -2.7h0m13 8.8h0m-13.2 -4.3h0m9.4 -24.1h0m-10.9 45h0m13.5 -22.3h0m-5.6 -67.7h0m14 32.6h0m8.6 -45.3h0m1.1 34.8h0m-2.1 21.9h0m-2.7 -13.3h0m-3 -23h0m3.6 58.3h0m0.5 -0.3h0m-6.4 -81.3h0m0.7 64.1h0m0.2 12.1h0m-0.1 -8.2h0m3.6 -4.8h0m-5.5 -25.5h0m10.3 37.7h0m-10.7 -27.5h0m8.2 10.5h0m-4.1 11.8h0m2.8 15.8h0m-2.2 -17.6h0m4.2 11.6h0m-5.4 -53.5h0m1.1 -18.5h0m-0.5 35h0m-4.2 5.4h0m8.8 4.3h0m-1.4 21.8h0m-0.1 -26.2h0m-1.9 -5.7h0m0.1 -11.3h0m-4.9 51.5h0m4.2 -41.1h0m-0.6 37.8h0m2.7 -34.2h0m5.1 5.1h0m-12 -18.3h0m8.3 27.8h0m-2.3 2.2h0m-2.3 -46.5h0m2.7 48.6h0m5.5 -47.8h0m-1 31.5h0m-7.7 -6.1h0m8.6 21.3h0m-3.8 -24.9h0m3.4 40.3h0m-6.8 -33.8h0m-2.5 44h0m1.3 -34.9h0m6.6 -40h0m-7.3 53.2h0m7.8 -34.1h0m-10.3 23h0m9 -42.7h0m0.9 33.4h0m1.3 40.8h0m-1.6 11.3h0m3.5 -47.8h0m-10.6 -46.8h0m3.2 20.1h0m-1 -31.6h0m19.2 42.2h0m2.9 49.4h0m0.2 -58.9h0m3.5 23.6h0m0.2 -10.9h0m-10.9 15.5h0m8.4 10.2h0m-1.3 -27.6h0m-4.8 42.6h0m-1.6 -57.2h0m-0.2 22.5h0m8.4 -3h0m-4.1 -0.5h0m1.2 -40.1h0m-3.1 29.9h0m7.6 -4.5h0m0.4 4.8h0m-4.6 17h0m-2.8 -22.7h0m-2.8 54.5h0m3.7 -16.7h0m-3.3 -17.2h0m8.2 -16.7h0m2.2 -7.7h0m-6.7 46.7h0m3.8 -30h0m-5.1 31.4h0m0.9 -25.4h0m-1.3 0.9h0m7 17h0m-5.6 -52.2h0m4 41.8h0m0.1 -10h0m-1.4 -27.3h0m-3.8 59.9h0m4.5 -47.2h0m2.6 29.2h0m-0.7 -44.2h0m-8 4h0m8.1 18.8h0m-6.7 -54.7h0m19.7 144.6h0m5.4 0.9h0m-11.6 -3.2h0m5.5 -17.1h0m3.4 -8.8h0m-7.2 11.2h0m1.8 12.9h0m-1.8 -13h0m1.3 -23.6h0m-1.7 7.5h0m1.5 23.9h0m-2.3 -18.6h0m7.4 -9.7h0m2.1 23.4h0m-0.7 3.7h0m-7.1 5.3h0m10.5 -10.1h0m-5.7 -2.8h0m3.1 -0.9h0m-1.1 11.4h0m1.1 -8.3h0m0.9 -0.9h0m-0.6 -7.9h0m-7.6 -3.1h0m0.5 15.3h0m10.2 13.8h0m-11.3 -30.3h0m3.3 14.4h0m6.8 1.8h0m-8 13.7h0m-0.1 -8.3h0m1 -13.7h0m-6.4 10.5h0m0.6 -11.2h0m4.5 12.2h0m5.8 -2.8h0m1.3 -0.3h0m-7.5 -1h0m2.7 -4.7h0m1.8 15.3h0m-6.1 -4.3h0m8.5 -13.6h0m-3.8 18.8h0m-3.7 -14.7h0m8.4 16.3h0m-7.7 -5.8h0m-0.9 4h0m6.8 -1h0m-8 -3.4h0m5.4 -6.2h0m3.7 -2h0m-9.6 9.6h0m6.2 4.3h0m-5.8 -18h0m12.2 19.4h0m-6.2 -26.5h0m-3.4 14.5h0m2.2 -18.5h0m-5.3 15.3h0m3 15.1h0m-2.5 -23.9h0m-0.8 -1.3h0m-1.1 10.2h0m3.4 -4h0m0.9 1.3h0m7.3 6.3h0m-2.9 7.8h0m3.4 -16.5h0m1 16.8h0m-4.2 0.4h0m-7.3 -26.8h0m5 -1.1h0m7.8 25.4h0m-9.6 -8.1h0m7 8.5h0m-10 -12.2h0m1.1 7.7h0m11 -1.8h0m-2.9 -17.6h0m3 12.9h0m-7.4 -7.7h0m-1 -16.1h0m-2.1 10.7h0m9.5 29.5h0m-3.1 -39.5h0m-4.7 20.2h0m9.6 13.7h0m-14.4 -11h0m3 -11.9h0m10.1 15.2h0m-6.5 8.8h0m1.1 -8.2h0m6.7 -6.2h0m-3.5 8.2h0m-0.8 -2.9h0m-3.7 -13.3h0m0.8 21.3h0m-2.3 -16.2h0m7.3 3.8h0m-1.4 -7.1h0m-4.5 -19.5h0m-3.5 37.7h0m-2.2 -22.6h0m12.5 22.7h0m-7.7 -11.8h0m-0.1 -15.3h0m-4.2 14.5h0m4.1 9h0m-4.1 2h0m8.5 -3.8h0m3.8 3.5h0m-12.8 -7.5h0m-0.3 -6.6h0m3 17.4h0m-3 -7.7h0m7.3 4.8h0m-4.9 -2.2h0m-0.7 -25.7h0m8 36.2h0m-6.8 -11.1h0m5.5 -65h0m23.5 41.5h0m-10.8 15.3h0m9.3 -1.1h0m-10.5 -15.1h0m3.6 -30h0m0.1 28.2h0m6.1 37.9h0m0.1 -79.6h0m-12 59.2h0m6.4 -9.9h0m-0.8 -18.5h0m0.9 31.7h0m4.2 -42.5h0m-10.1 34.9h0m5.9 -22.2h0m1.9 39.2h0m0 -7.1h0m1.5 -24.5h0m-0.2 -35h0m-5.9 56.6h0m3.5 -36.6h0m-5.3 14.8h0m1.9 14.7h0m4.5 -27.5h0m4.2 -4.5h0m-10.5 17.2h0m10.3 -12.3h0m-7.5 14.2h0m8 -31h0m-5.5 30.2h0m-8 27.4h0m0.3 -7.3h0m10.3 11.5h0m-8.2 4.9h0m-0.1 -57.8h0m10.1 59.4h0m-7.6 0.2h0m11.2 -34.4h0m-0.7 3.1h0m-9.3 -25.7h0m-2.7 2.8h0m3.5 52.4h0m8.3 -45h0m-15.4 26.4h0m1.2 -6.4h0m8.6 -59.6h0m-1.1 52.2h0m0.4 -39.9h0m0.3 52.5h0m0.3 -12.1h0m1.4 -60.8h0m-5.5 61.5h0m7 15.9h0m-6.6 -25.8h0m3 40.5h0m-6 -49.9h0m2 -0.1h0m7.7 12.4h0m-4.7 -0.8h0m7.1 19.8h0m-8.4 -11.3h0m-3.9 -15.4h0m7.4 25.3h0m-2.5 -66.9h0m-0.8 74.6h0m-1.2 -37.9h0m8.2 -27.7h0m-13.7 68.1h0m9.9 -58.9h0m-10.2 42.7h0m10.3 2.9h0m4.5 5.2h0m-12.5 9.6h0m12.7 -7.1h0m-1.5 -0.8h0m-10.8 -36.7h0m11.2 8.2h0m-8.4 -19.8h0m10.5 8.5h0m-11.3 41.4h0m2.3 -1.1h0m-6 -28.8h0m4.6 1.8h0m9.6 -6.9h0m-2.7 0.8h0m3.2 18.7h0m-14.5 17h0m2.7 0.6h0m0.5 -28.2h0m2.8 36.4h0m2 -32.6h0m2.8 9.6h0m-11.4 11.9h0m15.2 -6.8h0m-15.4 -8h0m14.1 -3.4h0m-1 -43.7h0m2.6 54h0m-15.7 -16.9h0m2.6 -33.5h0m4.6 46.1h0m-6.1 -40.8h0m1.6 27.4h0m6.1 -1.4h0m5.5 7.3h0m-7.4 -31.1h0m-2.5 9.6h0m-0.4 29.1h0m-1.8 3.4h0m11.8 -39.9h0m-2.8 36.7h0m-9.1 -25.8h0m4.4 34.4h0m-1.1 -16.1h0m7.3 2.3h0m-10.7 24.7h0m14.1 -35.9h0m-12.3 25.2h0m-1.7 -13.4h0m10.6 9.1h0m0.2 -8.1h0m-3 -24.3h0m-10.2 39.5h0m13.5 1.9h0m-5.9 1.1h0m6.9 -9h0m-5 2.1h0m4.4 -28.6h0m-4.5 50.3h0m-7.7 -47h0m-1.2 15.3h0m9.3 26.1h0m-8.9 -19.3h0m1.5 8.4h0m-1.6 -13.2h0m8.3 0h0m-1.6 -10.9h0m2.6 27h0m-0.5 -2.2h0m-5.7 -15.5h0m1 -4.2h0m5.6 26.7h0m0.9 -26.9h0m-2.8 25.1h0m0.8 -62.5h0m-0.4 31.1h0m-6.5 21.6h0m11.7 -2.4h0m-4.5 -12.5h0m-2.2 21.5h0m7.3 -29.8h0m1.1 37.8h0m-9.3 -25.7h0m5.4 -2h0m-3.9 21.5h0m-4.1 5.6h0m3.4 -48.2h0m-0.4 48.8h0m0 5.2h0m7.3 -24.4h0m1.7 1.8h0m-10.1 -73.7h0m-0.6 33.6h0m-3.7 31.8h0m1.4 -7.9h0m8 6.7h0m-2.1 -17.5h0m1.9 -2.2h0m-1.6 22.5h0m-6 -23.5h0m10.7 32.8h0m-3.9 -28h0m0.8 -10.3h0m-6.7 33.6h0m5.7 -3h0m-2.5 5.7h0m0.2 -8.1h0m-4.7 -29.4h0m4.3 33.2h0m-6 -4.1h0m-0.8 -5.1h0m0.9 -22.9h0m11.7 57.9h0m-2.9 -29.6h0m2.3 -34.8h0m-6 -3.2h0m-3.6 41.1h0m7.2 -38.7h0m2 38.7h0m-4.1 -2.9h0m-5.2 -13.5h0m-2.8 8.5h0m6.9 -9.6h0m6 13.7h0m-8.2 -40.3h0m9.5 18.8h0m-1.5 -12.4h0m-9.3 61h0m5.6 -24.5h0m-0.9 -60.9h0m-5.4 17.8h0m8.4 57.4h0m-4.8 -60.9h0m3.2 63.4h0m-8.8 -14.7h0m10.3 -19.3h0m-1.8 -31.9h0m5.2 29.6h0m-6.5 12h0m2.7 14.6h0m4.4 -1.5h0m-0.7 7.4h0m-12 16.2h0m-0.5 -17.9h0m3.6 -5.7h0m0.7 14.5h0m-3.2 -44.2h0m12.3 8.1h0m-12.8 -27h0m2.8 39.6h0m8.2 -33.9h0m-0.5 53.1h0m-0.2 -32.9h0m3.5 30.9h0m-8.9 -25.8h0m7.8 -23.2h0m-5.3 54.3h0m5.8 -12.4h0m-4.6 3.1h0m-1.8 -44.7h0m-4.6 35.7h0m11.2 17.6h0m-6.1 -33.9h0m-0.1 20.2h0m-7.9 -21.6h0m10.1 -2.2h0m-8.7 11.4h0m4.7 23.8h0m1.8 2.4h0m5.3 -14.2h0m0.4 1.2h0m-4.8 -12h0m-8.4 -33.6h0m6.5 19.3h0m0.2 1.7h0m-7 33.2h0m2.1 -63.4h0m8.5 1.1h0m-6.2 13.6h0m9.8 6.7h0m-1.3 25.3h0m2.1 0.8h0m-13.4 -2.6h0m7.9 -7.2h0m-9.6 -4.6h0m14.3 19.6h0m-15.7 -1.6h0m12.6 -11.7h0m-9.9 18h0m11.8 -21.9h0m-11.7 -23.3h0m2.1 -1.1h0m-1.4 12.8h0m6.2 10h0m-3 20.7h0m-3.3 11.1h0m6 -37.9h0m-7.3 39.2h0m10.9 -7.1h0m-1.2 -0.8h0m-11.3 -30.6h0m3.9 27.9h0m-4 -28.8h0m11.5 6.2h0m-6.6 18.3h0m6.1 -23.3h0m-11.3 35.5h0m10.3 -39h0m-10.4 14.5h0m1.2 34.6h0m8.2 -49.4h0m5 -2.2h0m-8.7 1.7h0m0.4 42.6h0m-0.6 4.1h0m7.1 -20.9h0m-6 6h0m0.9 -72.2h0m-4.9 88.2h0m9.9 -44.8h0m-8.2 22.8h0m5 10.8h0m6.6 3.4h0m-0.9 -21.8h0m-7.5 -12.5h0m1.3 25.5h0m-8.1 21.2h0m8.2 -28h0m7 -8.7h0m-4.7 19.7h0m-3.6 -2.9h0m5.9 -16.5h0m2.1 12.2h0m-4.6 -24.7h0m1.6 14.9h0m1.3 25.4h0m-0.6 -34.6h0m-6.2 25.8h0m0 -36.7h0m-6.8 19h0m5.8 11.9h0m-4.4 -33h0m11.9 57.1h0m-4.6 -19.1h0m4 -2.2h0m-2.3 -40.4h0m-6.9 4.4h0m10.8 24.8h0m-6.5 14.1h0m0.9 -3.6h0m2.3 2.8h0m-3.9 8.5h0m8.5 -31.9h0m-1.6 12.2h0m-6.8 -15.2h0m-1.8 -12.1h0m1 26.4h0m3.6 26h0m-3.3 -9.6h0m0.8 5.5h0m6 -70.7h0m-13.8 57.6h0m15.9 -4.4h0m-13.5 8.9h0m-0.5 -6.7h0m9.5 -6.7h0m-6.7 14.4h0m11.2 -5.7h0m-8.8 -42.3h0m-5.1 59.4h0m5.8 -124.1h0m18.9 110.1h0m5 -12.8h0m2 -28.1h0m0 46h0m-3 5.2h0m13.6 -18h0m7 -12.8h0m-4 36.9h0m3 3.1h0" fill="none" stroke="#000" stroke-linecap="round" stroke-width="2.9"/><path d="M962.1 1066.5h17.2M980.7 1066.5h17.2M999.2 1066.5h17.2M1017.8 1066.5h17.2M1036.3 1066.5h17.2M1054.9 1066.5h17.2M1073.5 1066.5h17.2M1092.0 1066.5h17.2M1110.6 1066.5h17.2" stroke="#000" stroke-width="2.9"/>
<path d="M1183.9 905V1075.3H1355" fill="none" stroke="#000" stroke-width="1.3"/><path d="M1183.9 1067.3h-3.6M1183.9 1036.2h-3.6M1183.9 1005.1h-3.6M1183.9 974.0h-3.6M1183.9 942.9h-3.6M1183.9 911.8h-3.6M1195.8 1075.3v3.6M1214.7 1075.3v3.6M1233.6 1075.3v3.6M1252.5 1075.3v3.6M1271.4 1075.3v3.6M1290.3 1075.3v3.6M1309.2 1075.3v3.6M1328.1 1075.3v3.6M1347.0 1075.3v3.6" stroke="#000" stroke-width="1.2"/><g font-size="14.2"><text x="1176.4" y="1072.1" text-anchor="end">0</text><text x="1176.4" y="1041.0" text-anchor="end">0.5</text><text x="1176.4" y="1009.9" text-anchor="end">1.0</text><text x="1176.4" y="978.8" text-anchor="end">1.5</text><text x="1176.4" y="947.7" text-anchor="end">2.0</text><text x="1176.4" y="916.6" text-anchor="end">2.5</text><text x="1195.8" y="1094.1" text-anchor="middle">0</text><text x="1214.7" y="1094.1" text-anchor="middle">1</text><text x="1233.6" y="1094.1" text-anchor="middle">2</text><text x="1252.5" y="1094.1" text-anchor="middle">3</text><text x="1271.4" y="1094.1" text-anchor="middle">4</text><text x="1290.3" y="1094.1" text-anchor="middle">5</text><text x="1309.2" y="1094.1" text-anchor="middle">6</text><text x="1328.1" y="1094.1" text-anchor="middle">7</text><text x="1347.0" y="1094.1" text-anchor="middle">8</text></g><path d="M1195.8 1067.3V992.7M1214.7 1067.3V967.8M1233.6 1067.3V995.8M1252.5 1067.3V911.8M1271.4 1067.3V924.2M1290.3 1067.3V995.8M1309.2 1067.3V1026.9M1328.1 1067.3V1030.0M1347.0 1067.3V1023.8" stroke="#111" stroke-width="1.25"/><path d="M1201.3 1029.6h0m-8.1 -3.9h0m7.5 -9.3h0m1.8 8.4h0m-12.4 4.8h0m1.6 9.4h0m1.7 -16.7h0m-2.2 -2.9h0m4.3 5h0m-2.1 13.2h0m-3 -16.4h0m10.7 15.3h0m-4.2 -4.8h0m4.1 -11.5h0m-7.2 -0.6h0m1.1 1.7h0m-2.1 -6.2h0m9.7 11.4h0m-7.3 -4.9h0m1.2 22.9h0m-4.9 -27.2h0m1.3 31.3h0m0 -27.8h0m-2.3 15.9h0m7.4 -5.6h0m-7.5 3.6h0m6.9 4.5h0m1.4 -20.1h0m-1.3 0.3h0m0 -21.1h0m-2 20h0m0.9 27.2h0m-6 -17.2h0m8.2 -7.2h0m-9.1 8.4h0m0.4 -14.4h0m7.1 30.2h0m-7.4 -25.8h0m3.7 25.6h0m4.6 -23.6h0m-8.2 12.3h0m7.2 5.1h0m-1.3 -14.3h0m-6.3 1.9h0m2.8 3.4h0m-3.1 -10.2h0m3.4 -25.9h0m8.4 40.6h0m-7.2 10.4h0m-2.9 2.6h0m8.8 2.1h0m1.5 -31.9h0m-1.4 -24.7h0m-3.3 37.4h0m-1.7 10.4h0m-1.4 -12.4h0m4.9 6.8h0m-1.1 -32.5h0m1.1 19.9h0m-5.1 5.1h0m7.7 -15.1h0m-4.7 25.4h0m2.5 -33.4h0m-3 35.4h0m0.7 -10.9h0m-2.2 -0.6h0m4.2 -8.9h0m-2.4 -0.7h0m0.6 2.1h0m0.8 13.4h0m-6.5 -22.3h0m7.7 -13.5h0m-4.7 23.8h0m5.2 11.7h0m-1.8 -16h0m-3.1 -12.5h0m0.6 15.8h0m-0.4 4.1h0m1.9 -3h0m-0.5 -11.9h0m7.2 16.8h0m-4.6 -30.5h0m-1.6 18.8h0m1.3 26.9h0m-5.6 -3.3h0m7 -16.8h0m-7.3 6.1h0m6 -18.5h0m0.8 11.1h0m-3.4 -23.1h0m0.1 -5.3h0m13.3 -3.2h0m1 -3.1h0m7.9 57.3h0m0.7 2h0m-2.7 -9.3h0m3.4 9.8h0m-6.9 -15.2h0m-4 8.4h0m4.6 -5.4h0m6.2 11.5h0m-9.9 -13.4h0m7.9 3.2h0m-0.6 3.9h0m5.2 1.9h0m-6.8 -23.6h0m-6.3 14.6h0m7.2 -6.8h0m1.2 15.3h0m0.4 -4.6h0m-0.3 -3.7h0m-5.8 -0.8h0m4 0.2h0m-1.9 6.3h0m5.1 -1.5h0m-8.4 15.7h0m5.4 -10.4h0m2.3 -2.1h0m2.7 0.7h0m-4.8 4.4h0m-6.1 -3.2h0m1.3 1.1h0m8.6 -13h0m-7.7 16.3h0m2 -23.8h0m2.8 31.3h0m4.1 -24.1h0m-10 3.5h0m0.2 18h0m10 -2.7h0m-10.4 5.9h0m-1.1 -20h0m-1.2 0.7h0m1.7 -1.3h0m-0.6 -4.3h0m11.9 13.1h0m-7.7 5.8h0m-4.1 -5.6h0m6.6 5.6h0m-3.3 -23.2h0m5 18h0m0 -16.1h0m-4.9 25h0m4.6 -12h0m2.6 -6.9h0m0.6 5h0m0.1 -2h0m0.8 4h0m-6.6 -17.8h0m5.7 16.5h0m-6.1 6.7h0m2.2 -5.2h0m3 -5.3h0m-11 6.8h0m7.6 -5.5h0m5.5 4.8h0m-11.7 -7.4h0m0.6 -1.5h0m10.9 2.9h0m-9.7 12.3h0m8.7 -10.2h0m-10.6 5.9h0m1.7 -1.2h0m6.7 -13.3h0m-2.8 22.5h0m3 -3.5h0m-7 -0.3h0m7.8 -7.2h0m-7 9.3h0m0.2 -22.5h0m-3.3 13h0m10.4 -11h0m-8 -2.6h0m-0.7 14.5h0m1.8 -1.7h0m4.5 -6.5h0m-0.5 19.3h0m0.4 -5.5h0m2 -21.3h0m-1.8 6.7h0m-0.4 1.6h0m3.4 0.9h0m-9.3 11.4h0m6.6 -77.7h0m14.4 62.2h0m4.2 -1.3h0m1.3 -1.8h0m1.2 -3.1h0m1.4 -1.3h0m-8.1 -1.9h0m-3.3 -3.1h0m1.6 -3.1h0m6.2 -3.1h0m3 -9.3h0m-9.9 -6.2h0m9.1 29.2h0m1.3 -3.7h0m-10.7 8.7h0m21.3 -24.9h0m5 0h0m-8.8 -12.4h0m2.2 -3.2h0m1.9 -3.1h0m-3.5 -3.1h0m10.4 -3.1h0m-2.5 -3.1h0m-5.3 -3.1h0m4.3 -24.9h0m2.4 -6.2h0m-1.7 -6.2h0m-8.6 -6.2h0m1.8 -18.7h0m-0.4 0h0m9.8 80.9h0m11.9 -31.1h0m5 -21.8h0m-4 -9.3h0m5 -3.2h0m-2 -3.1h0m12.9 71.6h0m1.5 37.7h0m6 8h0m-5.3 -3.9h0m7.9 -1.2h0m-9.3 9.4h0m9.4 -6.5h0m-1.6 2.2h0m-10.7 3.8h0m5.6 -9.9h0m-5.6 1.3h0m4.3 -6.3h0m2.5 -3.8h0m1.9 5.2h0m-7.7 7.7h0m0.8 -12.2h0m1.5 -0.7h0m0.8 11.2h0m5.4 9.2h0m-1 -12.7h0m1.4 -6.9h0m1 15h0m0.8 -8.4h0m-4.4 -38.2h0m16 31.1h0m5.9 6.2h0m-1.3 6.2h0m-0.8 3.1h0m-6.7 6.2h0m3 3.2h0m22.5 -21.8h0m4 -1.3h0m-5 4.4h0m13.9 -9.3h0m5 3.1h0m0 18.6h0" fill="none" stroke="#000" stroke-linecap="round" stroke-width="2.9"/><path d="M1187.2 1067.3h17.2M1206.1 1067.3h17.2M1225.0 1067.3h17.2M1243.9 1067.3h17.2M1262.8 1067.3h17.2M1281.7 1067.3h17.2M1300.6 1067.3h17.2M1319.5 1067.3h17.2M1338.4 1067.3h17.2" stroke="#000" stroke-width="2.9"/>
<path d="M1401.4 905V1075.3H1572" fill="none" stroke="#000" stroke-width="1.3"/><path d="M1401.4 1067.6h-3.6M1401.4 1027.9h-3.6M1401.4 988.2h-3.6M1401.4 948.5h-3.6M1401.4 908.8h-3.6M1413.0 1075.3v3.6M1431.5 1075.3v3.6M1450.0 1075.3v3.6M1468.5 1075.3v3.6M1487.0 1075.3v3.6M1505.5 1075.3v3.6M1524.0 1075.3v3.6M1542.5 1075.3v3.6M1561.0 1075.3v3.6" stroke="#000" stroke-width="1.2"/><g font-size="14.2"><text x="1393.9" y="1072.4" text-anchor="end">0</text><text x="1393.9" y="1032.7" text-anchor="end">1</text><text x="1393.9" y="993.0" text-anchor="end">2</text><text x="1393.9" y="953.3" text-anchor="end">3</text><text x="1393.9" y="913.6" text-anchor="end">4</text><text x="1413.0" y="1094.1" text-anchor="middle">0</text><text x="1431.5" y="1094.1" text-anchor="middle">1</text><text x="1450.0" y="1094.1" text-anchor="middle">2</text><text x="1468.5" y="1094.1" text-anchor="middle">3</text><text x="1487.0" y="1094.1" text-anchor="middle">4</text><text x="1505.5" y="1094.1" text-anchor="middle">5</text><text x="1524.0" y="1094.1" text-anchor="middle">6</text><text x="1542.5" y="1094.1" text-anchor="middle">7</text><text x="1561.0" y="1094.1" text-anchor="middle">8</text></g><path d="M1413.0 1067.6V1027.9M1431.5 1067.6V924.7M1450.0 1067.6V1033.9M1468.5 1067.6V982.2M1505.5 1067.6V910.8M1524.0 1067.6V1037.8" stroke="#111" stroke-width="1.25"/><path d="M1413 1027.9h0m3 0h0m2 2h0m-1 21.8h0m17.5 -127h0m-5 11.9h0m9 33.7h0m-2 17.9h0m-4 35.7h0m-5 10h0m-2 3.9h0m4 2h0m4 6h0m1 13.9h0m16.5 -25.8h0m-6 13.9h0m30.5 -65.6h0m34 -71.4h0m-5 113.1h0m19.5 13.9h0" fill="none" stroke="#000" stroke-linecap="round" stroke-width="2.9"/><path d="M1404.4 1067.6h17.2M1422.9 1067.6h17.2M1441.4 1067.6h17.2M1459.9 1067.6h17.2M1478.4 1067.6h17.2M1496.9 1067.6h17.2M1515.4 1067.6h17.2M1533.9 1067.6h17.2M1552.4 1067.6h17.2" stroke="#000" stroke-width="2.9"/>
<path d="M968.2 1437.8V1606H1134.4" fill="none" stroke="#000" stroke-width="1.3"/><path d="M968.2 1598.2h-3.6M968.2 1563.0h-3.6M968.2 1527.8h-3.6M968.2 1492.6h-3.6M968.2 1457.4h-3.6M978.6 1606v3.6M996.8 1606v3.6M1015.0 1606v3.6M1033.2 1606v3.6M1051.4 1606v3.6M1069.6 1606v3.6M1087.8 1606v3.6M1106.0 1606v3.6M1124.2 1606v3.6" stroke="#000" stroke-width="1.2"/><g font-size="14.2"><text x="960.7" y="1603.0" text-anchor="end">0</text><text x="960.7" y="1567.8" text-anchor="end">1</text><text x="960.7" y="1532.6" text-anchor="end">2</text><text x="960.7" y="1497.4" text-anchor="end">3</text><text x="960.7" y="1462.2" text-anchor="end">4</text><text x="978.6" y="1628.1" text-anchor="middle">0</text><text x="996.8" y="1628.1" text-anchor="middle">1</text><text x="1015.0" y="1628.1" text-anchor="middle">2</text><text x="1033.2" y="1628.1" text-anchor="middle">3</text><text x="1051.4" y="1628.1" text-anchor="middle">4</text><text x="1069.6" y="1628.1" text-anchor="middle">5</text><text x="1087.8" y="1628.1" text-anchor="middle">6</text><text x="1106.0" y="1628.1" text-anchor="middle">7</text><text x="1124.2" y="1628.1" text-anchor="middle">8</text></g><path d="M978.6 1598.2V1524.3M996.8 1598.2V1561.2M1015.0 1598.2V1506.7M1033.2 1598.2V1503.2M1051.4 1598.2V1482.0M1069.6 1598.2V1513.7M1087.8 1598.2V1446.8M1106.0 1598.2V1554.2M1124.2 1598.2V1577.1" stroke="#111" stroke-width="1.25"/><path d="M1006.6 1598.2L1015.1 1591.7L1023.6 1598.2Z" fill="#ee7711" stroke="#000" stroke-width=".8"/><path d="M1079.8 1598.2c0 -6 3 -11 8.2 -13.5c5.2 2.5 8.2 7.5 8.2 13.5z" fill="#ee82ee" stroke="#000" stroke-width=".8"/><path d="M983.2 1577.7h0m2.2 -3.9h0m-10.2 -9.4h0m-1.9 8h0m-2.2 2.1h0m2.7 -11.9h0m10.6 6.7h0m-0.5 -15.7h0m-1.5 16h0m2.7 -10.4h0m-4.8 10.9h0m4.6 8.7h0m-9.4 1h0m-3.4 -23.2h0m1 12.9h0m8.1 -8.7h0m4.9 12.5h0m-10.2 -16h0m5.5 8.3h0m3.8 -1.3h0m-8.7 1.7h0m-1.3 12.6h0m-1.9 -20.2h0m2 15.2h0m7.3 -4h0m-5.8 -16.5h0m6.6 8.9h0m-2.5 18.9h0m-5.8 -23.5h0m8.5 10.7h0m-5.4 -4.4h0m3.6 -2h0m-6.5 21.6h0m3.5 -20.7h0m5.1 10.8h0m-6.5 -11.6h0m-0.3 -3.4h0m7.2 12.5h0m-3.5 8h0m-3.4 -22.3h0m7.4 20.3h0m-5.4 -10.5h0m-4.4 10.7h0m8.3 -14.4h0m-4 2.3h0m-1.1 4.6h0m5.5 -2.9h0m-7 -6.5h0m1.1 3.1h0m3 0.3h0m0.4 -39.3h0m15.8 54.5h0m3 3.3h0m0 5.5h0m-9 -10.6h0m5.6 3.1h0m5.2 0h0m-1.6 2h0m0.1 -7.6h0m-5.3 7.3h0m-5.6 -3.9h0m14 3.9h0m-3.1 -2.4h0m-6 -0.5h0m-2.8 2.6h0m6.5 -5.3h0m5.2 5.1h0m-9.3 -2.8h0m-3.5 0.9h0m2.1 -1.2h0m9.1 3.5h0m-8.3 7h0m-2.9 -6.2h0m3.1 -2.6h0m0.3 3.1h0m6.8 -7h0m2.6 3.9h0m-1.3 1.3h0m-3.9 0.8h0m0 -20.8h0m19.9 -42.4h0m-7.8 35.3h0m0.4 -2.7h0m7.6 -18.4h0m2.2 34.6h0m-0.3 19.8h0m-12.8 -36.1h0m3 22.4h0m1.2 -5.1h0m5.1 -26.9h0m0.9 34.4h0m-1.8 -3.7h0m5.3 -1.2h0m1.4 -7.4h0m-15.8 -2.5h0m11.7 16.5h0m-6.2 -19h0m0.2 18.3h0m-3.1 8.7h0m5.9 -16.3h0m5.6 -8.6h0m-8.4 -0.7h0m-1.9 -15.1h0m9.7 -2.7h0m-12.6 17.8h0m2.4 -23.7h0m12.7 29.7h0m-1.6 -10.3h0m-6.9 22.5h0m-2.7 -38.5h0m8.6 34.8h0m0 5.5h0m-9.9 0.5h0m-0.8 -33.3h0m11.6 25.4h0m-4.9 -16.8h0m-5.4 30.4h0m10.4 -23.9h0m-2 5.5h0m4.5 -0.6h0m-16 -17.4h0m10.4 6h0m1.7 -23.9h0m-7.5 19.5h0m8.5 28.2h0m-7.9 -26.6h0m3.2 -34.4h0m0.5 32.6h0m-1.1 11h0m1.3 10.9h0m-9.9 -13.1h0m12.8 -12.1h0m-12.7 19.5h0m3.7 -18.4h0m1.5 16.5h0m-3.1 4.9h0m1.2 14.1h0m0 -54h0m1.6 22h0m5.3 -12.6h0m-9 19.4h0m0 19.7h0m11.7 -18.5h0m2.8 -6.5h0m-5 9h0m0.8 0.3h0m2.7 -11.9h0m-9.9 24.5h0m0.1 -29.8h0m4.1 -2h0m5.4 6.2h0m-11 6.5h0m11.6 -6.1h0m-12.2 -15.4h0m12.6 30.6h0m-10.4 12.7h0m4.3 -16h0m4.7 -8.9h0m1.9 15h0m-8.7 -31.1h0m-0.9 11.9h0m3.7 9.3h0m3.5 -12.7h0m-0.7 37.6h0m-6.5 -28.3h0m-5.9 6.2h0m4.7 23.7h0m-2.2 -27.5h0m12.1 14.2h0m-6.5 -3.6h0m2.1 2h0m3 3.2h0m-6.2 -9.8h0m6.1 -1.3h0m2.2 -12h0m-6.9 -5.8h0m3 12.7h0m-2.6 0.7h0m-7.9 0.1h0m4.5 -22.6h0m6 2.7h0m-7.1 13h0m-0.7 29.5h0m4.1 -4h0m1.7 -41.7h0m-8.1 19.2h0m7 -9.4h0m5.1 -10.1h0m-7.5 17h0m4.8 -2.8h0m-0.7 18.6h0m-8.3 -8.4h0m5.6 -10.3h0m-1.9 13.3h0m-1.5 22.3h0m-0.3 -44h0m-1.7 26.2h0m5.8 -25.6h0m0.4 10h0m-1.8 -0.8h0m6 24h0m1.7 -19.5h0m-4.8 -15.9h0m-3.4 0.9h0m-2.6 19.7h0m-0.1 -13.9h0m10.9 25.2h0m-10.7 -32.3h0m6 35.1h0m-7.3 -11.6h0m13.2 22.9h0m-4.7 -3.2h0m0.7 -27.3h0m-5.8 20h0m4.2 11.3h0m-6.4 -28.8h0m10.4 22.9h0m-4.1 -15.2h0m2.5 6.9h0m3.2 -7.9h0m-14.4 9.1h0m4.1 -18.3h0m2.6 3.8h0m5.2 12.2h0m-6.7 -15h0m2.6 0.9h0m1 30.5h0m-1.9 -31.1h0m6.7 9.7h0m-5.9 -19.9h0m-2.8 -6.5h0m9.9 36.8h0m-0.7 -22.5h0m-1.2 4.2h0m-3.2 13.7h0m-0.4 -9.4h0m-7.4 -7.5h0m12.1 2.4h0m0 26.5h0m-4.9 -30.9h0m5.7 -0.8h0m-11.6 32.1h0m6 -16h0m-8.7 -0.4h0m3 -8.4h0m9.7 -21.8h0m-9 22.1h0m-0.1 8.7h0m5 11.8h0m-6.9 5.7h0m4.1 -12.5h0m6.6 -17h0m-3.6 19.3h0m-6.4 -5.4h0m0.5 -9h0m-1.4 6h0m4.8 -20.1h0m0.4 28.6h0m6.5 -3.8h0m-13.6 -19.3h0m9.3 24.6h0m-3.3 -20.9h0m-4 10.8h0m2.2 0.9h0m7.8 5.7h0m-10 -23.1h0m-0.8 25.2h0m-1.3 2.8h0m6 -46.4h0m-3.9 14.8h0m-2.3 23.8h0m15.9 -10.3h0m-6.8 7.7h0m3.4 -16.2h0m-5.8 33.1h0m-2.8 -23.4h0m-1.9 -1.1h0m1.6 -16.8h0m11.2 23h0m-3.8 -15.4h0m-3.8 10.8h0m2.7 -14h0m-7.3 11.1h0m6.6 -27.8h0m3.4 13h0m-1.3 39.7h0m-1 -16.2h0m1 15h0m2 -46.8h0m-8 7h0m-5.7 12.8h0m9.5 12.4h0m-2.5 -10.4h0m5.6 -17.8h0m-0.6 1h0m-5.2 29h0m-3.2 -8.4h0m3.6 -8.2h0m8.8 20.3h0m0.4 -13.5h0m-6.6 16.5h0m-4.3 -25h0m5 24.2h0m-0.2 -40h0m2.9 39.4h0m2.8 -1.5h0m-3.7 -9.8h0m-2.6 15.3h0m-6.8 -11.1h0m-1 -11.4h0m8.7 7.3h0m-3 -6.5h0m-4.9 10.1h0m12.1 5.2h0m-3.6 -6.5h0m-4 8.7h0m-6.5 -21h0m5.1 11.3h0m6.1 21.8h0m-5.9 -21h0m-5.2 -18.2h0m1.3 -8.1h0m-0.2 16.4h0m12 -17.2h0m-11.2 27.1h0m3.7 14.3h0m-4.2 1.9h0m2.6 -34.3h0m2.6 -8.8h0m-1.5 36.9h0m-0.7 -13.5h0m5.6 -11.8h0m-0.7 36.3h0m-2.9 -5.2h0m-0.8 -56.4h0m3.8 47.7h0m0 -26.5h0m2.2 -2h0m-5.8 -14.2h0m9.3 45.3h0m-14.2 -7.4h0m12.9 10.8h0m-1.9 -5.9h0m-3 -24h0m0.4 2.8h0m-5.6 12.4h0m2.6 -16.7h0m0.8 15h0m-6.2 -7h0m14.9 9.9h0m-11.7 -23.2h0m9.4 17.3h0m0.8 0.3h0m-5.6 -31.1h0m-4.1 36.7h0m-0.3 18.6h0m7.1 -21.7h0m-2.3 1.5h0m1.2 -7.4h0m-2.9 -21.2h0m7.3 42.1h0m-0.3 -11.3h0m-12.7 0.4h0m11.2 -11.9h0m1 3.7h0m-13.7 10.5h0m5.7 -20.8h0m-1.7 12.4h0m9.1 13.3h0m-4.7 3.4h0m-4.7 -13.5h0m-3 4.8h0m10.3 5.5h0m-7.9 -15.4h0m0.6 20.9h0m9.6 7.3h0m-6.9 -14.1h0m-6 -27.8h0m2 7.2h0m7.7 4h0m-3.9 -8.3h0m7.3 4h0m-1.6 -8.5h0m-12.1 11.3h0m0.8 30.6h0m3.7 -41.4h0m8.8 13.7h0m-5.8 24.6h0m-2.6 4.6h0m-0.1 -21.1h0m2.2 -7.5h0m3.3 -3.4h0m2.6 32.4h0m-4.6 -58.7h0m-1.9 42.5h0m6.2 -1.6h0m-1.6 -46.3h0m0.7 40.4h0m-5.3 7.8h0m-6 -13.5h0m10.5 9.7h0m2.8 -11.5h0m-0.3 10.7h0m-0.8 -3.4h0m-4 -11.3h0m-7.9 -5.4h0m2.3 -8.4h0m6.8 24.6h0m-8.4 -10.7h0m7.9 1.9h0m-6.6 22.9h0m5 -38.3h0m2.5 15.4h0m1.2 20.4h0m-1.8 5h0m-8.3 -8.9h0m3.5 -39.1h0m-1.9 9.4h0m9.1 12h0m-9.6 -5.6h0m4.9 26.5h0m-3 -13.6h0m-0.3 8.9h0m4.7 -2.9h0m-4.7 -35.9h0m1.2 10.1h0m-0.4 0.4h0m6.5 13.7h0m-7.4 -4.4h0m4.5 10h0m-2 18.9h0m-2.9 4.9h0m4.7 -15.5h0m-0.6 18h0m-6.2 -38.3h0m7.1 11.3h0m0.7 13.8h0m-7.1 -35.6h0m1.3 18.2h0m5 0.8h0m6.9 18.2h0m-5.5 -3h0m-2.1 -8.3h0m-7.3 14.3h0m0.3 7.2h0m14 -17.1h0m-6.2 14.3h0m-3.6 -12h0m6.5 -1.9h0m-1.9 -30.7h0m-4.4 10.8h0m7.5 25.1h0m-9.3 -19.3h0m-3.3 17.3h0m12.5 -5.6h0m-4 -10.8h0m4.9 -18h0m0.1 48.3h0m0.5 -14.1h0m-13.1 -17.3h0m4.5 26.7h0m6.8 -18.7h0m1.3 8.9h0m-11.8 -9.7h0m1.7 14.4h0m-2.3 -7.2h0m2.6 0.4h0m-1.2 18.4h0m0.2 -51.1h0m5.8 24.2h0m-1.6 8.9h0m8.5 4.5h0m-10.1 -31.1h0m-2.6 17.6h0m12.9 -5.3h0m-1.3 19h0m-14.7 -20.9h0m8 -9.4h0m-6.8 11.3h0m1.2 25.1h0m-1.6 -25.3h0m3.1 9.1h0m10.4 -20.5h0m-12.3 32.6h0m9.6 -16.4h0m-11.9 -0.2h0m11.8 -8.1h0m-10.3 1.7h0m14.2 18.3h0m-7.1 -5.6h0m-0.3 -23.9h0m-5.3 33.7h0m7 -24h0m3.6 7.8h0m-1.6 7.3h0m-1.5 -14.2h0m3.1 -9.5h0m-3.3 -1.7h0m-0.1 28h0m0.3 -16.1h0m3.2 23.6h0m-4.2 5.6h0m-3.9 -12.8h0m4.9 -3.5h0m-0.5 -25.9h0m-7.7 30.6h0m2.9 -26.5h0m7 16.9h0m-9.5 19.9h0m8.4 -3.5h0m-7.9 5.8h0m-0.4 -26.2h0m4.5 -13.2h0m-0.8 6h0m7.8 1.1h0m-11.4 9.2h0m2.1 -8.2h0m5.6 14.8h0m4.3 -14.6h0m-9.1 -10h0m1.6 29.6h0m4.2 -16.1h0m3.3 13.1h0m-8.2 -11.1h0m8.9 7.7h0m-5.8 7.7h0m-0.4 -8.7h0m-1.3 -14.8h0m2.9 8h0m-4.4 -8.8h0m-4.5 38.9h0m0.5 -35.4h0m8 23.7h0m-0.4 -1.9h0m-0.2 -12.8h0m-8.8 -3.7h0m1.3 -3.1h0m4.6 23.5h0m-2.5 -16h0m5.4 -22h0m3.4 14.6h0m-2.1 16h0m-3.8 3.3h0m-6.4 -15.5h0m0.5 13.9h0m4.6 -25.6h0m-6 6.9h0m3.3 6.6h0m6.5 -18.3h0m-2.3 2.6h0m1.3 34h0m-4 -25.3h0m3.4 -7.4h0m-7.2 9.5h0m5.2 -2.3h0m7 27h0m-5 -37h0m1.1 37.7h0m-3.7 -21.5h0m1.9 17.7h0m-4.4 -30.4h0m2.4 7.2h0m1.5 -31.6h0m8.1 49.6h0m-6 -6.2h0m3.7 -15.9h0m-11.2 7.5h0m12.5 8.4h0m-3.2 -34.6h0m-5.6 17h0m-1.7 -9.3h0m0.7 -21.6h0m2.6 20h0m-5.3 16.7h0m5.6 18.4h0m2.2 4h0m-6.2 -18.7h0m-2.2 6.2h0m14.8 6h0m-5.9 -18.5h0m-2.3 12.6h0m-4.2 -22.1h0m8.2 6.5h0m4.6 21.3h0m-15.3 -13.1h0m0.3 5.2h0m0.8 -7.6h0m11.9 10.1h0m-10.3 -2.2h0m11.1 11.5h0m-12.3 -1.4h0m7.5 -15.5h0m-5.1 -1.6h0m-2.1 13.2h0m1.2 -6.8h0m9.9 6.8h0m-4.9 -10.2h0m-9.4 0.8h0m1.4 13.9h0m2.7 -3.2h0m3.1 -4.3h0m2.9 6.6h0m-2.6 -6.8h0m-2 6.9h0m2.7 -29.6h0m-1.6 8.5h0m7.4 -9.6h0m-3.6 42.6h0m-7.1 -29.9h0m7.5 4.1h0m-3.7 4.3h0m7.5 13.3h0m-14.1 -14.6h0m3 11.6h0m10.9 -16.6h0m1.9 16.9h0m-10.4 -17.3h0m9.8 -3.3h0m-4.6 0.2h0m-6.3 -7h0m4.4 27.9h0m-0.6 -0.3h0m0.7 -40.6h0m-4.4 36.9h0m-0.8 -18h0m-0.3 6h0m0.9 24h0m-1.8 5.2h0m5.4 -29.9h0m-5.3 9.3h0m11.2 -10.4h0m1.3 8.9h0m-3 -33.3h0m2 37.1h0m-11.4 -7.7h0m0 -2.8h0m7.5 9.6h0m0.6 -21.5h0m-9.8 -0.6h0m-1.1 16h0m12.7 -18.4h0m-12.7 27.2h0m6.6 -36.6h0m-4.5 27.6h0m1.6 -1.3h0m7.5 -0.7h0m-3.3 -5.4h0m-5.3 23.2h0m11.9 -6.7h0m-8.8 -1.5h0m-5.6 -11.5h0m4.1 8.6h0m-0.8 -6.5h0m-0.4 6h0m7.4 -36.5h0m5.3 43.4h0m-9.1 -3.1h0m8.5 -20.6h0m-0.6 23.4h0m-5.9 -26.5h0m-6.5 15.1h0m2.4 -0.9h0m2.3 19.8h0m0.5 -5.4h0m-3.1 6.2h0m11.4 -12.1h0m-6 -11.8h0m-9 9.7h0m5.4 0.2h0m5.7 -9.4h0m-1.9 26.4h0m-4.2 -36.3h0m-3 16.6h0m6.5 -28.6h0m-1.6 39.1h0m5.9 -2h0m-0.9 -11.1h0m-11.6 12.1h0m11.9 5h0m-8 -39.2h0m4.9 -31.7h0m14.5 17.6h0m-2.7 -3.5h0m7.5 -3.6h0m-5.8 7.1h0m0.7 14.1h0m6.4 10.5h0m-9.2 17.6h0m0.2 -10.5h0m3 -14.1h0m14.2 -59.9h0m13 0h0m-8.1 41h0m6 -5.4h0m0.5 16h0m-7.2 -14h0m-0.3 8.1h0m1.3 -22.7h0m-5.7 39.3h0m2.5 -13.3h0m4.2 16.9h0m-1.4 -24.6h0m-4.3 6.4h0m1.1 14h0m-0.7 -20.6h0m4 -4.7h0m3.3 9.4h0m5.1 -10.3h0m-12.5 16.2h0m5 -12.5h0m-2 -13.9h0m-5.1 17h0m6.4 4.8h0m1.4 -14.8h0m2.8 19.3h0m-2 -12.4h0m-1.2 -0.6h0m5.5 -13.9h0m-13.1 8.6h0m8.1 17.7h0m-5.4 -14.8h0m1.4 11.5h0m5 13.1h0m-1.1 -6.4h0m-5.2 -25.1h0m11.2 30.6h0m-11.8 -19.6h0m11.8 -0.8h0m-10.3 -20.4h0m5.3 36.9h0m-6 -20.5h0m1.8 21.1h0m6.1 -18.1h0m-6.1 16.4h0m3 -6h0m3.3 7.3h0m3.6 -17.1h0m-8 -19.6h0m-1.8 12.8h0m8.7 33.3h0m-8.5 -32.3h0m4.6 3h0m3.2 -2.9h0m-2.8 37.8h0m4.8 -22.3h0m-9.3 -46.2h0m2.4 24.2h0m4.8 -0.1h0m-1.4 12.2h0m-1.7 11.7h0m2.5 -16.9h0m-4.2 -1.1h0m0 -32.7h0m15 82h0m3.6 2.2h0m-7.9 -1.8h0m4.2 15.9h0m10 -9.3h0m-0.1 -11.9h0m-5.7 21.3h0m4.6 -21.3h0m-7.7 12.3h0m-2.2 -20.4h0m4.9 -8.3h0m3.9 10h0m-10.9 29.6h0m7.5 -1.1h0m1 -20.4h0m3.1 -2.1h0m-7.9 -8.1h0m1.2 11.2h0m5.4 3.4h0m-7.3 -9h0m-2.3 -5.8h0m9.8 24.5h0m-2.8 -11h0m-5.6 -3.8h0m0.2 -1.2h0m5.6 14.8h0m2.7 -29.4h0m-1.3 22.8h0m0.7 -10.2h0m-1.4 -7.9h0m-6.3 9.3h0m7.1 13.1h0m-5.2 3.6h0m7.4 -1.4h0m0.6 -7.7h0m-6.7 -52.2h0m12.9 19.3h0m9.1 -28.4h0m-8.4 49.2h0m-2.5 -9.8h0m2.8 -15.8h0m7.5 4.6h0m-3 -8.7h0m-6.8 46.8h0m6.8 -65h0m-3.2 51h0m-1.9 -57.5h0m9.7 19.3h0m0.6 21.7h0m-10 18.5h0m7.3 -2.7h0m4.7 -22.4h0m-12.4 21.6h0m8 -63.5h0m1.2 -7.6h0m-10.8 32.9h0m10.1 61.8h0m-9.9 -16h0m3.6 6.3h0m-4.5 -15.5h0m5.4 16.7h0m-3.2 -51.5h0m3.5 47.7h0m0.4 10.8h0m-4.4 -11.7h0m1.4 -55.9h0m5.7 24.8h0m6.9 14.1h0m-9.9 -41.3h0m-0.9 77.3h0m9 -70.9h0m-5.8 35.4h0m5.6 15.1h0m-1.4 -72.2h0m-0.4 55.5h0m-4.7 0.7h0m2.3 23h0m3.8 -33.1h0m-0.8 11.4h0m1.9 -45.3h0m-13.4 -4.1h0m1.3 86.3h0m2.1 -49.6h0m4.9 14.3h0m3.1 9.4h0m-4.8 20.7h0m-5.9 -28.3h0m1.7 -23.5h0m1.1 6.1h0m-2.5 23h0m1.1 -36.6h0m-0.1 -17.8h0m12.6 38.7h0m-11.4 -62.4h0m2.3 86.7h0m3.6 -19.1h0m-4.9 11.8h0m7.8 -47.3h0m1.5 53.4h0m-8.3 16.4h0m2.8 -35.1h0m1.9 13.2h0m-0.7 -13.5h0m-1.4 -5.4h0m0.1 -14.1h0m-7 20.4h0m5.7 20.3h0m-5.4 -81.9h0m-0.4 52.3h0m0 17.3h0m13.4 -24.2h0m-3.4 -48.1h0m2.2 8h0m-9.1 58.2h0m-4.5 2.3h0m10.8 1.6h0m-3.6 -21.4h0m-6.4 -15.6h0m6.9 67h0m-1.4 -93.4h0m1 61.8h0m5.9 -37.6h0m-8 11.7h0m0.7 -30.8h0m-6.1 25.2h0m15.6 22.9h0m-5.6 0.5h0m-6.6 0.7h0m-0.3 -17.8h0m1.4 58.2h0m7.2 -81.4h0m-4.7 -30.5h0m-3.6 33.3h0m7.7 0.4h0m-1.8 -47.6h0m5.4 78.5h0m-6.4 -30.4h0m-5.3 -2.9h0m3.3 46.8h0m-3 25.6h0m5.1 -43.3h0m4.8 -20.3h0m-10 -38.4h0m6.5 54.3h0m2.6 -9.7h0m-3.1 -11h0m-0.6 60.7h0m-4.3 -37.1h0m3.2 -4.6h0m2.1 10h0m-7.4 -60.7h0m12.3 98.1h0m-0.5 -9.8h0m-2 -57h0m-5.5 54.2h0m3.7 -45.7h0m-8.5 -24.8h0m10.1 64.6h0m-4.9 10.9h0m-6.5 -40.6h0m12.8 8.5h0m-0.6 29.3h0m-5.4 -21.7h0m-2.6 18.6h0m-0.5 15.6h0m9.2 3.9h0m-13.2 -24.9h0m6 -19.5h0m8.2 -21.6h0m-3.8 -8.8h0m-6.3 25.1h0m9.3 -11.5h0m-3.3 11.6h0m0.9 45h0m-1.1 -7.2h0m2 -0.6h0m-11.6 -36.1h0m8.1 25.9h0m-4.6 -13.4h0m5.7 -16.3h0m-9.7 14.8h0m2.4 -38h0m4.1 10.6h0m2.5 1.6h0m-5.5 8.9h0m9.7 -5h0m1.1 62.1h0m-9.5 -35.4h0m4.9 -37h0m-6.9 57.7h0m1.2 0h0m1.5 -53.9h0m6.3 60.4h0m0.5 6.2h0m-2.2 -66h0m-4 54.9h0m-4.3 -15.4h0m4.1 -18.9h0m-3.7 21.3h0m4.9 -45.1h0m7.1 57.6h0m-2.4 -34.8h0m1 47.3h0m-3.2 -12.3h0m-6.1 -9.2h0m4.9 -75.5h0m-3.5 12.1h0m-1.2 50.6h0m3 -49.7h0m6.3 30.9h0m-9.9 -2.5h0m-3.2 4h0m9.6 -8.3h0m-6.9 52.1h0m10.1 -109.8h0m-4.9 105.9h0m3.8 -27.2h0m-0.7 1.3h0m-11.2 -1.6h0m13.6 41.5h0m1.1 -13.6h0m-8.8 -71.7h0m-1.1 45.4h0m8.5 -16.1h0m-4.1 29.2h0m4.7 -36.7h0m-7.7 46.4h0m-2.8 -33.4h0m6.8 -38.9h0m-6.2 50.5h0m-2.4 11.3h0m3.8 -22h0m1.2 1.4h0m-3.4 49.7h0m8.8 -35.9h0m0.7 13.5h0m2.1 -35.6h0m-11.2 33.4h0m9.4 -23.8h0m-1.7 32.6h0m-1.2 -54.5h0m4.8 56.5h0m-4.1 11.2h0m3.4 -12.8h0m-3.5 -70.8h0m-6.7 5.8h0m3.5 -5.6h0m4.8 34.5h0m-0.1 -4.1h0m0.4 27.9h0m-7.5 -56.4h0m6.6 63.8h0m-2.9 -10.6h0m6.9 -1.4h0m0 -28.6h0m-12 43.7h0m3.1 12.1h0m2.1 -37.4h0m-0.9 32.4h0m3.8 -77.1h0m-1.3 64.4h0m-7.8 -42.8h0m10.3 49.9h0m-2.3 -84.1h0m-7.8 44.5h0m-0.9 -15.7h0m-0.4 12.4h0m8.5 17.2h0m-7.1 10.6h0m-0.9 -44h0m4.9 5.6h0m-4 8.9h0m7.2 4.1h0m-0.7 -3.1h0m-5.8 13.4h0m4.5 -13.5h0m5.5 12.5h0m0.7 11.7h0m-0.4 12.4h0m-3.9 -33h0m-7.7 36.3h0m12.9 -0.8h0m-5.6 -73.2h0m-6.1 37.7h0m8.3 -9.3h0m-1.2 3.3h0m2.2 -34.6h0m-9.8 32.5h0m5.4 28h0m-1.4 -18.9h0m7.1 34.4h0m-5.3 -46.9h0m-7.1 7.1h0m2.6 6.1h0m8.9 43.4h0m-4 -6.6h0m-6.1 -47.6h0m3.4 56h0m6.5 -59h0m-3.5 53h0m-4.4 -28.8h0m0.8 41.8h0m5.7 -37.6h0m0.9 4.3h0m-7.9 -33.2h0m7.7 1.3h0m-8.9 -67.5h0m-0.8 50.2h0m7 20.3h0m5.5 40.1h0m-5.1 -38.7h0m0.2 4.3h0m-0.6 28.3h0m1.1 -0.1h0m2.9 -55.3h0m-5.7 13.5h0m6.2 13.7h0m-7.2 -2h0m1.5 5.5h0m-1.9 2.5h0m0.2 -2h0m-1.6 -17.3h0m7.4 30.2h0m1.2 -3.2h0m-4.8 39.6h0m-3.6 -41.8h0m6.2 -13.4h0m-10.1 44.5h0m9 -1.2h0m-9 -36h0m7.3 -60h0m0.7 28.6h0m-0.7 39.6h0m2.8 2.8h0m-6.7 28.1h0m2.3 15h0m1.2 -61.1h0m-5.6 43.2h0m2.5 -16.5h0m7.3 -47.2h0m-11.4 37.8h0m14.4 -3.3h0m-9.2 22.3h0m7.6 -29.6h0m-1.9 18.7h0m-0.4 -66.2h0m1.7 49h0m-5.6 -5.5h0m5.2 43.6h0m-12 -43.3h0m2.6 -18.3h0m7.7 31.2h0m-6.9 26h0m4.6 -18h0m-0.9 -58.4h0m-2.2 81.8h0m0.2 -15.8h0m-4.6 -49.9h0m1.8 42.2h0m0.9 22.9h0m1.3 -49h0m0.8 -22.5h0m4 26h0m-0.7 25.1h0m-7.7 -47.4h0m8.1 -5.2h0m0.9 49.9h0m-7.5 27.9h0m11.9 -21.7h0m0.2 -36h0m-6.3 29.2h0m2.1 -11h0m-10.5 -5.9h0m5.8 6h0m-2.5 37h0m4.6 -51.3h0m-2.2 31.3h0m4.1 -46.1h0m-4.4 13.5h0m1.6 40.5h0m-1.2 19.7h0m9 -20.1h0m-13.6 -23h0m4.4 25.2h0m8.3 -19.3h0m-12.7 -7h0m12.6 15.5h0m-5.2 13.5h0m-4.9 -13.2h0m7.4 -33.5h0m-10.8 48h0m4.8 -70.3h0m-4.5 36h0m0.2 -19.3h0m3.1 67.6h0m8.7 -22.7h0m-1.2 -66.1h0m-6 61.7h0m7.6 -33.4h0m-1.9 -9.1h0m-6.6 27.8h0m-1 -15.7h0m4.1 40.6h0m5.6 -71.8h0m-8.7 33.9h0m2.5 4.6h0m4.1 36.1h0m-3.6 -40.3h0m7.4 26.3h0m-10.1 -64.6h0m8.1 41.2h0m-8.5 -35h0m-0.4 90.2h0m-2.2 -90.6h0m-1.3 23h0m13.1 42.6h0m-2.3 7.8h0m-5.1 -25.9h0m-1.7 39.8h0m5.4 -67h0m0.3 34.5h0m-1.1 -40.8h0m-5.1 -15.5h0m1.5 89.6h0m8 -30.3h0m-2.5 -41.9h0m-6.9 32.2h0m3.5 -42h0m-5.4 66.2h0m9 14.3h0m-2.6 -25.5h0m-4.3 -26.5h0m-4.1 28.7h0m7.3 -2.3h0m-0.4 -17.9h0m1.6 21.5h0m0.8 -64.6h0m-10 54.4h0m14.5 -6h0m-8.9 16.1h0m7.5 -47.9h0m0.2 51.2h0m-1.8 3.6h0m0.2 -50.2h0m-9.5 43.6h0m1.8 -69.4h0m-3.7 60.6h0m11 0.6h0m1.9 -56.9h0m1.3 6.4h0m-14.5 35.1h0m4.3 -2.1h0m5.9 49.2h0m0.4 -32.4h0m-2.6 -47.1h0m-3 69.4h0m4.7 -12.4h0m4.5 -41.9h0m-5.1 23.3h0m3.1 25h0m-8.5 -107.9h0m9 92.8h0m-12.5 -0.9h0m7.4 34.9h0m0.1 -39.9h0m-0.2 9h0m2.4 -6.4h0m-7.1 -25.4h0m4.3 19.7h0m2.8 -58.6h0m-3.2 45.8h0m8.5 31.7h0m-6.6 -41.2h0m4.6 -22.9h0m-11.1 8.1h0m6.2 36.5h0m-7.4 4h0m1.4 -6.4h0m1.1 40.6h0m1 -56.1h0m-0.3 22.3h0m5.1 -11.7h0m6.1 -14.7h0m-3.1 51.4h0m-6.3 -20h0m6.9 -3.2h0m-10.6 -13.8h0m4.6 -1.3h0m-6.3 14.4h0m12.4 27.1h0m-12.4 -50.8h0m12.9 41.6h0m0.6 -12.5h0m-13.5 -3.4h0m7.6 -80.8h0m-1.1 98.8h0m6.3 -31.1h0m-12.2 23.8h0m7.4 -13.4h0m1.9 -6.2h0m-8.2 -20.3h0m12.4 56.1h0m-8.3 -75h0m-5.2 17.6h0m6.5 -39.7h0m3.3 49.5h0m-3.2 10.2h0m4.4 -58.7h0m-4 78.2h0m-2.2 -59.7h0m5.8 78h0m-3.3 -104h0m-5.8 37.8h0m9.5 42.7h0m-6.8 -6.5h0m-0.4 35.2h0m2.7 -117.5h0m2.8 102.4h0m-6.1 -25.4h0m7.4 -13.9h0m-5.6 7.6h0m5.6 16.2h0m-4.5 -35.6h0m-1.6 29h0m4 18.1h0m-8.3 -15.4h0m3.5 10.6h0m-3.6 16.2h0m13.3 -0.3h0m-3.4 6.5h0m0.8 -89h0m-7.4 36.1h0m-3.2 33.4h0m12.8 -68.2h0m0.3 41.2h0m-2 -28.3h0m-4.7 39h0m0.2 -0.2h0m6.9 -28.6h0m-6 66.4h0m-3.9 -92.3h0m3.3 48.1h0m3.6 -14.4h0m1.7 -19.6h0m-2.1 62.2h0m-2.1 -14.6h0m3.6 -30.2h0m-1.5 17.8h0m-2.6 19.9h0m-4.2 -32.2h0m0.6 8.6h0m1 22.5h0m-5 0.1h0m14.5 -18.9h0m-0.9 0.4h0m0.1 11.2h0m-5.1 -106h0m11.1 107.4h0m1 26.4h0m11 1.8h0m11.2 -5.3h0m-4 0.7h0m9 -2.5h0" fill="none" stroke="#000" stroke-linecap="round" stroke-width="2.9"/><path d="M970.0 1598.2h17.2M988.2 1598.2h17.2M1006.4 1598.2h17.2M1024.6 1598.2h17.2M1042.8 1598.2h17.2M1061.0 1598.2h17.2M1079.2 1598.2h17.2M1097.4 1598.2h17.2M1115.6 1598.2h17.2" stroke="#000" stroke-width="2.9"/>
<path d="M1187.7 1442.3V1606H1354" fill="none" stroke="#000" stroke-width="1.3"/><path d="M1187.7 1598.9h-3.6M1187.7 1550.1h-3.6M1187.7 1501.3h-3.6M1187.7 1452.5h-3.6M1198.4 1606v3.6M1216.7 1606v3.6M1234.9 1606v3.6M1253.2 1606v3.6M1271.4 1606v3.6M1289.7 1606v3.6M1307.9 1606v3.6M1326.2 1606v3.6M1344.4 1606v3.6" stroke="#000" stroke-width="1.2"/><g font-size="14.2"><text x="1180.2" y="1603.7" text-anchor="end">0</text><text x="1180.2" y="1554.9" text-anchor="end">2</text><text x="1180.2" y="1506.1" text-anchor="end">4</text><text x="1180.2" y="1457.3" text-anchor="end">6</text><text x="1198.4" y="1628.1" text-anchor="middle">0</text><text x="1216.7" y="1628.1" text-anchor="middle">1</text><text x="1234.9" y="1628.1" text-anchor="middle">2</text><text x="1253.2" y="1628.1" text-anchor="middle">3</text><text x="1271.4" y="1628.1" text-anchor="middle">4</text><text x="1289.7" y="1628.1" text-anchor="middle">5</text><text x="1307.9" y="1628.1" text-anchor="middle">6</text><text x="1326.2" y="1628.1" text-anchor="middle">7</text><text x="1344.4" y="1628.1" text-anchor="middle">8</text></g><path d="M1198.4 1598.9V1556.2M1216.7 1598.9V1572.1M1234.9 1598.9V1579.4M1253.2 1598.9V1494.0M1271.4 1598.9V1544.0M1289.7 1598.9V1553.8M1307.9 1598.9V1576.9M1326.2 1598.9V1450.1M1344.4 1598.9V1581.8" stroke="#111" stroke-width="1.25"/><path d="M1318.5 1598.9c0.5 -8 4 -12 7.6 -20c3.6 8 7.1 12 7.6 20z" fill="#cfcac6" stroke="#000" stroke-width=".8"/><path d="M1196 1556.2h0m6.1 13.4h0m-7.9 1.2h0m0.3 3.7h0m6.3 1.2h0m3.9 1.2h0m-3.2 2.5h0m-1.4 1.2h0m4.7 1.2h0m-11.1 2.5h0m8.5 1.2h0m-6 2.4h0m7.1 1.2h0m-1.9 -10.9h0m9.4 -6.1h0m1.9 4.8h0m9.8 4.9h0m-0.8 1.2h0m0.8 1.3h0m-1.4 2.4h0m1.4 0h0m-10.6 1.2h0m17.9 -8.5h0m1.3 1.2h0m0.2 3.7h0m-1.7 1.2h0m7.3 1.2h0m-0.3 1.2h0m-4.5 -6.1h0m15.1 -87.8h0m11 34.1h0m-2 7.4h0m4 4.8h0m-12 2.5h0m3 2.4h0m8 0h0m-3 2.5h0m5 2.4h0m-12 2.4h0m5 1.3h0m4 1.2h0m18.2 -11h0m-5 52.5h0m15.3 -42.7h0m-2 20.7h0m7 4.9h0m1 7.3h0m2 1.2h0m-7 -23.2h0m19.2 12.2h0m3 3.7h0m-5 6.1h0m1 7.3h0m24.3 -143.9h0m2 14.6h0m-1.5 51.6h0m-5 73.6h0m-2.6 -46.4h0m0.9 32.4h0m4.5 0h0m-5.8 -90h0m2.6 80.8h0m4.5 -14.5h0m-6.5 -37.9h0m-1.4 9.3h0m-1.5 18h0m2.3 16h0m-2.7 13.9h0m3.5 -53.2h0m8.7 41.2h0m-6.9 2.1h0m-5 -19.2h0m8.5 -46.4h0m-1 18.6h0m-6.4 58.8h0m11.2 -28.8h0m-2.2 32.8h0m2.2 -46.8h0m-6.1 42.2h0m-2.7 -28.9h0m-1.4 -43.1h0m2.3 38h0m-3.4 -0.2h0m1.7 46.8h0m0.8 -43.9h0m0 -1.5h0m6.5 34.7h0m-4.6 -12.1h0m2 -25.5h0m4.2 -12h0m-7.5 6.5h0m1.3 47.9h0m2.9 -47.3h0m-5.6 21.7h0m6.6 -1.8h0m-4 -16.6h0m-1.2 -14.4h0m3.8 11.2h0m2.9 33.9h0m-4.5 -20.1h0m-5.7 25.3h0m2.5 10.9h0m8.7 -42.2h0m-3.2 14h0m-7.4 11.7h0m4.8 -2.1h0m-5.3 -12h0m3.8 -23h0m3.8 33.5h0m-0.9 -36.2h0m-6.5 9.2h0m9.2 17.8h0m-7.7 -27.4h0m-1.7 45.8h0m4.8 -61.2h0m5.5 43.3h0m-0.7 -14.8h0m-3.8 10.8h0m0.3 0.1h0m5.1 -11h0m-1.1 41.5h0m-3.4 -28.1h0m-5.4 -11.7h0m4.5 -52.9h0m-5.8 103.1h0m7.6 -58.1h0m-0.2 38.7h0m-8.2 -35.9h0m9.1 26.3h0m0 0.4h0m-2 -54.8h0m-5.6 81.5h0m9.3 -41.9h0m-2.6 26.9h0m-5.6 -24.8h0m7.8 11.8h0m-7.7 -35.2h0m1.5 14h0m-0.1 -18h0m5.6 -8.8h0m2 19.7h0m-5 6.8h0m3.3 36.8h0m1.3 -47.9h0m-8.5 42.1h0m2 -12.2h0m1.4 3.7h0m5 -34.5h0m-11 12.4h0m10.1 -2.9h0m1.8 37.9h0m-7.7 -15.2h0m3.5 -63.3h0m-3.6 75.6h0m5 -56.5h0m2.5 29.4h0m-5 36.9h0m-1.3 -55.9h0m-0.8 22h0m-3.2 37h0m2.2 -27h0m-1.1 22.3h0m3.6 -28h0m4.6 -29h0m-2.4 -1.7h0m-7.3 30h0m2.5 24.5h0m8.5 -54h0m-4.8 35.6h0m-5.1 12.2h0m8.4 -58.2h0m-4.4 12.2h0m0.6 3.4h0m2 40.9h0m-2.7 3.1h0m0.2 -54h0m4.3 60h0m-7.6 -30.7h0m7.2 33.4h0m-9.2 -47h0m-0.4 46.7h0m6.6 -88.5h0m-6.5 77.9h0m6.2 -41.1h0m-3.5 7.7h0m2.3 2.9h0m-3.9 -45.7h0m3 20.3h0m-2.9 -37.1h0m9.4 101.4h0m-11 -11.7h0m3 24.9h0m3.1 -47.6h0m-6.7 -12.1h0m6.6 14.4h0m-1.8 -22.1h0m2.5 22.9h0m-5.7 -6.7h0m0.9 25.9h0m7.3 -35.1h0m1.6 21.6h0m-3.7 4.5h0m2.3 -40.4h0m1.6 52.3h0m-6.2 -55.3h0m2.2 66.5h0m-2.4 7.9h0m1.7 -27.2h0m0.5 -36.8h0m0.9 -18.2h0m-8.4 29.4h0m0.2 42.8h0m3.8 -37.6h0m-3 1h0m10.9 21.4h0m-3.9 -30.7h0m-0.6 7.9h0m-0.9 -49.5h0m-3.4 20.3h0m4.2 29.1h0m-7 16.1h0m11.4 5.9h0m-8.7 26.1h0m0.4 -53.7h0m2.6 -26.4h0m1.6 42.1h0m-1.9 25.2h0m-2 -10.6h0m-0.3 2.8h0m3.8 2.9h0m-7.2 -25.8h0m2.3 35.3h0m1.5 -18.4h0m3.1 -33.6h0m-1.4 63.1h0m6.8 -24.2h0m-1.2 -58.3h0m-1.6 60.4h0m1.5 -54.4h0m-1.5 27.5h0m-1.2 -26.3h0m-6 3.5h0m7.1 4.7h0m-7.3 29h0m9.3 -2.8h0m-6.5 -25.5h0m-0.8 63.5h0m4.1 -36.3h0m0.2 13.3h0m4.6 -11.5h0m-2.5 16.9h0m-1.6 -26.2h0m-5.9 33.2h0m8 -62.4h0m-11.2 52.3h0m5.1 -116.1h0m25.7 131.7h0m-4 14.7h0" fill="none" stroke="#000" stroke-linecap="round" stroke-width="2.9"/><path d="M1189.8 1598.9h17.2M1208.1 1598.9h17.2M1226.3 1598.9h17.2M1244.6 1598.9h17.2M1262.8 1598.9h17.2M1281.1 1598.9h17.2M1299.3 1598.9h17.2M1317.6 1598.9h17.2M1335.8 1598.9h17.2" stroke="#000" stroke-width="2.9"/>
<path d="M1394.8 1442.3V1606H1560" fill="none" stroke="#000" stroke-width="1.3"/><path d="M1394.8 1598.5h-3.6M1394.8 1558.6h-3.6M1394.8 1518.7h-3.6M1394.8 1478.8h-3.6M1405.8 1606v3.6M1424.2 1606v3.6M1442.7 1606v3.6M1461.1 1606v3.6M1479.5 1606v3.6M1498.0 1606v3.6M1516.4 1606v3.6M1534.8 1606v3.6M1553.2 1606v3.6" stroke="#000" stroke-width="1.2"/><g font-size="14.2"><text x="1387.3" y="1603.3" text-anchor="end">0</text><text x="1387.3" y="1563.4" text-anchor="end">1</text><text x="1387.3" y="1523.5" text-anchor="end">2</text><text x="1387.3" y="1483.6" text-anchor="end">3</text><text x="1405.8" y="1628.1" text-anchor="middle">0</text><text x="1424.2" y="1628.1" text-anchor="middle">1</text><text x="1442.7" y="1628.1" text-anchor="middle">2</text><text x="1461.1" y="1628.1" text-anchor="middle">3</text><text x="1479.5" y="1628.1" text-anchor="middle">4</text><text x="1498.0" y="1628.1" text-anchor="middle">5</text><text x="1516.4" y="1628.1" text-anchor="middle">6</text><text x="1534.8" y="1628.1" text-anchor="middle">7</text><text x="1553.2" y="1628.1" text-anchor="middle">8</text></g><path d="M1405.8 1598.5V1512.7M1424.2 1598.5V1494.8M1442.7 1598.5V1556.6M1461.1 1598.5V1480.8M1479.5 1598.5V1524.7M1498.0 1598.5V1480.8M1516.4 1598.5V1546.6M1534.8 1598.5V1450.9M1553.2 1598.5V1556.6" stroke="#111" stroke-width="1.25"/><path d="M1529 1598.5c1 -10 4 -20 3.5 -32c-0.5 -14 -7 -22 -7 -40c0 -16 5 -30 9 -44c4 14 9.5 28 9.5 44c0 18 -6.500 26 -7 40c-0.500 12 2.500 22 3.500 32z" fill="#cfcac6" stroke="#000" stroke-width=".8"/><path d="M1410.7 1577.1h0m0.2 -16.6h0m-10.1 -5.6h0m9.7 19.5h0m-2.8 6h0m-7.6 -34.3h0m5.3 25.5h0m-1 6.9h0m7.7 -19.4h0m-5.2 -0.4h0m-6.4 6.8h0m-0.3 -29.7h0m9.3 40.4h0m-9.5 -3.5h0m4.8 3.1h0m4.7 -20.6h0m-1 2.9h0m-1.4 2.2h0m3.8 24.5h0m1.5 -7.7h0m-3.5 -29.4h0m4.3 14.7h0m-3.6 11.1h0m-3.4 4.6h0m-1.1 -24.8h0m5.5 -16.7h0m-12.1 32.9h0m2.4 -38.5h0m1.7 35.7h0m6.3 -14.5h0m-7.8 -0.3h0m12 14.8h0m-4.7 -15.1h0m-5.2 11.5h0m7.4 -8.5h0m-6.1 12.3h0m6.9 0.5h0m-2.9 6.4h0m-3.9 4.3h0m6.2 -20.6h0m2.1 0.9h0m-6.9 -25.8h0m-7.6 20.4h0m6.8 -0.7h0m3.2 30h0m-2.9 -33.1h0m-6.6 9.4h0m12.5 27.6h0m-2.7 -3.9h0m-3.2 -10h0m-5.2 -11.6h0m2.1 -9.3h0m8.8 18.2h0m-9.2 -19.1h0m-1 26.3h0m2.4 -7.8h0m2.4 3.6h0m2.2 -21.3h0m-5.7 -27.5h0m9.1 53.9h0m-7.1 -65h0m16.6 52.5h0m6.3 -7.9h0m2.3 10.1h0m-10 9.2h0m8.5 -20.1h0m-6.5 11.2h0m-1.1 -1.5h0m-0.5 -7.9h0m-2 10.9h0m-0.5 -2.7h0m9.1 -22.7h0m1.9 24.4h0m-5.7 -6.6h0m6.1 -18.8h0m-8.6 34.6h0m-0.2 -6h0m8 -12.3h0m-8.5 -11h0m-2.6 35.5h0m2.4 -9.7h0m8.8 -2.2h0m-10.4 2.9h0m1.6 -1.5h0m-1.1 -3.5h0m5.9 8.1h0m0.7 -16.7h0m-5.5 -14.2h0m-1.2 15h0m10.9 -9.1h0m-9.6 26.4h0m10.6 -13.3h0m-5.1 0.7h0m5.2 -25.2h0m-9.3 18.5h0m-0.1 -29.7h0m6.1 14.7h0m-9.9 17.3h0m1.2 -17.2h0m11 29.2h0m-7.2 -21.1h0m2.1 6.4h0m1.2 2.6h0m-6.6 -19.2h0m10.5 19.3h0m1.4 -12.1h0m-6.3 -55.2h0m20 61.8h0m3.7 4h0m-10.9 2h0m0.6 2h0m8.9 4h0m-10.3 4h0m0.7 2h0m9.7 3.9h0m12.2 -97.7h0m7.3 16h0m-9.8 5.9h0m1 4h0m0.4 4h0m-0.9 0h0m2.7 2h0m-1.9 10h0m1.8 17.9h0m-2.8 20h0m1.3 2h0m9.6 -53.9h0m10 16h0m5 0h0m3 0h0m-6 33.9h0m12.9 -77.8h0m8.8 16h0m-7.8 2h0m-1 3.9h0m2.7 16h0m0.4 8h0m5.4 19.9h0m-5.6 28h0m-3.5 2h0m11.8 3.9h0m0.3 6h0m-10.5 -71.8h0m21 31.9h0m-5 26h0m3 2h0m2 13.9h0m18.4 -137.6h0m4 0h0m2 4h0m-4.6 38.5h0m1.1 60.7h0m0.8 -86.2h0m4 21.5h0m-5.4 19.4h0m4.1 34.1h0m-3.1 -58h0m-0.1 44.6h0m-3.3 -38.9h0m-2.4 54.4h0m4.9 -2.3h0m3.5 -29.6h0m-4.8 -43.6h0m0.8 37.9h0m-0.7 -22.1h0m-3.3 19.8h0m8.6 23.9h0m-1.4 -9.4h0m-3.5 25.1h0m-1.2 12h0m-3.9 -45.1h0m9.4 -21.2h0m-2.5 -23.2h0m0.4 35.4h0m-5.8 -4.5h0m1.2 6.5h0m2.7 44.9h0m-3.4 -61.1h0m1.3 43.2h0m6.6 24h0m-9.8 -30.7h0m4.7 -23.7h0m1.9 59.6h0m3.3 -49.3h0m0.8 -3.6h0m-8.6 15.3h0m5.2 -6.4h0m-2.6 17.9h0m0.5 -26.1h0m3.2 -40.6h0m-0.5 27.9h0m-2 47.4h0m3.5 -17.2h0m0.3 -17.3h0m-5.3 -50.6h0m-2.1 12.5h0m-2.9 32h0m1 -6.2h0m2.2 63.5h0m6.7 -57.6h0m-7.7 -43.8h0m0 42.5h0m3.3 72.5h0m5.9 -95.1h0m-5.2 -2.2h0m-0.7 41.3h0m6.8 6.9h0m-2.9 -8.4h0m-7.9 -8.2h0m8.9 -46.1h0m-10.1 64.2h0m6.1 -1.4h0m1.6 -43h0m-5 80.5h0m4.6 -68.7h0m-2.5 16.1h0m1.5 -14.8h0m0.1 -14.2h0m3 57.1h0m-4.9 7h0m2.6 17.1h0m-2.7 -68.7h0m3.9 10.6h0m-5.3 -9.4h0m-0.3 20.7h0m-1.6 -44.1h0m9.7 30.7h0m-9.3 27.8h0m9.2 -53.3h0m-9.5 10.9h0m7.5 1.2h0m-8.4 18.8h0m2 3.8h0m1.2 46.5h0m7.6 -84h0m-4.1 -10.9h0m1.5 55.5h0m-1.3 -4h0m-7.1 8.4h0m7.9 0h0m-1 4.5h0m-5.6 -18.7h0m-0.1 -29.1h0m5.1 33.6h0m-1 10.2h0m-1.5 -31h0m-1 45.2h0m8.9 -11.8h0m-10.8 9.7h0m3.2 36.8h0m-3 -52.7h0m4.5 -6.9h0m2.9 19.6h0m-4 -40h0m4.4 4.7h0m-4.1 80.8h0m-0.5 -53.3h0m0.8 -15.7h0m0.3 -51.4h0m-3.1 47.3h0m3.4 9h0m-2.1 -25.5h0m6.1 70.5h0m-1.6 -35.4h0m-5.2 -12.4h0m9.1 4.9h0m-10.2 -38.5h0m4.5 -19.9h0m-2 99.2h0m1.7 -44.5h0m-1 -32.9h0m-1.6 45.4h0m-2.7 -19h0m1.1 31h0m2.7 -27.8h0m8 4.9h0m-10.5 -10.7h0m7.6 33.2h0m-9.1 -33.3h0m6.8 -3.7h0m-6.2 48.5h0m5.7 12.9h0m5.5 -53.7h0m-9.7 -8.8h0m6.5 -11.8h0m-8.8 31.9h0m5.1 48.2h0m-0.8 -11.2h0m-2.8 -62.1h0m3.2 33h0m-4.5 -22.3h0m0.1 39.9h0m3 -63.6h0m-2.1 59.7h0m0.4 -31h0m1.2 -31.2h0m4.8 12.4h0m0 38.9h0m2.2 -30.4h0m-9.9 -3.7h0m5.4 21.3h0m-1.5 5.7h0m5.1 -18.4h0m-2.8 -23.1h0m0 20.5h0m3.5 -34.4h0m-1.2 55.9h0m-6.3 -4.5h0m4.2 -14h0m-1.1 -44.9h0m-4.8 70.5h0m6.6 12.3h0m-5.9 -11.8h0m2 11.1h0m5.2 -54.5h0m1.5 -6.5h0m0.5 3.4h0m-3.4 64.4h0m-0.7 -47.4h0m0.6 -0.8h0m2.1 -13.8h0m-3.7 56h0m-1.1 -82.7h0m-0.1 46.6h0m4.6 -7.6h0m-6.2 -24.5h0m-1.1 -16.3h0m1 19.3h0m5.3 40.7h0m-7.8 19.7h0m3.8 -35.9h0m-0.6 -33.3h0m-0.7 45.4h0m6.4 12.4h0m-1.3 -20h0m-4.4 -19.5h0m-0.9 19h0m4.9 6.3h0m-4.1 -13.9h0m5.2 -26.5h0m0.3 37.3h0m1.4 -14.2h0m-2.7 50.6h0m2.3 -44.3h0m-3.2 -0.7h0m3 28.6h0m-4.9 -51.1h0m-3 35h0m2.8 7.4h0m-3.3 -17.6h0m0.6 -33h0m3.9 38.4h0m6.2 8h0m-6 32.3h0m5.5 -7.2h0m-3 -15.6h0m-0.9 -49h0m-4.2 38.4h0m-1.1 23.5h0m6.6 -5.5h0m-6.1 -1.7h0m4.8 12.9h0m-0.6 -25.9h0m-1.2 21.8h0m-3 -39.4h0m0.5 1.7h0m5.1 13.1h0m-1.5 -10.7h0m5.3 -5.2h0m-6.2 6.9h0m2.8 -12.5h0m-4.5 60.8h0m-2 -26.5h0m10.1 -16.5h0m-6.4 41.6h0m-2.1 -66.4h0m5.9 28.4h0m0.9 17.3h0m-4.8 20.2h0m0.8 -90.7h0m3.5 60h0m0.3 -38h0m1.8 29.3h0m-8.8 1.4h0m3.7 -41.2h0m-1.4 57.6h0m4.2 -69.1h0m-9.4 53.4h0m7.1 35.2h0m-3.4 21h0m7.2 -63h0m-8.1 -0.7h0m2.2 40.4h0m5.3 -35.3h0m1.1 -18.4h0m-9 64.7h0m5.9 -17h0m-8.5 -30.6h0m6.9 -5.5h0m-0.2 -6.2h0m2 2.7h0m-0.2 33.8h0m-4.9 12.4h0m3.6 -62h0m2.2 19.5h0m-7 -26h0m3.4 3.1h0m-4.7 28.7h0m8.9 6.9h0m-7 0.6h0m3.8 -67.6h0m16.4 105.7h0" fill="none" stroke="#000" stroke-linecap="round" stroke-width="2.9"/><path d="M1397.2 1598.5h17.2M1415.6 1598.5h17.2M1434.1 1598.5h17.2M1452.5 1598.5h17.2M1470.9 1598.5h17.2M1489.4 1598.5h17.2M1507.8 1598.5h17.2M1526.2 1598.5h17.2M1544.6 1598.5h17.2" stroke="#000" stroke-width="2.9"/>
</g>
<g id="panel_d">
<defs>
<filter id="b1" filterUnits="userSpaceOnUse" x="-150" y="-150" width="600" height="600"><feGaussianBlur stdDeviation="1.0"/></filter>
<filter id="b2" filterUnits="userSpaceOnUse" x="-150" y="-150" width="600" height="600"><feGaussianBlur stdDeviation="2.2"/></filter>
<filter id="b4" filterUnits="userSpaceOnUse" x="-150" y="-150" width="600" height="600"><feGaussianBlur stdDeviation="4.5"/></filter>
<filter id="b8" filterUnits="userSpaceOnUse" x="-150" y="-150" width="600" height="600"><feGaussianBlur stdDeviation="9"/></filter>
<filter id="grain0" x="0" y="0" width="1" height="1"><feTurbulence type="fractalNoise" baseFrequency="0.28" numOctaves="3" seed="2"/><feColorMatrix type="matrix" values="0.6 0.6 0.6 0 -0.4 0.6 0.6 0.6 0 -0.4 0.6 0.6 0.6 0 -0.4 0 0 0 0 1"/></filter>
<filter id="grain1" x="0" y="0" width="1" height="1"><feTurbulence type="fractalNoise" baseFrequency="0.28" numOctaves="3" seed="3"/><feColorMatrix type="matrix" values="0.6 0.6 0.6 0 -0.4 0.6 0.6 0.6 0 -0.4 0.6 0.6 0.6 0 -0.4 0 0 0 0 1"/></filter>
<filter id="grain2" x="0" y="0" width="1" height="1"><feTurbulence type="fractalNoise" baseFrequency="0.28" numOctaves="3" seed="4"/><feColorMatrix type="matrix" values="0.6 0.6 0.6 0 -0.4 0.6 0.6 0.6 0 -0.4 0.6 0.6 0.6 0 -0.4 0 0 0 0 1"/></filter>
<filter id="wob0" filterUnits="userSpaceOnUse" x="-40" y="-40" width="340" height="340"><feTurbulence type="fractalNoise" baseFrequency="0.045" numOctaves="3" seed="7" result="t"/><feDisplacementMap in="SourceGraphic" in2="t" scale="22" xChannelSelector="R" yChannelSelector="G"/></filter>
<filter id="wob1" filterUnits="userSpaceOnUse" x="-40" y="-40" width="340" height="340"><feTurbulence type="fractalNoise" baseFrequency="0.045" numOctaves="3" seed="11" result="t"/><feDisplacementMap in="SourceGraphic" in2="t" scale="22" xChannelSelector="R" yChannelSelector="G"/></filter>
</defs>
<text x="5" y="1729" font-size="38.5">d</text>
<text transform="translate(62.79 1729.3) scale(1.1541 1)" font-size="23.5"><tspan fill="#e8202a">Pro-SP-B</tspan><tspan fill="#22dd33">ACE2</tspan><tspan fill="#1c28d8">DAPI</tspan></text>
<text transform="translate(353.25 1729.3) scale(1.1518 1)" font-size="23.5"><tspan fill="#e8202a">SP-B</tspan><tspan fill="#22dd33">ACE2</tspan><tspan fill="#1c28d8">DAPI</tspan></text>
<text transform="translate(577.59 1729.8) scale(1.1558 1)" font-size="23.5"><tspan fill="#e8202a">Pro-SP-C</tspan><tspan fill="#22dd33">ACE2</tspan><tspan fill="#1c28d8">DAPI</tspan></text>
<text transform="translate(868.75 1729.8) scale(1.1498 1)" font-size="23.5"><tspan fill="#e8202a">SP-C</tspan><tspan fill="#22dd33">ACE2</tspan><tspan fill="#1c28d8">DAPI</tspan></text>
<clipPath id="dc1"><rect x="50.6" y="1736.3" width="250.3" height="248.5"/></clipPath><g clip-path="url(#dc1)"><rect x="50.6" y="1736.3" width="250.3" height="248.5" fill="#555556"/><g transform="translate(50.6 1736.3)" filter="url(#wob0)"><path d="M114 8L105 33L87 59L58 77L40 98L38 116L54 142L65 171L69 203L61 229L58 250" fill="none" stroke="#4a4a78" stroke-width="28" stroke-linecap="round" stroke-linejoin="round" filter="url(#b4)" opacity="0.9"/><path d="M114 8L105 33L87 59L58 77L40 98L38 116L54 142L65 171L69 203L61 229L58 250" fill="none" stroke="#3b3fd6" stroke-width="20" stroke-linecap="round" stroke-linejoin="round" filter="url(#b2)"/><path d="M87 98L97 103" fill="none" stroke="#3b3fd6" stroke-width="14" stroke-linecap="round" stroke-linejoin="round" filter="url(#b2)"/><path d="M56 142L90 152L120 163L140 170" fill="none" stroke="#4048b8" stroke-width="9" stroke-linecap="round" stroke-linejoin="round" filter="url(#b2)" opacity="0.9"/><path d="M70 160L100 172L135 185L150 196" fill="none" stroke="#3a3a3a" stroke-width="3" stroke-linecap="round" stroke-linejoin="round" filter="url(#b1)" opacity="0.6"/><path d="M123 4L113 28L97 52L67 70" fill="none" stroke="#e83a58" stroke-width="8" stroke-linecap="round" stroke-linejoin="round" filter="url(#b2)" opacity="0.9"/><path d="M35 100L31 125L41 150" fill="none" stroke="#e83a58" stroke-width="5" stroke-linecap="round" stroke-linejoin="round" filter="url(#b2)" opacity="0.8"/><g fill="none" stroke="#5058e0" stroke-linecap="round" filter="url(#b1)" opacity="0.9"><path d="M52 149h0m4 84h0m56 -217h0m-46 47h0m-7 176h0m22 -185h0m-20 21h0m4 163h0m-12 -156h0m46 -48h0m-25 180h0m-10 14h0m-34 -124h0m39 -40h0m-21 16h0m12 87h0m-27 -53h0m29 -49h0" stroke-width="7.2"/><path d="M52 157h0m5 -26h0m33 -86h0m-28 99h0m8 72h0m-18 28h0m0 -4h0m5 -152h0m44 -68h0m-41 162h0m61 -169h0m-23 43h0m-44 112h0m48 -148h0m-69 99h0m58 -77h0m-25 134h0m-25 -60h0m8 -34h0" stroke-width="5.0"/><path d="M43 110h0m68 -84h0m0 -18h0m-51 61h0m10 123h0m-17 37h0m55 -196h0m-59 94h0m52 -109h0m-53 78h0m22 107h0m-12 -26h0m17 14h0m-15 52h0m-11 -146h0m1 149h0m8 -114h0m17 -69h0" stroke-width="6.1"/></g><ellipse cx="114" cy="12" rx="6" ry="6" fill="#f03048" filter="url(#b2)"/><ellipse cx="101" cy="40" rx="5" ry="5" fill="#f03048" filter="url(#b2)"/><ellipse cx="94" cy="107" rx="5" ry="5" fill="#f03048" filter="url(#b2)"/><ellipse cx="36" cy="113" rx="5" ry="5" fill="#f03048" filter="url(#b2)"/><ellipse cx="67" cy="203" rx="10" ry="10" fill="#f03048" filter="url(#b2)"/><ellipse cx="60" cy="187" rx="5" ry="5" fill="#f03048" filter="url(#b2)"/><ellipse cx="62" cy="66" rx="4" ry="4" fill="#f03048" filter="url(#b2)"/><ellipse cx="41" cy="106" rx="2.5" ry="6" fill="#22dd33" filter="url(#b1)"/><ellipse cx="181" cy="8" rx="7" ry="7" fill="#4060b0" filter="url(#b2)" opacity="0.8"/><ellipse cx="190" cy="10" rx="3" ry="3" fill="#30a060" filter="url(#b1)" opacity="0.8"/><ellipse cx="138" cy="156" rx="3" ry="3" fill="#3070e0" filter="url(#b1)"/></g><rect x="50.6" y="1736.3" width="250.3" height="248.5" filter="url(#grain0)" style="mix-blend-mode:soft-light" opacity=".4"/><rect x="202.5" y="1885.3" width="100.40000000000003" height="101.5" fill="#fff"/><clipPath id="di1"><rect x="208" y="1890" width="92.90000000000003" height="94.79999999999995"/></clipPath><g clip-path="url(#di1)"><rect x="208" y="1890" width="92.90000000000003" height="94.79999999999995" fill="#4a4a4c"/><g transform="translate(208 1890)" filter="url(#wob1)"><path d="M75 0L70 30L78 60L72 95" fill="none" stroke="#3238b0" stroke-width="34" stroke-linecap="round" stroke-linejoin="round" filter="url(#b4)" opacity="0.95"/><g fill="none" stroke="#5058e0" stroke-linecap="round" filter="url(#b2)" opacity="0.9"><path d="M70 77h0m-4 -43h0m14 45h0m-12 2h0m-7 -67h0m7 33h0m19 24h0" stroke-width="12.9"/><path d="M72 91h0m-1 -35h0m-2 5h0m18 -40h0m-19 16h0m12 0h0m-18 -28h0m19 41h0" stroke-width="10.9"/><path d="M92 71h0m-24 -28h0m5 21h0m10 -22h0m-4 -28h0m-21 6h0m13 -17h0" stroke-width="9.0"/></g><path d="M36 10L30 35L34 58L44 80" fill="none" stroke="#c04a90" stroke-width="16" stroke-linecap="round" stroke-linejoin="round" filter="url(#b4)"/><ellipse cx="33" cy="40" rx="9" ry="14" fill="#f03858" filter="url(#b2)"/><ellipse cx="46" cy="24" rx="2.5" ry="9" fill="#40e060" filter="url(#b1)"/><ellipse cx="40" cy="66" rx="8" ry="8" fill="#4848d8" filter="url(#b2)"/><path d="M52 0L56 30L50 60L58 95" fill="none" stroke="#2a2a2a" stroke-width="3" stroke-linecap="round" stroke-linejoin="round" filter="url(#b1)" opacity="0.7"/></g><rect x="208" y="1890" width="92.90000000000003" height="94.79999999999995" filter="url(#grain1)" style="mix-blend-mode:soft-light" opacity=".5"/></g><path d="M66.2 1968.1H145.8M239.8 1964.5H282.8" stroke="#fff" stroke-width="2.7"/></g>
<clipPath id="dc2"><rect x="321.2" y="1736.3" width="239.4" height="246.7"/></clipPath><g clip-path="url(#dc2)"><rect x="321.2" y="1736.3" width="239.4" height="246.7" fill="#525253"/><g transform="translate(321.2 1736.3)" filter="url(#wob1)"><path d="M1 106L40 73L88 55L149 44L163 19L200 4" fill="none" stroke="#50487a" stroke-width="30" stroke-linecap="round" stroke-linejoin="round" filter="url(#b4)" opacity="0.9"/><path d="M40 140L75 120L113 127L150 110L178 85" fill="none" stroke="#4c4674" stroke-width="72" stroke-linecap="round" stroke-linejoin="round" filter="url(#b8)" opacity="0.9"/><path d="M1 106L40 73L88 55L149 44L163 19L200 4" fill="none" stroke="#3b3fd6" stroke-width="22" stroke-linecap="round" stroke-linejoin="round" filter="url(#b2)"/><path d="M40 140L75 120L113 127L150 110L178 85" fill="none" stroke="#4a40c4" stroke-width="56" stroke-linecap="round" stroke-linejoin="round" filter="url(#b4)"/><path d="M60 160L100 172L135 165" fill="none" stroke="#6a4cc0" stroke-width="32" stroke-linecap="round" stroke-linejoin="round" filter="url(#b4)" opacity="0.9"/><path d="M4 200L10 225L14 250" fill="none" stroke="#6040b0" stroke-width="12" stroke-linecap="round" stroke-linejoin="round" filter="url(#b2)"/><path d="M200 70L215 95L205 120" fill="none" stroke="#4a40a8" stroke-width="14" stroke-linecap="round" stroke-linejoin="round" filter="url(#b4)" opacity="0.8"/><path d="M0 95L38 62L86 44L146 33L158 10L196 -4" fill="none" stroke="#e83a58" stroke-width="3.5" stroke-linecap="round" stroke-linejoin="round" filter="url(#b1)" opacity="0.95"/><path d="M6 118L45 86L92 68L150 58" fill="none" stroke="#e83a58" stroke-width="3" stroke-linecap="round" stroke-linejoin="round" filter="url(#b1)" opacity="0.8"/><g fill="none" stroke="#5058e0" stroke-linecap="round" filter="url(#b1)" opacity="0.9"><path d="M194 14h0m-30 10h0m-136 62h0m167 -69h0m-174 74h0m38 -14h0m136 -61h0m-142 64h0m46 -32h0m-75 42h0m33 -21h0m52 -19h0m47 -22h0m-4 17h0m28 -36h0m-83 45h0m-35 3h0m102 -45h0m-134 73h0" stroke-width="6.2"/><path d="M72 70h0m2 -11h0m-70 46h0m184 -90h0m-162 78h0m83 -45h0m46 -11h0m21 -22h0m-10 -4h0m-20 32h0m19 -10h0m-12 -15h0m48 -10h0m-10 5h0m-132 63h0m68 -30h0m1 -8h0m-56 13h0m-48 34h0" stroke-width="5.0"/><path d="M28 87h0m53 -34h0m-23 20h0m-10 -11h0m87 -13h0m-88 20h0m113 -59h0m8 14h0m-159 82h0m111 -51h0m5 -7h0m-55 3h0" stroke-width="7.4"/></g><g fill="none" stroke="#5058e0" stroke-linecap="round" filter="url(#b1)" opacity="0.9"><path d="M170 97h0m-107 40h0m3 -25h0m32 37h0m5 4h0m-54 -46h0m34 -4h0m-24 60h0m32 -6h0m14 -64h0m73 -6h0m-120 7h0m-18 26h0m120 -49h0m-71 24h0m-36 -1h0m57 37h0m-51 -35h0m93 19h0m-118 -1h0m149 9h0m-114 -5h0m24 -29h0m14 32h0m64 11h0m-17 -69h0m-49 90h0m34 -15h0m-97 2h0m-5 -14h0m69 14h0m39 -15h0m3 -26h0m-112 10h0m84 -8h0m65 16h0m-58 20h0m-72 -41h0m46 23h0m-70 -5h0m102 -30h0m2 1h0m-49 10h0m11 14h0m52 24h0m-47 -36h0" stroke-width="8.0"/><path d="M75 124h0m74 -12h0m-92 32h0m3 -8h0m103 -39h0m-33 1h0m-39 17h0m11 -19h0m4 48h0m-4 -21h0m-12 27h0m-23 -43h0m36 50h0m33 -66h0m-102 31h0m50 -3h0m68 7h0m-46 31h0m-18 -66h0m9 35h0m-40 -27h0m31 -3h0m28 10h0m12 -21h0m-47 27h0m70 13h0m-1 -26h0m-112 16h0m94 -13h0m21 11h0m15 2h0m11 -22h0m-27 7h0m-90 10h0m6 2h0m59 1h0m31 -11h0m-97 17h0m78 -2h0m-62 34h0m39 -34h0m35 -35h0m7 3h0m-17 65h0m-23 -50h0m62 26h0m-66 -27h0m-67 4h0m97 46h0m-105 -43h0m76 10h0m-37 16h0" stroke-width="6.7"/><path d="M68 114h0m4 25h0m60 -57h0m-97 33h0m147 -19h0m-17 14h0m-37 16h0m-76 -30h0m127 5h0m-48 2h0m-52 29h0m52 -19h0m-105 0h0m12 -6h0m135 -9h0m-36 35h0m-53 -15h0m-23 32h0m42 -38h0m29 37h0m32 -37h0m-57 -8h0m-8 52h0m-49 -36h0m67 -6h0m75 -9h0m-143 -3h0m103 -22h0m-69 55h0m108 -32h0m-59 35h0m-1 -52h0m19 59h0m-1 -9h0m5 -54h0m-54 20h0m0 -5h0m-25 32h0m-8 6h0m109 -12h0m-46 7h0m37 -22h0m-89 26h0m40 -40h0m38 38h0m0 8h0m-62 -19h0m29 -8h0m-17 46h0m-47 -9h0m28 -11h0m-4 -29h0" stroke-width="9.3"/></g><g fill="none" stroke="#5058e0" stroke-linecap="round" filter="url(#b1)" opacity="0.9"><path d="M77 152h0m62 15h0m-7 -15h0m-40 14h0m7 -10h0m21 10h0m12 5h0m6 -15h0m-44 0h0m13 10h0m12 0h0m-21 -11h0m-34 3h0m35 4h0m-40 -14h0" stroke-width="8.0"/><path d="M120 151h0m-63 1h0m14 29h0m-14 -36h0m27 36h0m48 -19h0m-12 4h0m-71 5h0m68 -6h0m-54 -1h0m29 9h0m-3 2h0m-6 -6h0m54 12h0m-57 -26h0m-23 5h0m41 8h0m-22 0h0m-4 7h0" stroke-width="9.3"/><path d="M86 152h0m4 17h0m30 13h0m-46 -17h0m34 -7h0m25 22h0m-31 -21h0m33 22h0m-68 -19h0m44 -6h0m-40 11h0m26 12h0m-6 -2h0m15 4h0m-21 -29h0m-26 27h0" stroke-width="6.7"/></g><g fill="none" stroke="#f06080" stroke-linecap="round" filter="url(#b1)" opacity="0.7"><path d="M72 143h0m-1 3h0m-16 5h0m77 -66h0m-32 48h0m-49 -29h0m87 7h0m-13 23h0m-79 -17h0m108 -33h0m-12 56h0m-79 25h0m-7 -17h0m122 -59h0m-73 16h0m58 -18h0m6 3h0m3 7h0m-67 47h0m12 -38h0" stroke-width="3.6"/><path d="M94 133h0m57 -54h0m-44 73h0m25 -25h0m22 -57h0m-27 19h0m-49 17h0m34 -4h0m-42 49h0m-23 -27h0m104 -48h0m17 49h0m-22 22h0m-3 -46h0m-4 31h0m-38 -19h0m41 -37h0m24 20h0m-63 10h0m13 4h0m-59 23h0m49 -31h0m-30 36h0m-29 -29h0m22 30h0m-14 10h0" stroke-width="2.8"/><path d="M25 111h0m89 -14h0m-9 39h0m37 -54h0m8 29h0m-39 18h0m-31 24h0m47 1h0m-15 -55h0m-35 25h0m83 -40h0m-112 27h0m86 -24h0m-31 47h0" stroke-width="4.4"/></g><ellipse cx="120" cy="68" rx="12" ry="7" fill="#3a3a3c" filter="url(#b4)" opacity="0.9"/><g fill="none" stroke="#e060a0" stroke-linecap="round" filter="url(#b2)" opacity="0.7"><path d="M126 155h0m7 -13h0m7 20h0m-63 9h0m15 -29h0m25 35h0m-47 -25h0m62 6h0m-9 21h0m8 -4h0" stroke-width="6.1"/><path d="M118 166h0m6 8h0m2 -12h0m-13 -12h0m-42 25h0m32 -16h0m-10 8h0m-21 -33h0m-14 28h0m-2 3h0" stroke-width="7.3"/><path d="M139 146h0m-48 37h0m-37 -16h0m85 -4h0m-18 15h0m15 -6h0m-27 -3h0m-16 0h0m5 4h0m-19 -1h0" stroke-width="4.8"/></g><ellipse cx="40" cy="145" rx="9" ry="9" fill="#fff0b0" filter="url(#b2)" opacity="0.95"/><ellipse cx="50" cy="138" rx="6" ry="6" fill="#fff0b0" filter="url(#b2)" opacity="0.95"/><ellipse cx="77" cy="116" rx="8" ry="8" fill="#fff0b0" filter="url(#b2)" opacity="0.95"/><ellipse cx="131" cy="84" rx="7" ry="7" fill="#fff0b0" filter="url(#b2)" opacity="0.95"/><ellipse cx="100" cy="108" rx="6" ry="6" fill="#fff0b0" filter="url(#b2)" opacity="0.95"/><ellipse cx="150" cy="100" rx="5" ry="5" fill="#fff0b0" filter="url(#b2)" opacity="0.95"/><ellipse cx="120" cy="140" rx="6" ry="6" fill="#f0a060" filter="url(#b2)" opacity="0.8"/><ellipse cx="90" cy="150" rx="6" ry="6" fill="#f0a060" filter="url(#b2)" opacity="0.8"/><ellipse cx="160" cy="125" rx="5" ry="5" fill="#f0a060" filter="url(#b2)" opacity="0.8"/><ellipse cx="60" cy="125" rx="5" ry="5" fill="#f0a060" filter="url(#b2)" opacity="0.8"/><ellipse cx="198" cy="12" rx="6" ry="6" fill="#e030a0" filter="url(#b2)"/><ellipse cx="186" cy="22" rx="5" ry="5" fill="#e83a58" filter="url(#b2)"/></g><rect x="321.2" y="1736.3" width="239.4" height="246.7" filter="url(#grain1)" style="mix-blend-mode:soft-light" opacity=".4"/><rect x="461.1" y="1885.3" width="101.5" height="99.70000000000005" fill="#fff"/><clipPath id="di2"><rect x="466.5" y="1890" width="94.10000000000002" height="93.0"/></clipPath><g clip-path="url(#di2)"><rect x="466.5" y="1890" width="94.10000000000002" height="93.0" fill="#48484a"/><g transform="translate(466.5 1890)" filter="url(#wob0)"><g fill="none" stroke="#4048b0" stroke-linecap="round" filter="url(#b2)" opacity="0.8"><path d="M28 2h0m2 -1h0m-2 22h0m29 -14h0m15 13h0m-24 7h0m-33 -14h0" stroke-width="9.8"/><path d="M18 9h0m22 8h0m-15 -8h0m33 17h0m-36 -19h0m-1 4h0" stroke-width="8.6"/><path d="M17 27h0m25 1h0m29 -6h0m1 7h0m-35 -5h0" stroke-width="11.0"/></g><path d="M40 30L47 52L52 75" fill="none" stroke="#4a48c0" stroke-width="18" stroke-linecap="round" stroke-linejoin="round" filter="url(#b4)"/><ellipse cx="50" cy="52" rx="11" ry="11" fill="#7858d0" filter="url(#b2)"/><ellipse cx="46" cy="58" rx="6" ry="6" fill="#e05090" filter="url(#b2)"/><ellipse cx="58" cy="56" rx="3" ry="6" fill="#f0d070" filter="url(#b1)"/><g fill="none" stroke="#4048b0" stroke-linecap="round" filter="url(#b2)" opacity="0.7"><path d="M9 60h0m13 24h0m-13 -22h0" stroke-width="11.2"/><path d="M17 60h0" stroke-width="8.7"/><path d="M9 76h0m8 12h0" stroke-width="9.9"/></g></g><rect x="466.5" y="1890" width="94.10000000000002" height="93.0" filter="url(#grain2)" style="mix-blend-mode:soft-light" opacity=".5"/></g><path d="M336.3 1968.1H413.4M502.7 1964.5H545.4" stroke="#fff" stroke-width="2.7"/></g>
<clipPath id="dc3"><rect x="583.5" y="1738.1" width="242.3" height="245"/></clipPath><g clip-path="url(#dc3)"><rect x="583.5" y="1738.1" width="242.3" height="245" fill="#6f6f70"/><g transform="translate(583.5 1738.1)" filter="url(#wob0)"><path d="M210 60L160 110L140 170L170 250" fill="none" stroke="#5e5e60" stroke-width="90" stroke-linecap="round" stroke-linejoin="round" filter="url(#b8)" opacity="0.7"/><path d="M205 -12L186 3L147 42L106 89L84 140L82 187L100 227L80 262" fill="none" stroke="#4a4e90" stroke-width="64" stroke-linecap="round" stroke-linejoin="round" filter="url(#b4)" opacity="0.9"/><path d="M205 -12L186 3L147 42L106 89L84 140L82 187L100 227L80 262" fill="none" stroke="#3038b8" stroke-width="52" stroke-linecap="round" stroke-linejoin="round" filter="url(#b2)"/><g fill="none" stroke="#4450ec" stroke-linecap="round" filter="url(#b1)" opacity="0.9"><path d="M166 28h0m-54 172h0m34 -169h0m27 -32h0m-58 125h0m-18 -10h0m79 -85h0m-55 28h0m-17 57h0m-12 105h0m-15 -61h0m45 -58h0m-14 132h0m93 -213h0m-79 71h0m-22 -2h0m-4 72h0m58 -141h0m-62 216h0m102 -221h0m-72 72h0m64 -47h0m-25 11h0m-80 48h0m9 89h0m-6 -61h0m56 -59h0m14 -6h0m-40 186h0m2 -150h0m-32 83h0m-20 25h0m129 -208h0m-73 61h0m-23 117h0m54 -136h0m-82 140h0m23 67h0m22 -32h0m-29 -98h0m13 -8h0m33 -58h0m-39 36h0m89 -105h0m29 16h0m-23 11h0m-57 15h0m80 -14h0m-54 38h0m-15 -25h0m-35 140h0m59 -106h0m28 -44h0m-43 26h0m-55 214h0m33 -210h0" stroke-width="8.7"/><path d="M105 205h0m20 -152h0m-37 182h0m93 -240h0m-28 73h0m-52 180h0m6 -195h0m13 163h0m-41 -75h0m14 -52h0m39 -42h0m-13 57h0m44 -76h0m-79 154h0m12 11h0m97 -196h0m-78 130h0m-46 124h0m56 -145h0m16 -93h0m22 45h0m-82 163h0m91 -187h0m-74 102h0m47 -88h0m-67 141h0m5 38h0m85 -170h0m-28 -39h0m-35 153h0m-6 -73h0m-21 11h0m-2 31h0m25 -48h0m63 -98h0m-57 119h0m-31 58h0m-2 41h0m56 -151h0m13 -47h0m-21 31h0m-14 61h0m32 -17h0m-44 160h0m79 -237h0m-16 -3h0m-83 217h0m4 31h0m69 -212h0m-48 74h0m96 -136h0m-107 234h0m-9 -120h0m6 134h0m43 -157h0m55 -95h0m-66 120h0m75 -100h0" stroke-width="7.2"/><path d="M116 49h0m21 28h0m-16 29h0m26 -45h0m21 -59h0m-86 168h0m8 49h0m14 -70h0m4 -85h0m-13 184h0m2 23h0m69 -242h0m-10 40h0m-70 65h0m15 10h0m-31 110h0m139 -256h0m-123 226h0m2 26h0m9 -110h0m-22 -7h0m83 -86h0m-42 65h0m-38 33h0m5 90h0m24 -88h0m-18 117h0m17 -4h0m-25 -103h0m-8 -13h0m18 -70h0m1 113h0m-4 41h0m23 -90h0m-31 24h0m95 -135h0m-67 195h0m104 -224h0m-142 179h0m42 -77h0m-3 6h0m-23 7h0m115 -94h0m-104 119h0m84 -157h0m-18 49h0m-66 204h0m59 -233h0m-65 260h0m-17 -37h0m71 -173h0m-73 83h0m77 -111h0m-64 122h0m109 -116h0m-45 -18h0" stroke-width="10.2"/></g><g fill="none" stroke="#1c2470" stroke-linecap="round" filter="url(#b1)" opacity="0.7"><path d="M91 153h0m-13 52h0m45 -108h0m-31 72h0m-6 61h0m-13 -87h0m18 42h0m68 -123h0m-53 79h0m-16 42h0m6 -45h0m-8 11h0m1 18h0m-17 -56h0m58 -41h0m-39 163h0m53 -187h0m-63 78h0m31 78h0m-29 29h0m6 -58h0m9 91h0m-7 -189h0m83 -41h0m-28 29h0m33 -48h0m-54 89h0" stroke-width="2.3"/><path d="M130 53h0m-40 49h0m-4 137h0m10 28h0m8 -58h0m5 -161h0m-11 52h0m3 10h0m8 -45h0m49 -67h0m-78 191h0m80 -122h0m-18 -37h0m-58 111h0m1 -37h0m-25 38h0m119 -110h0m30 -14h0m-128 112h0m-6 68h0m13 -15h0m7 -15h0m71 -124h0m-62 200h0m-5 -72h0m59 -154h0m-76 75h0m32 -3h0" stroke-width="3.0"/><path d="M91 248h0m123 -235h0m-90 60h0m-30 82h0m-12 -23h0m-17 14h0m15 68h0m50 -123h0m17 -61h0m-63 173h0m2 -81h0m83 -91h0m-85 127h0m51 -90h0m-48 98h0m110 -174h0m-83 243h0m-38 -74h0m29 7h0m76 -137h0m-29 16h0m-8 -31h0m-49 151h0m-10 -33h0m7 95h0m54 -175h0m-30 51h0m69 -88h0m-77 43h0m-2 62h0m22 -86h0m-24 213h0m-1 -122h0m2 -67h0m100 -70h0" stroke-width="3.7"/></g><g fill="none" stroke="#f09070" stroke-linecap="round" filter="url(#b1)" opacity="0.75"><path d="M79 244h0m-20 -104h0m43 -42h0m-18 63h0m-25 89h0m28 -33h0m10 22h0m-32 -81h0m91 -107h0m-8 -30h0m-72 238h0m106 -266h0m16 23h0" stroke-width="5.5"/><path d="M86 123h0m121 -109h0m-116 199h0m98 -195h0m-28 -7h0m-1 9h0m-89 161h0m33 -30h0m-30 -24h0m96 -100h0m-82 191h0m75 -205h0m-63 95h0m46 -97h0m-46 164h0" stroke-width="3.6"/><path d="M112 91h0m38 -43h0m-58 24h0m53 -16h0m-55 85h0m15 -8h0m6 -18h0m32 -78h0m-7 20h0m-71 91h0m24 -28h0m73 -109h0m-14 16h0m-46 134h0m-39 88h0m14 -46h0m-15 -54h0" stroke-width="4.5"/></g><g fill="none" stroke="#b0b8ff" stroke-linecap="round" filter="url(#b2)" opacity="0.5"><path d="M61 175h0m111 -171h0m-95 199h0m57 -169h0m-75 129h0m30 -41h0m24 -54h0m34 -1h0m-39 147h0m6 -98h0" stroke-width="4.9"/><path d="M114 104h0m16 -40h0m-31 143h0m-7 17h0m0 -28h0m69 -194h0m-42 92h0" stroke-width="6.6"/><path d="M103 109h0m3 88h0m2 59h0m10 -178h0m32 -60h0m-13 6h0m-66 87h0m64 -69h0" stroke-width="5.7"/></g><path d="M150 20L165 35L185 40" fill="none" stroke="#f08060" stroke-width="3" stroke-linecap="round" stroke-linejoin="round" filter="url(#b1)" opacity="0.8"/><path d="M70 100L90 110L100 125" fill="none" stroke="#f09060" stroke-width="3" stroke-linecap="round" stroke-linejoin="round" filter="url(#b1)" opacity="0.8"/></g><rect x="583.5" y="1738.1" width="242.3" height="245" filter="url(#grain2)" style="mix-blend-mode:soft-light" opacity=".4"/><rect x="728.2" y="1885.3" width="99.59999999999991" height="99.79999999999995" fill="#fff"/><clipPath id="di3"><rect x="731.8" y="1890.7" width="94.0" height="92.39999999999986"/></clipPath><g clip-path="url(#di3)"><rect x="731.8" y="1890.7" width="94.0" height="92.39999999999986" fill="#3c46dc"/><g transform="translate(731.8 1890.7)" filter="url(#wob1)"><rect x="-5" y="-5" width="110" height="110" fill="#3038c0"/><g fill="none" stroke="#4a5cf4" stroke-linecap="round" filter="url(#b2)" opacity="0.9"><path d="M38 5h0m53 22h0m-24 3h0m-63 -19h0m38 24h0m-32 -34h0m39 13h0m-35 19h0m81 -23h0m-48 28h0" stroke-width="11.6"/><path d="M57 12h0m15 2h0m-32 14h0m-26 -13h0m-10 23h0m5 -30h0m39 22h0m-35 0h0m16 -15h0m-1 3h0m-16 20h0m30 -31h0m32 33h0m-53 -27h0" stroke-width="15.1"/><path d="M69 18h0m-15 16h0m-33 0h0m37 -4h0" stroke-width="13.4"/></g><g fill="none" stroke="#4a5cf4" stroke-linecap="round" filter="url(#b2)" opacity="0.9"><path d="M50 47h0m44 29h0m-51 1h0m34 10h0m-75 -33h0m65 9h0m7 10h0m-74 -15h0m83 19h0m-69 9h0m57 -13h0m-60 -1h0m29 -21h0m8 -3h0m32 6h0m-57 34h0m40 4h0" stroke-width="12.9"/><path d="M46 90h0m28 -9h0m-59 -3h0m-8 -29h0m58 24h0m-28 21h0m-32 -4h0m67 -30h0m21 -12h0m-92 12h0" stroke-width="14.8"/><path d="M19 70h0m0 23h0m14 -13h0m12 -21h0m-4 -2h0m-10 -6h0m59 10h0" stroke-width="11.1"/></g><path d="M0 22L20 20L34 32L40 50L62 56L90 48" fill="none" stroke="#ff8f80" stroke-width="3.5" stroke-linecap="round" stroke-linejoin="round" filter="url(#b1)" opacity="0.95"/><path d="M34 32L50 22L70 24" fill="none" stroke="#ffa0b0" stroke-width="3" stroke-linecap="round" stroke-linejoin="round" filter="url(#b1)" opacity="0.9"/><path d="M40 50L34 70L20 85" fill="none" stroke="#f0b070" stroke-width="3" stroke-linecap="round" stroke-linejoin="round" filter="url(#b1)" opacity="0.85"/><path d="M62 56L70 75L90 82" fill="none" stroke="#f0c080" stroke-width="3" stroke-linecap="round" stroke-linejoin="round" filter="url(#b1)" opacity="0.8"/><path d="M0 5L30 8L50 2" fill="none" stroke="#5a5a5a" stroke-width="5" stroke-linecap="round" stroke-linejoin="round" filter="url(#b2)" opacity="0.8"/></g><rect x="731.8" y="1890.7" width="94.0" height="92.39999999999986" filter="url(#grain0)" style="mix-blend-mode:soft-light" opacity=".5"/></g><path d="M602.3 1968.1H681.9M769 1964.5H812.1" stroke="#fff" stroke-width="2.7"/></g>
<clipPath id="dc4"><rect x="848.2" y="1737" width="242.4" height="246"/></clipPath><g clip-path="url(#dc4)"><rect x="848.2" y="1737" width="242.4" height="246" fill="#6a6a6c"/><g transform="translate(848.2 1737)" filter="url(#wob1)"><path d="M20 70L70 80L120 90L160 130" fill="none" stroke="#4a509c" stroke-width="120" stroke-linecap="round" stroke-linejoin="round" filter="url(#b8)" opacity="0.9"/><path d="M160 30L200 20L235 30L190 70" fill="none" stroke="#4a509c" stroke-width="70" stroke-linecap="round" stroke-linejoin="round" filter="url(#b8)" opacity="0.9"/><path d="M50 170L85 200L110 235L135 250" fill="none" stroke="#454c90" stroke-width="80" stroke-linecap="round" stroke-linejoin="round" filter="url(#b8)" opacity="0.9"/><path d="M20 70L70 80L120 90L160 130" fill="none" stroke="#3038b4" stroke-width="100" stroke-linecap="round" stroke-linejoin="round" filter="url(#b4)"/><path d="M160 30L200 20L235 30L190 70" fill="none" stroke="#3038b4" stroke-width="55" stroke-linecap="round" stroke-linejoin="round" filter="url(#b4)"/><path d="M50 170L85 200L110 235L135 250" fill="none" stroke="#3540b0" stroke-width="60" stroke-linecap="round" stroke-linejoin="round" filter="url(#b4)" opacity="0.9"/><ellipse cx="36" cy="12" rx="40" ry="18" fill="#6a6a6c" filter="url(#b8)"/><ellipse cx="225" cy="110" rx="34" ry="38" fill="#69696b" filter="url(#b8)"/><ellipse cx="8" cy="195" rx="18" ry="60" fill="#68686a" filter="url(#b8)"/><ellipse cx="105" cy="160" rx="40" ry="9" fill="#606064" filter="url(#b4)" opacity="0.85"/><g fill="none" stroke="#4458f0" stroke-linecap="round" filter="url(#b1)" opacity="0.9"><path d="M51 74h0m30 17h0m-10 5h0m25 -12h0m84 19h0m-145 3h0m58 -18h0m94 -3h0m-86 49h0m-30 -80h0m8 -11h0m35 93h0m-41 -82h0m-43 -10h0m34 39h0m17 -5h0m69 11h0m-35 27h0m-24 -73h0m73 76h0m-88 -53h0m-26 -12h0m93 65h0m-85 3h0m73 -21h0m-33 -23h0m-28 15h0m-16 -40h0m12 31h0m-36 32h0m42 -35h0m-8 5h0m88 38h0m-3 14h0m12 -36h0m-60 -49h0m3 70h0m-43 -6h0m81 -19h0m41 0h0m-155 -43h0m7 67h0m115 -46h0m-54 -19h0m28 13h0m-72 -11h0m-8 57h0m44 -5h0m19 11h0m60 -53h0m0 35h0m23 -18h0m-49 16h0m-87 6h0m-22 -21h0m17 -43h0m98 32h0m-84 45h0m-2 -48h0m-11 -14h0m53 59h0m-34 -25h0m120 5h0m-105 32h0m-54 -67h0m75 26h0" stroke-width="6.9"/><path d="M92 97h0m32 -1h0m-19 -43h0m25 36h0m-89 -19h0m71 66h0m-35 -95h0m35 91h0m-6 -4h0m33 -45h0m-14 -23h0m18 49h0m-45 -53h0m-19 -3h0m-2 41h0m14 28h0m-2 -73h0m24 57h0m-1 -19h0m-72 -3h0m50 3h0m-45 -53h0m-8 25h0m-5 3h0m-8 55h0m26 -88h0m-16 76h0m128 -40h0m-58 25h0m3 -32h0m-51 8h0m42 55h0m32 1h0m-15 -66h0m-71 27h0m141 0h0m-142 20h0m-14 -74h0m-12 88h0m109 -9h0m-35 -35h0m75 -8h0m-129 -5h0m69 56h0m-62 -15h0m75 65h0m-29 -38h0m5 -27h0m74 8h0m-96 -45h0m84 64h0m-49 -95h0m-71 16h0m13 32h0m-3 -60h0m145 69h0m-76 -34h0m-81 33h0m132 -25h0m-52 -8h0m-10 19h0m-88 42h0m143 8h0m-51 -89h0m4 78h0m44 0h0m-135 1h0m146 -1h0m-125 5h0m73 42h0m49 -91h0m-52 34h0m-7 19h0" stroke-width="10.2"/><path d="M68 47h0m37 -12h0m50 91h0m-68 -20h0m-29 -58h0m105 13h0m-62 31h0m-20 -61h0m-60 55h0m120 28h0m-39 -75h0m-9 10h0m5 89h0m19 1h0m-98 -43h0m95 56h0m-1 -88h0m21 27h0m-69 31h0m37 11h0m-39 -107h0m105 45h0m-68 62h0m33 -10h0m-23 11h0m41 -40h0m17 6h0m-50 -61h0m-11 99h0m-7 -20h0m-46 -36h0m29 24h0m31 -52h0m-4 31h0m10 55h0m15 -32h0m-29 -62h0m-61 10h0m110 40h0m-14 25h0m-72 -12h0m69 29h0m-20 -23h0m14 -5h0m38 -18h0m-109 -16h0m62 -9h0m42 53h0m-130 -47h0m65 71h0m9 2h0m-77 -65h0m-8 -22h0m140 38h0m-35 27h0m-87 -49h0m1 13h0m84 45h0m-81 -37h0m37 25h0m-29 -32h0" stroke-width="8.5"/></g><g fill="none" stroke="#4458f0" stroke-linecap="round" filter="url(#b1)" opacity="0.9"><path d="M249 51h0m-14 -35h0m-56 33h0m10 -52h0m5 -1h0m-9 35h0m-24 -21h0m70 54h0m-18 -57h0m-49 18h0m21 -12h0m18 14h0m42 17h0m-70 -48h0m33 35h0m-19 3h0" stroke-width="7.0"/><path d="M197 38h0m16 39h0m17 -50h0m4 -22h0m-6 65h0m-1 -36h0m-52 -36h0m57 16h0m-37 36h0m25 26h0m-8 -24h0m21 5h0m-25 -33h0m-25 -15h0m-2 43h0m13 -4h0m13 26h0m-18 -61h0m39 31h0m-26 35h0m11 -32h0m-4 33h0m28 -71h0m-55 33h0" stroke-width="10.2"/><path d="M209 29h0m-28 18h0m42 -15h0m1 14h0m-19 35h0m-42 -40h0m41 -4h0m19 -2h0m-14 47h0m-7 -42h0m13 -8h0m-1 40h0m-7 -16h0m-19 -6h0m28 -46h0m-16 28h0m8 -13h0m5 25h0m-8 21h0m-11 -13h0" stroke-width="8.6"/></g><g fill="none" stroke="#3a4ad8" stroke-linecap="round" filter="url(#b1)" opacity="0.95"><path d="M45 205h0m80 2h0m-8 -11h0m-37 -25h0m9 41h0m-18 -63h0m29 59h0m-15 -37h0m0 -4h0m-16 23h0m50 60h0m-51 -94h0m11 13h0m30 26h0m22 20h0m-13 17h0m-8 -28h0m-27 38h0m8 -17h0m-25 -55h0m52 59h0m-37 -63h0m-31 36h0m27 22h0m-9 -26h0m-17 -22h0m58 43h0m-7 18h0m-37 -18h0m-1 -45h0m32 44h0m-5 -46h0m-3 44h0m2 -14h0m-6 32h0m-14 -7h0m37 -9h0m-48 -4h0m14 7h0m58 22h0m-15 30h0m-3 -18h0" stroke-width="4.4"/><path d="M95 212h0m8 -34h0m-6 2h0m-5 55h0m-36 -50h0m13 40h0m-26 -28h0m71 57h0m17 -38h0m-67 -43h0m8 23h0m14 -34h0m15 43h0m-23 -7h0m51 19h0m6 18h0m-52 11h0m7 -42h0m-40 -4h0m3 -2h0m53 68h0m8 -11h0m12 -41h0m-70 -33h0m17 -2h0m18 65h0m17 21h0m-60 -89h0m2 34h0m74 37h0" stroke-width="5.2"/><path d="M115 270h0m-42 -40h0m-2 -10h0m53 7h0m-1 -3h0m-34 -47h0m-38 20h0m36 19h0m-30 -11h0m17 -19h0m-11 35h0m-9 -36h0m33 26h0m5 18h0m19 3h0m32 -7h0m-19 -7h0m-23 -8h0m11 -19h0m-22 8h0m-38 -16h0m26 57h0m24 -20h0m3 33h0m-32 -41h0m34 49h0m13 -54h0m-15 -2h0m-65 -17h0m72 23h0m-24 -43h0m-44 24h0m102 37h0m-73 -70h0m-20 33h0m42 14h0m-17 35h0m33 -51h0" stroke-width="6.0"/></g><g fill="none" stroke="#1c2470" stroke-linecap="round" filter="url(#b1)" opacity="0.7"><path d="M159 76h0m-125 -7h0m68 55h0m48 -41h0m24 13h0m-134 -67h0m21 49h0m134 13h0m-118 -9h0m85 43h0m-39 -10h0m23 -36h0m-67 -25h0m-33 -24h0m-1 47h0m29 -29h0m106 43h0m-66 -23h0m-48 34h0m47 48h0m-46 -38h0m41 27h0m10 -22h0m12 21h0m51 -49h0m-26 -17h0m2 28h0m-9 17h0m-18 -4h0m61 -16h0m-36 17h0m-81 -21h0m-10 32h0m20 3h0m80 -26h0m-30 50h0m26 -83h0m-50 67h0m-2 -90h0m11 5h0m52 20h0m-86 55h0m31 -10h0m-73 -24h0m45 24h0m-53 -69h0m83 31h0" stroke-width="4.0"/><path d="M63 72h0m96 0h0m-37 -7h0m-96 35h0m-4 5h0m84 -62h0m-17 37h0m-42 31h0m103 0h0m-89 11h0m59 20h0m-71 -52h0m-17 3h0m73 18h0m60 -27h0m-83 22h0m-11 -5h0m88 -34h0m-6 -5h0m-111 -28h0m34 28h0m16 51h0m92 -22h0m-156 -3h0m117 -5h0m-123 -20h0m74 15h0m14 36h0m-75 -19h0m94 12h0m-18 1h0m-70 -58h0m69 70h0m1 -1h0m-59 -66h0m103 62h0m-132 0h0m25 -53h0m61 64h0m-32 -6h0m17 6h0m24 -49h0" stroke-width="2.4"/><path d="M160 118h0m-115 -36h0m58 0h0m-49 -14h0m39 0h0m86 29h0m-110 -64h0m27 71h0m19 -15h0m-59 -27h0m105 15h0m0 39h0m22 -33h0m-117 37h0m12 -75h0m5 -14h0m71 80h0m1 -33h0m16 39h0m-59 9h0m37 -49h0m-34 26h0m15 49h0m-72 -74h0m40 39h0m94 -20h0m-90 45h0m-7 -86h0m13 78h0m-47 -45h0m78 34h0m-31 -4h0m-34 -20h0m22 -42h0m12 62h0m-43 -20h0m-22 24h0m-13 -41h0m-1 -27h0m62 71h0m-62 -20h0" stroke-width="3.2"/></g><g fill="none" stroke="#1c2470" stroke-linecap="round" filter="url(#b1)" opacity="0.7"><path d="M225 38h0m-17 -44h0m-16 48h0m-2 27h0m-24 -40h0m47 -4h0m-3 63h0m7 -55h0m4 -15h0m3 30h0m14 -6h0m-57 17h0m16 -17h0m-3 -39h0" stroke-width="2.4"/><path d="M204 16h0m-24 41h0m43 -34h0m-2 39h0m-13 -65h0m21 14h0m-33 31h0m-38 -38h0m29 38h0m39 -3h0m-42 -12h0m42 0h0" stroke-width="3.2"/><path d="M185 57h0m37 16h0m-61 -44h0m51 -11h0m20 23h0m1 -32h0m-22 18h0m-43 28h0m26 -7h0m37 -31h0m-17 54h0m-45 -18h0m47 28h0m-1 -39h0" stroke-width="4.0"/></g><g fill="none" stroke="#f0b060" stroke-linecap="round" filter="url(#b1)" opacity="0.75"><path d="M51 118h0m131 -25h0m-64 -35h0m-76 -4h0m114 57h0m-58 13h0m-78 -20h0m39 -56h0m-6 -20h0m109 62h0m-5 34h0m-121 -1h0m78 -10h0m-68 0h0m96 31h0m-74 -84h0m3 27h0m-35 -13h0m55 -20h0m62 65h0m-33 -7h0m-52 4h0m41 -32h0" stroke-width="5.8"/><path d="M109 136h0m-13 -3h0m8 -9h0m-53 -83h0m58 75h0m-66 -8h0m99 -34h0m-51 -39h0m16 109h0m15 -100h0m-82 39h0m1 -36h0m54 21h0m21 52h0m30 24h0m-82 -61h0m33 40h0m69 -27h0m-26 -22h0m-73 -44h0m40 86h0m-61 -61h0m65 3h0m-17 12h0m-11 59h0m-52 -82h0m27 44h0" stroke-width="3.6"/><path d="M15 113h0m7 -29h0m97 -36h0m-99 27h0m9 31h0m81 -1h0m12 -59h0m-75 23h0m97 14h0m-109 40h0m100 -22h0m-40 -64h0m-44 82h0m6 -7h0m100 -46h0m-87 39h0m32 30h0m33 -50h0m18 8h0m-86 -9h0" stroke-width="4.7"/></g><g fill="none" stroke="#f0a050" stroke-linecap="round" filter="url(#b1)" opacity="0.8"><path d="M245 46h0m-49 -17h0m21 51h0m-9 -23h0m24 13h0m-5 -40h0m-22 -2h0m16 -8h0m-7 -3h0m16 14h0m-10 -22h0m-7 65h0m-29 -78h0m38 30h0m-9 5h0" stroke-width="3.6"/><path d="M177 47h0m4 11h0m15 -27h0m-2 -4h0m2 48h0m32 -39h0m-16 -2h0" stroke-width="5.8"/><path d="M207 48h0m1 -12h0m-12 -2h0m-17 -21h0m14 -1h0m-13 26h0" stroke-width="4.7"/></g><g fill="none" stroke="#c8e8e0" stroke-linecap="round" filter="url(#b2)" opacity="0.55"><path d="M133 92h0m-9 0h0m-36 -27h0m-32 15h0m22 -6h0m14 39h0m-19 -53h0m-48 22h0m59 -24h0m28 11h0m38 63h0m-83 -33h0m-20 -14h0m76 -24h0m-49 30h0m7 34h0" stroke-width="7.2"/><path d="M76 65h0m-43 23h0m64 -17h0m20 -16h0m-74 21h0m13 2h0m13 -24h0m48 46h0m-12 4h0m23 0h0m-86 20h0m137 -42h0m-55 31h0m-64 -58h0m59 90h0m58 -49h0m-70 29h0" stroke-width="6.0"/><path d="M180 106h0m-92 -8h0m32 -27h0m-64 55h0m93 -53h0m-86 26h0m4 -31h0" stroke-width="4.7"/></g><g fill="none" stroke="#40b070" stroke-linecap="round" filter="url(#b1)" opacity="0.6"><path d="M135 102h0m-27 6h0m-12 22h0m-14 -96h0m50 101h0m-35 -39h0m46 3h0m2 -24h0m-15 24h0m-92 -12h0m47 -10h0m-49 18h0m83 9h0" stroke-width="3.5"/><path d="M159 119h0m-77 -41h0m-10 -25h0m35 91h0m-10 -24h0m-63 3h0m23 -10h0m32 -68h0m24 48h0m-30 -31h0m-9 9h0m-9 -22h0" stroke-width="5.3"/><path d="M33 101h0m149 5h0m-125 -13h0m108 3h0m-136 -9h0" stroke-width="4.4"/></g><path d="M80 30L100 22L125 14L140 18" fill="none" stroke="#f04030" stroke-width="2.5" stroke-linecap="round" stroke-linejoin="round" filter="url(#b1)" opacity="0.9"/><path d="M2 30L12 36" fill="none" stroke="#f04030" stroke-width="2.5" stroke-linecap="round" stroke-linejoin="round" filter="url(#b1)" opacity="0.9"/></g><rect x="848.2" y="1737" width="242.4" height="246" filter="url(#grain0)" style="mix-blend-mode:soft-light" opacity=".4"/><rect x="987.8" y="1885.3" width="104.80000000000018" height="99.70000000000005" fill="#fff"/><clipPath id="di4"><rect x="992.2" y="1890" width="98.40000000000009" height="93"/></clipPath><g clip-path="url(#di4)"><rect x="992.2" y="1890" width="98.40000000000009" height="93" fill="#3a48d4"/><g transform="translate(992.2 1890)" filter="url(#wob0)"><rect x="-5" y="-5" width="115" height="110" fill="#2e38bc"/><g fill="none" stroke="#4a5cf4" stroke-linecap="round" filter="url(#b2)" opacity="0.9"><path d="M44 21h0m-33 11h0m83 14h0m-4 -43h0m-46 21h0m49 13h0m-36 -11h0m37 18h0m-63 -27h0m5 -6h0" stroke-width="11.1"/><path d="M74 20h0m-25 -8h0m-29 21h0m3 -16h0m71 1h0m-1 11h0m-86 -15h0m30 13h0m-10 7h0m34 -30h0m-14 38h0" stroke-width="15.0"/><path d="M6 17h0m91 16h0m-25 -15h0m-11 29h0m-48 -44h0m30 27h0m-32 -27h0m-4 44h0m47 -41h0" stroke-width="13.1"/></g><g fill="none" stroke="#4254e8" stroke-linecap="round" filter="url(#b2)" opacity="0.9"><path d="M25 73h0m19 -17h0m45 6h0m-77 -4h0m65 15h0m-45 -8h0m13 1h0m-27 23h0m42 -3h0" stroke-width="15.0"/><path d="M20 76h0m31 5h0m36 3h0m-32 1h0m7 0h0m-58 -20h0m68 6h0m13 9h0m12 -5h0" stroke-width="13.2"/><path d="M46 91h0m-40 6h0m-2 -35h0m79 34h0m-36 -38h0m21 22h0m-54 -27h0m-4 28h0m38 -7h0m34 15h0m10 -33h0m-52 1h0" stroke-width="11.4"/></g><g fill="none" stroke="#2c3080" stroke-linecap="round" filter="url(#b1)" opacity="0.7"><path d="M66 6h0m-42 6h0m55 7h0m20 -3h0m-82 -17h0m43 23h0m16 -20h0m-46 12h0" stroke-width="6.0"/><path d="M62 7h0m-14 -4h0m2 14h0m19 -9h0m5 5h0m-36 9h0" stroke-width="4.8"/><path d="M79 17h0m-64 -5h0m-12 4h0m71 4h0m-33 -19h0m57 24h0m-96 -11h0m15 3h0" stroke-width="7.1"/></g><path d="M0 28L20 36L40 34L58 46L80 40" fill="none" stroke="#f0c060" stroke-width="4" stroke-linecap="round" stroke-linejoin="round" filter="url(#b1)" opacity="0.9"/><path d="M20 36L12 55L4 70" fill="none" stroke="#f0a070" stroke-width="3.5" stroke-linecap="round" stroke-linejoin="round" filter="url(#b1)" opacity="0.85"/><path d="M58 46L70 66L88 80" fill="none" stroke="#f0b060" stroke-width="3.5" stroke-linecap="round" stroke-linejoin="round" filter="url(#b1)" opacity="0.85"/><path d="M40 34L50 20L66 12" fill="none" stroke="#a0e0c0" stroke-width="3" stroke-linecap="round" stroke-linejoin="round" filter="url(#b1)" opacity="0.7"/><ellipse cx="94" cy="84" rx="3" ry="5" fill="#f03030" filter="url(#b1)"/></g><rect x="992.2" y="1890" width="98.40000000000009" height="93" filter="url(#grain1)" style="mix-blend-mode:soft-light" opacity=".5"/></g><path d="M861.3 1968.1H940.8M1027.6 1964.5H1069.9" stroke="#fff" stroke-width="2.7"/></g>
</g>
<g id="panel_e">
<defs>
<filter id="wobe0" filterUnits="userSpaceOnUse" x="-40" y="-40" width="340" height="340"><feTurbulence type="fractalNoise" baseFrequency="0.06" numOctaves="2" seed="3" result="t"/><feDisplacementMap in="SourceGraphic" in2="t" scale="7" xChannelSelector="R" yChannelSelector="G"/></filter>
<filter id="wobe1" filterUnits="userSpaceOnUse" x="-40" y="-40" width="340" height="340"><feTurbulence type="fractalNoise" baseFrequency="0.06" numOctaves="2" seed="8" result="t"/><feDisplacementMap in="SourceGraphic" in2="t" scale="7" xChannelSelector="R" yChannelSelector="G"/></filter>
</defs>
<text x="1143.5" y="1730.4" font-size="38.5">e</text>
<text transform="translate(1205.94 1730.4) scale(1.0851 1)" font-size="25"><tspan fill="#e8202a">SP-B</tspan><tspan fill="#22dd33">SARS-S</tspan><tspan fill="#1c28d8">DAPI</tspan></text>
<text transform="translate(1461.74 1730.4) scale(1.0859 1)" font-size="25"><tspan fill="#e8202a">SP-C</tspan><tspan fill="#22dd33">SARS-S</tspan><tspan fill="#1c28d8">DAPI</tspan></text>
<text transform="translate(1188 1894.88) rotate(-90) scale(0.9673 1)" font-size="28.5">Mock</text>
<text transform="translate(1188 2194.99) rotate(-90) scale(0.9545 1)" font-size="28.5">SARS-CoV-2</text>
<clipPath id="ec1"><rect x="1193.3" y="1737.8" width="248.8" height="247.7"/></clipPath><g clip-path="url(#ec1)"><rect x="1193.3" y="1737.8" width="248.8" height="247.7" fill="#a2a2a2"/><g transform="translate(1193.3 1737.8)" filter="url(#wobe0)"><ellipse cx="60" cy="200" rx="60" ry="60" fill="#8c8c8c" filter="url(#b8)" opacity="0.6"/><ellipse cx="200" cy="60" rx="70" ry="70" fill="#b0b0b0" filter="url(#b8)" opacity="0.5"/><g fill="none" stroke="#585858" stroke-linecap="round" filter="url(#b1)" opacity="0.55"><path d="M34 215h0m91 8h0m-86 -164h0m147 -34h0m-81 -3h0m-77 126h0m116 74h0m7 -185h0m97 210h0m-72 -11h0m-154 -80h0m21 53h0m-30 33h0m-10 -227h0m237 73h0m-100 -54h0m-119 159h0m113 32h0m-41 -7h0" stroke-width="4.8"/><path d="M10 94h0m42 -24h0m-2 150h0m-44 -115h0m189 -99h0m-18 55h0m37 30h0m-198 21h0m205 -70h0m14 91h0m-228 113h0m172 -220h0" stroke-width="7.9"/><path d="M126 229h0m-112 -135h0m-12 -73h0m2 0h0m225 83h0m-70 -81h0m79 -10h0m-86 -2h0m41 10h0m22 124h0m-115 99h0m-95 -46h0m235 -99h0m-5 145h0m-43 -26h0m-167 -206h0m-22 32h0m155 -31h0" stroke-width="6.4"/></g><g fill="none" stroke="#c4c4c4" stroke-linecap="round" filter="url(#b1)" opacity="0.8"><path d="M34 215h0m91 8h0m-86 -164h0m147 -34h0m-81 -3h0m-77 126h0m116 74h0m7 -185h0m97 210h0m-72 -11h0m-154 -80h0m21 53h0m-30 33h0m-10 -227h0m237 73h0m-100 -54h0m-119 159h0m113 32h0m-41 -7h0" stroke-width="2.2"/><path d="M10 94h0m42 -24h0m-2 150h0m-44 -115h0m189 -99h0m-18 55h0m37 30h0m-198 21h0m205 -70h0m14 91h0m-228 113h0m172 -220h0" stroke-width="5.3"/><path d="M126 229h0m-112 -135h0m-12 -73h0m2 0h0m225 83h0m-70 -81h0m79 -10h0m-86 -2h0m41 10h0m22 124h0m-115 99h0m-95 -46h0m235 -99h0m-5 145h0m-43 -26h0m-167 -206h0m-22 32h0m155 -31h0" stroke-width="3.8"/></g><path d="M35 95C30 50 70 25 110 30C150 34 170 60 185 85C215 110 218 150 205 180C190 215 150 225 115 205C70 180 40 140 35 95Z" fill="#5a5a78" stroke="#303040" stroke-width="5" filter="url(#b2)"/><path d="M35 95C30 50 70 25 110 30C150 34 170 60 185 85C215 110 218 150 205 180C190 215 150 225 115 205C70 180 40 140 35 95Z" fill="#8a88a8" filter="url(#b2)" transform="translate(6 6) scale(.95)"/><ellipse cx="154" cy="159" rx="50" ry="46" fill="#5858c8" filter="url(#b4)" opacity="0.9" transform="rotate(40 154 159)"/><ellipse cx="92" cy="90" rx="52" ry="50" fill="none" stroke="#e83c9c" stroke-width="14" filter="url(#b2)" opacity="0.95"/><ellipse cx="95" cy="92" rx="42" ry="40" fill="#8c8aa0" filter="url(#b2)" opacity="0.9"/><path d="M50 130L75 170L115 198L150 205" fill="none" stroke="#c050c8" stroke-width="12" stroke-linecap="round" stroke-linejoin="round" filter="url(#b2)" opacity="0.9"/><path d="M120 135L150 110L178 100" fill="none" stroke="#e84070" stroke-width="5" stroke-linecap="round" stroke-linejoin="round" filter="url(#b2)" opacity="0.8"/><g fill="none" stroke="#6868c8" stroke-linecap="round" filter="url(#b1)" opacity="0.8"><path d="M110 63h0m-10 24h0m-30 -15h0m41 27h0m-12 2h0m35 -7h0m-67 4h0m10 -8h0m10 19h0m-22 -10h0m14 -1h0m8 8h0m29 9h0m-37 8h0m48 -32h0m-60 -22h0m10 47h0m30 -11h0m-34 2h0m33 -17h0m-4 15h0" stroke-width="4.1"/><path d="M66 97h0m48 9h0m-16 -30h0m-16 2h0m19 12h0m-3 -7h0m16 -15h0m1 31h0m14 -25h0m-49 28h0m40 -32h0m-47 16h0m50 25h0m-38 -21h0m17 -2h0m15 -13h0m-31 -4h0m-2 42h0m44 -19h0m-4 -20h0m-23 15h0m0 -28h0m9 21h0m-18 23h0m-35 -2h0" stroke-width="3.4"/><path d="M99 70h0m35 16h0m-28 14h0m13 -11h0m-12 -33h0m19 15h0m-55 22h0m37 29h0m-42 -20h0m3 -18h0m32 18h0m-43 -5h0m54 15h0m-14 2h0m-13 -45h0m49 23h0m-49 0h0m39 -6h0m-2 -15h0m-16 47h0m-43 -34h0m36 16h0m-20 -16h0m41 13h0" stroke-width="4.8"/></g><g fill="none" stroke="#c8c8d0" stroke-linecap="round" filter="url(#b1)" opacity="0.8"><path d="M105 122h0m4 -37h0m-34 5h0m23 11h0m-28 -37h0m43 1h0m10 37h0m-9 -24h0m-40 -13h0m16 29h0m-27 3h0" stroke-width="3.4"/><path d="M63 75h0m15 19h0m9 -11h0m-7 -8h0m9 15h0m-3 -29h0m23 12h0m-8 15h0m3 -22h0m21 48h0m-40 -19h0m-20 21h0m47 -27h0" stroke-width="4.0"/><path d="M119 86h0m-2 -1h0m-36 39h0m41 -30h0m-34 15h0m9 -9h0m-33 -19h0m21 35h0m2 -40h0m-25 36h0m71 -30h0m-17 14h0m1 16h0m-41 -35h0m-13 10h0m31 -31h0" stroke-width="2.7"/></g><g fill="none" stroke="#5058e0" stroke-linecap="round" filter="url(#b1)" opacity="0.9"><path d="M154 125h0m-29 18h0m61 4h0m-40 46h0m-24 -58h0m23 27h0m2 25h0m44 -16h0m0 9h0m-34 -59h0m4 24h0m-34 20h0m43 8h0m14 -36h0m9 39h0m-68 -13h0m52 -12h0m-26 13h0m14 34h0m7 -28h0m-25 -35h0m-6 -4h0m41 57h0m-30 9h0m18 -64h0m-9 35h0m-27 -40h0m16 3h0m27 34h0m-19 7h0m-29 2h0m-2 -18h0m9 6h0m24 -5h0m-31 21h0m-4 -35h0m18 32h0" stroke-width="4.4"/><path d="M137 125h0m-14 16h0m29 7h0m-21 -17h0m-8 26h0m52 -32h0m18 28h0m-36 12h0m19 16h0m-12 -46h0m2 30h0m-28 -21h0m8 -19h0m-3 21h0m-23 -1h0m38 16h0m11 33h0m-5 -51h0m30 -1h0m-25 46h0m-19 -57h0m19 68h0m-36 -37h0m42 -7h0m16 15h0m-42 29h0m5 -67h0m-37 15h0m74 1h0m-16 29h0m-49 3h0m55 -28h0m-8 22h0m-34 -44h0" stroke-width="5.2"/><path d="M179 173h0m13 -22h0m-36 11h0m1 -28h0m21 60h0m-37 -9h0m-5 5h0m41 -36h0m-49 20h0m61 3h0m-50 -4h0m-14 -20h0m26 27h0m2 21h0m11 -65h0m-51 36h0m47 -4h0m-8 8h0m0 8h0m43 -25h0m-42 -30h0m33 31h0m-34 -10h0m-27 1h0m25 33h0m-19 -32h0m29 14h0m18 -36h0m-18 44h0m-35 -10h0m11 24h0m13 -2h0m46 -10h0m-65 -4h0m-14 -9h0m80 -6h0m-53 29h0m48 -14h0m-62 -35h0" stroke-width="6.0"/></g><g fill="none" stroke="#b0b0d8" stroke-linecap="round" filter="url(#b1)" opacity="0.7"><path d="M191 137h0m-25 32h0m-47 16h0m39 -1h0m-3 -26h0m-22 -27h0m35 39h0m-5 -7h0m25 7h0m-72 -20h0m39 2h0m-27 3h0m24 11h0" stroke-width="2.7"/><path d="M181 126h0m-63 40h0m37 23h0m31 -20h0m-11 -3h0m-13 -16h0m-12 7h0m29 -7h0m14 32h0m-65 -38h0" stroke-width="3.4"/><path d="M156 125h0m7 40h0m-1 -44h0m-16 37h0m17 -10h0m-25 -16h0m5 18h0m29 7h0m-50 -19h0m46 1h0m-13 56h0m34 -32h0m-33 -19h0m-1 -2h0m-16 4h0m55 -2h0m-53 29h0" stroke-width="4.0"/></g><g fill="none" stroke="#ff70c0" stroke-linecap="round" filter="url(#b1)" opacity="0.7"><path d="M42 86h0m41 -41h0m-12 90h0m71 -57h0m-81 -27h0m85 41h0m-24 39h0m-76 -63h0m63 -20h0m15 10h0m6 -1h0m8 7h0m-71 66h0" stroke-width="4.5"/><path d="M137 78h0m-42 58h0m48 -35h0m-97 -37h0m54 -22h0m8 95h0m-55 -23h0m78 -57h0m10 48h0m-93 -2h0m69 -59h0m21 42h0m-25 -38h0m-54 83h0m11 -82h0m-25 51h0m83 -48h0" stroke-width="6.5"/><path d="M97 43h0m-5 -3h0m-16 3h0m-37 56h0m60 -57h0m22 85h0m-4 -77h0m-60 72h0m-18 -33h0m5 -13h0m1 39h0m96 -15h0m-8 16h0m-90 -7h0m50 -69h0" stroke-width="5.5"/></g><ellipse cx="25" cy="119" rx="8" ry="8" fill="#5860d0" filter="url(#b2)"/></g><rect x="1193.3" y="1737.8" width="248.8" height="247.7" filter="url(#grain0)" style="mix-blend-mode:soft-light" opacity=".45"/><rect x="1344.2" y="1886.1" width="99.89999999999986" height="101.40000000000009" fill="#fff"/><clipPath id="ei1"><rect x="1349.4" y="1890.9" width="92.69999999999982" height="94.59999999999991"/></clipPath><g clip-path="url(#ei1)"><rect x="1349.4" y="1890.9" width="92.69999999999982" height="94.59999999999991" fill="#e84aa8"/><g transform="translate(1349.4 1890.9)" filter="url(#wobe1)"><rect x="-5" y="-5" width="110" height="110" fill="#e84aa8"/><path d="M-5 22L30 18L60 8L100 -2" fill="none" stroke="#8a8a8a" stroke-width="26" stroke-linecap="round" stroke-linejoin="round" filter="url(#b2)"/><path d="M-5 30L30 26L62 17L100 8" fill="none" stroke="#282830" stroke-width="9" stroke-linecap="round" stroke-linejoin="round" filter="url(#b2)" opacity="0.95"/><g fill="none" stroke="#f8a0e0" stroke-linecap="round" filter="url(#b1)" opacity="0.8"><path d="M91 60h0m-77 20h0m-3 -37h0m67 -1h0m-15 46h0m-5 10h0m-29 -55h0m0 -8h0m17 54h0m-26 -30h0m8 -18h0m13 46h0m11 -3h0" stroke-width="6.1"/><path d="M95 62h0m-70 -27h0m63 36h0m-46 -8h0m40 20h0m-56 -31h0m32 -7h0m32 22h0m-18 16h0m-60 -40h0m29 19h0m39 -13h0m-17 22h0m-52 3h0m30 -13h0" stroke-width="4.8"/><path d="M76 44h0m14 9h0m-31 34h0m-50 -33h0m7 -15h0m50 1h0m14 38h0m-68 1h0m60 -43h0m-52 20h0m52 -4h0m-11 8h0" stroke-width="7.4"/></g><g fill="none" stroke="#f03070" stroke-linecap="round" filter="url(#b2)" opacity="0.8"><path d="M42 90h0m14 4h0m39 -49h0m-71 25h0m-12 4h0m-14 -5h0m42 -12h0m39 21h0m-20 -47h0m-44 37h0m28 -36h0m56 29h0" stroke-width="11.0"/><path d="M59 66h0m-53 -9h0m77 6h0m-12 -28h0m-13 41h0" stroke-width="9.1"/><path d="M53 91h0m37 -44h0m-78 37h0m68 -1h0m-9 -29h0m-62 31h0m12 2h0m30 -44h0m-34 11h0m42 17h0m-27 -27h0m52 16h0m-79 10h0" stroke-width="7.3"/></g><path d="M0 95L40 88L95 92" fill="none" stroke="#5850d0" stroke-width="16" stroke-linecap="round" stroke-linejoin="round" filter="url(#b4)" opacity="0.9"/><ellipse cx="60" cy="50" rx="10" ry="10" fill="#6860d8" filter="url(#b4)" opacity="0.8"/><ellipse cx="85" cy="70" rx="9" ry="9" fill="#3a3a70" filter="url(#b2)" opacity="0.8"/></g><rect x="1349.4" y="1890.9" width="92.69999999999982" height="94.59999999999991" filter="url(#grain1)" style="mix-blend-mode:soft-light" opacity=".45"/></g><path d="M1207.3 1972.6H1271.7M1371.1 1968.9H1420.8" stroke="#fff" stroke-width="2.7"/></g>
<clipPath id="ec2"><rect x="1455.7" y="1737.8" width="251.4" height="247.7"/></clipPath><g clip-path="url(#ec2)"><rect x="1455.7" y="1737.8" width="251.4" height="247.7" fill="#6b6b6c"/><g transform="translate(1455.7 1737.8)" filter="url(#wobe1)"><ellipse cx="40" cy="60" rx="50" ry="50" fill="#7a7a7a" filter="url(#b8)" opacity="0.5"/><ellipse cx="210" cy="200" rx="70" ry="70" fill="#5e5e5e" filter="url(#b8)" opacity="0.5"/><ellipse cx="109" cy="89" rx="54" ry="52" fill="#5a5660" stroke="#404048" stroke-width="3" filter="url(#b2)"/><ellipse cx="109" cy="89" rx="52" ry="50" fill="none" stroke="#6a4ad0" stroke-width="11" filter="url(#b2)" opacity="0.95"/><path d="M62 110L85 135L115 142L140 134" fill="none" stroke="#f03890" stroke-width="8" stroke-linecap="round" stroke-linejoin="round" filter="url(#b2)" opacity="0.9"/><path d="M70 55L95 40L125 38" fill="none" stroke="#e050b0" stroke-width="6" stroke-linecap="round" stroke-linejoin="round" filter="url(#b2)" opacity="0.85"/><path d="M150 55L162 80L160 105" fill="none" stroke="#4a50e0" stroke-width="8" stroke-linecap="round" stroke-linejoin="round" filter="url(#b2)" opacity="0.9"/><g fill="none" stroke="#5a60f0" stroke-linecap="round" filter="url(#b1)" opacity="0.8"><path d="M156 88h0m-92 5h0m40 43h0m52 -66h0m-26 60h0m-70 -45h0m53 54h0m-52 -62h0m96 10h0m-79 35h0m69 -2h0m-39 -81h0m-35 15h0m45 82h0m-36 -6h0m9 1h0m61 -65h0" stroke-width="6.4"/><path d="M121 40h0m-53 28h0m-7 30h0m96 9h0m-88 9h0m49 -76h0m37 64h0m-15 -52h0m-21 -11h0m40 53h0m-98 -10h0m37 -39h0m52 26h0m-72 52h0m48 -78h0" stroke-width="5.4"/><path d="M72 120h0m20 -75h0m-32 30h0m13 -16h0m82 44h0m-56 -64h0m57 46h0m-20 47h0m-5 -88h0m-71 29h0m79 58h0m-73 -57h0m8 -13h0m2 60h0m16 -77h0m7 -4h0m3 95h0m-8 -94h0" stroke-width="4.5"/></g><g fill="none" stroke="#787488" stroke-linecap="round" filter="url(#b2)" opacity="0.6"><path d="M112 79h0m-14 -8h0m44 4h0m-41 -5h0m15 -16h0m19 52h0m-48 -47h0m56 19h0m-51 38h0m12 -11h0m5 -45h0m-25 34h0m21 -36h0m-9 57h0m30 6h0m-47 -49h0m68 19h0" stroke-width="7.2"/><path d="M98 115h0m4 -33h0m19 26h0m2 13h0m-33 -25h0m-19 -3h0m26 -25h0m-21 19h0m51 17h0m-3 -48h0m-40 55h0m24 -48h0" stroke-width="5.9"/><path d="M82 87h0m57 -11h0m-27 49h0m-5 -55h0m-17 40h0m26 5h0m-41 -16h0m15 0h0m28 -42h0m-40 36h0m13 6h0" stroke-width="4.7"/></g><ellipse cx="30" cy="110" rx="10" ry="8" fill="#606060" filter="url(#b2)" opacity="0.8"/><ellipse cx="20" cy="28" rx="8" ry="14" fill="#7c7c7c" filter="url(#b2)" opacity="0.7"/></g><rect x="1455.7" y="1737.8" width="251.4" height="247.7" filter="url(#grain1)" style="mix-blend-mode:soft-light" opacity=".45"/><rect x="1605.9" y="1886.1" width="103.20000000000005" height="101.40000000000009" fill="#fff"/><clipPath id="ei2"><rect x="1611.4" y="1890.9" width="95.70000000000005" height="94.59999999999991"/></clipPath><g clip-path="url(#ei2)"><rect x="1611.4" y="1890.9" width="95.70000000000005" height="94.59999999999991" fill="#58585a"/><g transform="translate(1611.4 1890.9)" filter="url(#wobe0)"><path d="M-5 25C30 40 60 35 100 5V-5H-5Z" fill="#56505e" filter="url(#b2)"/><path d="M-5 50L25 52L55 40L80 20L100 2" fill="none" stroke="#7a58c8" stroke-width="20" stroke-linecap="round" stroke-linejoin="round" filter="url(#b2)"/><path d="M-5 55L25 57L55 45L80 25L100 8" fill="none" stroke="#f040a0" stroke-width="9" stroke-linecap="round" stroke-linejoin="round" filter="url(#b2)" opacity="0.95"/><path d="M0 62L30 66L62 50L88 30" fill="none" stroke="#c0c0d0" stroke-width="4" stroke-linecap="round" stroke-linejoin="round" filter="url(#b1)" opacity="0.8"/></g><rect x="1611.4" y="1890.9" width="95.70000000000005" height="94.59999999999991" filter="url(#grain2)" style="mix-blend-mode:soft-light" opacity=".45"/></g><path d="M1468.6 1972.6H1533.8M1637.2 1968.9H1686.5" stroke="#fff" stroke-width="2.7"/></g>
<clipPath id="ec3"><rect x="1193.3" y="2000.2" width="248.8" height="248.8"/></clipPath><g clip-path="url(#ec3)"><rect x="1193.3" y="2000.2" width="248.8" height="248.8" fill="#9e9e9e"/><g transform="translate(1193.3 2000.2)" filter="url(#wobe0)"><ellipse cx="200" cy="110" rx="80" ry="80" fill="#b4b4b4" filter="url(#b8)" opacity="0.7"/><ellipse cx="40" cy="230" rx="50" ry="50" fill="#8e8e8e" filter="url(#b8)" opacity="0.5"/><ellipse cx="50" cy="30" rx="70" ry="40" fill="#848484" filter="url(#b8)" opacity="0.75"/><ellipse cx="20" cy="110" rx="25" ry="60" fill="#888888" filter="url(#b8)" opacity="0.6"/><g fill="none" stroke="#5c5c5c" stroke-linecap="round" filter="url(#b1)" opacity="0.55"><path d="M88 18h0m-60 16h0m51 7h0m4 1h0m-38 -36h0m37 34h0m18 -22h0m-77 31h0m7 -38h0m13 -8h0m65 26h0m7 4h0m-114 -6h0m128 0h0m-115 10h0m58 -20h0m-28 19h0m76 -21h0" stroke-width="4.7"/><path d="M97 8h0m-87 7h0m42 25h0m9 10h0m-21 -16h0m58 3h0m-60 -33h0m60 38h0m-86 -10h0m8 16h0m28 -36h0m2 12h0m3 4h0m30 -19h0m40 23h0m-49 -7h0m-26 -3h0m-33 5h0m70 0h0m11 -10h0m-23 10h0m-34 22h0m6 -5h0m-20 -14h0m19 -1h0m-8 10h0" stroke-width="6.0"/><path d="M26 45h0m42 7h0m16 -22h0m-79 -10h0m64 -10h0m-27 1h0m-38 23h0m71 -3h0m8 12h0m-58 -28h0m71 12h0m-11 4h0m-86 -12h0m61 24h0m61 -26h0m-41 3h0" stroke-width="7.3"/></g><g fill="none" stroke="#5c5c5c" stroke-linecap="round" filter="url(#b1)" opacity="0.5"><path d="M34 89h0m-22 -1h0m19 54h0m-16 9h0m3 -95h0m2 64h0m-6 -43h0m8 92h0" stroke-width="6.2"/><path d="M16 156h0m15 -34h0m2 -44h0m-14 65h0m3 -2h0m0 -61h0m-12 -10h0m11 4h0m3 65h0m12 -41h0m-1 -16h0m-2 29h0m-16 30h0m-4 -6h0" stroke-width="5.0"/><path d="M8 127h0m12 -29h0m3 -20h0m11 36h0m-8 4h0m1 -4h0m-1 -3h0m-18 5h0" stroke-width="7.4"/></g><g fill="none" stroke="#606060" stroke-linecap="round" filter="url(#b1)" opacity="0.5"><path d="M95 191h0m15 -24h0m-32 -2h0m34 6h0m-14 0h0m12 -8h0m9 9h0m-43 -4h0m6 13h0m12 -19h0m1 21h0m27 -10h0m-27 2h0" stroke-width="7.1"/><path d="M92 180h0m11 -19h0m5 5h0m-33 7h0m-2 10h0m6 -9h0m16 16h0" stroke-width="4.7"/><path d="M97 181h0m19 -17h0m-36 0h0m3 1h0m4 0h0" stroke-width="5.9"/></g><g fill="none" stroke="#585858" stroke-linecap="round" filter="url(#b1)" opacity="0.55"><path d="M132 42h0m21 85h0m66 85h0m-202 -143h0m227 72h0m-180 60h0m46 19h0m47 -194h0m-13 -2h0m59 72h0m-139 108h0m148 7h0m-8 -74h0m-94 60h0m102 1h0m-2 -73h0m-15 -38h0m-111 129h0m-77 -122h0m217 17h0m-48 -74h0m-118 124h0m0 15h0m86 -59h0m7 -88h0m14 211h0m53 -154h0m-106 70h0m-92 28h0m-6 -39h0m29 -96h0m-25 29h0m224 -49h0m4 3h0m-39 21h0m-199 98h0m-1 -71h0m152 114h0" stroke-width="8.2"/><path d="M196 180h0m-34 28h0m72 -131h0m-197 -52h0m-14 176h0m143 -94h0m-12 -77h0m76 108h0m-51 79h0m-73 -10h0m112 -198h0m-92 227h0m-85 -29h0m1 -185h0m-42 82h0m9 124h0m164 -174h0m13 -32h0m-90 165h0m25 -170h0m107 99h0m-151 -109h0m-71 139h0m212 39h0m-92 -175h0m63 133h0m48 33h0m-169 -167h0m-60 15h0m176 208h0m-125 -66h0m81 39h0m-124 -112h0m126 -62h0m-29 132h0m54 -28h0m-85 106h0m69 -204h0m-3 -6h0m83 197h0m0 -152h0m-121 89h0m109 29h0m8 -128h0m-113 158h0m-112 -146h0" stroke-width="4.9"/><path d="M175 145h0m-38 27h0m98 -121h0m2 139h0m-34 -128h0m37 -19h0m-45 -17h0m-188 -15h0m182 142h0m-7 20h0m-86 -167h0m97 141h0m-56 -116h0m69 39h0m-130 -53h0m143 208h0m-39 -20h0m-163 35h0m149 -54h0m-90 -180h0m171 12h0m-114 24h0m45 191h0m-130 -86h0m100 -144h0m83 84h0m-193 -44h0m100 123h0m103 70h0m-69 -167h0m-141 122h0m124 -75h0m-103 53h0m-35 -122h0m93 144h0m-93 26h0m226 -77h0m3 105h0m-55 -162h0m-179 110h0m166 -147h0m16 133h0m-82 -174h0m-78 214h0m13 6h0m188 -22h0m-69 -178h0m-24 128h0" stroke-width="6.5"/></g><g fill="none" stroke="#c4c4c4" stroke-linecap="round" filter="url(#b1)" opacity="0.8"><path d="M132 42h0m21 85h0m66 85h0m-202 -143h0m227 72h0m-180 60h0m46 19h0m47 -194h0m-13 -2h0m59 72h0m-139 108h0m148 7h0m-8 -74h0m-94 60h0m102 1h0m-2 -73h0m-15 -38h0m-111 129h0m-77 -122h0m217 17h0m-48 -74h0m-118 124h0m0 15h0m86 -59h0m7 -88h0m14 211h0m53 -154h0m-106 70h0m-92 28h0m-6 -39h0m29 -96h0m-25 29h0m224 -49h0m4 3h0m-39 21h0m-199 98h0m-1 -71h0m152 114h0" stroke-width="5.6"/><path d="M196 180h0m-34 28h0m72 -131h0m-197 -52h0m-14 176h0m143 -94h0m-12 -77h0m76 108h0m-51 79h0m-73 -10h0m112 -198h0m-92 227h0m-85 -29h0m1 -185h0m-42 82h0m9 124h0m164 -174h0m13 -32h0m-90 165h0m25 -170h0m107 99h0m-151 -109h0m-71 139h0m212 39h0m-92 -175h0m63 133h0m48 33h0m-169 -167h0m-60 15h0m176 208h0m-125 -66h0m81 39h0m-124 -112h0m126 -62h0m-29 132h0m54 -28h0m-85 106h0m69 -204h0m-3 -6h0m83 197h0m0 -152h0m-121 89h0m109 29h0m8 -128h0m-113 158h0m-112 -146h0" stroke-width="2.3"/><path d="M175 145h0m-38 27h0m98 -121h0m2 139h0m-34 -128h0m37 -19h0m-45 -17h0m-188 -15h0m182 142h0m-7 20h0m-86 -167h0m97 141h0m-56 -116h0m69 39h0m-130 -53h0m143 208h0m-39 -20h0m-163 35h0m149 -54h0m-90 -180h0m171 12h0m-114 24h0m45 191h0m-130 -86h0m100 -144h0m83 84h0m-193 -44h0m100 123h0m103 70h0m-69 -167h0m-141 122h0m124 -75h0m-103 53h0m-35 -122h0m93 144h0m-93 26h0m226 -77h0m3 105h0m-55 -162h0m-179 110h0m166 -147h0m16 133h0m-82 -174h0m-78 214h0m13 6h0m188 -22h0m-69 -178h0m-24 128h0" stroke-width="3.9"/></g><ellipse cx="85" cy="96" rx="58" ry="60" fill="#77758a" stroke="#4a4a50" stroke-width="3" filter="url(#b2)"/><ellipse cx="85" cy="96" rx="52" ry="54" fill="none" stroke="#6a58d8" stroke-width="13" filter="url(#b2)" opacity="0.9"/><path d="M40 120L60 145L90 152L120 140" fill="none" stroke="#e04898" stroke-width="9" stroke-linecap="round" stroke-linejoin="round" filter="url(#b2)" opacity="0.85"/><path d="M100 45L125 65L135 95" fill="none" stroke="#e05090" stroke-width="7" stroke-linecap="round" stroke-linejoin="round" filter="url(#b2)" opacity="0.8"/><ellipse cx="98" cy="92" rx="27" ry="33" fill="#7a7884" filter="url(#b4)" opacity="0.9"/><g fill="none" stroke="#5a5cf0" stroke-linecap="round" filter="url(#b1)" opacity="0.8"><path d="M117 56h0m-82 33h0m3 -1h0m24 54h0m-7 -10h0m4 7h0m23 -90h0m-11 81h0m-11 -68h0m39 3h0m14 1h0m-39 81h0m-13 -78h0m40 58h0m-56 6h0m70 -22h0m-17 38h0m-50 -55h0m29 -33h0m48 25h0m-71 45h0m75 -15h0m-45 -74h0m-29 93h0m60 -3h0m9 -1h0m0 0h0m-71 -63h0m12 0h0m29 -12h0m-53 45h0m53 -51h0m-14 94h0m-18 -83h0m-8 15h0m20 71h0" stroke-width="4.5"/><path d="M110 136h0m-62 -59h0m-7 44h0m52 11h0m19 -8h0m9 -50h0m-71 34h0m79 -16h0m-14 -34h0m-66 40h0m58 -50h0m-58 85h0m-17 -39h0m96 15h0m-92 -38h0m98 2h0m-67 52h0m55 -71h0m-76 71h0m15 -65h0m54 61h0m-18 16h0m-23 -78h0m21 77h0m-12 -92h0m-3 90h0m52 -34h0m-47 -44h0" stroke-width="5.5"/><path d="M114 61h0m-59 19h0m-4 -25h0m17 86h0m41 -90h0m-51 7h0m50 73h0m-53 -66h0m18 -4h0m64 17h0m-81 47h0m9 20h0m56 -83h0m-63 64h0m6 9h0m57 -26h0m-23 24h0m31 -36h0m-51 -46h0m37 -1h0m-40 -1h0m17 101h0m-51 -35h0m13 -56h0m43 -12h0m16 91h0" stroke-width="6.5"/></g><g fill="none" stroke="#b8b8c0" stroke-linecap="round" filter="url(#b1)" opacity="0.7"><path d="M87 104h0m-3 -14h0m7 28h0m22 -43h0m-22 19h0m0 17h0m16 -15h0m-12 -4h0m-2 -31h0m-17 22h0m5 -14h0m36 13h0m-13 -9h0m2 0h0m-21 27h0m-4 -29h0" stroke-width="4.3"/><path d="M72 99h0m26 -28h0m24 22h0m-40 7h0m29 -30h0m-17 41h0m17 -13h0m7 -1h0m-11 -4h0m-18 -32h0m-10 13h0m30 46h0m9 -39h0m-11 -12h0m-15 38h0m6 13h0m-10 1h0m18 -58h0" stroke-width="2.8"/><path d="M101 101h0m10 -14h0m-6 18h0m-5 -29h0m8 41h0m-15 -24h0m13 7h0m8 -18h0m-19 33h0m2 5h0m-3 -41h0" stroke-width="3.6"/></g><g fill="none" stroke="#48484e" stroke-linecap="round" filter="url(#b1)" opacity="0.6"><path d="M77 109h0m18 -14h0m15 -31h0m-14 12h0m-10 42h0m36 -27h0m-25 -7h0m3 -23h0m6 28h0m11 -2h0m-22 36h0" stroke-width="2.9"/><path d="M82 92h0m-2 -16h0m14 39h0m12 1h0m3 -49h0m-14 19h0m22 19h0m-5 -8h0m-34 17h0m17 -8h0m5 -40h0m8 -1h0m-34 29h0m32 -9h0m14 15h0" stroke-width="4.3"/><path d="M109 99h0m-24 -7h0m22 24h0m11 -34h0m-17 -1h0m19 20h0m-40 2h0m21 -24h0m-15 2h0m-8 26h0m-2 -31h0m45 27h0m3 -3h0m-50 7h0" stroke-width="3.6"/></g><g fill="none" stroke="#e070b0" stroke-linecap="round" filter="url(#b1)" opacity="0.55"><path d="M88 131h0m-15 13h0m18 -34h0m-16 -1h0m-3 3h0m11 -12h0m-20 15h0m-6 -36h0m42 42h0m-52 -22h0m11 27h0m42 -44h0m-61 17h0m34 -13h0" stroke-width="3.6"/><path d="M78 80h0m-10 8h0m-20 16h0m36 -23h0m22 19h0m-21 14h0m9 15h0m-15 -12h0m21 -41h0m-5 26h0m-25 38h0m-15 -61h0m36 5h0m-37 26h0m-14 -8h0m16 -26h0m29 10h0" stroke-width="4.4"/><path d="M77 86h0m21 25h0m-42 24h0m7 -7h0m-7 -48h0m23 4h0m-18 61h0m16 -27h0m6 24h0m-11 -29h0m16 -38h0m-8 65h0m-34 -66h0m34 -18h0m-15 18h0m12 54h0m-16 7h0m32 -19h0m-2 -33h0" stroke-width="2.9"/></g><path d="M140 70L145 110L125 145" fill="none" stroke="#70d090" stroke-width="2.5" stroke-linecap="round" stroke-linejoin="round" filter="url(#b1)" opacity="0.7"/><ellipse cx="113" cy="187" rx="12" ry="12" fill="#6a62d0" filter="url(#b2)" opacity="0.9"/><g fill="none" stroke="#d8d0f0" stroke-linecap="round" filter="url(#b1)" opacity="0.7"><path d="M103 187h0m10 11h0m-1 -11h0m-2 -9h0" stroke-width="2.6"/><path d="M114 181h0m3 5h0m-3 8h0m-9 -8h0m7 -9h0m3 8h0m4 1h0" stroke-width="3.7"/><path d="M102 185h0m12 10h0m-3 -7h0" stroke-width="3.1"/></g></g><rect x="1193.3" y="2000.2" width="248.8" height="248.8" filter="url(#grain2)" style="mix-blend-mode:soft-light" opacity=".45"/><rect x="1343.5" y="2150.4" width="100.59999999999991" height="100.59999999999991" fill="#fff"/><clipPath id="ei3"><rect x="1348.6" y="2155.9" width="93.5" height="93.09999999999991"/></clipPath><g clip-path="url(#ei3)"><rect x="1348.6" y="2155.9" width="93.5" height="93.09999999999991" fill="#9a9a9a"/><g transform="translate(1348.6 2155.9)" filter="url(#wobe1)"><g fill="none" stroke="#606060" stroke-linecap="round" filter="url(#b1)" opacity="0.6"><path d="M85 0h0m-35 19h0m33 7h0m-56 -18h0m44 16h0m5 -24h0m-23 24h0m-6 -22h0m3 7h0m-7 22h0m27 -16h0m-18 16h0m-41 -31h0m40 21h0m-40 3h0m-6 -5h0m40 18h0m24 -43h0m4 20h0m-35 -23h0m-25 16h0m54 7h0m1 -18h0m-27 19h0m22 -23h0" stroke-width="6.0"/><path d="M52 6h0m-37 25h0m63 -6h0m7 -17h0m-28 14h0m-31 -11h0m23 -4h0m-1 0h0m35 8h0m-3 12h0m-42 3h0m10 -22h0m26 -11h0m-33 40h0m-4 -45h0" stroke-width="7.3"/><path d="M78 8h0m-61 11h0m-4 -11h0m26 18h0m9 10h0m21 2h0m-2 -14h0m-72 -3h0m33 -16h0m-7 26h0m27 -3h0m-9 -10h0m6 -4h0m-18 2h0m13 -11h0m-26 7h0m75 -5h0m-88 -1h0m79 21h0m-75 -27h0" stroke-width="4.7"/></g><path d="M-5 100V45C20 25 70 22 105 50V100Z" fill="#6a60d0" filter="url(#b2)"/><path d="M-5 46L25 30L60 26L105 50" fill="none" stroke="#e85060" stroke-width="6" stroke-linecap="round" stroke-linejoin="round" filter="url(#b2)" opacity="0.85"/><g fill="none" stroke="#4a4af0" stroke-linecap="round" filter="url(#b1)" opacity="0.8"><path d="M48 89h0m47 -14h0m-44 -21h0m-30 9h0m-10 18h0m47 3h0m18 8h0m7 -40h0m7 38h0m-39 -22h0m-22 -11h0m47 28h0m9 -38h0m-18 1h0m-5 48h0m-47 -29h0m62 20h0m-44 -45h0m-8 52h0m-26 -19h0m41 -7h0m9 -28h0m11 29h0m10 -16h0m28 21h0m1 -3h0m-95 -15h0m96 23h0m-84 -8h0" stroke-width="8.3"/><path d="M33 51h0m18 45h0m-16 -5h0m22 -8h0m-33 -28h0m36 33h0m-37 -2h0m-11 -26h0m26 18h0m22 -24h0m-18 43h0m16 -48h0m2 24h0m1 -5h0m-65 -2h0m14 3h0m15 -23h0m29 25h0m-40 -3h0m44 -1h0m-9 -13h0m-44 28h0" stroke-width="5.7"/><path d="M42 98h0m-16 -45h0m16 -10h0m-14 20h0m30 8h0m-61 -3h0m8 15h0m26 -17h0m32 3h0m3 -16h0m-33 32h0m-19 2h0m48 -42h0m7 16h0m-37 29h0m11 -49h0m-10 35h0m8 -12h0m38 -11h0" stroke-width="7.0"/></g><g fill="none" stroke="#f0a0d0" stroke-linecap="round" filter="url(#b1)" opacity="0.7"><path d="M61 57h0m31 2h0m-15 13h0m-41 8h0m13 9h0m28 -2h0m-60 -10h0m31 -2h0m37 -3h0" stroke-width="5.4"/><path d="M7 87h0m10 -31h0m-3 0h0m18 26h0m23 -35h0m-42 37h0m10 -5h0m-2 0h0m50 16h0m20 -14h0m-9 -28h0m-7 43h0m-9 -11h0m-38 6h0m36 -5h0" stroke-width="4.5"/><path d="M36 68h0m-14 14h0m40 8h0m-27 -5h0m-3 -22h0m15 -1h0m9 25h0m16 -10h0m-58 -15h0m41 -6h0m49 8h0m-49 -9h0m1 21h0m-40 -18h0m12 10h0m50 21h0" stroke-width="3.5"/></g><g fill="none" stroke="#d8d8e8" stroke-linecap="round" filter="url(#b1)" opacity="0.7"><path d="M15 81h0m54 -16h0m-32 -19h0m-38 32h0m47 21h0m3 -50h0m15 26h0m-58 1h0m88 -2h0m-97 -2h0m8 -7h0" stroke-width="3.5"/><path d="M18 58h0m65 17h0m17 -8h0m-14 1h0m-10 -21h0m-31 47h0m-33 -9h0m42 -17h0m7 -18h0" stroke-width="4.6"/><path d="M88 80h0m-57 12h0m37 -25h0m-58 9h0m61 14h0m-41 0h0m-4 -17h0m27 -20h0m-14 -7h0m11 20h0" stroke-width="4.1"/></g></g><rect x="1348.6" y="2155.9" width="93.5" height="93.09999999999991" filter="url(#grain0)" style="mix-blend-mode:soft-light" opacity=".45"/></g><path d="M1209.1 2232.1H1273.5M1372.9 2229.2H1424.4" stroke="#fff" stroke-width="2.7"/></g>
<clipPath id="ec4"><rect x="1455.7" y="2000.2" width="251.4" height="248.8"/></clipPath><g clip-path="url(#ec4)"><rect x="1455.7" y="2000.2" width="251.4" height="248.8" fill="#a4a4a4"/><g transform="translate(1455.7 2000.2)" filter="url(#wobe1)"><ellipse cx="60" cy="60" rx="60" ry="60" fill="#b4b4b4" filter="url(#b8)" opacity="0.5"/><ellipse cx="200" cy="200" rx="60" ry="60" fill="#969696" filter="url(#b8)" opacity="0.5"/><g fill="none" stroke="#585858" stroke-linecap="round" filter="url(#b1)" opacity="0.55"><path d="M72 125h0m-34 50h0m140 47h0m11 -218h0m-141 160h0m161 -155h0m-4 106h0m-53 -88h0m76 184h0m-183 27h0m135 -113h0m-23 14h0m-152 -79h0m35 16h0m114 69h0m-71 -136h0m-83 36h0m7 178h0" stroke-width="4.9"/><path d="M92 155h0m-73 -135h0m204 107h0m-76 -88h0m-74 156h0m6 -33h0m34 -147h0m43 97h0m-123 -76h0m191 -23h0m19 218h0m-182 -43h0m119 -38h0m-138 -7h0m167 17h0m-12 -82h0m52 -30h0m-248 191h0m171 -200h0" stroke-width="8.1"/><path d="M36 26h0m19 -14h0m-14 46h0m148 22h0m1 -73h0m60 41h0m-160 110h0m113 16h0m17 -106h0m-3 13h0m-198 40h0m219 -44h0m-67 9h0m-134 150h0m-31 -135h0m177 113h0" stroke-width="6.5"/></g><g fill="none" stroke="#c4c4c4" stroke-linecap="round" filter="url(#b1)" opacity="0.8"><path d="M72 125h0m-34 50h0m140 47h0m11 -218h0m-141 160h0m161 -155h0m-4 106h0m-53 -88h0m76 184h0m-183 27h0m135 -113h0m-23 14h0m-152 -79h0m35 16h0m114 69h0m-71 -136h0m-83 36h0m7 178h0" stroke-width="2.3"/><path d="M92 155h0m-73 -135h0m204 107h0m-76 -88h0m-74 156h0m6 -33h0m34 -147h0m43 97h0m-123 -76h0m191 -23h0m19 218h0m-182 -43h0m119 -38h0m-138 -7h0m167 17h0m-12 -82h0m52 -30h0m-248 191h0m171 -200h0" stroke-width="5.5"/><path d="M36 26h0m19 -14h0m-14 46h0m148 22h0m1 -73h0m60 41h0m-160 110h0m113 16h0m17 -106h0m-3 13h0m-198 40h0m219 -44h0m-67 9h0m-134 150h0m-31 -135h0m177 113h0" stroke-width="3.9"/></g><g fill="none" stroke="#6a6a6a" stroke-linecap="round" filter="url(#b1)" opacity="0.75"><path d="M157 68h0m-4 -5h0m-11 3h0m15 -21h0m-21 2h0m2 13h0m19 9h0m-2 2h0m2 -9h0" stroke-width="6.5"/><path d="M144 58h0m18 -19h0m-4 28h0m0 -33h0m-12 -1h0m6 1h0m4 14h0m-19 -3h0m17 1h0m4 13h0m-9 -16h0" stroke-width="4.7"/><path d="M151 54h0m-5 2h0m12 10h0m-16 -23h0m11 -4h0m2 24h0m-2 -24h0m2 2h0m-8 12h0m5 -2h0" stroke-width="5.6"/></g><g fill="none" stroke="#606060" stroke-linecap="round" filter="url(#b1)" opacity="0.75"><path d="M55 96h0m-5 -6h0m15 9h0m-17 -5h0m1 10h0m1 1h0m0 -14h0m0 1h0" stroke-width="4.6"/><path d="M65 89h0m-24 8h0m-1 -5h0m3 -1h0m3 7h0m23 2h0m-17 -7h0m3 13h0" stroke-width="6.4"/><path d="M52 89h0m-4 13h0m19 -4h0m-14 -14h0m-5 15h0m-7 -1h0m16 7h0m-8 -3h0m11 2h0m-10 0h0" stroke-width="5.5"/></g><g fill="none" stroke="#606060" stroke-linecap="round" filter="url(#b1)" opacity="0.75"><path d="M193 136h0m17 -10h0m0 6h0m4 -8h0m-16 9h0m0 -9h0m6 2h0m-11 7h0m5 -6h0" stroke-width="6.5"/><path d="M210 129h0m-18 -6h0m-5 9h0m12 4h0m-8 -9h0m17 -4h0m-14 11h0" stroke-width="4.8"/><path d="M209 122h0m-15 2h0m16 -4h0m6 8h0m-12 2h0m-11 3h0" stroke-width="5.7"/></g><g fill="none" stroke="#686868" stroke-linecap="round" filter="url(#b1)" opacity="0.7"><path d="M30 145h0m0 -5h0m-4 1h0m5 11h0m-6 -4h0" stroke-width="6.5"/><path d="M35 137h0m2 4h0m-1 -4h0m-4 7h0m-5 -3h0" stroke-width="4.6"/><path d="M27 144h0m5 9h0m1 -4h0m6 -5h0" stroke-width="5.5"/></g><g fill="none" stroke="#686868" stroke-linecap="round" filter="url(#b1)" opacity="0.7"><path d="M243 64h0m6 -20h0m-4 3h0" stroke-width="6.3"/><path d="M244 54h0m3 -16h0m-7 -4h0m0 13h0" stroke-width="5.4"/><path d="M246 44h0m-3 -2h0m2 -6h0" stroke-width="4.5"/></g><ellipse cx="103" cy="79" rx="44" ry="42" fill="#6a5cd8" stroke="#90c0a0" stroke-width="3" filter="url(#b2)"/><path d="M66 100L85 116L110 120L135 108" fill="none" stroke="#d0e090" stroke-width="6" stroke-linecap="round" stroke-linejoin="round" filter="url(#b2)" opacity="0.8"/><path d="M68 90L88 108L112 110" fill="none" stroke="#f050a0" stroke-width="9" stroke-linecap="round" stroke-linejoin="round" filter="url(#b2)" opacity="0.85"/><g fill="none" stroke="#4a48f0" stroke-linecap="round" filter="url(#b1)" opacity="0.85"><path d="M112 74h0m-21 -20h0m48 24h0m-17 17h0m-45 1h0m41 2h0m3 -49h0m-27 17h0m-2 4h0m-9 -20h0m-16 13h0m1 3h0m8 -1h0m20 -11h0m-13 36h0m-3 -30h0m52 21h0m-14 20h0m12 -4h0m-37 -47h0m34 12h0m-55 38h0m7 -5h0m15 -20h0m21 3h0m-3 -28h0m-5 0h0m-9 5h0m35 29h0m-15 -29h0m-51 31h0m46 21h0m9 -26h0m-8 17h0m19 3h0m-13 -8h0m4 16h0m0 -6h0m-36 4h0m25 6h0m-4 -64h0m13 -3h0" stroke-width="4.5"/><path d="M129 68h0m-32 9h0m23 4h0m15 -14h0m-48 12h0m30 26h0m-40 -40h0m33 -19h0m28 30h0m-12 18h0m-36 -18h0m16 -21h0m-18 58h0m42 -49h0m-12 43h0m-29 -9h0m40 -46h0m9 25h0m-65 -9h0m41 44h0m-15 -35h0m7 -14h0m4 14h0m-9 -36h0m-9 64h0m-4 -28h0m35 14h0m-27 -49h0m-11 49h0m32 -28h0m16 13h0m-1 16h0" stroke-width="5.5"/><path d="M88 80h0m15 36h0m-37 -44h0m41 36h0m-1 -63h0m-16 48h0m2 -18h0m37 -3h0m-26 -29h0m-16 44h0m5 5h0m28 2h0m-24 -28h0m4 5h0m1 20h0m0 -35h0m-24 46h0m58 -38h0m-55 -7h0m38 22h0m-3 30h0m-13 2h0m25 -32h0m-15 14h0m18 -19h0m-4 18h0m-11 -28h0m-43 -6h0m33 35h0m-29 10h0m23 -12h0m-5 -14h0m29 -17h0m-8 1h0m-3 49h0m-7 -10h0" stroke-width="6.5"/></g><g fill="none" stroke="#f070c0" stroke-linecap="round" filter="url(#b1)" opacity="0.7"><path d="M89 98h0m11 17h0m17 -40h0m-17 1h0m16 -2h0m-46 0h0m58 20h0m-10 -22h0m-39 24h0m26 -36h0m11 39h0m-20 0h0m1 -33h0m-17 7h0m0 20h0m31 -30h0m16 2h0m-14 3h0m-46 21h0" stroke-width="3.5"/><path d="M138 86h0m-3 -12h0m-21 26h0m-34 -30h0m35 45h0m-21 -13h0m-7 -27h0m9 18h0m-21 6h0" stroke-width="5.4"/><path d="M76 86h0m7 -11h0m0 5h0m-10 -4h0m37 -19h0m-33 21h0m15 5h0m-17 -13h0m13 29h0m-4 13h0m33 -53h0m-15 49h0m-2 -39h0m-30 13h0m26 34h0m0 -22h0m40 -11h0" stroke-width="4.5"/></g><g fill="none" stroke="#d0d0f0" stroke-linecap="round" filter="url(#b1)" opacity="0.7"><path d="M103 59h0m5 54h0m-10 -70h0m4 1h0m-27 16h0m31 -14h0m34 41h0m-21 -16h0m20 22h0m-8 -39h0m-13 47h0m-21 -58h0m4 25h0m30 -12h0" stroke-width="4.0"/><path d="M112 78h0m30 -2h0m-45 8h0m32 -25h0m-29 9h0m-8 17h0m30 -28h0m-30 30h0m-11 3h0m-3 -40h0" stroke-width="3.4"/><path d="M92 63h0m1 21h0m11 -16h0m7 19h0m0 3h0m-3 -9h0" stroke-width="2.8"/></g><ellipse cx="66" cy="110" rx="5" ry="5" fill="#5040a0" filter="url(#b1)"/></g><rect x="1455.7" y="2000.2" width="251.4" height="248.8" filter="url(#grain0)" style="mix-blend-mode:soft-light" opacity=".45"/><rect x="1605.9" y="2150.4" width="103.20000000000005" height="100.59999999999991" fill="#fff"/><clipPath id="ei4"><rect x="1611" y="2155.9" width="96.10000000000014" height="93.09999999999991"/></clipPath><g clip-path="url(#ei4)"><rect x="1611" y="2155.9" width="96.10000000000014" height="93.09999999999991" fill="#a0a0a0"/><g transform="translate(1611 2155.9)" filter="url(#wobe0)"><path d="M-5 -5H105V40C95 70 50 80 -5 70Z" fill="#6a58d8" filter="url(#b2)"/><path d="M-5 72L30 76L70 66L98 42L104 20" fill="none" stroke="#d8e8a0" stroke-width="5" stroke-linecap="round" stroke-linejoin="round" filter="url(#b2)" opacity="0.9"/><path d="M-5 64L30 68L66 58L92 36" fill="none" stroke="#f060b0" stroke-width="8" stroke-linecap="round" stroke-linejoin="round" filter="url(#b2)" opacity="0.8"/><g fill="none" stroke="#4640f0" stroke-linecap="round" filter="url(#b1)" opacity="0.85"><path d="M62 28h0m-16 0h0m-17 15h0m58 -8h0m5 10h0m-63 -19h0m16 35h0m27 -60h0m-29 21h0m-8 -3h0m64 8h0m-82 0h0m66 15h0m3 -28h0m-42 15h0m-22 24h0m56 -35h0m-61 -2h0m45 0h0m-38 34h0m40 -1h0m-45 8h0m26 -7h0m-20 3h0m47 -55h0m-4 49h0m-7 -20h0m-7 25h0m-41 -6h0m60 11h0m9 -20h0m-12 16h0m17 -36h0m-25 14h0m6 10h0" stroke-width="8.3"/><path d="M7 49h0m63 -41h0m2 29h0m-52 14h0m-20 -19h0m13 -25h0m43 22h0m-38 -16h0m38 26h0m-24 8h0m23 -24h0m-46 -10h0m37 50h0m-19 -16h0m-25 -11h0m2 -1h0m56 0h0m-41 -14h0m26 39h0m42 -41h0m-79 5h0m73 -12h0" stroke-width="5.7"/><path d="M69 25h0m-11 -21h0m-39 37h0m79 -25h0m-52 6h0m39 1h0m-6 11h0m-20 -24h0m-15 -6h0m46 7h0m-16 3h0m22 5h0m-38 -9h0m-16 2h0m18 -11h0m-9 11h0m-7 -7h0m42 45h0m-80 -2h0m64 -23h0m-2 22h0m-31 1h0m-5 -26h0" stroke-width="7.0"/></g><g fill="none" stroke="#f080d0" stroke-linecap="round" filter="url(#b1)" opacity="0.7"><path d="M82 30h0m5 10h0m-43 9h0m32 10h0m-78 -14h0m24 11h0m13 2h0m-3 -21h0m56 -8h0m-89 18h0m42 0h0" stroke-width="4.5"/><path d="M65 43h0m-8 -12h0m-37 -11h0m59 7h0m-27 22h0m-20 -14h0m-21 25h0m52 -15h0m26 6h0m-22 -13h0m-20 -24h0m19 6h0" stroke-width="5.4"/><path d="M7 35h0m3 2h0m38 -12h0m0 16h0m-8 -7h0m9 -4h0m15 7h0m-33 -7h0m1 22h0m33 11h0m-17 -8h0m-3 -36h0m-19 -2h0m59 24h0m-87 6h0m38 -25h0m-15 12h0" stroke-width="3.6"/></g><g fill="none" stroke="#e0e0f8" stroke-linecap="round" filter="url(#b1)" opacity="0.7"><path d="M50 63h0m5 -63h0m1 46h0m-52 -13h0m-2 1h0m25 -14h0m44 3h0" stroke-width="3.3"/><path d="M51 37h0m-4 11h0m28 2h0m-44 -47h0m27 60h0m-1 -32h0m-22 -19h0m53 -5h0m3 28h0m-8 -17h0m5 6h0" stroke-width="4.4"/><path d="M9 52h0m68 -12h0m-70 -11h0m66 -4h0m-46 25h0m19 6h0m1 -54h0" stroke-width="3.9"/></g></g><rect x="1611" y="2155.9" width="96.10000000000014" height="93.09999999999991" filter="url(#grain1)" style="mix-blend-mode:soft-light" opacity=".45"/></g><path d="M1468.6 2232.1H1533.8M1645.3 2229.2H1695" stroke="#fff" stroke-width="2.7"/></g>
</g>
<g id="panel_f">
<text x="7.5" y="2064.9" font-size="38.5">f</text>
<path d="M73.9 2108.3V2471.5H520.4" fill="none" stroke="#000" stroke-width="1.3"/>
<path d="M73.9 2114.4h-3.2M73.9 2209.6h-3.2M73.9 2305.5h-3.2M73.9 2400.7h-3.2M133.2 2471.5v3.2M214 2471.5v3.2M294.3 2471.5v3.2M375 2471.5v3.2M455.7 2471.5v3.2" stroke="#333" stroke-width="1.1"/>
<g font-size="12.6" fill="#4d4d4d">
<text x="67.8" y="2118.9" text-anchor="end">0.6</text>
<text x="67.8" y="2214.1" text-anchor="end">0.3</text>
<text x="67.8" y="2310.0" text-anchor="end">0.0</text>
<text x="67.8" y="2405.2" text-anchor="end">−0.3</text>
<text x="133.2" y="2489.2" text-anchor="middle">0.406</text>
<text x="214" y="2489.2" text-anchor="middle">0.407</text>
<text x="294.3" y="2489.2" text-anchor="middle">0.408</text>
<text x="375" y="2489.2" text-anchor="middle">0.409</text>
<text x="455.7" y="2489.2" text-anchor="middle">0.410</text>
</g>
<text transform="translate(281.45 2514.9) scale(0.9571 1)" font-size="27">PC1</text>
<text transform="translate(43.8 2307.69) rotate(-90) scale(0.9714 1)" font-size="27">PC2</text>
<ellipse cx="303.6" cy="2170.4" rx="226" ry="70" transform="rotate(-7 303.6 2170.4)" fill="none" stroke="#000" stroke-width="1.5"/>
<ellipse cx="376.3" cy="2428.9" rx="70.5" ry="33" transform="rotate(9 376.3 2428.9)" fill="none" stroke="#000" stroke-width="1.5"/>
<circle cx="94" cy="2182.6" r="2.4" fill="#2a1fc0"/>
<circle cx="172.1" cy="2234" r="2.4" fill="#2a1fc0"/>
<circle cx="499.9" cy="2124.7" r="2.4" fill="#2a1fc0"/>
<circle cx="326.3" cy="2408.3" r="2.4" fill="#e02020"/>
<circle cx="356" cy="2454.8" r="2.4" fill="#e02020"/>
<circle cx="437.4" cy="2428.5" r="2.4" fill="#e02020"/>
<circle cx="387.6" cy="2268.2" r="1.9" fill="#fff" stroke="#2a1fc0" stroke-width="1.2"/>
<circle cx="388.3" cy="2299.1" r="1.9" fill="#fff" stroke="#e02020" stroke-width="1.2"/>
<text transform="translate(398.47 2277) scale(0.9796 1)" font-size="26.6">SARS-CoV-2</text>
<text transform="translate(396.79 2307.4) scale(0.9766 1)" font-size="26.6">Mock</text>
</g>
</svg>
</body></html>
